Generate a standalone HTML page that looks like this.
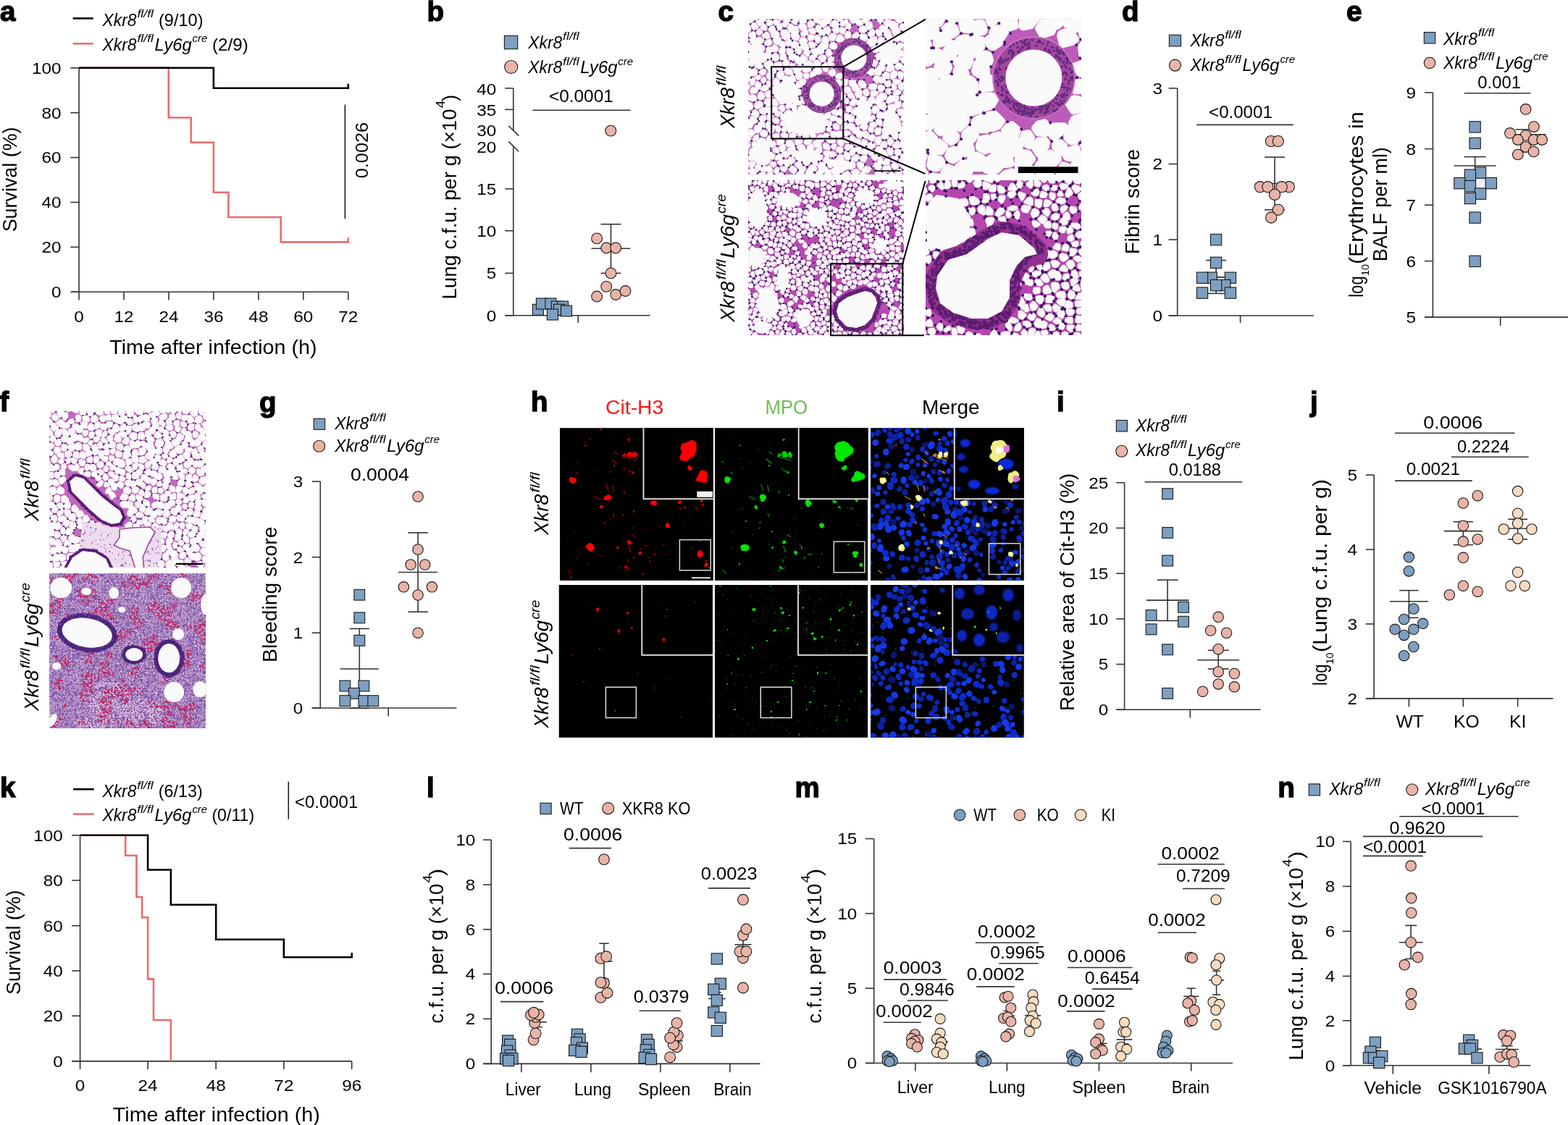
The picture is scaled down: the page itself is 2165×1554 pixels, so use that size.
<!DOCTYPE html><html><head><meta charset="utf-8"><title>Figure</title><style>html,body{margin:0;padding:0;background:#fff;}body{width:2165px;height:1554px;overflow:hidden;}svg{display:block;}</style></head><body><svg width="2165" height="1554" viewBox="0 0 2165 1554" font-family='"Liberation Sans", Arial, sans-serif'><text x="-0.1" y="29.2" font-size="38.6" font-weight="bold" stroke="#000" stroke-width="1.3">a</text>
<line x1="100.6" y1="25.4" x2="128.7" y2="25.4" stroke="#000" stroke-width="2.6"/>
<line x1="100.6" y1="60.3" x2="128.7" y2="60.3" stroke="#ec6b6b" stroke-width="2.6"/>
<text><tspan x="141.6" y="35.7" font-size="24" font-style="italic" textLength="47" lengthAdjust="spacingAndGlyphs">Xkr8</tspan><tspan x="189.4" y="24.1" font-size="14" font-style="italic" textLength="22.6" lengthAdjust="spacingAndGlyphs">fl/fl</tspan><tspan x="219" y="35.7" font-size="24" textLength="61.5" lengthAdjust="spacingAndGlyphs">(9/10)</tspan></text>
<text><tspan x="141.6" y="70" font-size="24" font-style="italic" textLength="47" lengthAdjust="spacingAndGlyphs">Xkr8</tspan><tspan x="189.4" y="58.4" font-size="14" font-style="italic" textLength="22.6" lengthAdjust="spacingAndGlyphs">fl/fl</tspan><tspan x="213.6" y="70" font-size="24" font-style="italic" textLength="51.2" lengthAdjust="spacingAndGlyphs">Ly6g</tspan><tspan x="265.6" y="58.4" font-size="14" font-style="italic" textLength="20.8" lengthAdjust="spacingAndGlyphs">cre</tspan><tspan x="293" y="70" font-size="24" textLength="49.8" lengthAdjust="spacingAndGlyphs">(2/9)</tspan></text>
<line x1="109.1" y1="93.8" x2="109.1" y2="403.2" stroke="#333333" stroke-width="1.6"/>
<line x1="97.3" y1="93.8" x2="109.1" y2="93.8" stroke="#333333" stroke-width="1.6"/>
<text x="84.6" y="101.7" font-size="22.5" text-anchor="end" textLength="40.54" lengthAdjust="spacingAndGlyphs">100</text>
<line x1="97.3" y1="155.68" x2="109.1" y2="155.68" stroke="#333333" stroke-width="1.6"/>
<text x="84.6" y="163.58" font-size="22.5" text-anchor="end" textLength="27.03" lengthAdjust="spacingAndGlyphs">80</text>
<line x1="97.3" y1="217.56" x2="109.1" y2="217.56" stroke="#333333" stroke-width="1.6"/>
<text x="84.6" y="225.46" font-size="22.5" text-anchor="end" textLength="27.03" lengthAdjust="spacingAndGlyphs">60</text>
<line x1="97.3" y1="279.44" x2="109.1" y2="279.44" stroke="#333333" stroke-width="1.6"/>
<text x="84.6" y="287.34" font-size="22.5" text-anchor="end" textLength="27.03" lengthAdjust="spacingAndGlyphs">40</text>
<line x1="97.3" y1="341.32" x2="109.1" y2="341.32" stroke="#333333" stroke-width="1.6"/>
<text x="84.6" y="349.22" font-size="22.5" text-anchor="end" textLength="27.03" lengthAdjust="spacingAndGlyphs">20</text>
<line x1="97.3" y1="403.2" x2="109.1" y2="403.2" stroke="#333333" stroke-width="1.6"/>
<text x="84.6" y="411.1" font-size="22.5" text-anchor="end" textLength="13.51" lengthAdjust="spacingAndGlyphs">0</text>
<line x1="98.5" y1="403.2" x2="480.8" y2="403.2" stroke="#333333" stroke-width="1.6"/>
<line x1="109.1" y1="403.2" x2="109.1" y2="414.4" stroke="#333333" stroke-width="1.6"/>
<line x1="171.05" y1="403.2" x2="171.05" y2="414.4" stroke="#333333" stroke-width="1.6"/>
<line x1="233" y1="403.2" x2="233" y2="414.4" stroke="#333333" stroke-width="1.6"/>
<line x1="294.95" y1="403.2" x2="294.95" y2="414.4" stroke="#333333" stroke-width="1.6"/>
<line x1="356.9" y1="403.2" x2="356.9" y2="414.4" stroke="#333333" stroke-width="1.6"/>
<line x1="418.85" y1="403.2" x2="418.85" y2="414.4" stroke="#333333" stroke-width="1.6"/>
<line x1="480.8" y1="403.2" x2="480.8" y2="414.4" stroke="#333333" stroke-width="1.6"/>
<text x="109.1" y="445" font-size="22.5" text-anchor="middle" textLength="13.51" lengthAdjust="spacingAndGlyphs">0</text>
<text x="171.05" y="445" font-size="22.5" text-anchor="middle" textLength="27.03" lengthAdjust="spacingAndGlyphs">12</text>
<text x="233" y="445" font-size="22.5" text-anchor="middle" textLength="27.03" lengthAdjust="spacingAndGlyphs">24</text>
<text x="294.95" y="445" font-size="22.5" text-anchor="middle" textLength="27.03" lengthAdjust="spacingAndGlyphs">36</text>
<text x="356.9" y="445" font-size="22.5" text-anchor="middle" textLength="27.03" lengthAdjust="spacingAndGlyphs">48</text>
<text x="418.85" y="445" font-size="22.5" text-anchor="middle" textLength="27.03" lengthAdjust="spacingAndGlyphs">60</text>
<text x="480.8" y="445" font-size="22.5" text-anchor="middle" textLength="27.03" lengthAdjust="spacingAndGlyphs">72</text>
<text x="151.2" y="489" font-size="27" textLength="286.5" lengthAdjust="spacingAndGlyphs">Time after infection (h)</text>
<text x="22.9" y="320.3" font-size="27" textLength="144.8" lengthAdjust="spacingAndGlyphs" transform="rotate(-90 22.9 320.3)">Survival (%)</text>
<path d="M109.1,93.8 H232.8 V162.5 H263.8 V196.7 H294.9 V265.7 H315.4 V300 H387.8 V334.4 H480.8 V328.3" stroke="#ec6b6b" stroke-width="2.6" fill="none" />
<path d="M109.1,93.8 H294.9 V121.8 H480.8 V115.8" stroke="#000" stroke-width="2.6" fill="none" />
<line x1="476.4" y1="144.5" x2="476.4" y2="302.3" stroke="#111" stroke-width="1.5"/>
<text x="508.3" y="246.2" font-size="24" textLength="77.2" lengthAdjust="spacingAndGlyphs" transform="rotate(-90 508.3 246.2)">0.0026</text>
<text x="589.4" y="28.9" font-size="38.6" font-weight="bold" stroke="#000" stroke-width="1.3">b</text>
<rect x="696.4" y="49.4" width="18.3" height="18.3" fill="#7d9fc1" stroke="#1a1a1a" stroke-width="1.1"/>
<circle cx="705.7" cy="92.5" r="9" fill="#e9b4a7" stroke="#1a1a1a" stroke-width="1.1"/>
<text><tspan x="729.3" y="66.8" font-size="24" font-style="italic" textLength="47" lengthAdjust="spacingAndGlyphs">Xkr8</tspan><tspan x="777.1" y="55.2" font-size="14" font-style="italic" textLength="22.6" lengthAdjust="spacingAndGlyphs">fl/fl</tspan></text>
<text><tspan x="729.3" y="101.4" font-size="24" font-style="italic" textLength="47" lengthAdjust="spacingAndGlyphs">Xkr8</tspan><tspan x="777.1" y="89.8" font-size="14" font-style="italic" textLength="22.6" lengthAdjust="spacingAndGlyphs">fl/fl</tspan><tspan x="801.3" y="101.4" font-size="24" font-style="italic" textLength="51.2" lengthAdjust="spacingAndGlyphs">Ly6g</tspan><tspan x="853.3" y="89.8" font-size="14" font-style="italic" textLength="20.8" lengthAdjust="spacingAndGlyphs">cre</tspan></text>
<line x1="708.8" y1="121.9" x2="708.8" y2="180.3" stroke="#333333" stroke-width="1.6"/>
<line x1="708.8" y1="201.9" x2="708.8" y2="435.8" stroke="#333333" stroke-width="1.6"/>
<line x1="702.2" y1="173.8" x2="716.3" y2="187.6" stroke="#333333" stroke-width="1.6"/>
<line x1="702.2" y1="195.4" x2="716.3" y2="209.2" stroke="#333333" stroke-width="1.6"/>
<line x1="697.2" y1="121.9" x2="708.8" y2="121.9" stroke="#333333" stroke-width="1.6"/>
<line x1="697.2" y1="151.3" x2="708.8" y2="151.3" stroke="#333333" stroke-width="1.6"/>
<line x1="697.2" y1="260.9" x2="708.8" y2="260.9" stroke="#333333" stroke-width="1.6"/>
<line x1="697.2" y1="318.7" x2="708.8" y2="318.7" stroke="#333333" stroke-width="1.6"/>
<line x1="697.2" y1="377.4" x2="708.8" y2="377.4" stroke="#333333" stroke-width="1.6"/>
<line x1="697.2" y1="435.8" x2="708.8" y2="435.8" stroke="#333333" stroke-width="1.6"/>
<text x="685.3" y="131.4" font-size="22.5" text-anchor="end" textLength="27.03" lengthAdjust="spacingAndGlyphs">40</text>
<text x="685.3" y="159.6" font-size="22.5" text-anchor="end" textLength="27.03" lengthAdjust="spacingAndGlyphs">35</text>
<text x="685.3" y="188.2" font-size="22.5" text-anchor="end" textLength="27.03" lengthAdjust="spacingAndGlyphs">30</text>
<text x="685.3" y="210.8" font-size="22.5" text-anchor="end" textLength="27.03" lengthAdjust="spacingAndGlyphs">20</text>
<text x="685.3" y="268.8" font-size="22.5" text-anchor="end" textLength="27.03" lengthAdjust="spacingAndGlyphs">15</text>
<text x="685.3" y="326.6" font-size="22.5" text-anchor="end" textLength="27.03" lengthAdjust="spacingAndGlyphs">10</text>
<text x="685.3" y="385.3" font-size="22.5" text-anchor="end" textLength="13.51" lengthAdjust="spacingAndGlyphs">5</text>
<text x="685.3" y="443.7" font-size="22.5" text-anchor="end" textLength="13.51" lengthAdjust="spacingAndGlyphs">0</text>
<line x1="697.2" y1="435.8" x2="897.6" y2="435.8" stroke="#333333" stroke-width="1.6"/>
<line x1="798.3" y1="435.8" x2="798.3" y2="446" stroke="#333333" stroke-width="1.6"/>
<text x="757.9" y="140.5" font-size="23" textLength="89" lengthAdjust="spacingAndGlyphs">&lt;0.0001</text>
<line x1="735.4" y1="152.3" x2="870.6" y2="152.3" stroke="#333333" stroke-width="1.6"/>
<text transform="rotate(-90 629.8 413.5)"><tspan x="629.8" y="413.5" font-size="27" textLength="263" lengthAdjust="spacingAndGlyphs">Lung c.f.u. per g (×10</tspan><tspan x="893.8" y="397.5" font-size="16" textLength="11" lengthAdjust="spacingAndGlyphs">4</tspan><tspan x="903.5" y="413.5" font-size="27" textLength="9" lengthAdjust="spacingAndGlyphs">)</tspan></text>
<line x1="843.5" y1="309.7" x2="843.5" y2="377.4" stroke="#333333" stroke-width="1.6"/>
<line x1="816.6" y1="343.3" x2="870.4" y2="343.3" stroke="#333333" stroke-width="1.6"/>
<line x1="829.6" y1="309.7" x2="857.4" y2="309.7" stroke="#333333" stroke-width="1.6"/>
<line x1="829.6" y1="377.4" x2="857.4" y2="377.4" stroke="#333333" stroke-width="1.6"/>
<rect x="735.4" y="420.3" width="15" height="15" fill="#7d9fc1" stroke="#1a1a1a" stroke-width="1.1"/>
<rect x="740.4" y="412" width="15" height="15" fill="#7d9fc1" stroke="#1a1a1a" stroke-width="1.1"/>
<rect x="752.9" y="412" width="15" height="15" fill="#7d9fc1" stroke="#1a1a1a" stroke-width="1.1"/>
<rect x="761.2" y="416.1" width="15" height="15" fill="#7d9fc1" stroke="#1a1a1a" stroke-width="1.1"/>
<rect x="769.5" y="416.1" width="15" height="15" fill="#7d9fc1" stroke="#1a1a1a" stroke-width="1.1"/>
<rect x="764.5" y="420.3" width="15" height="15" fill="#7d9fc1" stroke="#1a1a1a" stroke-width="1.1"/>
<rect x="774.5" y="422" width="15" height="15" fill="#7d9fc1" stroke="#1a1a1a" stroke-width="1.1"/>
<rect x="755.4" y="427" width="15" height="15" fill="#7d9fc1" stroke="#1a1a1a" stroke-width="1.1"/>
<circle cx="843.3" cy="180.6" r="7.4" fill="#e9b4a7" stroke="#1a1a1a" stroke-width="1.1"/>
<circle cx="824.1" cy="329.4" r="7.4" fill="#e9b4a7" stroke="#1a1a1a" stroke-width="1.1"/>
<circle cx="837.2" cy="342.5" r="7.4" fill="#e9b4a7" stroke="#1a1a1a" stroke-width="1.1"/>
<circle cx="850.2" cy="342.5" r="7.4" fill="#e9b4a7" stroke="#1a1a1a" stroke-width="1.1"/>
<circle cx="843.5" cy="377.4" r="7.4" fill="#e9b4a7" stroke="#1a1a1a" stroke-width="1.1"/>
<circle cx="837.2" cy="395.9" r="7.4" fill="#e9b4a7" stroke="#1a1a1a" stroke-width="1.1"/>
<circle cx="824.1" cy="409.5" r="7.4" fill="#e9b4a7" stroke="#1a1a1a" stroke-width="1.1"/>
<circle cx="850.2" cy="407" r="7.4" fill="#e9b4a7" stroke="#1a1a1a" stroke-width="1.1"/>
<circle cx="863.5" cy="402" r="7.4" fill="#e9b4a7" stroke="#1a1a1a" stroke-width="1.1"/>
<text x="1548.9" y="29" font-size="38.6" font-weight="bold" stroke="#000" stroke-width="1.3">d</text>
<rect x="1614.4" y="48.3" width="16.1" height="15.6" fill="#7d9fc1" stroke="#1a1a1a" stroke-width="1.1"/>
<circle cx="1622.5" cy="90.1" r="8" fill="#e9b4a7" stroke="#1a1a1a" stroke-width="1.1"/>
<text><tspan x="1643.4" y="64.3" font-size="24" font-style="italic" textLength="47" lengthAdjust="spacingAndGlyphs">Xkr8</tspan><tspan x="1691.2" y="52.7" font-size="14" font-style="italic" textLength="22.6" lengthAdjust="spacingAndGlyphs">fl/fl</tspan></text>
<text><tspan x="1643.4" y="98.1" font-size="24" font-style="italic" textLength="47" lengthAdjust="spacingAndGlyphs">Xkr8</tspan><tspan x="1691.2" y="86.5" font-size="14" font-style="italic" textLength="22.6" lengthAdjust="spacingAndGlyphs">fl/fl</tspan><tspan x="1715.4" y="98.1" font-size="24" font-style="italic" textLength="51.2" lengthAdjust="spacingAndGlyphs">Ly6g</tspan><tspan x="1767.4" y="86.5" font-size="14" font-style="italic" textLength="20.8" lengthAdjust="spacingAndGlyphs">cre</tspan></text>
<line x1="1625.7" y1="121.9" x2="1625.7" y2="436" stroke="#333333" stroke-width="1.6"/>
<line x1="1613.6" y1="121.9" x2="1625.7" y2="121.9" stroke="#333333" stroke-width="1.6"/>
<text x="1605" y="129.8" font-size="22.5" text-anchor="end" textLength="13.51" lengthAdjust="spacingAndGlyphs">3</text>
<line x1="1613.6" y1="226.5" x2="1625.7" y2="226.5" stroke="#333333" stroke-width="1.6"/>
<text x="1605" y="234.4" font-size="22.5" text-anchor="end" textLength="13.51" lengthAdjust="spacingAndGlyphs">2</text>
<line x1="1613.6" y1="331.1" x2="1625.7" y2="331.1" stroke="#333333" stroke-width="1.6"/>
<text x="1605" y="339" font-size="22.5" text-anchor="end" textLength="13.51" lengthAdjust="spacingAndGlyphs">1</text>
<line x1="1613.6" y1="436" x2="1625.7" y2="436" stroke="#333333" stroke-width="1.6"/>
<text x="1605" y="443.9" font-size="22.5" text-anchor="end" textLength="13.51" lengthAdjust="spacingAndGlyphs">0</text>
<line x1="1613.6" y1="436" x2="1813.9" y2="436" stroke="#333333" stroke-width="1.6"/>
<line x1="1712.6" y1="436" x2="1712.6" y2="446.1" stroke="#333333" stroke-width="1.6"/>
<text x="1669.1" y="162.8" font-size="23" textLength="87.7" lengthAdjust="spacingAndGlyphs">&lt;0.0001</text>
<line x1="1652.2" y1="172.4" x2="1785.7" y2="172.4" stroke="#333333" stroke-width="1.6"/>
<text x="1573.4" y="351.2" font-size="27" textLength="145.3" lengthAdjust="spacingAndGlyphs" transform="rotate(-90 1573.4 351.2)">Fibrin score</text>
<line x1="1679.1" y1="359.6" x2="1679.1" y2="405.4" stroke="#333333" stroke-width="1.6"/>
<line x1="1652.1" y1="382.9" x2="1706.1" y2="382.9" stroke="#333333" stroke-width="1.6"/>
<line x1="1665.1" y1="359.6" x2="1693.1" y2="359.6" stroke="#333333" stroke-width="1.6"/>
<line x1="1665.1" y1="405.4" x2="1693.1" y2="405.4" stroke="#333333" stroke-width="1.6"/>
<line x1="1760" y1="217.1" x2="1760" y2="289.8" stroke="#333333" stroke-width="1.6"/>
<line x1="1733" y1="253.5" x2="1787" y2="253.5" stroke="#333333" stroke-width="1.6"/>
<line x1="1746" y1="217.1" x2="1774" y2="217.1" stroke="#333333" stroke-width="1.6"/>
<line x1="1746" y1="289.8" x2="1774" y2="289.8" stroke="#333333" stroke-width="1.6"/>
<rect x="1671.45" y="323.45" width="15.3" height="15.3" fill="#7d9fc1" stroke="#1a1a1a" stroke-width="1.1"/>
<rect x="1671.45" y="355.15" width="15.3" height="15.3" fill="#7d9fc1" stroke="#1a1a1a" stroke-width="1.1"/>
<rect x="1665.05" y="376.05" width="15.3" height="15.3" fill="#7d9fc1" stroke="#1a1a1a" stroke-width="1.1"/>
<rect x="1652.35" y="376.05" width="15.3" height="15.3" fill="#7d9fc1" stroke="#1a1a1a" stroke-width="1.1"/>
<rect x="1691.25" y="376.05" width="15.3" height="15.3" fill="#7d9fc1" stroke="#1a1a1a" stroke-width="1.1"/>
<rect x="1683.65" y="386.45" width="15.3" height="15.3" fill="#7d9fc1" stroke="#1a1a1a" stroke-width="1.1"/>
<rect x="1671.45" y="386.45" width="15.3" height="15.3" fill="#7d9fc1" stroke="#1a1a1a" stroke-width="1.1"/>
<rect x="1652.35" y="396.95" width="15.3" height="15.3" fill="#7d9fc1" stroke="#1a1a1a" stroke-width="1.1"/>
<rect x="1691.25" y="396.95" width="15.3" height="15.3" fill="#7d9fc1" stroke="#1a1a1a" stroke-width="1.1"/>
<circle cx="1754.9" cy="195.1" r="7.6" fill="#e9b4a7" stroke="#1a1a1a" stroke-width="1.1"/>
<circle cx="1764.8" cy="195.1" r="7.6" fill="#e9b4a7" stroke="#1a1a1a" stroke-width="1.1"/>
<circle cx="1739.9" cy="258.2" r="7.6" fill="#e9b4a7" stroke="#1a1a1a" stroke-width="1.1"/>
<circle cx="1750.4" cy="258.2" r="7.6" fill="#e9b4a7" stroke="#1a1a1a" stroke-width="1.1"/>
<circle cx="1779.8" cy="258.2" r="7.6" fill="#e9b4a7" stroke="#1a1a1a" stroke-width="1.1"/>
<circle cx="1769.7" cy="258.2" r="7.6" fill="#e9b4a7" stroke="#1a1a1a" stroke-width="1.1"/>
<circle cx="1760" cy="268.8" r="7.6" fill="#e9b4a7" stroke="#1a1a1a" stroke-width="1.1"/>
<circle cx="1764.8" cy="289.8" r="7.6" fill="#e9b4a7" stroke="#1a1a1a" stroke-width="1.1"/>
<circle cx="1755.2" cy="300.5" r="7.6" fill="#e9b4a7" stroke="#1a1a1a" stroke-width="1.1"/>
<text x="1858.9" y="29" font-size="38.6" font-weight="bold" stroke="#000" stroke-width="1.3">e</text>
<rect x="1966.3" y="44.6" width="15.3" height="15.4" fill="#7d9fc1" stroke="#1a1a1a" stroke-width="1.1"/>
<circle cx="1974" cy="86.9" r="7.7" fill="#e9b4a7" stroke="#1a1a1a" stroke-width="1.1"/>
<text><tspan x="1992.9" y="61.6" font-size="24" font-style="italic" textLength="47" lengthAdjust="spacingAndGlyphs">Xkr8</tspan><tspan x="2040.7" y="50" font-size="14" font-style="italic" textLength="22.6" lengthAdjust="spacingAndGlyphs">fl/fl</tspan></text>
<text><tspan x="1992.9" y="94.9" font-size="24" font-style="italic" textLength="47" lengthAdjust="spacingAndGlyphs">Xkr8</tspan><tspan x="2040.7" y="83.3" font-size="14" font-style="italic" textLength="22.6" lengthAdjust="spacingAndGlyphs">fl/fl</tspan><tspan x="2064.9" y="94.9" font-size="24" font-style="italic" textLength="51.2" lengthAdjust="spacingAndGlyphs">Ly6g</tspan><tspan x="2116.9" y="83.3" font-size="14" font-style="italic" textLength="20.8" lengthAdjust="spacingAndGlyphs">cre</tspan></text>
<line x1="1978.4" y1="127.9" x2="1978.4" y2="438.1" stroke="#333333" stroke-width="1.6"/>
<line x1="1967.1" y1="127.9" x2="1978.4" y2="127.9" stroke="#333333" stroke-width="1.6"/>
<text x="1955" y="135.8" font-size="22.5" text-anchor="end" textLength="13.51" lengthAdjust="spacingAndGlyphs">9</text>
<line x1="1967.1" y1="205.6" x2="1978.4" y2="205.6" stroke="#333333" stroke-width="1.6"/>
<text x="1955" y="213.5" font-size="22.5" text-anchor="end" textLength="13.51" lengthAdjust="spacingAndGlyphs">8</text>
<line x1="1967.1" y1="283.2" x2="1978.4" y2="283.2" stroke="#333333" stroke-width="1.6"/>
<text x="1955" y="291.1" font-size="22.5" text-anchor="end" textLength="13.51" lengthAdjust="spacingAndGlyphs">7</text>
<line x1="1967.1" y1="360.6" x2="1978.4" y2="360.6" stroke="#333333" stroke-width="1.6"/>
<text x="1955" y="368.5" font-size="22.5" text-anchor="end" textLength="13.51" lengthAdjust="spacingAndGlyphs">6</text>
<line x1="1967.1" y1="438.1" x2="1978.4" y2="438.1" stroke="#333333" stroke-width="1.6"/>
<text x="1955" y="446" font-size="22.5" text-anchor="end" textLength="13.51" lengthAdjust="spacingAndGlyphs">5</text>
<line x1="1967.1" y1="438.1" x2="2165" y2="438.1" stroke="#333333" stroke-width="1.6"/>
<line x1="2071.7" y1="438.1" x2="2071.7" y2="450.1" stroke="#333333" stroke-width="1.6"/>
<text x="2040.3" y="121.5" font-size="23" textLength="59.6" lengthAdjust="spacingAndGlyphs">0.001</text>
<line x1="2021.8" y1="128.7" x2="2113.5" y2="128.7" stroke="#333333" stroke-width="1.6"/>
<text transform="rotate(-90 1882.2 410.8)"><tspan x="1882.2" y="410.8" font-size="27" textLength="29.5" lengthAdjust="spacingAndGlyphs">log</tspan><tspan x="1912" y="418.8" font-size="15.5" textLength="16" lengthAdjust="spacingAndGlyphs">10</tspan><tspan x="1928" y="410.8" font-size="27" textLength="210.5" lengthAdjust="spacingAndGlyphs">(Erythrocytes in</tspan></text>
<text x="1915" y="361.2" font-size="27" textLength="158" lengthAdjust="spacingAndGlyphs" transform="rotate(-90 1915 361.2)">BALF per ml)</text>
<line x1="2036.6" y1="216.6" x2="2036.6" y2="241.4" stroke="#333333" stroke-width="1.6"/>
<line x1="2007.6" y1="229" x2="2065.6" y2="229" stroke="#333333" stroke-width="1.6"/>
<line x1="2021.6" y1="216.6" x2="2051.6" y2="216.6" stroke="#333333" stroke-width="1.6"/>
<line x1="2021.6" y1="241.4" x2="2051.6" y2="241.4" stroke="#333333" stroke-width="1.6"/>
<line x1="2106.6" y1="178.9" x2="2106.6" y2="192.7" stroke="#333333" stroke-width="1.6"/>
<line x1="2078.6" y1="185.8" x2="2134.6" y2="185.8" stroke="#333333" stroke-width="1.6"/>
<line x1="2092.6" y1="178.9" x2="2120.6" y2="178.9" stroke="#333333" stroke-width="1.6"/>
<line x1="2092.6" y1="192.7" x2="2120.6" y2="192.7" stroke="#333333" stroke-width="1.6"/>
<rect x="2036.35" y="245.45" width="15.3" height="15.3" fill="#eef0f3" stroke="#1a1a1a" stroke-width="1.1"/>
<rect x="2028.95" y="167.75" width="15.3" height="15.3" fill="#7d9fc1" stroke="#1a1a1a" stroke-width="1.1"/>
<rect x="2028.95" y="190.25" width="15.3" height="15.3" fill="#7d9fc1" stroke="#1a1a1a" stroke-width="1.1"/>
<rect x="2036.35" y="230.95" width="15.3" height="15.3" fill="#7d9fc1" stroke="#1a1a1a" stroke-width="1.1"/>
<rect x="2022.25" y="234.15" width="15.3" height="15.3" fill="#7d9fc1" stroke="#1a1a1a" stroke-width="1.1"/>
<rect x="2007.75" y="245.45" width="15.3" height="15.3" fill="#7d9fc1" stroke="#1a1a1a" stroke-width="1.1"/>
<rect x="2051.15" y="245.45" width="15.3" height="15.3" fill="#7d9fc1" stroke="#1a1a1a" stroke-width="1.1"/>
<rect x="2022.25" y="249.45" width="15.3" height="15.3" fill="#7d9fc1" stroke="#1a1a1a" stroke-width="1.1"/>
<rect x="2036.35" y="259.95" width="15.3" height="15.3" fill="#7d9fc1" stroke="#1a1a1a" stroke-width="1.1"/>
<rect x="2022.25" y="266.35" width="15.3" height="15.3" fill="#7d9fc1" stroke="#1a1a1a" stroke-width="1.1"/>
<rect x="2028.95" y="292.95" width="15.3" height="15.3" fill="#7d9fc1" stroke="#1a1a1a" stroke-width="1.1"/>
<rect x="2028.95" y="353.25" width="15.3" height="15.3" fill="#7d9fc1" stroke="#1a1a1a" stroke-width="1.1"/>
<circle cx="2106.6" cy="150.9" r="7.3" fill="#e9b4a7" stroke="#1a1a1a" stroke-width="1.1"/>
<circle cx="2117.9" cy="175.1" r="7.3" fill="#e9b4a7" stroke="#1a1a1a" stroke-width="1.1"/>
<circle cx="2085" cy="183.9" r="7.3" fill="#e9b4a7" stroke="#1a1a1a" stroke-width="1.1"/>
<circle cx="2106.6" cy="187" r="7.3" fill="#e9b4a7" stroke="#1a1a1a" stroke-width="1.1"/>
<circle cx="2095.8" cy="193.1" r="7.3" fill="#e9b4a7" stroke="#1a1a1a" stroke-width="1.1"/>
<circle cx="2117.6" cy="193.1" r="7.3" fill="#e9b4a7" stroke="#1a1a1a" stroke-width="1.1"/>
<circle cx="2129.1" cy="193.1" r="7.3" fill="#e9b4a7" stroke="#1a1a1a" stroke-width="1.1"/>
<circle cx="2106.6" cy="203.1" r="7.3" fill="#e9b4a7" stroke="#1a1a1a" stroke-width="1.1"/>
<circle cx="2117.6" cy="209.5" r="7.3" fill="#e9b4a7" stroke="#1a1a1a" stroke-width="1.1"/>
<circle cx="2095.8" cy="213.5" r="7.3" fill="#e9b4a7" stroke="#1a1a1a" stroke-width="1.1"/>
<text x="357.9" y="569.3" font-size="38.6" font-weight="bold" stroke="#000" stroke-width="1.3">g</text>
<rect x="433.3" y="578.2" width="15.4" height="15.2" fill="#7d9fc1" stroke="#1a1a1a" stroke-width="1.1"/>
<circle cx="440.7" cy="616.2" r="8" fill="#e9b4a7" stroke="#1a1a1a" stroke-width="1.1"/>
<text><tspan x="462.2" y="593.4" font-size="24" font-style="italic" textLength="47" lengthAdjust="spacingAndGlyphs">Xkr8</tspan><tspan x="510" y="581.8" font-size="14" font-style="italic" textLength="22.6" lengthAdjust="spacingAndGlyphs">fl/fl</tspan></text>
<text><tspan x="462.2" y="623.9" font-size="24" font-style="italic" textLength="47" lengthAdjust="spacingAndGlyphs">Xkr8</tspan><tspan x="510" y="612.3" font-size="14" font-style="italic" textLength="22.6" lengthAdjust="spacingAndGlyphs">fl/fl</tspan><tspan x="534.2" y="623.9" font-size="24" font-style="italic" textLength="51.2" lengthAdjust="spacingAndGlyphs">Ly6g</tspan><tspan x="586.2" y="612.3" font-size="14" font-style="italic" textLength="20.8" lengthAdjust="spacingAndGlyphs">cre</tspan></text>
<text x="484" y="663.9" font-size="23.5" textLength="81" lengthAdjust="spacingAndGlyphs">0.0004</text>
<line x1="442.3" y1="665.1" x2="442.3" y2="978" stroke="#333333" stroke-width="1.6"/>
<line x1="430.7" y1="665.1" x2="442.3" y2="665.1" stroke="#333333" stroke-width="1.6"/>
<text x="418.2" y="673" font-size="22.5" text-anchor="end" textLength="13.51" lengthAdjust="spacingAndGlyphs">3</text>
<line x1="430.7" y1="769.6" x2="442.3" y2="769.6" stroke="#333333" stroke-width="1.6"/>
<text x="418.2" y="777.5" font-size="22.5" text-anchor="end" textLength="13.51" lengthAdjust="spacingAndGlyphs">2</text>
<line x1="430.7" y1="874.2" x2="442.3" y2="874.2" stroke="#333333" stroke-width="1.6"/>
<text x="418.2" y="882.1" font-size="22.5" text-anchor="end" textLength="13.51" lengthAdjust="spacingAndGlyphs">1</text>
<line x1="430.7" y1="978" x2="442.3" y2="978" stroke="#333333" stroke-width="1.6"/>
<text x="418.2" y="985.9" font-size="22.5" text-anchor="end" textLength="13.51" lengthAdjust="spacingAndGlyphs">0</text>
<line x1="430.7" y1="978" x2="630.5" y2="978" stroke="#333333" stroke-width="1.6"/>
<line x1="536.2" y1="978" x2="536.2" y2="989.5" stroke="#333333" stroke-width="1.6"/>
<text x="382.2" y="915" font-size="27" textLength="187.5" lengthAdjust="spacingAndGlyphs" transform="rotate(-90 382.2 915)">Bleeding score</text>
<line x1="496.3" y1="868.4" x2="496.3" y2="978" stroke="#333333" stroke-width="1.6"/>
<line x1="469.6" y1="924" x2="523" y2="924" stroke="#333333" stroke-width="1.6"/>
<line x1="482.8" y1="868.4" x2="509.8" y2="868.4" stroke="#333333" stroke-width="1.6"/>
<line x1="482.8" y1="978" x2="509.8" y2="978" stroke="#333333" stroke-width="1.6"/>
<line x1="577.1" y1="735.9" x2="577.1" y2="845.2" stroke="#333333" stroke-width="1.6"/>
<line x1="550.1" y1="790.5" x2="604.1" y2="790.5" stroke="#333333" stroke-width="1.6"/>
<line x1="563.4" y1="735.9" x2="590.8" y2="735.9" stroke="#333333" stroke-width="1.6"/>
<line x1="563.4" y1="845.2" x2="590.8" y2="845.2" stroke="#333333" stroke-width="1.6"/>
<rect x="488.9" y="814.3" width="14.8" height="14.8" fill="#7d9fc1" stroke="#1a1a1a" stroke-width="1.1"/>
<rect x="488.9" y="845.9" width="14.8" height="14.8" fill="#7d9fc1" stroke="#1a1a1a" stroke-width="1.1"/>
<rect x="488.9" y="877.4" width="14.8" height="14.8" fill="#7d9fc1" stroke="#1a1a1a" stroke-width="1.1"/>
<rect x="469" y="940.1" width="14.8" height="14.8" fill="#7d9fc1" stroke="#1a1a1a" stroke-width="1.1"/>
<rect x="495" y="940.1" width="14.8" height="14.8" fill="#7d9fc1" stroke="#1a1a1a" stroke-width="1.1"/>
<rect x="481.5" y="950.4" width="14.8" height="14.8" fill="#7d9fc1" stroke="#1a1a1a" stroke-width="1.1"/>
<rect x="469" y="960.7" width="14.8" height="14.8" fill="#7d9fc1" stroke="#1a1a1a" stroke-width="1.1"/>
<rect x="495" y="960.7" width="14.8" height="14.8" fill="#7d9fc1" stroke="#1a1a1a" stroke-width="1.1"/>
<rect x="507.9" y="960.7" width="14.8" height="14.8" fill="#7d9fc1" stroke="#1a1a1a" stroke-width="1.1"/>
<circle cx="577.1" cy="686" r="7.2" fill="#e9b4a7" stroke="#1a1a1a" stroke-width="1.1"/>
<circle cx="577.1" cy="759" r="7.2" fill="#e9b4a7" stroke="#1a1a1a" stroke-width="1.1"/>
<circle cx="567.1" cy="780" r="7.2" fill="#e9b4a7" stroke="#1a1a1a" stroke-width="1.1"/>
<circle cx="586.7" cy="780" r="7.2" fill="#e9b4a7" stroke="#1a1a1a" stroke-width="1.1"/>
<circle cx="557.4" cy="810.8" r="7.2" fill="#e9b4a7" stroke="#1a1a1a" stroke-width="1.1"/>
<circle cx="596.4" cy="810.8" r="7.2" fill="#e9b4a7" stroke="#1a1a1a" stroke-width="1.1"/>
<circle cx="577.1" cy="822" r="7.2" fill="#e9b4a7" stroke="#1a1a1a" stroke-width="1.1"/>
<circle cx="577.1" cy="874.2" r="7.2" fill="#e9b4a7" stroke="#1a1a1a" stroke-width="1.1"/>
<text x="1458.9" y="568.3" font-size="38.6" font-weight="bold" stroke="#000" stroke-width="1.3">i</text>
<rect x="1541.3" y="580.5" width="15.1" height="15.5" fill="#7d9fc1" stroke="#1a1a1a" stroke-width="1.1"/>
<circle cx="1548.7" cy="623.3" r="8" fill="#e9b4a7" stroke="#1a1a1a" stroke-width="1.1"/>
<text><tspan x="1568" y="596" font-size="24" font-style="italic" textLength="47" lengthAdjust="spacingAndGlyphs">Xkr8</tspan><tspan x="1615.8" y="584.4" font-size="14" font-style="italic" textLength="22.6" lengthAdjust="spacingAndGlyphs">fl/fl</tspan></text>
<text><tspan x="1568" y="630.4" font-size="24" font-style="italic" textLength="47" lengthAdjust="spacingAndGlyphs">Xkr8</tspan><tspan x="1615.8" y="618.8" font-size="14" font-style="italic" textLength="22.6" lengthAdjust="spacingAndGlyphs">fl/fl</tspan><tspan x="1640" y="630.4" font-size="24" font-style="italic" textLength="51.2" lengthAdjust="spacingAndGlyphs">Ly6g</tspan><tspan x="1692" y="618.8" font-size="14" font-style="italic" textLength="20.8" lengthAdjust="spacingAndGlyphs">cre</tspan></text>
<text x="1613.7" y="657" font-size="23.5" textLength="72.3" lengthAdjust="spacingAndGlyphs">0.0188</text>
<line x1="1580.6" y1="665.7" x2="1715" y2="665.7" stroke="#333333" stroke-width="1.6"/>
<line x1="1552.6" y1="666.7" x2="1552.6" y2="980.3" stroke="#333333" stroke-width="1.6"/>
<line x1="1541.3" y1="666.7" x2="1552.6" y2="666.7" stroke="#333333" stroke-width="1.6"/>
<text x="1530.4" y="674.6" font-size="22.5" text-anchor="end" textLength="27.03" lengthAdjust="spacingAndGlyphs">25</text>
<line x1="1541.3" y1="729.42" x2="1552.6" y2="729.42" stroke="#333333" stroke-width="1.6"/>
<text x="1530.4" y="737.32" font-size="22.5" text-anchor="end" textLength="27.03" lengthAdjust="spacingAndGlyphs">20</text>
<line x1="1541.3" y1="792.14" x2="1552.6" y2="792.14" stroke="#333333" stroke-width="1.6"/>
<text x="1530.4" y="800.04" font-size="22.5" text-anchor="end" textLength="27.03" lengthAdjust="spacingAndGlyphs">15</text>
<line x1="1541.3" y1="854.86" x2="1552.6" y2="854.86" stroke="#333333" stroke-width="1.6"/>
<text x="1530.4" y="862.76" font-size="22.5" text-anchor="end" textLength="27.03" lengthAdjust="spacingAndGlyphs">10</text>
<line x1="1541.3" y1="917.58" x2="1552.6" y2="917.58" stroke="#333333" stroke-width="1.6"/>
<text x="1530.4" y="925.48" font-size="22.5" text-anchor="end" textLength="13.51" lengthAdjust="spacingAndGlyphs">5</text>
<line x1="1541.3" y1="980.3" x2="1552.6" y2="980.3" stroke="#333333" stroke-width="1.6"/>
<text x="1530.4" y="988.2" font-size="22.5" text-anchor="end" textLength="13.51" lengthAdjust="spacingAndGlyphs">0</text>
<line x1="1541.3" y1="980.3" x2="1740.7" y2="980.3" stroke="#333333" stroke-width="1.6"/>
<line x1="1643.3" y1="980.3" x2="1643.3" y2="991.6" stroke="#333333" stroke-width="1.6"/>
<text x="1483.3" y="981.9" font-size="27.5" textLength="328.1" lengthAdjust="spacingAndGlyphs" transform="rotate(-90 1483.3 981.9)">Relative area of Cit-H3 (%)</text>
<line x1="1612.1" y1="801.1" x2="1612.1" y2="857.4" stroke="#333333" stroke-width="1.6"/>
<line x1="1582.8" y1="829.1" x2="1641.4" y2="829.1" stroke="#333333" stroke-width="1.6"/>
<line x1="1597.6" y1="801.1" x2="1626.6" y2="801.1" stroke="#333333" stroke-width="1.6"/>
<line x1="1597.6" y1="857.4" x2="1626.6" y2="857.4" stroke="#333333" stroke-width="1.6"/>
<line x1="1682.2" y1="898.3" x2="1682.2" y2="924" stroke="#333333" stroke-width="1.6"/>
<line x1="1653.2" y1="911.8" x2="1711.2" y2="911.8" stroke="#333333" stroke-width="1.6"/>
<line x1="1667.7" y1="898.3" x2="1696.7" y2="898.3" stroke="#333333" stroke-width="1.6"/>
<line x1="1667.7" y1="924" x2="1696.7" y2="924" stroke="#333333" stroke-width="1.6"/>
<rect x="1604.7" y="674.7" width="14.8" height="14.8" fill="#7d9fc1" stroke="#1a1a1a" stroke-width="1.1"/>
<rect x="1604.7" y="728.5" width="14.8" height="14.8" fill="#7d9fc1" stroke="#1a1a1a" stroke-width="1.1"/>
<rect x="1604.7" y="767.1" width="14.8" height="14.8" fill="#7d9fc1" stroke="#1a1a1a" stroke-width="1.1"/>
<rect x="1626.6" y="831.4" width="14.8" height="14.8" fill="#7d9fc1" stroke="#1a1a1a" stroke-width="1.1"/>
<rect x="1582.2" y="842.6" width="14.8" height="14.8" fill="#7d9fc1" stroke="#1a1a1a" stroke-width="1.1"/>
<rect x="1626.6" y="851.3" width="14.8" height="14.8" fill="#7d9fc1" stroke="#1a1a1a" stroke-width="1.1"/>
<rect x="1582.2" y="861.9" width="14.8" height="14.8" fill="#7d9fc1" stroke="#1a1a1a" stroke-width="1.1"/>
<rect x="1604.7" y="889.9" width="14.8" height="14.8" fill="#7d9fc1" stroke="#1a1a1a" stroke-width="1.1"/>
<rect x="1604.7" y="950.4" width="14.8" height="14.8" fill="#7d9fc1" stroke="#1a1a1a" stroke-width="1.1"/>
<circle cx="1682.2" cy="852.3" r="7.2" fill="#e9b4a7" stroke="#1a1a1a" stroke-width="1.1"/>
<circle cx="1671.6" cy="871" r="7.2" fill="#e9b4a7" stroke="#1a1a1a" stroke-width="1.1"/>
<circle cx="1693.5" cy="874.2" r="7.2" fill="#e9b4a7" stroke="#1a1a1a" stroke-width="1.1"/>
<circle cx="1682.2" cy="896.7" r="7.2" fill="#e9b4a7" stroke="#1a1a1a" stroke-width="1.1"/>
<circle cx="1682.2" cy="927.9" r="7.2" fill="#e9b4a7" stroke="#1a1a1a" stroke-width="1.1"/>
<circle cx="1704.4" cy="930.5" r="7.2" fill="#e9b4a7" stroke="#1a1a1a" stroke-width="1.1"/>
<circle cx="1682.2" cy="944.9" r="7.2" fill="#e9b4a7" stroke="#1a1a1a" stroke-width="1.1"/>
<circle cx="1704.4" cy="948.8" r="7.2" fill="#e9b4a7" stroke="#1a1a1a" stroke-width="1.1"/>
<circle cx="1660.6" cy="955.2" r="7.2" fill="#e9b4a7" stroke="#1a1a1a" stroke-width="1.1"/>
<text x="1808.9" y="568.3" font-size="38.6" font-weight="bold" stroke="#000" stroke-width="1.3">j</text>
<text x="1965.3" y="591.8" font-size="23.5" textLength="82" lengthAdjust="spacingAndGlyphs">0.0006</text>
<line x1="1926" y1="598.2" x2="2091.4" y2="598.2" stroke="#333333" stroke-width="1.6"/>
<text x="2011.9" y="624.9" font-size="23.5" textLength="72.4" lengthAdjust="spacingAndGlyphs">0.2224</text>
<line x1="2003.9" y1="631.3" x2="2110.7" y2="631.3" stroke="#333333" stroke-width="1.6"/>
<text x="1941.8" y="656.1" font-size="23.5" textLength="74.3" lengthAdjust="spacingAndGlyphs">0.0021</text>
<line x1="1926" y1="664.1" x2="2032.8" y2="664.1" stroke="#333333" stroke-width="1.6"/>
<line x1="1897.1" y1="656.1" x2="1897.1" y2="964.9" stroke="#333333" stroke-width="1.6"/>
<line x1="1885.8" y1="656.1" x2="1897.1" y2="656.1" stroke="#333333" stroke-width="1.6"/>
<text x="1874" y="664" font-size="22.5" text-anchor="end" textLength="13.51" lengthAdjust="spacingAndGlyphs">5</text>
<line x1="1885.8" y1="759" x2="1897.1" y2="759" stroke="#333333" stroke-width="1.6"/>
<text x="1874" y="766.9" font-size="22.5" text-anchor="end" textLength="13.51" lengthAdjust="spacingAndGlyphs">4</text>
<line x1="1885.8" y1="861.9" x2="1897.1" y2="861.9" stroke="#333333" stroke-width="1.6"/>
<text x="1874" y="869.8" font-size="22.5" text-anchor="end" textLength="13.51" lengthAdjust="spacingAndGlyphs">3</text>
<line x1="1885.8" y1="964.9" x2="1897.1" y2="964.9" stroke="#333333" stroke-width="1.6"/>
<text x="1874" y="972.8" font-size="22.5" text-anchor="end" textLength="13.51" lengthAdjust="spacingAndGlyphs">2</text>
<line x1="1885.8" y1="964.9" x2="2144.5" y2="964.9" stroke="#333333" stroke-width="1.6"/>
<line x1="1945.4" y1="964.9" x2="1945.4" y2="976.4" stroke="#333333" stroke-width="1.6"/>
<line x1="2020.3" y1="964.9" x2="2020.3" y2="976.4" stroke="#333333" stroke-width="1.6"/>
<line x1="2095.6" y1="964.9" x2="2095.6" y2="976.4" stroke="#333333" stroke-width="1.6"/>
<text x="1946.6" y="1005.4" font-size="23.5" text-anchor="middle" textLength="38.36" lengthAdjust="spacingAndGlyphs">WT</text>
<text x="2024.8" y="1005.4" font-size="23.5" text-anchor="middle" textLength="35.65" lengthAdjust="spacingAndGlyphs">KO</text>
<text x="2095.6" y="1005.4" font-size="23.5" text-anchor="middle" textLength="23.31" lengthAdjust="spacingAndGlyphs">KI</text>
<text transform="rotate(-90 1832.2 947)"><tspan x="1832.2" y="947" font-size="27" textLength="29.5" lengthAdjust="spacingAndGlyphs">log</tspan><tspan x="1861.7" y="956" font-size="15.5" textLength="16" lengthAdjust="spacingAndGlyphs">10</tspan><tspan x="1878.2" y="947" font-size="27" textLength="239" lengthAdjust="spacingAndGlyphs">(Lung c.f.u. per g)</tspan></text>
<line x1="1945.4" y1="815.6" x2="1945.4" y2="853.3" stroke="#333333" stroke-width="1.6"/>
<line x1="1918.9" y1="830.7" x2="1971.9" y2="830.7" stroke="#333333" stroke-width="1.6"/>
<line x1="1932.2" y1="815.6" x2="1958.6" y2="815.6" stroke="#333333" stroke-width="1.6"/>
<line x1="1932.2" y1="853.3" x2="1958.6" y2="853.3" stroke="#333333" stroke-width="1.6"/>
<line x1="2020.3" y1="720.7" x2="2020.3" y2="752.6" stroke="#333333" stroke-width="1.6"/>
<line x1="1993.8" y1="733.6" x2="2046.8" y2="733.6" stroke="#333333" stroke-width="1.6"/>
<line x1="2006.6" y1="720.7" x2="2034" y2="720.7" stroke="#333333" stroke-width="1.6"/>
<line x1="2006.6" y1="752.6" x2="2034" y2="752.6" stroke="#333333" stroke-width="1.6"/>
<line x1="2095.6" y1="717.2" x2="2095.6" y2="744.9" stroke="#333333" stroke-width="1.6"/>
<line x1="2069.1" y1="730" x2="2122.1" y2="730" stroke="#333333" stroke-width="1.6"/>
<line x1="2082.2" y1="717.2" x2="2109" y2="717.2" stroke="#333333" stroke-width="1.6"/>
<line x1="2082.2" y1="744.9" x2="2109" y2="744.9" stroke="#333333" stroke-width="1.6"/>
<circle cx="1945.4" cy="769.6" r="7.2" fill="#7d9fc1" stroke="#1a1a1a" stroke-width="1.1"/>
<circle cx="1945.4" cy="788.9" r="7.2" fill="#7d9fc1" stroke="#1a1a1a" stroke-width="1.1"/>
<circle cx="1951.8" cy="841" r="7.2" fill="#7d9fc1" stroke="#1a1a1a" stroke-width="1.1"/>
<circle cx="1938.6" cy="855.5" r="7.2" fill="#7d9fc1" stroke="#1a1a1a" stroke-width="1.1"/>
<circle cx="1964.7" cy="861.3" r="7.2" fill="#7d9fc1" stroke="#1a1a1a" stroke-width="1.1"/>
<circle cx="1926.1" cy="869.3" r="7.2" fill="#7d9fc1" stroke="#1a1a1a" stroke-width="1.1"/>
<circle cx="1951.8" cy="869.3" r="7.2" fill="#7d9fc1" stroke="#1a1a1a" stroke-width="1.1"/>
<circle cx="1938.6" cy="877.4" r="7.2" fill="#7d9fc1" stroke="#1a1a1a" stroke-width="1.1"/>
<circle cx="1951.8" cy="893.5" r="7.2" fill="#7d9fc1" stroke="#1a1a1a" stroke-width="1.1"/>
<circle cx="1938.6" cy="905.7" r="7.2" fill="#7d9fc1" stroke="#1a1a1a" stroke-width="1.1"/>
<circle cx="2040.2" cy="684.7" r="7.2" fill="#e9b4a7" stroke="#1a1a1a" stroke-width="1.1"/>
<circle cx="2020.3" cy="695" r="7.2" fill="#e9b4a7" stroke="#1a1a1a" stroke-width="1.1"/>
<circle cx="2020.3" cy="726.2" r="7.2" fill="#e9b4a7" stroke="#1a1a1a" stroke-width="1.1"/>
<circle cx="2040.2" cy="744.9" r="7.2" fill="#e9b4a7" stroke="#1a1a1a" stroke-width="1.1"/>
<circle cx="2020.3" cy="748.1" r="7.2" fill="#e9b4a7" stroke="#1a1a1a" stroke-width="1.1"/>
<circle cx="2020.3" cy="770.3" r="7.2" fill="#e9b4a7" stroke="#1a1a1a" stroke-width="1.1"/>
<circle cx="2020.3" cy="809.2" r="7.2" fill="#e9b4a7" stroke="#1a1a1a" stroke-width="1.1"/>
<circle cx="2040.2" cy="817.2" r="7.2" fill="#e9b4a7" stroke="#1a1a1a" stroke-width="1.1"/>
<circle cx="2001.3" cy="821.7" r="7.2" fill="#e9b4a7" stroke="#1a1a1a" stroke-width="1.1"/>
<circle cx="2095.6" cy="678.6" r="7.2" fill="#f6dcc0" stroke="#1a1a1a" stroke-width="1.1"/>
<circle cx="2095.6" cy="709.2" r="7.2" fill="#f6dcc0" stroke="#1a1a1a" stroke-width="1.1"/>
<circle cx="2095.6" cy="723" r="7.2" fill="#f6dcc0" stroke="#1a1a1a" stroke-width="1.1"/>
<circle cx="2076.3" cy="731" r="7.2" fill="#f6dcc0" stroke="#1a1a1a" stroke-width="1.1"/>
<circle cx="2114.9" cy="731" r="7.2" fill="#f6dcc0" stroke="#1a1a1a" stroke-width="1.1"/>
<circle cx="2095.6" cy="743.9" r="7.2" fill="#f6dcc0" stroke="#1a1a1a" stroke-width="1.1"/>
<circle cx="2095.6" cy="790.5" r="7.2" fill="#f6dcc0" stroke="#1a1a1a" stroke-width="1.1"/>
<circle cx="2085.9" cy="809.2" r="7.2" fill="#f6dcc0" stroke="#1a1a1a" stroke-width="1.1"/>
<circle cx="2105.2" cy="809.2" r="7.2" fill="#f6dcc0" stroke="#1a1a1a" stroke-width="1.1"/>
<text x="-0.1" y="1101" font-size="38.6" font-weight="bold" stroke="#000" stroke-width="1.3">k</text>
<line x1="101.1" y1="1090.2" x2="129.7" y2="1090.2" stroke="#000" stroke-width="2.6"/>
<line x1="101.1" y1="1124.5" x2="129.7" y2="1124.5" stroke="#ec6b6b" stroke-width="2.6"/>
<text><tspan x="141.4" y="1101.3" font-size="24" font-style="italic" textLength="47" lengthAdjust="spacingAndGlyphs">Xkr8</tspan><tspan x="189.2" y="1089.7" font-size="14" font-style="italic" textLength="22.6" lengthAdjust="spacingAndGlyphs">fl/fl</tspan><tspan x="218.7" y="1101.3" font-size="24" textLength="61" lengthAdjust="spacingAndGlyphs">(6/13)</tspan></text>
<text><tspan x="141.4" y="1134.1" font-size="24" font-style="italic" textLength="47" lengthAdjust="spacingAndGlyphs">Xkr8</tspan><tspan x="189.2" y="1122.5" font-size="14" font-style="italic" textLength="22.6" lengthAdjust="spacingAndGlyphs">fl/fl</tspan><tspan x="213.4" y="1134.1" font-size="24" font-style="italic" textLength="51.2" lengthAdjust="spacingAndGlyphs">Ly6g</tspan><tspan x="265.4" y="1122.5" font-size="14" font-style="italic" textLength="20.8" lengthAdjust="spacingAndGlyphs">cre</tspan><tspan x="292.4" y="1134.1" font-size="24" textLength="58.8" lengthAdjust="spacingAndGlyphs">(0/11)</tspan></text>
<line x1="398.3" y1="1079.7" x2="398.3" y2="1131.5" stroke="#111" stroke-width="1.5"/>
<text x="406.9" y="1115.6" font-size="23" textLength="87.4" lengthAdjust="spacingAndGlyphs">&lt;0.0001</text>
<line x1="110.6" y1="1153.8" x2="110.6" y2="1465.9" stroke="#333333" stroke-width="1.6"/>
<line x1="99.2" y1="1153.8" x2="110.6" y2="1153.8" stroke="#333333" stroke-width="1.6"/>
<text x="86.8" y="1161.7" font-size="22.5" text-anchor="end" textLength="40.54" lengthAdjust="spacingAndGlyphs">100</text>
<line x1="99.2" y1="1216.1" x2="110.6" y2="1216.1" stroke="#333333" stroke-width="1.6"/>
<text x="86.8" y="1224" font-size="22.5" text-anchor="end" textLength="27.03" lengthAdjust="spacingAndGlyphs">80</text>
<line x1="99.2" y1="1278.7" x2="110.6" y2="1278.7" stroke="#333333" stroke-width="1.6"/>
<text x="86.8" y="1286.6" font-size="22.5" text-anchor="end" textLength="27.03" lengthAdjust="spacingAndGlyphs">60</text>
<line x1="99.2" y1="1341" x2="110.6" y2="1341" stroke="#333333" stroke-width="1.6"/>
<text x="86.8" y="1348.9" font-size="22.5" text-anchor="end" textLength="27.03" lengthAdjust="spacingAndGlyphs">40</text>
<line x1="99.2" y1="1403.3" x2="110.6" y2="1403.3" stroke="#333333" stroke-width="1.6"/>
<text x="86.8" y="1411.2" font-size="22.5" text-anchor="end" textLength="27.03" lengthAdjust="spacingAndGlyphs">20</text>
<line x1="99.2" y1="1465.9" x2="110.6" y2="1465.9" stroke="#333333" stroke-width="1.6"/>
<text x="86.8" y="1473.8" font-size="22.5" text-anchor="end" textLength="13.51" lengthAdjust="spacingAndGlyphs">0</text>
<line x1="99.2" y1="1465.9" x2="485.7" y2="1465.9" stroke="#333333" stroke-width="1.6"/>
<line x1="110.6" y1="1465.9" x2="110.6" y2="1477" stroke="#333333" stroke-width="1.6"/>
<line x1="204.1" y1="1465.9" x2="204.1" y2="1477" stroke="#333333" stroke-width="1.6"/>
<line x1="298.2" y1="1465.9" x2="298.2" y2="1477" stroke="#333333" stroke-width="1.6"/>
<line x1="391.9" y1="1465.9" x2="391.9" y2="1477" stroke="#333333" stroke-width="1.6"/>
<line x1="485.7" y1="1465.9" x2="485.7" y2="1477" stroke="#333333" stroke-width="1.6"/>
<text x="110.6" y="1506.6" font-size="22.5" text-anchor="middle" textLength="13.51" lengthAdjust="spacingAndGlyphs">0</text>
<text x="204.1" y="1506.6" font-size="22.5" text-anchor="middle" textLength="27.03" lengthAdjust="spacingAndGlyphs">24</text>
<text x="298.2" y="1506.6" font-size="22.5" text-anchor="middle" textLength="27.03" lengthAdjust="spacingAndGlyphs">48</text>
<text x="391.9" y="1506.6" font-size="22.5" text-anchor="middle" textLength="27.03" lengthAdjust="spacingAndGlyphs">72</text>
<text x="485.7" y="1506.6" font-size="22.5" text-anchor="middle" textLength="27.03" lengthAdjust="spacingAndGlyphs">96</text>
<text x="155.8" y="1548.9" font-size="27" textLength="286" lengthAdjust="spacingAndGlyphs">Time after infection (h)</text>
<text x="28.3" y="1374" font-size="27" textLength="144.5" lengthAdjust="spacingAndGlyphs" transform="rotate(-90 28.3 1374)">Survival (%)</text>
<path d="M110.6,1153.8 H173.2 V1181.7 H188.5 V1239 H196.1 V1267.2 H204.1 V1352.4 H212 V1409 H235.9 V1465.9" stroke="#ec6b6b" stroke-width="2.6" fill="none" />
<path d="M110.6,1153.8 H204.1 V1201.5 H235.9 V1249.8 H298.2 V1297.8 H391.9 V1322.2 H485.7 V1315.9" stroke="#000" stroke-width="2.6" fill="none" />
<text x="588.9" y="1101" font-size="38.6" font-weight="bold" stroke="#000" stroke-width="1.3">l</text>
<rect x="746" y="1109.3" width="15.2" height="15.2" fill="#7d9fc1" stroke="#1a1a1a" stroke-width="1.1"/>
<text x="773" y="1124.5" font-size="23.5" textLength="32.4" lengthAdjust="spacingAndGlyphs">WT</text>
<circle cx="839.7" cy="1116.6" r="8" fill="#e9b4a7" stroke="#1a1a1a" stroke-width="1.1"/>
<text x="858.8" y="1124.5" font-size="23.5" textLength="94.7" lengthAdjust="spacingAndGlyphs">XKR8 KO</text>
<line x1="678.2" y1="1160.1" x2="678.2" y2="1469.4" stroke="#333333" stroke-width="1.6"/>
<line x1="667.1" y1="1160.1" x2="678.2" y2="1160.1" stroke="#333333" stroke-width="1.6"/>
<text x="656.4" y="1168" font-size="22.5" text-anchor="end" textLength="27.03" lengthAdjust="spacingAndGlyphs">10</text>
<line x1="667.1" y1="1222.1" x2="678.2" y2="1222.1" stroke="#333333" stroke-width="1.6"/>
<text x="656.4" y="1230" font-size="22.5" text-anchor="end" textLength="13.51" lengthAdjust="spacingAndGlyphs">8</text>
<line x1="667.1" y1="1283.8" x2="678.2" y2="1283.8" stroke="#333333" stroke-width="1.6"/>
<text x="656.4" y="1291.7" font-size="22.5" text-anchor="end" textLength="13.51" lengthAdjust="spacingAndGlyphs">6</text>
<line x1="667.1" y1="1345.4" x2="678.2" y2="1345.4" stroke="#333333" stroke-width="1.6"/>
<text x="656.4" y="1353.3" font-size="22.5" text-anchor="end" textLength="13.51" lengthAdjust="spacingAndGlyphs">4</text>
<line x1="667.1" y1="1407.4" x2="678.2" y2="1407.4" stroke="#333333" stroke-width="1.6"/>
<text x="656.4" y="1415.3" font-size="22.5" text-anchor="end" textLength="13.51" lengthAdjust="spacingAndGlyphs">2</text>
<line x1="667.1" y1="1469.4" x2="678.2" y2="1469.4" stroke="#333333" stroke-width="1.6"/>
<text x="656.4" y="1477.3" font-size="22.5" text-anchor="end" textLength="13.51" lengthAdjust="spacingAndGlyphs">0</text>
<line x1="667.1" y1="1469.4" x2="1049.5" y2="1469.4" stroke="#333333" stroke-width="1.6"/>
<line x1="719.9" y1="1469.4" x2="719.9" y2="1481.2" stroke="#333333" stroke-width="1.6"/>
<line x1="815.9" y1="1469.4" x2="815.9" y2="1481.2" stroke="#333333" stroke-width="1.6"/>
<line x1="911.9" y1="1469.4" x2="911.9" y2="1481.2" stroke="#333333" stroke-width="1.6"/>
<line x1="1007.9" y1="1469.4" x2="1007.9" y2="1481.2" stroke="#333333" stroke-width="1.6"/>
<text x="697.8" y="1513" font-size="23.5" textLength="49.1" lengthAdjust="spacingAndGlyphs">Liver</text>
<text x="792.7" y="1513" font-size="23.5" textLength="51.4" lengthAdjust="spacingAndGlyphs">Lung</text>
<text x="881" y="1513" font-size="23.5" textLength="72.5" lengthAdjust="spacingAndGlyphs">Spleen</text>
<text x="985.3" y="1513" font-size="23.5" textLength="52.5" lengthAdjust="spacingAndGlyphs">Brain</text>
<text transform="rotate(-90 612.2 1413.7)"><tspan x="612.2" y="1413.7" font-size="27" textLength="193" lengthAdjust="spacingAndGlyphs">c.f.u. per g (×10</tspan><tspan x="806.4" y="1397.7" font-size="16" textLength="11" lengthAdjust="spacingAndGlyphs">4</tspan><tspan x="815.9" y="1413.7" font-size="27" textLength="10" lengthAdjust="spacingAndGlyphs">)</tspan></text>
<text x="683.3" y="1373.1" font-size="23.5" textLength="80.8" lengthAdjust="spacingAndGlyphs">0.0006</text>
<line x1="691" y1="1383.6" x2="750.7" y2="1383.6" stroke="#333333" stroke-width="1.6"/>
<text x="778" y="1161.1" font-size="23.5" textLength="81.4" lengthAdjust="spacingAndGlyphs">0.0006</text>
<line x1="785.7" y1="1171.6" x2="843.9" y2="1171.6" stroke="#333333" stroke-width="1.6"/>
<text x="874.7" y="1384.9" font-size="23.5" textLength="76.9" lengthAdjust="spacingAndGlyphs">0.0379</text>
<line x1="882.6" y1="1396.3" x2="939.8" y2="1396.3" stroke="#333333" stroke-width="1.6"/>
<text x="967.8" y="1214.8" font-size="23.5" textLength="77.9" lengthAdjust="spacingAndGlyphs">0.0023</text>
<line x1="978" y1="1226.9" x2="1035.8" y2="1226.9" stroke="#333333" stroke-width="1.6"/>
<line x1="742.8" y1="1405" x2="742.8" y2="1418.6" stroke="#333333" stroke-width="1.6"/>
<line x1="730.8" y1="1411.8" x2="754.8" y2="1411.8" stroke="#333333" stroke-width="1.6"/>
<line x1="736.8" y1="1405" x2="748.8" y2="1405" stroke="#333333" stroke-width="1.6"/>
<line x1="736.8" y1="1418.6" x2="748.8" y2="1418.6" stroke="#333333" stroke-width="1.6"/>
<line x1="834" y1="1303.2" x2="834" y2="1352.8" stroke="#333333" stroke-width="1.6"/>
<line x1="822.5" y1="1328" x2="845.5" y2="1328" stroke="#333333" stroke-width="1.6"/>
<line x1="827.3" y1="1303.2" x2="840.7" y2="1303.2" stroke="#333333" stroke-width="1.6"/>
<line x1="827.3" y1="1352.8" x2="840.7" y2="1352.8" stroke="#333333" stroke-width="1.6"/>
<line x1="931" y1="1432" x2="931" y2="1444" stroke="#333333" stroke-width="1.6"/>
<line x1="919" y1="1438" x2="943" y2="1438" stroke="#333333" stroke-width="1.6"/>
<line x1="925" y1="1432" x2="937" y2="1432" stroke="#333333" stroke-width="1.6"/>
<line x1="925" y1="1444" x2="937" y2="1444" stroke="#333333" stroke-width="1.6"/>
<line x1="989.8" y1="1371" x2="989.8" y2="1388" stroke="#333333" stroke-width="1.6"/>
<line x1="977.9" y1="1379.5" x2="1001.7" y2="1379.5" stroke="#333333" stroke-width="1.6"/>
<line x1="983.8" y1="1371" x2="995.8" y2="1371" stroke="#333333" stroke-width="1.6"/>
<line x1="983.8" y1="1388" x2="995.8" y2="1388" stroke="#333333" stroke-width="1.6"/>
<line x1="1026" y1="1298" x2="1026" y2="1311.6" stroke="#333333" stroke-width="1.6"/>
<line x1="1014.4" y1="1304.8" x2="1037.6" y2="1304.8" stroke="#333333" stroke-width="1.6"/>
<line x1="1020" y1="1298" x2="1032" y2="1298" stroke="#333333" stroke-width="1.6"/>
<line x1="1020" y1="1311.6" x2="1032" y2="1311.6" stroke="#333333" stroke-width="1.6"/>
<rect x="693.6" y="1430" width="15.2" height="15.2" fill="#7d9fc1" stroke="#1a1a1a" stroke-width="1.1"/>
<rect x="696.6" y="1435.4" width="15.2" height="15.2" fill="#7d9fc1" stroke="#1a1a1a" stroke-width="1.1"/>
<rect x="692.5" y="1444.1" width="15.2" height="15.2" fill="#7d9fc1" stroke="#1a1a1a" stroke-width="1.1"/>
<rect x="697.2" y="1450.1" width="15.2" height="15.2" fill="#7d9fc1" stroke="#1a1a1a" stroke-width="1.1"/>
<rect x="690.5" y="1454.8" width="15.2" height="15.2" fill="#7d9fc1" stroke="#1a1a1a" stroke-width="1.1"/>
<rect x="699.9" y="1454.8" width="15.2" height="15.2" fill="#7d9fc1" stroke="#1a1a1a" stroke-width="1.1"/>
<rect x="694.5" y="1457.5" width="15.2" height="15.2" fill="#7d9fc1" stroke="#1a1a1a" stroke-width="1.1"/>
<rect x="789.4" y="1421.3" width="15.2" height="15.2" fill="#7d9fc1" stroke="#1a1a1a" stroke-width="1.1"/>
<rect x="793" y="1428" width="15.2" height="15.2" fill="#7d9fc1" stroke="#1a1a1a" stroke-width="1.1"/>
<rect x="788.3" y="1432.7" width="15.2" height="15.2" fill="#7d9fc1" stroke="#1a1a1a" stroke-width="1.1"/>
<rect x="796.3" y="1440.1" width="15.2" height="15.2" fill="#7d9fc1" stroke="#1a1a1a" stroke-width="1.1"/>
<rect x="785.6" y="1443.4" width="15.2" height="15.2" fill="#7d9fc1" stroke="#1a1a1a" stroke-width="1.1"/>
<rect x="795" y="1445.4" width="15.2" height="15.2" fill="#7d9fc1" stroke="#1a1a1a" stroke-width="1.1"/>
<rect x="885.4" y="1428.7" width="15.2" height="15.2" fill="#7d9fc1" stroke="#1a1a1a" stroke-width="1.1"/>
<rect x="888.1" y="1435.4" width="15.2" height="15.2" fill="#7d9fc1" stroke="#1a1a1a" stroke-width="1.1"/>
<rect x="884.1" y="1442.8" width="15.2" height="15.2" fill="#7d9fc1" stroke="#1a1a1a" stroke-width="1.1"/>
<rect x="888.8" y="1449.5" width="15.2" height="15.2" fill="#7d9fc1" stroke="#1a1a1a" stroke-width="1.1"/>
<rect x="882.1" y="1453.5" width="15.2" height="15.2" fill="#7d9fc1" stroke="#1a1a1a" stroke-width="1.1"/>
<rect x="891.4" y="1455.5" width="15.2" height="15.2" fill="#7d9fc1" stroke="#1a1a1a" stroke-width="1.1"/>
<rect x="982.2" y="1316.9" width="15.2" height="15.2" fill="#7d9fc1" stroke="#1a1a1a" stroke-width="1.1"/>
<rect x="987.2" y="1351.2" width="15.2" height="15.2" fill="#7d9fc1" stroke="#1a1a1a" stroke-width="1.1"/>
<rect x="977.7" y="1359.1" width="15.2" height="15.2" fill="#7d9fc1" stroke="#1a1a1a" stroke-width="1.1"/>
<rect x="982.2" y="1374.1" width="15.2" height="15.2" fill="#7d9fc1" stroke="#1a1a1a" stroke-width="1.1"/>
<rect x="977.7" y="1390.9" width="15.2" height="15.2" fill="#7d9fc1" stroke="#1a1a1a" stroke-width="1.1"/>
<rect x="987.2" y="1398.2" width="15.2" height="15.2" fill="#7d9fc1" stroke="#1a1a1a" stroke-width="1.1"/>
<rect x="982.2" y="1416.4" width="15.2" height="15.2" fill="#7d9fc1" stroke="#1a1a1a" stroke-width="1.1"/>
<circle cx="736.6" cy="1436.3" r="7.4" fill="#e9b4a7" stroke="#1a1a1a" stroke-width="1.1"/>
<circle cx="739.6" cy="1427.3" r="7.4" fill="#e9b4a7" stroke="#1a1a1a" stroke-width="1.1"/>
<circle cx="738.3" cy="1412.9" r="7.4" fill="#e9b4a7" stroke="#1a1a1a" stroke-width="1.1"/>
<circle cx="739.6" cy="1404.8" r="7.4" fill="#e9b4a7" stroke="#1a1a1a" stroke-width="1.1"/>
<circle cx="733" cy="1402.1" r="7.4" fill="#e9b4a7" stroke="#1a1a1a" stroke-width="1.1"/>
<circle cx="743.7" cy="1401.5" r="7.4" fill="#e9b4a7" stroke="#1a1a1a" stroke-width="1.1"/>
<circle cx="737" cy="1398.8" r="7.4" fill="#e9b4a7" stroke="#1a1a1a" stroke-width="1.1"/>
<circle cx="834" cy="1187.1" r="7.4" fill="#e9b4a7" stroke="#1a1a1a" stroke-width="1.1"/>
<circle cx="829.5" cy="1377.9" r="7.4" fill="#e9b4a7" stroke="#1a1a1a" stroke-width="1.1"/>
<circle cx="838.5" cy="1371.5" r="7.4" fill="#e9b4a7" stroke="#1a1a1a" stroke-width="1.1"/>
<circle cx="834" cy="1357.8" r="7.4" fill="#e9b4a7" stroke="#1a1a1a" stroke-width="1.1"/>
<circle cx="829.5" cy="1357.2" r="7.4" fill="#e9b4a7" stroke="#1a1a1a" stroke-width="1.1"/>
<circle cx="829.5" cy="1323.8" r="7.4" fill="#e9b4a7" stroke="#1a1a1a" stroke-width="1.1"/>
<circle cx="837.2" cy="1321.3" r="7.4" fill="#e9b4a7" stroke="#1a1a1a" stroke-width="1.1"/>
<circle cx="925.2" cy="1460.4" r="7.4" fill="#e9b4a7" stroke="#1a1a1a" stroke-width="1.1"/>
<circle cx="934.5" cy="1446.3" r="7.4" fill="#e9b4a7" stroke="#1a1a1a" stroke-width="1.1"/>
<circle cx="929.8" cy="1443" r="7.4" fill="#e9b4a7" stroke="#1a1a1a" stroke-width="1.1"/>
<circle cx="935.9" cy="1430.3" r="7.4" fill="#e9b4a7" stroke="#1a1a1a" stroke-width="1.1"/>
<circle cx="930.5" cy="1425.6" r="7.4" fill="#e9b4a7" stroke="#1a1a1a" stroke-width="1.1"/>
<circle cx="925.2" cy="1433.6" r="7.4" fill="#e9b4a7" stroke="#1a1a1a" stroke-width="1.1"/>
<circle cx="934.5" cy="1413.1" r="7.4" fill="#e9b4a7" stroke="#1a1a1a" stroke-width="1.1"/>
<circle cx="1026" cy="1364.5" r="7.4" fill="#e9b4a7" stroke="#1a1a1a" stroke-width="1.1"/>
<circle cx="1026" cy="1323.2" r="7.4" fill="#e9b4a7" stroke="#1a1a1a" stroke-width="1.1"/>
<circle cx="1021.5" cy="1314.3" r="7.4" fill="#e9b4a7" stroke="#1a1a1a" stroke-width="1.1"/>
<circle cx="1030.4" cy="1314.3" r="7.4" fill="#e9b4a7" stroke="#1a1a1a" stroke-width="1.1"/>
<circle cx="1026" cy="1292" r="7.4" fill="#e9b4a7" stroke="#1a1a1a" stroke-width="1.1"/>
<circle cx="1030.4" cy="1283.5" r="7.4" fill="#e9b4a7" stroke="#1a1a1a" stroke-width="1.1"/>
<circle cx="1026" cy="1242.8" r="7.4" fill="#e9b4a7" stroke="#1a1a1a" stroke-width="1.1"/>
<text x="1097.4" y="1101" font-size="38.6" font-weight="bold" stroke="#000" stroke-width="1.3">m</text>
<circle cx="1325.2" cy="1125.8" r="7.8" fill="#7d9fc1" stroke="#1a1a1a" stroke-width="1.1"/>
<text x="1344.3" y="1133.7" font-size="23.5" textLength="31.8" lengthAdjust="spacingAndGlyphs">WT</text>
<circle cx="1407.9" cy="1125.8" r="7.8" fill="#e9b4a7" stroke="#1a1a1a" stroke-width="1.1"/>
<text x="1431.7" y="1133.7" font-size="23.5" textLength="30.2" lengthAdjust="spacingAndGlyphs">KO</text>
<circle cx="1492.1" cy="1125.8" r="7.8" fill="#f6dcc0" stroke="#1a1a1a" stroke-width="1.1"/>
<text x="1520.7" y="1133.7" font-size="23.5" textLength="19.1" lengthAdjust="spacingAndGlyphs">KI</text>
<line x1="1206.7" y1="1158.5" x2="1206.7" y2="1468.5" stroke="#333333" stroke-width="1.6"/>
<line x1="1194.9" y1="1158.5" x2="1206.7" y2="1158.5" stroke="#333333" stroke-width="1.6"/>
<text x="1183.2" y="1166.4" font-size="22.5" text-anchor="end" textLength="27.03" lengthAdjust="spacingAndGlyphs">15</text>
<line x1="1194.9" y1="1261.8" x2="1206.7" y2="1261.8" stroke="#333333" stroke-width="1.6"/>
<text x="1183.2" y="1269.7" font-size="22.5" text-anchor="end" textLength="27.03" lengthAdjust="spacingAndGlyphs">10</text>
<line x1="1194.9" y1="1365.2" x2="1206.7" y2="1365.2" stroke="#333333" stroke-width="1.6"/>
<text x="1183.2" y="1373.1" font-size="22.5" text-anchor="end" textLength="13.51" lengthAdjust="spacingAndGlyphs">5</text>
<line x1="1194.9" y1="1468.5" x2="1206.7" y2="1468.5" stroke="#333333" stroke-width="1.6"/>
<text x="1183.2" y="1476.4" font-size="22.5" text-anchor="end" textLength="13.51" lengthAdjust="spacingAndGlyphs">0</text>
<line x1="1194.9" y1="1468.5" x2="1701.9" y2="1468.5" stroke="#333333" stroke-width="1.6"/>
<line x1="1263.9" y1="1468.5" x2="1263.9" y2="1479.6" stroke="#333333" stroke-width="1.6"/>
<line x1="1390.4" y1="1468.5" x2="1390.4" y2="1479.6" stroke="#333333" stroke-width="1.6"/>
<line x1="1517.5" y1="1468.5" x2="1517.5" y2="1479.6" stroke="#333333" stroke-width="1.6"/>
<line x1="1644.7" y1="1468.5" x2="1644.7" y2="1479.6" stroke="#333333" stroke-width="1.6"/>
<text x="1238.8" y="1509.8" font-size="23.5" textLength="49.9" lengthAdjust="spacingAndGlyphs">Liver</text>
<text x="1365" y="1509.8" font-size="23.5" textLength="50.8" lengthAdjust="spacingAndGlyphs">Lung</text>
<text x="1480.3" y="1509.8" font-size="23.5" textLength="73.8" lengthAdjust="spacingAndGlyphs">Spleen</text>
<text x="1617.7" y="1509.8" font-size="23.5" textLength="52.4" lengthAdjust="spacingAndGlyphs">Brain</text>
<text transform="rotate(-90 1134 1413.7)"><tspan x="1134" y="1413.7" font-size="27" textLength="193" lengthAdjust="spacingAndGlyphs">c.f.u. per g (×10</tspan><tspan x="1328.2" y="1397.7" font-size="16" textLength="11" lengthAdjust="spacingAndGlyphs">4</tspan><tspan x="1337.7" y="1413.7" font-size="27" textLength="10" lengthAdjust="spacingAndGlyphs">)</tspan></text>
<text x="1219.7" y="1344.5" font-size="23.5" textLength="80.7" lengthAdjust="spacingAndGlyphs">0.0003</text>
<line x1="1220.3" y1="1353.1" x2="1307.1" y2="1353.1" stroke="#333333" stroke-width="1.6"/>
<text x="1241.9" y="1374.7" font-size="23.5" textLength="76" lengthAdjust="spacingAndGlyphs">0.9846</text>
<line x1="1252.7" y1="1382" x2="1308.7" y2="1382" stroke="#333333" stroke-width="1.6"/>
<text x="1209.2" y="1404.9" font-size="23.5" textLength="78.5" lengthAdjust="spacingAndGlyphs">0.0002</text>
<line x1="1219.7" y1="1412.2" x2="1271.8" y2="1412.2" stroke="#333333" stroke-width="1.6"/>
<text x="1350" y="1295.2" font-size="23.5" textLength="80.1" lengthAdjust="spacingAndGlyphs">0.0002</text>
<line x1="1346.8" y1="1302.2" x2="1434.2" y2="1302.2" stroke="#333333" stroke-width="1.6"/>
<text x="1367.2" y="1323.8" font-size="23.5" textLength="75.6" lengthAdjust="spacingAndGlyphs">0.9965</text>
<line x1="1379.3" y1="1330.8" x2="1433.9" y2="1330.8" stroke="#333333" stroke-width="1.6"/>
<text x="1334.8" y="1354" font-size="23.5" textLength="80.1" lengthAdjust="spacingAndGlyphs">0.0002</text>
<line x1="1348.1" y1="1362.9" x2="1400.6" y2="1362.9" stroke="#333333" stroke-width="1.6"/>
<text x="1474" y="1328.6" font-size="23.5" textLength="80.7" lengthAdjust="spacingAndGlyphs">0.0006</text>
<line x1="1474" y1="1336.5" x2="1563.6" y2="1336.5" stroke="#333333" stroke-width="1.6"/>
<text x="1497.8" y="1358.8" font-size="23.5" textLength="76" lengthAdjust="spacingAndGlyphs">0.6454</text>
<line x1="1508" y1="1366.1" x2="1563.6" y2="1366.1" stroke="#333333" stroke-width="1.6"/>
<text x="1460.3" y="1390.6" font-size="23.5" textLength="79.5" lengthAdjust="spacingAndGlyphs">0.0002</text>
<line x1="1473" y1="1396.9" x2="1525.5" y2="1396.9" stroke="#333333" stroke-width="1.6"/>
<text x="1603.4" y="1187.1" font-size="23.5" textLength="80.4" lengthAdjust="spacingAndGlyphs">0.0002</text>
<line x1="1598.6" y1="1193.8" x2="1690.8" y2="1193.8" stroke="#333333" stroke-width="1.6"/>
<text x="1624" y="1218" font-size="23.5" textLength="74.7" lengthAdjust="spacingAndGlyphs">0.7209</text>
<line x1="1632.9" y1="1227.5" x2="1690.8" y2="1227.5" stroke="#333333" stroke-width="1.6"/>
<text x="1585.2" y="1278.7" font-size="23.5" textLength="79.5" lengthAdjust="spacingAndGlyphs">0.0002</text>
<line x1="1598.6" y1="1288.2" x2="1652" y2="1288.2" stroke="#333333" stroke-width="1.6"/>
<line x1="1298.2" y1="1433" x2="1298.2" y2="1445.4" stroke="#333333" stroke-width="1.6"/>
<line x1="1287.2" y1="1439.2" x2="1309.2" y2="1439.2" stroke="#333333" stroke-width="1.6"/>
<line x1="1292.7" y1="1433" x2="1303.7" y2="1433" stroke="#333333" stroke-width="1.6"/>
<line x1="1292.7" y1="1445.4" x2="1303.7" y2="1445.4" stroke="#333333" stroke-width="1.6"/>
<line x1="1391" y1="1396.3" x2="1391" y2="1410.3" stroke="#333333" stroke-width="1.6"/>
<line x1="1381" y1="1403.3" x2="1401" y2="1403.3" stroke="#333333" stroke-width="1.6"/>
<line x1="1385.5" y1="1396.3" x2="1396.5" y2="1396.3" stroke="#333333" stroke-width="1.6"/>
<line x1="1385.5" y1="1410.3" x2="1396.5" y2="1410.3" stroke="#333333" stroke-width="1.6"/>
<line x1="1426" y1="1396" x2="1426" y2="1409.4" stroke="#333333" stroke-width="1.6"/>
<line x1="1415" y1="1402.7" x2="1437" y2="1402.7" stroke="#333333" stroke-width="1.6"/>
<line x1="1420.5" y1="1396" x2="1431.5" y2="1396" stroke="#333333" stroke-width="1.6"/>
<line x1="1420.5" y1="1409.4" x2="1431.5" y2="1409.4" stroke="#333333" stroke-width="1.6"/>
<line x1="1517.5" y1="1436" x2="1517.5" y2="1446.8" stroke="#333333" stroke-width="1.6"/>
<line x1="1506.5" y1="1441.4" x2="1528.5" y2="1441.4" stroke="#333333" stroke-width="1.6"/>
<line x1="1512" y1="1436" x2="1523" y2="1436" stroke="#333333" stroke-width="1.6"/>
<line x1="1512" y1="1446.8" x2="1523" y2="1446.8" stroke="#333333" stroke-width="1.6"/>
<line x1="1552.5" y1="1430" x2="1552.5" y2="1442" stroke="#333333" stroke-width="1.6"/>
<line x1="1541.5" y1="1436" x2="1563.5" y2="1436" stroke="#333333" stroke-width="1.6"/>
<line x1="1547" y1="1430" x2="1558" y2="1430" stroke="#333333" stroke-width="1.6"/>
<line x1="1547" y1="1442" x2="1558" y2="1442" stroke="#333333" stroke-width="1.6"/>
<line x1="1608.7" y1="1442" x2="1608.7" y2="1453.6" stroke="#333333" stroke-width="1.6"/>
<line x1="1598.7" y1="1447.8" x2="1618.7" y2="1447.8" stroke="#333333" stroke-width="1.6"/>
<line x1="1603.7" y1="1442" x2="1613.7" y2="1442" stroke="#333333" stroke-width="1.6"/>
<line x1="1603.7" y1="1453.6" x2="1613.7" y2="1453.6" stroke="#333333" stroke-width="1.6"/>
<line x1="1644.7" y1="1365.2" x2="1644.7" y2="1387.4" stroke="#333333" stroke-width="1.6"/>
<line x1="1634.2" y1="1376.3" x2="1655.2" y2="1376.3" stroke="#333333" stroke-width="1.6"/>
<line x1="1638.7" y1="1365.2" x2="1650.7" y2="1365.2" stroke="#333333" stroke-width="1.6"/>
<line x1="1638.7" y1="1387.4" x2="1650.7" y2="1387.4" stroke="#333333" stroke-width="1.6"/>
<line x1="1679.6" y1="1341.3" x2="1679.6" y2="1374.1" stroke="#333333" stroke-width="1.6"/>
<line x1="1669.1" y1="1354" x2="1690.1" y2="1354" stroke="#333333" stroke-width="1.6"/>
<line x1="1674.1" y1="1341.3" x2="1685.1" y2="1341.3" stroke="#333333" stroke-width="1.6"/>
<line x1="1674.1" y1="1374.1" x2="1685.1" y2="1374.1" stroke="#333333" stroke-width="1.6"/>
<circle cx="1225.1" cy="1458.9" r="7" fill="#7d9fc1" stroke="#1a1a1a" stroke-width="1.1"/>
<circle cx="1229.9" cy="1462.1" r="7" fill="#7d9fc1" stroke="#1a1a1a" stroke-width="1.1"/>
<circle cx="1225.1" cy="1465.3" r="7" fill="#7d9fc1" stroke="#1a1a1a" stroke-width="1.1"/>
<circle cx="1232.5" cy="1465.3" r="7" fill="#7d9fc1" stroke="#1a1a1a" stroke-width="1.1"/>
<circle cx="1228.3" cy="1466.5" r="7" fill="#7d9fc1" stroke="#1a1a1a" stroke-width="1.1"/>
<circle cx="1354.5" cy="1458.9" r="7" fill="#7d9fc1" stroke="#1a1a1a" stroke-width="1.1"/>
<circle cx="1359.3" cy="1462.1" r="7" fill="#7d9fc1" stroke="#1a1a1a" stroke-width="1.1"/>
<circle cx="1354.5" cy="1465.3" r="7" fill="#7d9fc1" stroke="#1a1a1a" stroke-width="1.1"/>
<circle cx="1361.8" cy="1465.3" r="7" fill="#7d9fc1" stroke="#1a1a1a" stroke-width="1.1"/>
<circle cx="1357" cy="1466.5" r="7" fill="#7d9fc1" stroke="#1a1a1a" stroke-width="1.1"/>
<circle cx="1479.4" cy="1457.3" r="7" fill="#7d9fc1" stroke="#1a1a1a" stroke-width="1.1"/>
<circle cx="1484.2" cy="1461" r="7" fill="#7d9fc1" stroke="#1a1a1a" stroke-width="1.1"/>
<circle cx="1488" cy="1462.5" r="7" fill="#7d9fc1" stroke="#1a1a1a" stroke-width="1.1"/>
<circle cx="1481" cy="1465" r="7" fill="#7d9fc1" stroke="#1a1a1a" stroke-width="1.1"/>
<circle cx="1486" cy="1466" r="7" fill="#7d9fc1" stroke="#1a1a1a" stroke-width="1.1"/>
<circle cx="1611.3" cy="1430.3" r="7" fill="#7d9fc1" stroke="#1a1a1a" stroke-width="1.1"/>
<circle cx="1609.7" cy="1438.3" r="7" fill="#7d9fc1" stroke="#1a1a1a" stroke-width="1.1"/>
<circle cx="1606.5" cy="1446.2" r="7" fill="#7d9fc1" stroke="#1a1a1a" stroke-width="1.1"/>
<circle cx="1612.9" cy="1451" r="7" fill="#7d9fc1" stroke="#1a1a1a" stroke-width="1.1"/>
<circle cx="1604.9" cy="1454.2" r="7" fill="#7d9fc1" stroke="#1a1a1a" stroke-width="1.1"/>
<circle cx="1610" cy="1454.5" r="7" fill="#7d9fc1" stroke="#1a1a1a" stroke-width="1.1"/>
<circle cx="1263.2" cy="1428.7" r="7" fill="#e9b4a7" stroke="#1a1a1a" stroke-width="1.1"/>
<circle cx="1258.5" cy="1434.4" r="7" fill="#e9b4a7" stroke="#1a1a1a" stroke-width="1.1"/>
<circle cx="1268" cy="1436.7" r="7" fill="#e9b4a7" stroke="#1a1a1a" stroke-width="1.1"/>
<circle cx="1263.2" cy="1438.3" r="7" fill="#e9b4a7" stroke="#1a1a1a" stroke-width="1.1"/>
<circle cx="1258.5" cy="1441.4" r="7" fill="#e9b4a7" stroke="#1a1a1a" stroke-width="1.1"/>
<circle cx="1266.4" cy="1446.2" r="7" fill="#e9b4a7" stroke="#1a1a1a" stroke-width="1.1"/>
<circle cx="1387.2" cy="1377.9" r="7" fill="#e9b4a7" stroke="#1a1a1a" stroke-width="1.1"/>
<circle cx="1392" cy="1376.3" r="7" fill="#e9b4a7" stroke="#1a1a1a" stroke-width="1.1"/>
<circle cx="1395.8" cy="1392.2" r="7" fill="#e9b4a7" stroke="#1a1a1a" stroke-width="1.1"/>
<circle cx="1385.6" cy="1406.5" r="7" fill="#e9b4a7" stroke="#1a1a1a" stroke-width="1.1"/>
<circle cx="1391.3" cy="1404.9" r="7" fill="#e9b4a7" stroke="#1a1a1a" stroke-width="1.1"/>
<circle cx="1395.8" cy="1411.2" r="7" fill="#e9b4a7" stroke="#1a1a1a" stroke-width="1.1"/>
<circle cx="1393.6" cy="1428.1" r="7" fill="#e9b4a7" stroke="#1a1a1a" stroke-width="1.1"/>
<circle cx="1388.8" cy="1431.9" r="7" fill="#e9b4a7" stroke="#1a1a1a" stroke-width="1.1"/>
<circle cx="1517.5" cy="1414.4" r="7" fill="#e9b4a7" stroke="#1a1a1a" stroke-width="1.1"/>
<circle cx="1517.5" cy="1435.1" r="7" fill="#e9b4a7" stroke="#1a1a1a" stroke-width="1.1"/>
<circle cx="1512.7" cy="1439.9" r="7" fill="#e9b4a7" stroke="#1a1a1a" stroke-width="1.1"/>
<circle cx="1520.7" cy="1449.4" r="7" fill="#e9b4a7" stroke="#1a1a1a" stroke-width="1.1"/>
<circle cx="1522.3" cy="1451" r="7" fill="#e9b4a7" stroke="#1a1a1a" stroke-width="1.1"/>
<circle cx="1512.7" cy="1455.7" r="7" fill="#e9b4a7" stroke="#1a1a1a" stroke-width="1.1"/>
<circle cx="1643.1" cy="1322.2" r="7" fill="#e9b4a7" stroke="#1a1a1a" stroke-width="1.1"/>
<circle cx="1646.3" cy="1323.2" r="7" fill="#e9b4a7" stroke="#1a1a1a" stroke-width="1.1"/>
<circle cx="1644.7" cy="1382.6" r="7" fill="#e9b4a7" stroke="#1a1a1a" stroke-width="1.1"/>
<circle cx="1639.9" cy="1385.8" r="7" fill="#e9b4a7" stroke="#1a1a1a" stroke-width="1.1"/>
<circle cx="1649.4" cy="1395.3" r="7" fill="#e9b4a7" stroke="#1a1a1a" stroke-width="1.1"/>
<circle cx="1642.5" cy="1411.2" r="7" fill="#e9b4a7" stroke="#1a1a1a" stroke-width="1.1"/>
<circle cx="1646.3" cy="1409.6" r="7" fill="#e9b4a7" stroke="#1a1a1a" stroke-width="1.1"/>
<circle cx="1298.2" cy="1407.4" r="7" fill="#f6dcc0" stroke="#1a1a1a" stroke-width="1.1"/>
<circle cx="1298.2" cy="1427.1" r="7" fill="#f6dcc0" stroke="#1a1a1a" stroke-width="1.1"/>
<circle cx="1293.4" cy="1435.1" r="7" fill="#f6dcc0" stroke="#1a1a1a" stroke-width="1.1"/>
<circle cx="1299.8" cy="1439.9" r="7" fill="#f6dcc0" stroke="#1a1a1a" stroke-width="1.1"/>
<circle cx="1298.2" cy="1446.2" r="7" fill="#f6dcc0" stroke="#1a1a1a" stroke-width="1.1"/>
<circle cx="1293.4" cy="1453.5" r="7" fill="#f6dcc0" stroke="#1a1a1a" stroke-width="1.1"/>
<circle cx="1302.3" cy="1455.7" r="7" fill="#f6dcc0" stroke="#1a1a1a" stroke-width="1.1"/>
<circle cx="1426" cy="1374" r="7" fill="#f6dcc0" stroke="#1a1a1a" stroke-width="1.1"/>
<circle cx="1427" cy="1383.6" r="7" fill="#f6dcc0" stroke="#1a1a1a" stroke-width="1.1"/>
<circle cx="1423.8" cy="1392.2" r="7" fill="#f6dcc0" stroke="#1a1a1a" stroke-width="1.1"/>
<circle cx="1426" cy="1403.3" r="7" fill="#f6dcc0" stroke="#1a1a1a" stroke-width="1.1"/>
<circle cx="1422.2" cy="1409.6" r="7" fill="#f6dcc0" stroke="#1a1a1a" stroke-width="1.1"/>
<circle cx="1430.1" cy="1413.5" r="7" fill="#f6dcc0" stroke="#1a1a1a" stroke-width="1.1"/>
<circle cx="1421.5" cy="1424.9" r="7" fill="#f6dcc0" stroke="#1a1a1a" stroke-width="1.1"/>
<circle cx="1552.5" cy="1412.2" r="7" fill="#f6dcc0" stroke="#1a1a1a" stroke-width="1.1"/>
<circle cx="1550.9" cy="1425.5" r="7" fill="#f6dcc0" stroke="#1a1a1a" stroke-width="1.1"/>
<circle cx="1554.7" cy="1425.5" r="7" fill="#f6dcc0" stroke="#1a1a1a" stroke-width="1.1"/>
<circle cx="1547.7" cy="1446.2" r="7" fill="#f6dcc0" stroke="#1a1a1a" stroke-width="1.1"/>
<circle cx="1555.7" cy="1449.4" r="7" fill="#f6dcc0" stroke="#1a1a1a" stroke-width="1.1"/>
<circle cx="1547.7" cy="1458.9" r="7" fill="#f6dcc0" stroke="#1a1a1a" stroke-width="1.1"/>
<circle cx="1679" cy="1242.8" r="7" fill="#f6dcc0" stroke="#1a1a1a" stroke-width="1.1"/>
<circle cx="1683.8" cy="1323.8" r="7" fill="#f6dcc0" stroke="#1a1a1a" stroke-width="1.1"/>
<circle cx="1679" cy="1332.7" r="7" fill="#f6dcc0" stroke="#1a1a1a" stroke-width="1.1"/>
<circle cx="1679.6" cy="1354" r="7" fill="#f6dcc0" stroke="#1a1a1a" stroke-width="1.1"/>
<circle cx="1674.9" cy="1384.2" r="7" fill="#f6dcc0" stroke="#1a1a1a" stroke-width="1.1"/>
<circle cx="1683.8" cy="1387.4" r="7" fill="#f6dcc0" stroke="#1a1a1a" stroke-width="1.1"/>
<circle cx="1678.7" cy="1395.3" r="7" fill="#f6dcc0" stroke="#1a1a1a" stroke-width="1.1"/>
<circle cx="1679" cy="1415.4" r="7" fill="#f6dcc0" stroke="#1a1a1a" stroke-width="1.1"/>
<text x="1764.2" y="1101" font-size="38.6" font-weight="bold" stroke="#000" stroke-width="1.3">n</text>
<rect x="1807.2" y="1082.9" width="15.3" height="15.9" fill="#7d9fc1" stroke="#1a1a1a" stroke-width="1.1"/>
<text><tspan x="1835.2" y="1097.5" font-size="24" font-style="italic" textLength="47" lengthAdjust="spacingAndGlyphs">Xkr8</tspan><tspan x="1883" y="1085.9" font-size="14" font-style="italic" textLength="22.6" lengthAdjust="spacingAndGlyphs">fl/fl</tspan></text>
<circle cx="1949.7" cy="1090.8" r="8" fill="#e9b4a7" stroke="#1a1a1a" stroke-width="1.1"/>
<text><tspan x="1967.8" y="1097.5" font-size="24" font-style="italic" textLength="47" lengthAdjust="spacingAndGlyphs">Xkr8</tspan><tspan x="2015.6" y="1085.9" font-size="14" font-style="italic" textLength="22.6" lengthAdjust="spacingAndGlyphs">fl/fl</tspan><tspan x="2039.8" y="1097.5" font-size="24" font-style="italic" textLength="51.2" lengthAdjust="spacingAndGlyphs">Ly6g</tspan><tspan x="2091.8" y="1085.9" font-size="14" font-style="italic" textLength="20.8" lengthAdjust="spacingAndGlyphs">cre</tspan></text>
<text x="1962.4" y="1124.5" font-size="23" textLength="88.1" lengthAdjust="spacingAndGlyphs">&lt;0.0001</text>
<line x1="1932.2" y1="1127.7" x2="2096.6" y2="1127.7" stroke="#333333" stroke-width="1.6"/>
<text x="1918.5" y="1152.2" font-size="23.5" textLength="77" lengthAdjust="spacingAndGlyphs">0.9620</text>
<line x1="1882" y1="1155.4" x2="2047.3" y2="1155.4" stroke="#333333" stroke-width="1.6"/>
<text x="1882" y="1177.6" font-size="23" textLength="88" lengthAdjust="spacingAndGlyphs">&lt;0.0001</text>
<line x1="1882" y1="1182.4" x2="1964.6" y2="1182.4" stroke="#333333" stroke-width="1.6"/>
<line x1="1865.1" y1="1162.4" x2="1865.1" y2="1471.8" stroke="#333333" stroke-width="1.6"/>
<line x1="1854" y1="1162.4" x2="1865.1" y2="1162.4" stroke="#333333" stroke-width="1.6"/>
<text x="1843.2" y="1170.3" font-size="22.5" text-anchor="end" textLength="27.03" lengthAdjust="spacingAndGlyphs">10</text>
<line x1="1854" y1="1224.4" x2="1865.1" y2="1224.4" stroke="#333333" stroke-width="1.6"/>
<text x="1843.2" y="1232.3" font-size="22.5" text-anchor="end" textLength="13.51" lengthAdjust="spacingAndGlyphs">8</text>
<line x1="1854" y1="1286.4" x2="1865.1" y2="1286.4" stroke="#333333" stroke-width="1.6"/>
<text x="1843.2" y="1294.3" font-size="22.5" text-anchor="end" textLength="13.51" lengthAdjust="spacingAndGlyphs">6</text>
<line x1="1854" y1="1348.4" x2="1865.1" y2="1348.4" stroke="#333333" stroke-width="1.6"/>
<text x="1843.2" y="1356.3" font-size="22.5" text-anchor="end" textLength="13.51" lengthAdjust="spacingAndGlyphs">4</text>
<line x1="1854" y1="1409.8" x2="1865.1" y2="1409.8" stroke="#333333" stroke-width="1.6"/>
<text x="1843.2" y="1417.7" font-size="22.5" text-anchor="end" textLength="13.51" lengthAdjust="spacingAndGlyphs">2</text>
<line x1="1854" y1="1471.8" x2="1865.1" y2="1471.8" stroke="#333333" stroke-width="1.6"/>
<text x="1843.2" y="1479.7" font-size="22.5" text-anchor="end" textLength="13.51" lengthAdjust="spacingAndGlyphs">0</text>
<line x1="1854" y1="1471.8" x2="2113.4" y2="1471.8" stroke="#333333" stroke-width="1.6"/>
<line x1="1923.3" y1="1471.8" x2="1923.3" y2="1483.5" stroke="#333333" stroke-width="1.6"/>
<line x1="2055.9" y1="1471.8" x2="2055.9" y2="1483.5" stroke="#333333" stroke-width="1.6"/>
<text x="1883.5" y="1510.9" font-size="23.5" textLength="79.5" lengthAdjust="spacingAndGlyphs">Vehicle</text>
<text x="1985.3" y="1510.9" font-size="23.5" textLength="150.1" lengthAdjust="spacingAndGlyphs">GSK1016790A</text>
<text transform="rotate(-90 1799.2 1464.7)"><tspan x="1799.2" y="1464.7" font-size="27" textLength="266" lengthAdjust="spacingAndGlyphs">Lung c.f.u. per g (×10</tspan><tspan x="2066.4" y="1448.7" font-size="16" textLength="11" lengthAdjust="spacingAndGlyphs">4</tspan><tspan x="2077.9" y="1464.7" font-size="27" textLength="10" lengthAdjust="spacingAndGlyphs">)</tspan></text>
<line x1="1948.1" y1="1278.4" x2="1948.1" y2="1324.5" stroke="#333333" stroke-width="1.6"/>
<line x1="1931.7" y1="1301.7" x2="1964.5" y2="1301.7" stroke="#333333" stroke-width="1.6"/>
<line x1="1940.1" y1="1278.4" x2="1956.1" y2="1278.4" stroke="#333333" stroke-width="1.6"/>
<line x1="1940.1" y1="1324.5" x2="1956.1" y2="1324.5" stroke="#333333" stroke-width="1.6"/>
<line x1="2080.7" y1="1444.7" x2="2080.7" y2="1454.3" stroke="#333333" stroke-width="1.6"/>
<line x1="2064.7" y1="1449.5" x2="2096.7" y2="1449.5" stroke="#333333" stroke-width="1.6"/>
<line x1="2072.7" y1="1444.7" x2="2088.7" y2="1444.7" stroke="#333333" stroke-width="1.6"/>
<line x1="2072.7" y1="1454.3" x2="2088.7" y2="1454.3" stroke="#333333" stroke-width="1.6"/>
<line x1="1898" y1="1451" x2="1898" y2="1461" stroke="#333333" stroke-width="1.6"/>
<line x1="1882" y1="1456" x2="1914" y2="1456" stroke="#333333" stroke-width="1.6"/>
<line x1="1890" y1="1451" x2="1906" y2="1451" stroke="#333333" stroke-width="1.6"/>
<line x1="1890" y1="1461" x2="1906" y2="1461" stroke="#333333" stroke-width="1.6"/>
<line x1="2030" y1="1444" x2="2030" y2="1454" stroke="#333333" stroke-width="1.6"/>
<line x1="2014" y1="1449" x2="2046" y2="1449" stroke="#333333" stroke-width="1.6"/>
<line x1="2022" y1="1444" x2="2038" y2="1444" stroke="#333333" stroke-width="1.6"/>
<line x1="2022" y1="1454" x2="2038" y2="1454" stroke="#333333" stroke-width="1.6"/>
<rect x="1891.2" y="1432.4" width="15.2" height="15.2" fill="#7d9fc1" stroke="#1a1a1a" stroke-width="1.1"/>
<rect x="1884.8" y="1445.1" width="15.2" height="15.2" fill="#7d9fc1" stroke="#1a1a1a" stroke-width="1.1"/>
<rect x="1882.3" y="1453.7" width="15.2" height="15.2" fill="#7d9fc1" stroke="#1a1a1a" stroke-width="1.1"/>
<rect x="1889.3" y="1453.7" width="15.2" height="15.2" fill="#7d9fc1" stroke="#1a1a1a" stroke-width="1.1"/>
<rect x="1900.7" y="1451.4" width="15.2" height="15.2" fill="#7d9fc1" stroke="#1a1a1a" stroke-width="1.1"/>
<rect x="1896.6" y="1460.4" width="15.2" height="15.2" fill="#7d9fc1" stroke="#1a1a1a" stroke-width="1.1"/>
<rect x="2020.6" y="1429.2" width="15.2" height="15.2" fill="#7d9fc1" stroke="#1a1a1a" stroke-width="1.1"/>
<rect x="2025.4" y="1436.4" width="15.2" height="15.2" fill="#7d9fc1" stroke="#1a1a1a" stroke-width="1.1"/>
<rect x="2014.3" y="1441" width="15.2" height="15.2" fill="#7d9fc1" stroke="#1a1a1a" stroke-width="1.1"/>
<rect x="2022.2" y="1441" width="15.2" height="15.2" fill="#7d9fc1" stroke="#1a1a1a" stroke-width="1.1"/>
<rect x="2031.8" y="1453.7" width="15.2" height="15.2" fill="#7d9fc1" stroke="#1a1a1a" stroke-width="1.1"/>
<circle cx="1948.1" cy="1196.1" r="7.2" fill="#e9b4a7" stroke="#1a1a1a" stroke-width="1.1"/>
<circle cx="1948.7" cy="1240.6" r="7.2" fill="#e9b4a7" stroke="#1a1a1a" stroke-width="1.1"/>
<circle cx="1948.7" cy="1261" r="7.2" fill="#e9b4a7" stroke="#1a1a1a" stroke-width="1.1"/>
<circle cx="1948.1" cy="1301.7" r="7.2" fill="#e9b4a7" stroke="#1a1a1a" stroke-width="1.1"/>
<circle cx="1957.6" cy="1322.3" r="7.2" fill="#e9b4a7" stroke="#1a1a1a" stroke-width="1.1"/>
<circle cx="1939.2" cy="1332.8" r="7.2" fill="#e9b4a7" stroke="#1a1a1a" stroke-width="1.1"/>
<circle cx="1948.7" cy="1372.6" r="7.2" fill="#e9b4a7" stroke="#1a1a1a" stroke-width="1.1"/>
<circle cx="1948.1" cy="1387.5" r="7.2" fill="#e9b4a7" stroke="#1a1a1a" stroke-width="1.1"/>
<circle cx="2075.9" cy="1429.8" r="7.2" fill="#e9b4a7" stroke="#1a1a1a" stroke-width="1.1"/>
<circle cx="2085.5" cy="1430.4" r="7.2" fill="#e9b4a7" stroke="#1a1a1a" stroke-width="1.1"/>
<circle cx="2080.7" cy="1437.8" r="7.2" fill="#e9b4a7" stroke="#1a1a1a" stroke-width="1.1"/>
<circle cx="2071.1" cy="1460" r="7.2" fill="#e9b4a7" stroke="#1a1a1a" stroke-width="1.1"/>
<circle cx="2080.7" cy="1455.9" r="7.2" fill="#e9b4a7" stroke="#1a1a1a" stroke-width="1.1"/>
<circle cx="2087.1" cy="1456.8" r="7.2" fill="#e9b4a7" stroke="#1a1a1a" stroke-width="1.1"/>
<circle cx="2090.2" cy="1467" r="7.2" fill="#e9b4a7" stroke="#1a1a1a" stroke-width="1.1"/>
<clipPath id="hc1"><rect width="215" height="215"/></clipPath><g transform="translate(1033.1 26.3)" clip-path="url(#hc1)"><rect width="215" height="215" fill="#fbfafb"/><rect width="215" height="215" fill="#c066bd"/><path d="M61 22l1 4l2 1l3 1l2-3l-1-3zM80 30l-2-2l-4-1l-2 3l1 3l6-2zM82 40l-6 1l-2-4l0-1l6-1zM64 39l4-4l0 0l-1-1l-4-2l-2 5zM74 20l1 2l4 1l2-3l-1-4l-5 3zM92 19l0-1l-2-4l-5 1l0 0l2 3l4 1zM57 35l-2 1l-2-4l5-2l0 2zM66 44l1 2l2 1l1 0l1-1l1-1l-2-6zM61 18l0 0l7 0l0-2l-1-4l-3 0zM90 24l-5-1l-1 2l1 3l4-1zM90 33l-4 0l-1 1l2 4l0 0l5-1l1-1l0 0zM95 24l3 2l0 4l-2 2l-2-4l0-3zM61 56l-2 0l-1-2l0-2l4-2l3 1zM83 44l1 3l-2 3l-4-3l1-2l4-1zM74 14l5-2l0 0l-1-3l-5-1l-2 2zM60 43l1 2l-5 3l-1-3l0-3l0 0l2 0zM98 20l0 0l4-4l2 5l-4 0zM72 61l-4-1l-2-2l2-5l2 0zM104 26l3 0l1 0l2 4l-1 0l-6 1zM58 16l3-6l-3-2l0 0l-2 4l2 4zM76 60l-2-7l1-2l5 4l0 1l-4 4l0 0zM84 10l0-4l1-1l1-1l1 0l3 3l-1 2zM43 15l-1-2l-1-2l3-3l1 4zM114 28l4 0l2-5l-4-2l-3 3zM94 42l-6 1l2 3l4 3l0-1zM46 55l1 0l4-1l0-2l-1-2l-4 0zM118 15l6-2l-1 5l-1 0l-3-1zM45 46l4 0l1-4l-5 0l-1 3zM55 19l-8 2l0-3l2-2l2 0zM56 22l0 0l0 4l-5 1l-2 0l-1-3l0 0l8-2zM61 3l1-1l3-4l3 1l-1 5l-1 2l-2-1zM35 50l-1 4l2 3l5-2l-1-5l-1-1l-3 0zM36 3l3 0l3 1l0 0l-3 3l-2-1zM36 29l7-2l0 3l-2 4l-4-2zM56 2l-1-2l-2-3l-1 1l-2 4l5 0zM63 63l-1 5l-4-3l2-3l2 0zM26 36l4-2l1-1l-1-3l-1 0l-3 1l-2 3zM108 19l-2-5l0 0l4-2l1 0l1 2l0 2l-2 4zM87 55l2 1l3-2l1-2l-5-1l-2 3zM51 65l3-2l1-3l-2-2l-4 2zM51 10l-2-1l-1-3l0 0l1 0l5-1zM23 49l2-1l5 1l-1 5l-2-1zM43-6l4 3l-2 3l0 0l-2-1zM46 68l0-1l-2-6l-1 0l-5 1l0 1l3 6zM96 4l2-3l-2-1l-5 1l4 4zM96 16l-1-4l1-2l1 1l3 1l0 0zM35 44l4-1l1-3l-1-1l-3-2l-1 2zM41 23l0 0l-6 2l-1 0l-1-4l5-3l3 2zM102 2l0 0l-2 4l3 4l4-3zM102 35l7-1l-1 5l-3 1l-5-4l0 0zM129 25l-2-2l-2 1l-2 5l2 1l5-1l1-2zM18 32l2-3l-3-2l-3 0l0 0l0 5l1 1zM18 45l-1-1l-1-6l4 0l1 3l-1 2l-1 2zM23-1l-2-4l-3 2l-1 2l5 2zM24 65l3 2l5-5l0-1l-2-2l-2 1l-4 2zM85-19l-7 13l4 5l3-1zM72 65l-4 1l-3 4l0 3l7-3l1-5zM92 64l0-4l3-2l3 3l0 2zM54 75l2 0l4 0l0 0l-1-3l-3-2l-4 0l-1 2zM115 34l-1 4l3 2l4-1l-1-4l-2-1l-3 0zM15 61l3 2l1 3l-4 1l-4-2l2-3zM28 8l4-2l-1-3l-1-1l-2 1l-2 1l0 1zM73 80l-4 2l0 0l-3-5l0 0l6-2l1 1zM13 55l1-5l-1 0l-4 0l0 3l2 3zM72-2l3 0l4 4l-1 2l-5 0zM58 87l4-1l2-1l-2-6l-4 2l0 6zM85 70l-3 2l-4 0l-1-1l0-5l1 0l7 3zM12 44l-4 0l-1-1l1-4l3-1l0 0zM17 56l1-4l2 0l4 4l-4 3zM30 15l1 2l5-3l-1-2l-2-1l-3 2zM4 51l-3 2l-1-4l1-1l2 0l1 1zM104 51l-4 1l-1 1l0 1l3 4l4-1l0-1l0-2zM105 70l3 1l1-3l-2-6l-3 2l0 2zM112 0l-4-2l-3 2l5 5l1 0l2-4zM24 20l-3 3l3 3l4-1l-1-4l-1-1zM103 46l-5 1l-1-6l1-2l5 4zM87 66l-8-3l5-4l3 2l1 4zM22 14l-3-2l0 0l3-3l2 3l0 2zM92 71l3 3l2 1l3-2l-2-6l-5 2l-1 1zM6 8l2-1l1 0l3 4l0 0l-3 3l-2-2l-1-3zM8-4l2-1l2 2l-1 2l-1 2l-1 0zM9 23l-6 1l0-3l3-2l2 1l1 3zM-2 14l-1 2l2 2l3-3l-1-5zM8 60l-3-2l-3 0l-1 1l3 4l0 1l2-1zM109 47l0-2l2-2l3 2l0 3l-4 2zM41 79l3 3l0 0l4-5l-2-4l-4 2l-1 3zM35 74l2-2l-3-7l-5 5l1 2zM68 93l3 0l2-1l-4-3l-1-1l0 2zM35-2l3-2l1-4l-3-11l-2 16zM58 93l5-2l0 5l-2 2l-1 0l0-1l-2-2zM136 4l-3 3l-4 1l0-3l4-2l3 0zM10 27l-7 2l-1 1l1 1l2 1l4 1zM118 3l3 1l2 2l1 2l-1 1l-6 1l-2-2zM47 88l-2 5l1 1l6-2l0-2l0 0l-5-2zM38 83l3 3l-1 6l-4-2l0-4zM139 19l1 1l0 4l-4 1l-1-3l2-3zM117 65l-1-3l-4-2l-1 1l3 5l3 0zM0 0l-1-4l0-1l4 2l2 5l-3 2zM80 81l-1-1l-1-3l4 0l0 3zM133 15l-2 4l-3-2l1-4l0 0l2 1zM-4 9l3-2l0 0l-2-2l-8 1zM141 9l-2 4l-1 0l-2-2l3-4zM16 8l-3-4l3-1l4 2l0 0zM50 38l-4-1l-1-1l2-4l2 2l1 3zM0 42l0-3l0-4l3 3l-1 4zM47 98l0 0l2 3l6-1l-3-4zM145 26l2 1l1-1l1-1l3-3l-2-2l-4 2zM8 69l-1 1l0 7l1 0l3-3l0-2zM27 44l4 1l0-1l0-4l-4 1zM22 75l1-2l0-1l-2-1l-4 1l0 2l3 2zM87 79l0-3l2-2l3 3l-3 4zM3 77l0 0l0-7l-1 0l-4 1l-1 5zM27 79l1-3l6 2l0 2l-2 2l-3 0zM51 107l3 3l2 0l2-6l-2-1l-5 2zM8 86l-1-3l-1 0l-1 0l-1 4l1 3l2-1zM65 101l5 2l1 0l0-4l-3 0zM-1 86l-3-1l-1-3l1-1l5 0zM0 65l-5 1l-9-4l11-2zM52 80l2 1l0 5l-6-2zM147 5l-2-1l-2-1l-1-2l3-4l5 2l0 1zM78 86l-2-2l-4 2l4 3l1 0l0-1zM62 112l0 0l-1-1l1-6l0 0l6 3l-1 2zM38 107l3 1l3-2l1-1l-2-5l-5 5zM22 82l1 2l-1 2l-1 1l-2-2l2-3zM119 74l-1 3l-3 0l-3-3l2-2l4-1zM155 13l0 3l1 1l5 0l1-2l-2-4l-1 0zM75 114l2 1l1 0l0-6l0-1l-3 0l-1 1l0 2zM53 118l2-2l1 0l2 1l-1 4l-3 1zM83 122l1 6l-3 2l-3-3l2-5l1-1l2 1zM44 112l1 4l3-1l2-2l-3-2zM26 89l3 3l2-1l0-3l-3-1zM36 95l3 1l1 1l0 0l-4 5l-3-5l0-1zM22 93l-3 4l4 1l3-2l0-1l-3-2zM31 107l-4 0l-2-4l5-3l2 5l0 2zM16 80l-2-2l-3 3l2 1l1 0zM40 118l0-1l-2-3l-2-2l-1 0l0 6zM126 2l4-3l-2-6l-4 7zM45 124l2 2l1 0l1-2l-1-3l-3 0l-1 2zM171 16l2 0l0 5l-5 2l-1-4l1-1zM128 76l0 4l-1 1l-4-1l-1 0l2-3zM65 121l0 5l-3-1l-1-2l1-4l0 0zM25 118l-1-3l1-3l6 0l-1 6l-1 1l-4-1zM52 130l3 2l1 0l2-3l-1-2l-3 1zM26 130l0 0l4-1l0-5l-5-1zM162 4l0 0l3-2l-1-3l-5 2zM14 122l-4 0l1-5l3-2l4 1l0 3zM18 18l-2 2l-2 1l-1-3l2-3zM165 34l3 3l5-2l-6-6l-2 4zM161 29l2-3l0 0l-1-3l-5-1l-1 5zM74 138l3 0l1-4l-3-2l-3 0l0 4zM60 144l0-3l-3-3l-1 0l-1 2l1 4l4 0zM123 85l0 3l4 3l-1-5zM178 44l-3-5l0 0l-3 2l-1 2l4 2zM17 91l-2 4l0 0l-4-3l2-4l2 1zM22 135l1 0l0 3l-1 1l-5 1l0-3l2-2zM63 131l-3 3l4 2l2-2l0-2l-1-1zM136 85l-4 0l-1 1l0 4l0 1l4-1zM139 96l1 3l-4 2l-4-2l1-3l4-1zM129 103l-1 1l2 6l0 0l3-3l0-1zM153 97l-6 1l-1 0l-1-2l4-4zM161 91l-3-4l-4 0l0 1l0 2l3 4l0 0l4-1zM39 125l-4 3l0-1l-1-4l1 0l4 0zM17 102l-2 3l0 4l4 1l2-3l-1-3l-3-2zM41 129l4 1l-4 3l-2-1l-1-1zM147 89l-4 3l-2-2l0-4l0 0l7 1zM118 55l-1 1l-5 1l1-3l3-1l2 1zM41 139l0 2l-1 2l-2 0l0 0l-1-1l1-4zM7 112l-3-1l1-5l4 1l1 4zM71 123l-1 3l1 1l3-1l2-5l-2 0zM46 145l2 1l3 0l1 0l-2-4l-3 1zM170 11l-1-5l-1 0l-4 2l2 5zM175 33l0-1l-6-5l0 0l6-1l1 1l0 5zM185 10l2 1l4 1l0 0l-5 4l-3-4zM90 135l-1 3l-3 3l-2 1l-2-3l2-4l2-1l4 1zM180 49l-2 1l-1 3l3 3l1-4l1-3zM68 117l4 0l-3-4l-5 3zM186 40l-2 3l-1 1l-1-1l-3-5l1-1l4 0zM167 93l5-2l4 1l-1 4l-5 0l-3-2zM166 75l-2-3l0 0l6-3l2 0l-1 7l-1 0zM33 134l0 1l0 5l-5-2l0-4l4 0zM23 130l-2-6l0-1l-4 3l1 3zM192 52l0-3l-4 0l-1 0l1 2l2 2zM145 108l-4 0l-2-2l0-1l3-2l1 1zM203 60l3-3l1-2l-1-2l-3 3zM56 156l3-2l0-5l-3 1l0 1l0 3zM185 31l-5 2l2-6l3-1l1 2l0 0zM7 96l-1 0l-2 3l1 2l4 0l4-3zM169 58l5 0l3 2l-1 2l-1 1l0 1l-2-1zM112 132l-1-3l-1 0l-2 2l-1 2l0 3l4 0zM4 118l-3-2l-3 1l-1 4l1 1l4 2l3-2zM65 144l1-3l2-1l3 2l-3 3zM180 67l4 4l3-2l0-3l-5-1zM48 133l1 0l2 2l-1 2l-3 1l-1-2zM43 155l-3-1l-1-5l3 0l1 2l0 3zM106 144l2-2l3 0l3 2l-1 2l-4 0zM66 154l2-2l-1-2l-3-1l0 0l0 4zM183 61l0-2l2-3l3 2l0 4l0 0zM163 98l2 3l0 3l-1 1l-3-2l-1-3zM121 121l-2-5l6 1l-2 4l0 0zM181 93l1 0l3 0l2 2l-2 3l-3 1l-1-3zM176 76l5 0l0 0l1-2l-5-4l-1 0zM-4 103l3 0l1 2l0 5l-4 1l-1-2l1-6zM155 100l-6 3l2 4l0 0l2 0l2-2l0-5zM170-1l4-1l-5-23l-1 20l1 4zM-1 91l2 2l-2 3l-2 0l-1-4l0-2zM122 132l1 0l-2-5l-2 0l-3 1l2 2zM180 16l3 3l0 2l-3 1l-1-1l-1-5zM142 117l1-3l4-2l0 1l-1 5l-1 0zM139 128l1-1l2-4l-3-2l-2 1l0 3l0 1zM156 118l0-2l-3-3l-2 0l0 5l0 1zM200 53l3-4l-1-2l0 0l-2 0l-2 1l0 4zM151 6l3-4l1 0l2 4l-4 2zM163 121l4-1l2-1l-4-4l-3 3l0 1zM190 75l3 1l0 5l-2 0l-4-3l1-2zM196 21l-2-4l-1-1l-4 3l0 2l2 3zM174 82l1-1l5 0l-2 6l0 0l-3-2zM131 129l-1-2l-3-1l-1 1l1 5l1 0zM171 101l0 4l4 0l2-2l1-1l-2-1zM101 142l1-3l-1-3l-6 0l1 3l3 3zM204 65l1 2l1 1l2 0l3-4l-3-2l-4 3zM193 66l0 0l6-1l1 4l-5 2l-3-1zM92 147l-4-2l5-3l3 3l-1 1zM203 79l1-5l-2-1l-4 3l0 5l1 0zM183 104l1 1l3 5l1 1l2-5l-3-2zM202 20l3-1l3-1l-2-5l-6 3l2 4zM32 146l-5 4l-1-1l0-5l1-1l4 2zM195 87l-1 0l-1 0l-3 2l2 3l3-1l0-3zM13 131l-1 3l-6-3l1-2l2-2l2 1zM148 131l1-4l-1-3l0 0l-1 1l-3 4zM17 152l-5-4l-1 1l-1 3l2 3l1 1zM193 41l3 2l-2 1l-5 0l3-3zM70 158l1-3l3 1l-2 4l-2 0zM73 170l0-3l-1-1l-3 0l-3 2l1 4zM10 138l-5-2l-1 2l0 1l4 4l2-1l1-1zM208 46l1 3l2 1l3 0l0-2l-2-3zM100 150l1-2l2 0l1 2l0 3l-2 2l-1 0zM13 167l-5-1l1-2l2-2l2 0l0 1zM208 86l-3-1l-4 0l1 2l3 2l4-3zM199 61l-6 1l1-4l2-1l1 2l2 2zM164 129l0-2l4-2l0 5l-3 2l-1-1zM214 59l2-3l-1-1l-3 0l0 3l2 1zM117 140l-2-1l1-4l5 2l-3 3zM144 140l1-4l0 0l-3-2l-1 0l-2 6l1 0zM152 134l0 0l2-3l3 0l2 2l-4 2zM4 148l1-2l-4-5l-1 4l0 5zM4 161l-4-4l1-2l0 0l3-1l4 3zM120 150l-1-2l0-1l1-1l4 2l0 3l-3 0zM207 35l-1 6l1 1l4-3l2-3l-1-1l-2 0zM219 34l3 1l15-3l-15-2l-1 0l-3 2zM164 142l0-1l-1-3l-1-1l-2 2l-1 3zM151 144l1 1l1-2l1-3l-4-2l-1 5zM89 158l-2 2l1 2l1 3l1-1l2-3zM198 36l2-1l2 0l0 6l-3-1l-1-3zM180 107l4 6l-6 3l-1-1l1-4zM158 126l0-2l-1-1l-4 0l2 3zM-4 127l-3 6l6 0l1-1l1-3zM183 87l1-5l0 0l5 2l-3 3zM1 173l-3-1l-3 3l5 2l1-1zM192 34l-2-3l-1 3l1 2l2 0zM191 100l3 2l2 0l0-2l-1-2l-3 0zM173 110l0 6l-2 0l-3-4l0-2l1-1zM175 122l1 0l3 4l-4 3l-2-1l0-5l1-1zM187 117l-7 3l4 4l2 1l3-2l0 0l0-3l-1-3zM135 145l0 0l-2 0l-2 3l-1 2l1 1l5-1zM207 103l2-1l0-1l-3-2l-3 2l-1 2l1 0zM211 28l3 2l2-4l-4-4l0-1l-2 2zM219 93l4-4l-8 0l3 4zM202 24l4 0l1 5l-2 0l-1 0zM183 5l1-1l1-2l-2-2l-3 1zM187 136l5 0l-2-7l-3 2l0 5zM123 141l4 3l2-3l-3-3l0 0l-1 0zM47 160l1 2l3 3l2-2l0-3l-1-1l-4 0zM136 115l-4-1l4-3l1 2l0 2zM101 132l-5 0l-1 0l3-6l4 3zM221 17l-5 2l3 5l2-1l1-6zM41 160l-3 0l-3 1l2 3l1 1l3-2zM192 113l2 2l5-2l0 0l-1-5l0-1l-3 1zM199 5l-2 6l0 0l2 1l6-2l0-2l-4-3zM196 30l3-1l-2-4l0 0l-4 2l0 0zM59 163l3 2l3-3l-1-2l-2-1l-3 1zM34 149l-5 4l2 3l1 1l2-3l1-5zM87 151l-2-3l-1 0l-2 5l3 1l2-1zM212 108l1-2l3 2l-1 2l-2 1l-1-1zM19 160l-1-2l3-3l2 0l1 1l2 2l-3 3zM-3 185l1-4l-5-2l-13 2l16 6zM77 151l-3-1l-1-2l2-3l3-1l1 2l-1 5zM173 138l1-1l-1-2l-1 0l-4 1l1 4zM57 169l3 1l2 4l0 0l-7 1l-2-3l1-2zM2 168l-3-1l-3-3l2-2l4 3l0 2zM219 104l-3-2l0-1l1-1l2-1l1 2l-1 3zM50 179l-4 3l-1-5l4-2l1 3zM114 153l-1-3l-3 1l0 3l2 0zM55 188l-3 2l-2 0l-1 0l-2-3l0-1l5-2zM69 178l3 3l5-1l-1-4l-2-1l-6 1l0 0zM48 169l-1 2l-4 1l-1 0l-1-3l3-2zM41 183l0 0l-1-5l-1 0l-3 2l0 2l3 1zM216 65l4 2l-4 4l-3-2l2-3zM21 171l-3-1l-1-1l1-3l4 1l0 4zM216 42l2 3l2-2l0-2l-3-3zM156 110l4 3l1-2l1-1l-3-2zM78 158l-1 4l0 1l5-1l-1-3l-2-2zM183 136l0-6l-2 0l-2 3l0 2zM202 125l-7-1l0-4l5-1l3 4zM27 170l0-5l2-2l1 0l2 4l-4 3zM211 82l2-5l0-1l-2-1l-2-1l-1 5zM11 172l0 5l-4-2l0-3l1-1l3 1zM195 3l-2 6l-4-3l2-3l2-1zM19 184l-4 0l0 3l1 2l3-1l3-1l0 0zM218 13l-4-5l-1 0l-2 2l0 1l1 4l1 0zM81 172l4-2l1-1l-3-2l-4 1l0 3zM193 146l-5 1l1-6l5 0l0 0l1 2l-1 0zM149 150l2 0l1 3l-4 4l-2-1l-1-2zM25 177l-1 2l2 5l4-3l-1-2l-2-2l-1-1zM30 173l5-3l0 1l2 2l-4 3zM117 157l-2 1l1 3l3 1l0-5zM62 188l4 1l3-2l0-1l-3-3zM146 148l-4 4l-2-2l0-5l4 1zM170 147l3 1l3-1l-3-3l-3 1l-1 1zM208 115l1 1l0 4l-3 1l-2-5l0 0zM123 157l4-1l1 1l0 4l0 0l-4 2l0-1zM99 172l-6-2l-1 0l-1 1l2 5l6-2zM39 193l1-4l3-1l2 4l-5 1zM139 157l1 1l-2 1l-4 1l-1-4l4 0zM191-4l-4-4l0 4l2 2l2 0zM136 139l2-6l-3-1l-4 4l3 3zM142 164l0 4l2 1l2-4l-1-2l-1-1zM207-2l3-1l1 6l-3 1l-3-3zM125 171l1 1l3 2l1-2l-2-5l-3 1zM163 149l-1 2l-3 1l-1-1l-2-2l2-2l5 0zM79 184l2 2l0 3l-4 2l-2-4l0-1zM180 145l-2-3l1-2l4 1l0 0l0 5l0 0zM180 158l-2 0l-1-1l0-4l2-1l3 0l-1 5zM115 166l-4 3l4 1l4-1l0-2l0-1zM60 192l2 2l1 1l-2 3l-2 1l-2-5l2-2zM88 191l-1-1l-1-4l4 0l2 2l-1 2zM206 108l-4-1l1 5l3-2zM83 177l4-3l2 5l-1 1l-3 1l-2-1zM148 174l0-2l2-5l4 1l-2 5l-4 1zM133 165l0 1l1 3l4 0l-1-4zM27 198l-1 1l-1-1l-2-4l2-3l4 5zM68 193l1 1l4 2l0-2l-2-4zM217 122l-3-2l1-3l2-1l4 4zM206 138l-6 2l-1-3l5-4l2 3zM217 133l-5 3l0 2l2 1l3 0l3-2zM197 150l1 4l5-1l0-2l-4-4zM84 196l-2-2l-3 2l-1 2l0 1l3 2l2-2zM107 173l0 0l-2 1l0 1l1 3l5 1l0 0l-1-4zM100 182l0-4l-5 3l-1 1l3 2l3 0zM90 196l2 0l2 1l0 4l-4-3zM110 160l-3-1l-2 2l2 5l1 0l2-3zM160 157l0 5l3 1l2-4l-2-2zM51 196l0 4l3 3l1-3l-2-4zM143 176l-2-1l-2-1l-3 1l-1 2l0 3l3-1zM193 159l1-3l-3-4l-4 0l0 0l0 5zM72 200l0 1l-3 3l-3-3l2-2zM151 160l4-4l1 2l0 4l-1 1l-3-1zM100 161l1 1l2 5l-2 2l-6-3l3-4zM174 163l-2 4l-3-1l-2-1l2-3l3-1zM181 164l-3 1l-1 4l1 3l2 0l2-4zM-2 197l-3 3l1 5l2 0l1-2l1-4zM106 184l5 0l-1 5l-3-2l-1-1zM97 192l0-3l4 0l0 2l-1 2l-2 1zM214 126l-3 0l-3 0l-1 2l0 1l3 3l5-3zM174 175l-2-3l-4 0l-2 4l2 1l4 0zM34 192l1-4l-3-2l-3 2l0 0l3 4zM159 168l3 1l1 1l-1 4l-3 0l-2-1l2-4zM21 144l0 5l-2 0l-4-3l1-2zM20 175l-5-1l0 4l0 1l3-1zM189 171l-3 0l-2 4l4 1l0 0l3-1zM218 150l2-2l-1-5l-5 1l0 2zM129 182l-1 1l-3 1l-2-3l2-3l4 1zM201 144l0-1l6-1l1 1l0 2l-2 2zM139 192l0 1l-4-1l-2-5l1-2l4 1l1 4zM152 183l-3-4l5-1l1 2l-1 4l0 1zM172 185l0-3l-5 0l1 4l0 1l1 0zM211 90l0 0l2 5l-1 2l-3-3l0-1zM120 174l0 2l-1 2l-3 1l0-4zM111 202l0-1l2-5l3 0l0 6l-3 2l-1-1zM180 185l4-5l-4-2l-1 0l-1 2l-1 3zM76 217l-3 2l-5-2l0-2l2-2l5 1zM35 203l-3-3l2-2l1 0l1 1l1 2zM199 161l0 0l1-2l4-1l1 1l0 6l-3-1zM194 169l1 4l2-1l2-3l-3-4zM46 206l3-1l3 2l-1 1l-1 1l-3-1zM168 151l4 2l-1 3l-2-1l-1-1zM209 152l2-2l5 3l-1 2l-5-1l-1 0zM100 200l1-1l4 2l0 1l-7 2l0-1zM3 189l6 0l1 2l-2 3l-5 0l-2-2l0-1zM204 171l3-1l0 1l1 5l0 0l-4 1l-3-2zM20 199l-3 1l-2-2l-1-1l1-3l3 0zM8 200l0-1l-4 0l0 5l3-2zM201 129l0 1l-5 4l0 0l-3-6l1 0zM211 165l4-1l1-3l0-2l-6 0l0 6zM212 169l4 0l1 1l0 3l-5 3zM184 187l3 2l4-1l-3-5l-1 0l-3 4zM10 212l-4 1l-3-2l-1-1l1-1l3-1zM13 216l-3 2l0 2l4 5l1-5l-2-4zM128 195l-4-3l2-3l3 0l1 4zM158 185l5 0l-1-4l0 0l-2-1zM3 185l1-4l2-1l3 1l1 1l-1 3zM204 186l4 1l1-3l0-2l-5 0zM59 185l4-4l0-3l-7 2l0 1l2 4zM24 209l0-4l-2 0l-1 0l-2 4l4 0zM40 216l5 3l2-2l1-2l-3-1zM33 215l-3 4l-3-2l1-3l0 0l4 0zM128 212l0-1l-4-5l4-3l2 6zM93 152l3-1l1 5l-2 0l-2-2zM13 209l-2-2l1-4l4 2l-2 3l-1 1zM178 190l-2 3l-1 1l-3-3l3-3l3 2zM48 154l0-3l3 0l0 3zM88 213l-5 2l-1 0l-1-2l2-4l5 4zM58 208l5 4l2-3l0-1l-3-3l-2 0l-2 2zM149 189l-3 2l-2 3l5 1l2-1l1-4zM78 206l0 0l-3-2l-3 3l-1 2l5 1zM138 198l-4 0l-2 2l0 1l2 5l3 0zM38 209l-1 1l1 2l0 0l3-2l0-3l-1-1zM203 94l0 1l-3 2l-1-3l1-3zM22 214l-4 0l-1 0l1 4l4-1zM154 199l4 2l0 1l-2 4l-1 1l-2-3l-1-4zM115 185l0 0l3 0l2 2l-2 2l-1 1l-2 0l0-1zM43 200l1 1l2-1l1-4l-1 0l-4 2zM101 215l1 2l-3 1l-3-2l-1-2l0 0l2-3zM116 209l2 4l0 0l6 0l-4-6l-1 0zM88 223l-3-4l5-4l0 3zM147 184l-2-4l0 0l-3 3l1 4zM216 2l2-2l0-2l-4-3l0 2l1 5zM1 216l-1 3l1 4l2-3l1-2zM213 188l5 1l-2 5l0 0l-4-2l0-1zM190 165l-3 0l-2-3l1-1l6 1l0 0zM88 203l-3 2l0 1l6 3l2-2l0-1l-1-1zM126 217l-1 0l-5 1l0 13l6-12zM197 179l2 2l-1 4l-2 2l-1-1l-2-5l2-2zM214 180l0 0l4-2l2 1l0 5l-1 0l-4-1zM199 191l1 5l4-2l1-2l0-1l-3-1zM194 193l0 4l0 2l-6 1l0-1l2-4l3-2zM110 210l2 0l1 5l-5 1l-1 0l1-2zM177 200l6 2l0 1l-2 4l-4-1l-2-1l-1-1l2-4zM182 192l2 2l0 5l-4-3zM206 204l0 0l-4 2l-1 0l-2-4l1-1l4-1zM181 218l-2 2l-2-3l0-5l5 0l0 1zM107 192l-2 3l3 3l2-5l0 0zM137 212l-2 1l-3 2l0 1l4 4l5-3l-3-5zM157 190l1 0l4 0l1 1l-3 5l-4-2zM106 205l-7 2l0 1l5 3l4-4zM163 205l5 1l0 1l-3 4l-6-2zM194 204l2 4l-5 2l-4-1l0 0l1-4zM213 204l0 0l2 2l3-1l-1-4l0-1l-1 1zM209 219l1 0l4 3l0-4l-2-1zM146 200l0 4l-4 2l-1 0l1-7l0-1zM31 207l1 3l-4-1l0-4l1-1zM157 213l-2 4l3 2l4-2l-1-2l-4-2zM144 211l3 4l1 1l2-1l2-4l-3-2zM200 213l2 3l-7 3l1-5l3-2zM209 208l2 3l-1 2l-3 2l0 0l-2-4zM191 220l0-4l-5-3l0 7l5 0zM210 201l-1-3l1-3l4 3zM126 198l-5-3l-1 1l1 5l1 0l4-2zM216 213l2 1l1 0l1-3l-1 0l-3 0z" fill="#fbfafb" stroke="#fbfafb" stroke-width="4.4" stroke-linejoin="round"/><ellipse cx="53" cy="102" rx="17" ry="16" transform="rotate(0 53 102)" fill="#fbfafb" stroke="#fbfafb" stroke-width="0" /><ellipse cx="79" cy="142" rx="30" ry="18" transform="rotate(0 79 142)" fill="#fbfafb" stroke="#fbfafb" stroke-width="0" /><ellipse cx="11" cy="47" rx="10" ry="16" transform="rotate(0 11 47)" fill="#fbfafb" stroke="#fbfafb" stroke-width="0" /><ellipse cx="19" cy="185" rx="13" ry="18" transform="rotate(0 19 185)" fill="#fbfafb" stroke="#fbfafb" stroke-width="0" /><ellipse cx="159" cy="129" rx="10" ry="18" transform="rotate(0 159 129)" fill="#fbfafb" stroke="#fbfafb" stroke-width="0" /><ellipse cx="196" cy="47" rx="15" ry="16" transform="rotate(0 196 47)" fill="#fbfafb" stroke="#fbfafb" stroke-width="0" /><ellipse cx="199" cy="146" rx="12" ry="14" transform="rotate(0 199 146)" fill="#fbfafb" stroke="#fbfafb" stroke-width="0" /><ellipse cx="82" cy="189" rx="18" ry="9" transform="rotate(0 82 189)" fill="#fbfafb" stroke="#fbfafb" stroke-width="0" /><ellipse cx="127" cy="202" rx="10" ry="10" transform="rotate(0 127 202)" fill="#fbfafb" stroke="#fbfafb" stroke-width="0" /><path d="M82 2h.1M12 145h.1M0 136h.1M216 96h.1M183 126h.1M205 129h.1M-1 153h.1M39 14h.1M210 135h.1M198 104h.1M198 100h.1M176 133h.1M208 157h.1M185 127h.1M48 29h.1M64 46h.1M52 39h.1M53 39h.1M54 51h.1M59 58h.1M86 49h.1M154 20h.1M167 26h.1M89 1h.1M102 -1h.1M136 107h.1M141 112h.1M33 27h.1M218 51h.1M214 5h.1M216 5h.1M212 17h.1M213 114h.1M191 124h.1M191 118h.1M210 105h.1M217 77h.1M185 150h.1M177 137h.1M186 139h.1M186 140h.1M47 58h.1M49 68h.1M41 47h.1M35 59h.1M43 57h.1M80 24h.1M38 11h.1M47 4h.1M67 49h.1M62 60h.1M64 77h.1M103 61h.1M94 55h.1M71 51h.1M75 63h.1M119 80h.1M119 81h.1M186 24h.1M163 19h.1M166 25h.1M176 22h.1M210 59h.1M102 13h.1M94 7h.1M126 10h.1M132 0h.1M126 5h.1M177 35h.1M153 27h.1M121 32h.1M108 57h.1M194 12h.1M194 12h.1M186 20h.1M185 6h.1M194 -1h.1M170 123h.1M124 123h.1M128 115h.1M129 113h.1M20 151h.1M23 152h.1M1 26h.1M1 31h.1M9 3h.1M10 16h.1M-2 56h.1M2 66h.1M5 68h.1M32 55h.1M213 19h.1M216 32h.1M205 34h.1M165 108h.1M173 118h.1M193 106h.1M189 113h.1M130 93h.1M209 71h.1M215 63h.1M69 6h.1M60 1h.1M59 27h.1M71 36h.1M61 30h.1M57 39h.1M63 42h.1M85 42h.1M94 38h.1M97 35h.1M59 125h.1M91 67h.1M88 69h.1M190 28h.1M201 32h.1M91 11h.1M96 20h.1M116 18h.1M114 12h.1M110 8h.1M117 1h.1M144 20h.1M137 15h.1M178 34h.1M119 67h.1M152 111h.1M150 120h.1M133 125h.1M138 119h.1M137 119h.1M5 16h.1M23 28h.1M12 23h.1M24 5h.1M31 0h.1M34 1h.1M0 46h.1M34 47h.1M33 47h.1M167 107h.1M140 83h.1M191 84h.1M197 94h.1M49 13h.1M43 17h.1M71 20h.1M106 44h.1M116 44h.1M117 51h.1M105 48h.1M73 96h.1M77 93h.1M79 118h.1M70 107h.1M74 106h.1M15 141h.1M13 138h.1M24 142h.1M25 141h.1M4 129h.1M65 88h.1M175 14h.1M176 1h.1M108 22h.1M112 33h.1M143 9h.1M175 48h.1M181 58h.1M175 54h.1M186 34h.1M82 204h.1M125 134h.1M148 135h.1M213 208h.1M46 149h.1M28 158h.1M34 167h.1M40 176h.1M4 168h.1M21 35h.1M25 38h.1M23 5h.1M28 11h.1M22 18h.1M27 56h.1M190 95h.1M186 90h.1M188 100h.1M198 86h.1M206 80h.1M213 85h.1M191 64h.1M202 63h.1M186 74h.1M174 68h.1M58 5h.1M51 13h.1M71 111h.1M38 146h.1M34 145h.1M51 118h.1M170 1h.1M160 8h.1M166 17h.1M91 31h.1M102 24h.1M94 20h.1M156 0h.1M154 -1h.1M152 11h.1M147 7h.1M174 140h.1M166 189h.1M185 210h.1M173 206h.1M175 209h.1M115 149h.1M140 130h.1M148 136h.1M132 142h.1M137 141h.1M117 216h.1M185 211h.1M199 208h.1M201 211h.1M209 206h.1M76 202h.1M69 209h.1M62 201h.1M67 196h.1M74 198h.1M6 216h.1M0 188h.1M3 7h.1M30 97h.1M34 105h.1M14 76h.1M178 98h.1M171 67h.1M43 137h.1M115 180h.1M179 148h.1M163 176h.1M129 165h.1M172 171h.1M167 169h.1M169 158h.1M173 158h.1M173 180h.1M188 179h.1M185 202h.1M197 199h.1M166 190h.1M170 204h.1M210 179h.1M207 166h.1M209 168h.1M125 135h.1M120 142h.1M117 143h.1M108 149h.1M116 192h.1M131 186h.1M120 191h.1M124 186h.1M154 175h.1M158 178h.1M156 188h.1M133 181h.1M209 191h.1M206 198h.1M209 206h.1M49 202h.1M50 214h.1M56 205h.1M49 192h.1M16 162h.1M77 166h.1M74 163h.1M67 163h.1M16 211h.1M19 203h.1M13 213h.1M31 179h.1M31 182h.1M40 72h.1M46 85h.1M45 86h.1M49 70h.1M20 113h.1M13 112h.1M8 123h.1M8 115h.1M4 81h.1M15 99h.1M15 71h.1M7 67h.1M20 62h.1M22 67h.1M173 87h.1M172 80h.1M165 77h.1M150 87h.1M152 84h.1M160 84h.1M158 97h.1M165 93h.1M32 131h.1M35 131h.1M32 121h.1M81 205h.1M92 212h.1M91 212h.1M101 196h.1M108 201h.1M108 156h.1M101 186h.1M186 167h.1M197 162h.1M208 190h.1M213 184h.1M201 180h.1M202 188h.1M158 164h.1M156 153h.1M166 145h.1M140 172h.1M147 161h.1M138 183h.1M147 176h.1M44 210h.1M42 203h.1M36 216h.1M36 215h.1M51 171h.1M45 185h.1M39 187h.1M66 176h.1M67 180h.1M59 189h.1M54 157h.1M51 167h.1M45 156h.1M35 196h.1M41 202h.1M37 77h.1M37 80h.1M22 121h.1M23 119h.1M17 132h.1M26 131h.1M16 86h.1M24 89h.1M19 91h.1M108 202h.1M97 197h.1M87 199h.1M114 173h.1M106 168h.1M122 165h.1M173 197h.1M175 186h.1M180 189h.1M181 189h.1M193 175h.1M197 177h.1M203 168h.1M195 161h.1M190 167h.1M139 162h.1M161 201h.1M121 165h.1M112 163h.1M116 153h.1M138 143h.1M147 144h.1M149 148h.1M128 214h.1M140 210h.1M140 196h.1M141 195h.1M153 195h.1M154 188h.1M149 185h.1" stroke="#3e1f6c" stroke-width="2.4" stroke-linecap="round"/><circle cx="145.9" cy="53.7" r="26.0" fill="#fbfafb"/><circle cx="145.9" cy="53.7" r="22" fill="none" stroke="#a452a4" stroke-width="9"/><path d="M135 35h.1M124 60h.1M140 75h.1M138 72h.1M167 62h.1M163 43h.1M148 78h.1M149 30h.1M155 33h.1M165 70h.1M165 36h.1M147 28h.1M169 64h.1M132 73h.1M124 63h.1M161 73h.1M147 72h.1M157 70h.1M144 74h.1M163 67h.1M137 75h.1M130 40h.1M154 33h.1M149 77h.1M153 33h.1M165 54h.1M129 42h.1M163 68h.1M147 72h.1M142 73h.1M137 76h.1M164 65h.1M128 66h.1M150 30h.1M126 50h.1M125 46h.1M160 74h.1M162 40h.1M125 53h.1M147 32h.1M149 72h.1M134 39h.1M168 51h.1M150 31h.1M154 32h.1M149 30h.1M158 39h.1M145 32h.1M159 37h.1M127 68h.1M152 77h.1M132 37h.1M149 77h.1M166 63h.1M163 42h.1M128 60h.1M129 44h.1M135 37h.1M126 44h.1M126 65h.1M121 50h.1M137 34h.1M161 41h.1M166 38h.1M168 61h.1M161 41h.1M123 48h.1M147 32h.1M162 37h.1M126 45h.1M153 34h.1M144 77h.1M164 62h.1M131 72h.1M146 75h.1M139 34h.1M164 39h.1M145 74h.1M153 31h.1M150 77h.1M162 38h.1M169 58h.1M131 74h.1M133 72h.1M164 66h.1M147 74h.1M125 55h.1M123 62h.1M132 74h.1M128 40h.1M138 75h.1M161 66h.1M164 37h.1M166 58h.1M124 43h.1M160 36h.1M155 37h.1M130 38h.1M124 47h.1M169 43h.1M126 52h.1M164 49h.1M127 40h.1M130 39h.1M131 66h.1M145 74h.1M135 74h.1M127 55h.1M145 75h.1M123 45h.1M132 69h.1M163 62h.1M168 61h.1M168 55h.1M158 36h.1M163 39h.1M164 65h.1M125 55h.1M142 35h.1M132 71h.1M125 55h.1M146 31h.1M165 50h.1M131 41h.1M130 40h.1M126 66h.1M164 44h.1M131 34h.1M132 74h.1M127 43h.1" stroke="#45206e" stroke-width="2" stroke-linecap="round" opacity="0.8"/><circle cx="145.9" cy="53.7" r="26.6" fill="none" stroke="#7a2c80" stroke-width="1"/><circle cx="101.6" cy="103.5" r="25.5" fill="#fbfafb"/><circle cx="101.6" cy="103.5" r="21.5" fill="none" stroke="#a452a4" stroke-width="9"/><path d="M96 80h.1M84 97h.1M120 100h.1M118 94h.1M81 110h.1M120 103h.1M84 120h.1M112 121h.1M100 81h.1M85 119h.1M119 86h.1M122 111h.1M119 109h.1M119 115h.1M121 96h.1M111 88h.1M81 98h.1M86 116h.1M102 127h.1M109 86h.1M123 104h.1M86 92h.1M120 93h.1M97 123h.1M120 120h.1M104 125h.1M107 85h.1M83 104h.1M118 95h.1M91 119h.1M104 127h.1M119 114h.1M125 99h.1M122 117h.1M122 116h.1M97 126h.1M116 118h.1M88 117h.1M80 91h.1M121 101h.1M87 118h.1M118 118h.1M87 121h.1M112 119h.1M120 117h.1M121 111h.1M82 99h.1M115 85h.1M90 87h.1M81 101h.1M100 83h.1M109 84h.1M122 110h.1M82 109h.1M79 106h.1M79 109h.1M116 85h.1M91 120h.1M114 88h.1M120 113h.1M86 121h.1M81 95h.1M102 80h.1M97 121h.1M116 85h.1M111 119h.1M92 82h.1M82 105h.1M91 119h.1M85 93h.1M89 88h.1M79 94h.1M89 88h.1M80 94h.1M104 124h.1M83 95h.1M82 106h.1M92 124h.1M113 121h.1M84 101h.1M124 106h.1M124 110h.1M111 87h.1M99 79h.1M123 104h.1M83 107h.1M78 100h.1M84 117h.1M123 99h.1M124 108h.1M119 95h.1M106 85h.1M112 84h.1M99 124h.1M105 79h.1M82 106h.1M122 101h.1M115 122h.1M80 100h.1M120 95h.1M110 124h.1M85 112h.1M92 124h.1M115 82h.1M104 80h.1M78 102h.1M126 97h.1M89 119h.1M111 119h.1M123 107h.1M81 97h.1M94 84h.1M86 92h.1M109 83h.1M117 92h.1M87 90h.1M122 101h.1M89 87h.1M105 83h.1M90 120h.1M115 84h.1M105 125h.1M118 90h.1M109 86h.1M89 121h.1M120 110h.1M116 120h.1M115 116h.1M106 80h.1M84 98h.1" stroke="#45206e" stroke-width="2" stroke-linecap="round" opacity="0.8"/><circle cx="101.6" cy="103.5" r="26.1" fill="none" stroke="#7a2c80" stroke-width="1"/></g>
<clipPath id="hc2"><rect width="215" height="215"/></clipPath><g transform="translate(1278.1 26.3)" clip-path="url(#hc2)"><rect width="215" height="215" fill="#fbfafb"/><rect width="215" height="215" fill="#bd5bb9"/><path d="M87 194l-4 14l3 2l10 0l6-5l-9-13l-2-1zM111 213l8-2l0 0l4 13l-10 22l-7-29zM70 188l-8 6l7 12l6 0l3-14zM110 185l-10 3l9 13l8-1l-1-8zM54 217l7-7l-7-11l-2-1l-7 6l3 10zM18 249l5-22l-6-9l-8-1l-1 9zM-37 211l23 11l10-1l3-8l-4-5zM133 223l8-2l4-4l0-10l-18 2zM8 191l12 3l3 5l-7 7l-7 0l-3-4zM-2 188l-4 12l-31 6l-8-1l36-23l5 3zM38 195l-5-2l-2-4l3-7l6-2l6 10zM74 178l8 4l5-2l-2-16l-8 2l-3 8zM128 191l-1 11l0 0l16-4l4-4l0-1l-5-7l-6-1zM40 217l-9 4l-6-9l6-7l5 2zM157 215l12 4l4-1l-1-9l-15-9l-3 5zM63 181l-7 5l-2 0l-6-9l3-6l11 5zM115 163l-6-9l6-7l4-1l8 7l-3 8zM134 166l2-7l6-1l4 6l-3 11l-5-3zM156 168l9 0l2 3l-1 5l-10 10l-5-8zM92 151l8-3l5-7l-10-10l-10 2zM93 163l1-1l7-2l5 9l-1 6l-9 4l-2 0zM64 167l-10-4l0-4l7-7l8 8zM76 153l-9-8l1-5l11-5l0 0l6 17l-1 1zM9 182l12 1l5-7l-7-6l-1 0l-10 9zM97 109l-6 11l-9 3l0 0l-5-15l2-2l12 0zM151 151l5-6l8-2l3 3l-2 12l-10-1zM-3 136l5 1l5 4l-1 8l-9 0l-3-7l3-5zM74 126l-6-16l-11 1l-4 11l9 8zM191 149l-6 10l-8 4l-3-3l3-12l14 0zM43 119l-8 2l-8-7l-1-3l2-6l14-3l5 6zM172 185l10 7l1 2l-7 7l-16-7l0-2zM39 168l3-3l0-4l-7-6l-7 9l7 6zM203 145l12 11l1-1l5-14l-4-7l-12 4l-3 6zM198 151l13 12l-4 5l-7 1l-5-5zM91 95l-13 1l1-11l9-4l2 2zM56 138l-1 5l-8 8l-8-6l-2-5l3-7l6-2zM204 127l-7-11l8-6l6 1l6 8l-2 5zM2 175l10-10l-6-6l-7 2l-2 7l1 3zM16 153l4 4l1 0l7-7l-1-5l-9 2zM11 131l10-9l8 7l-3 6l-9 1zM211 87l-5 5l1 7l5 0l5-7l-3-4zM118 173l6-1l5 6l-7 5l-6-6zM227 96l31 5l-32 13l-6-9zM222 167l-4 7l4 10l3 2l52-7l-54-12zM150 228l7 18l9-19l-13-3zM62 83l6 5l0 10l-1 2l-10 1l-4-5l0-2zM44 63l-2-4l9-6l7 0l3 1l0 3l-3 8zM203 217l-2 1l-17 1l0-1l1-8l5-8l6 2zM66 28l0 15l3 3l8-7l0-10zM14 93l-12 1l-4 6l3 3l13 2l3-5zM-1 126l0-15l15 3l0 3l-9 8zM211 188l-3-10l-9 3l-5 8l1 2l5 1zM213 75l-7-10l9-3l7 0l3 2l-7 12zM68 71l2-9l14 6l0 6l-10 3l-5-3zM36 53l5-8l-3-11l-1 0l-8 8l6 11zM30 71l-8 7l-6-12l1-1l13-1l1 0l1 3zM92 19l13 7l5-8l-9-6l-7 4zM189 35l15-4l3-3l-4-6l-11-4l-5 2l-1 3zM34 81l-9 6l-1 2l3 6l14-1l-1-2zM179 172l0 5l8 8l4-10l-5-4zM42 76l6 11l8-11l-1-2l-12-4zM87 50l-4-2l-9 5l0 2l13 6l2-4zM161 22l13-4l1-3l-13-11l0 0l-6 9zM181 10l-14-12l11-9l11 7l-4 11zM145 9l8-10l-4-2l-13 0l-2 3l-1 10l2 1zM13 84l-11 1l-1-7l3-5l4-1l5 9zM123 10l-7 2l-8-7l-1-12l15 7zM217 24l7 1l5-10l-8-5l-5 9zM78 6l3 8l-1 3l-2 1l-10 1l0-1l3-12zM-11 32l9-5l5 6l1 3l0 1l-10 3zM29 56l-15 1l0-12l0-1l5 2zM102 33l0-1l-13-6l-3 2l2 9l5 2zM195 8l13 6l6-12l-2-4l-1-1l-10 0l-1 0zM26 14l5-5l8 1l3 8l-5 4l-2-1l-8-5zM225 52l0-14l-2-2l-6-1l-2 3l1 11zM3-1l17-9l1 1l1 9l-3 6zM0 5l1 12l7 7l6-9l-1-2l-13-8zM92-6l7-2l0 0l-1 9l-8 6l-3-8zM62 2l-2 13l-8-1l-2-9l3-8l7 1zM58 26l-7 0l-5 3l3 13l10 0l-1-16zM218 210l1-13l-2-2l-12 6l6 13l6-2zM44-8l-2-2l-13-2l4 11l8 1zM-5 49l11-3l0 13l-1 1l-4 1l-8-7zM20 22l11 7l-10 5l-6 1l0-4zM75-18l-6 10l3 3l5 0l6-5z" fill="#fbfafb" stroke="#fbfafb" stroke-width="10" stroke-linejoin="round"/><ellipse cx="30" cy="120" rx="28" ry="40" transform="rotate(0 30 120)" fill="#fbfafb" stroke="#fbfafb" stroke-width="0" /><ellipse cx="110" cy="175" rx="25" ry="18" transform="rotate(0 110 175)" fill="#fbfafb" stroke="#fbfafb" stroke-width="0" /><ellipse cx="60" cy="40" rx="20" ry="15" transform="rotate(0 60 40)" fill="#fbfafb" stroke="#fbfafb" stroke-width="0" /><path d="M94 125h.1M11 40h.1M8 40h.1M75 101h.1M29 3h.1M117 20h.1M101 6h.1M49 20h.1M43 6h.1M113 142h.1M61 146h.1M80 130h.1M49 166h.1M36 59h.1M21 16h.1M71 105h.1M63 136h.1M81 130h.1M72 84h.1M90 66h.1M109 32h.1M84 41h.1M64 21h.1M62 22h.1M87 12h.1M179 208h.1M213 171h.1M42 174h.1M7 211h.1M29 198h.1M36 76h.1M214 28h.1M208 36h.1M93 46h.1M109 35h.1M188 164h.1M174 169h.1M172 143h.1M132 152h.1M84 216h.1M52 193h.1M3 181h.1M3 185h.1M213 54h.1M209 81h.1" stroke="#44206e" stroke-width="4" stroke-linecap="round"/><circle cx="149.3" cy="81.3" r="40" fill="#fbfafb"/><circle cx="149.3" cy="81.3" r="47.5" fill="none" stroke="#a5479f" stroke-width="17"/><path d="M188 66h.1M190 60h.1M147 123h.1M195 99h.1M187 106h.1M176 120h.1M137 30h.1M121 49h.1M164 130h.1M115 111h.1M121 121h.1M110 115h.1M158 129h.1M99 87h.1M169 123h.1M166 129h.1M169 32h.1M139 28h.1M127 126h.1M136 121h.1M169 128h.1M113 102h.1M140 41h.1M124 117h.1M105 81h.1M111 101h.1M191 108h.1M184 54h.1M117 43h.1M202 84h.1M125 127h.1M136 131h.1M142 130h.1M151 125h.1M129 127h.1M117 38h.1M198 85h.1M142 35h.1M186 113h.1M135 128h.1M184 48h.1M191 59h.1M190 60h.1M132 128h.1M127 39h.1M189 117h.1M101 83h.1M167 120h.1M105 80h.1M128 127h.1M183 53h.1M143 39h.1M191 94h.1M143 35h.1M133 39h.1M183 46h.1M141 124h.1M110 56h.1M123 117h.1M128 130h.1M165 41h.1M144 133h.1M144 125h.1M191 49h.1M111 107h.1M105 94h.1M133 132h.1M189 90h.1M174 39h.1M103 61h.1M182 106h.1M136 120h.1M162 34h.1M103 86h.1M188 116h.1M185 118h.1M140 36h.1M121 46h.1M190 104h.1M119 49h.1M195 57h.1M196 55h.1M180 50h.1M136 33h.1M120 45h.1M140 123h.1M155 32h.1M108 115h.1M102 62h.1M116 114h.1M100 102h.1M194 74h.1M105 81h.1M110 112h.1M100 92h.1M134 39h.1M136 127h.1M114 55h.1M194 67h.1M186 47h.1M192 103h.1M200 81h.1M203 81h.1M116 45h.1M168 36h.1M115 47h.1M157 30h.1M197 89h.1M139 129h.1M142 129h.1M154 125h.1M144 131h.1M105 94h.1M181 44h.1M139 131h.1M190 76h.1M132 31h.1M141 131h.1M195 105h.1M201 74h.1M134 127h.1M128 45h.1M129 46h.1M128 46h.1M137 127h.1M104 80h.1M167 125h.1M162 121h.1M106 99h.1M107 97h.1M176 114h.1M111 57h.1M200 61h.1M199 97h.1M97 86h.1M164 130h.1M116 115h.1M147 131h.1M193 82h.1M96 75h.1M182 43h.1M186 57h.1M103 70h.1M106 58h.1M101 58h.1M195 77h.1M192 95h.1M178 127h.1M112 114h.1M192 64h.1M98 73h.1M170 120h.1M172 117h.1M165 43h.1M181 44h.1M145 134h.1M180 116h.1M110 93h.1M196 95h.1M137 124h.1M166 126h.1M199 69h.1M107 114h.1M126 120h.1M97 70h.1M122 118h.1M170 43h.1M119 53h.1M160 126h.1M189 47h.1M191 105h.1M107 60h.1M196 58h.1M181 125h.1M171 43h.1M195 57h.1M116 116h.1M194 54h.1M133 32h.1M190 47h.1M112 109h.1M141 131h.1M138 35h.1M166 120h.1M140 129h.1M123 124h.1M153 135h.1M101 70h.1M111 68h.1M183 45h.1M188 94h.1M115 44h.1M177 44h.1M157 124h.1M202 73h.1M120 114h.1M166 123h.1M137 121h.1M135 127h.1M189 108h.1M180 110h.1M97 72h.1M99 79h.1M117 124h.1M182 117h.1M108 81h.1M158 32h.1M191 113h.1M142 33h.1M131 120h.1M121 48h.1M147 129h.1M137 36h.1M100 75h.1M181 40h.1M174 39h.1M114 113h.1M131 42h.1M100 90h.1M127 117h.1M193 83h.1M137 36h.1M195 61h.1M131 127h.1M106 84h.1M186 55h.1M147 29h.1M176 126h.1M191 74h.1M184 119h.1M187 43h.1M161 123h.1M147 127h.1M179 52h.1M119 44h.1M148 130h.1M181 52h.1M165 130h.1M129 123h.1M158 121h.1M126 33h.1M121 35h.1M145 130h.1M130 118h.1M106 97h.1M170 45h.1M136 120h.1M104 105h.1M132 121h.1M139 131h.1M141 41h.1M175 39h.1M101 67h.1M153 37h.1M106 105h.1M136 122h.1M150 128h.1M103 57h.1M104 54h.1M172 46h.1" stroke="#51247a" stroke-width="3.6" stroke-linecap="round" opacity="0.8"/><circle cx="149.3" cy="81.3" r="56.5" fill="none" stroke="#c27ac0" stroke-width="1.6"/><rect x="127.8" y="204.1" width="82.6" height="8.6" fill="#000"/></g>
<clipPath id="hc3"><rect width="215" height="214"/></clipPath><g transform="translate(1033.1 249.0)" clip-path="url(#hc3)"><rect width="215" height="214" fill="#fbfafb"/><rect width="215" height="214" fill="#b54ab0"/><path d="M80 193l3 3l2-1l-2-6l-2 1l-1 3zM77 205l-2 2l0 2l2 0l2 0l1 0l-2-4zM84 202l3 3l-4 2l-1-3zM84 183l0 1l-1 1l-2 0l-1-1l0-5l1 0l2 1zM68 186l-4-3l0 1l-1 3l4 2zM70 184l0-1l0-3l-1-1l-3 2l0 0zM62 207l-1 3l1 2l2 0l1-1l-1-5zM88 198l-1 1l0 0l2 4l1 1l2-4l-1-2l-1-1zM60 194l2-3l1 0l3 1l0 0l0 1l-2 2zM61 180l0 0l-2-3l-3-1l0 2l1 3l3 0zM56 193l2-2l-4-2l-1 0l1 5l0 0zM81 214l-1-2l-3 1l1 3l1 1l1-2zM98 204l0 1l-2 2l-3 0l-1-1l3-3zM96 189l-1 0l-2 1l0 3l1 1l1-1zM89 184l-1 1l3 1l2-1l-1-2l-1 0zM53 199l-1-1l-1 1l-1 3l0 2l1 2l1-1l1-3zM51 194l-1-5l0 0l-3 2l-1 2l4 1zM105 195l1 1l0 2l-3 1l-1-3zM53 210l0 0l0 2l2 2l3 0l1 0l-2-3zM74 180l2-1l1 0l0 5l-4-1zM72 212l1 1l1 3l-4 1l-2-3l1-1zM52 184l0 1l0 0l-4-4l5-2l0 4zM42 191l0 1l-2 1l-2-1l0 0l2-4zM101 187l2-3l3 1l0 1l-1 2zM45 182l0 0l4 4l-4 1l-2-2l0-1l1-2zM73 201l1 0l1 2l-2 1l-2-1zM102 203l0 2l3 2l2-1l0-3l-1-1l-3 1zM78 170l2 1l-1 4l-1 0l-1-1l-1-2l1-2zM107 192l2 1l1 0l1-2l0-2l-2-1l-2 3zM41 180l-2 2l-3-1l0-1l0-4zM99 210l1-3l4 2l-2 2l-3-1zM65 162l1-1l2 2l-2 5l-1-1l-2-3zM99 190l0 3l1 0l3-1l-1-1l-2-1zM120 190l0 1l-4-2l-1-1l2-1l1 1zM60 184l-3 0l-1 2l3 1l1 0zM111 204l0 2l0 1l3-1l1-3l0 0zM44 172l-1 6l0 0l-5-4l0 0l4-2zM87 193l-1-4l1-1l2 2l1 3zM49 209l0 3l-3 2l-2 0l0-1l2-3l1-2zM38 185l-3-1l-2 3l3 3l2-4zM51 173l1 2l0 1l-5 2l-1 0l1-6l3 0zM71 194l0-1l4 1l0 1l-1 2l-1 0zM28 191l1-1l1 0l3 2l0 0l-2 3l-3 0l-1 0zM30 204l-1-1l-1-4l3 0l1 3l-1 2zM88 212l1-3l-1-1l0 0l-4 1l0 1l1 2zM105 179l-2 1l1 1l3 2l0-3zM71 175l-1-2l3 0l2 3l-3 0zM108 210l1 1l1 3l0 1l-3 0l-1 0l0-2l1-2zM92 215l2 0l1-3l0-1l-3-1l-1 3zM51 215l-4 2l5 6l0-6zM33 175l0 0l0 0l0 3l-4 0l0-3l2 0zM110 200l4 0l0-1l-3-2l-1 0l-1 2zM36 167l1-1l2 0l1 0l1 3l-5 2l0 0zM48 168l-2 0l-1 0l-2-3l5-2l0 1zM30 168l3 0l0 4l-3-2l0-1zM93 179l1 0l3-1l-1-2l-3 0zM55 170l1 3l3-1l3-2l-2-3l-1 0zM71 159l-1 0l-2-1l0-4l4 2l0 2zM29 182l3 0l0 1l-2 2l-1 1l-1-4zM70 149l-1 1l1 1l3 1l2-3l-2-2zM119 200l0 0l3 1l2-1l-3-5l-2 4zM87 181l-1-3l2-2l1 0l0 0l1 3zM115 213l1-3l-1 0l-3 0l1 4zM88 165l2 0l1 0l0-1l-1-2l-3 1zM98 214l3 1l1 2l-2 1l-2-1l-1 0zM31 209l-1 4l0 0l2 1l3-2l-1-2l-2-1zM98 185l-1 0l-2-3l3-1l1 1l0 1l-1 2zM119 207l-1-4l4 1l-1 3l0 0l-2 0zM58 161l0-2l1-1l3 2l-2 2l-1 0zM79 161l-2 4l0 0l-4-3l3-2l3 1zM92 173l4 0l0-1l-1-2l-2-1l0 0l-1 3zM97 197l-2 0l1 2l3 2l1-1l-2-3zM98 165l-1 2l-3-1l1-2l1 0zM80 157l1-3l-1-3l-2 0l-2 3l0 2zM104 170l-2-4l-1 1l-1 2l0 1zM130 206l-1 1l-4-1l1-2l1-2l2 0zM30 164l-2-2l2-2l2 1l1 2l0 1zM26 179l-1-2l-1 0l-1 0l1 3l1-1zM133 210l-1 0l0 4l5-1l-3-3zM85 151l-1-2l2-2l3 0l1 1l-1 4zM125 210l-1 1l1 4l1 0l2-1l0 0l0-3zM114 194l1-2l4 1l0 0l-2 3zM28 207l-1 5l-4-1l0-3l1 0l2-1zM68 141l4 0l1 1l-1 2l-4 2l-1-2zM38 198l1-1l-3-2l-2 2l2 2l2 0zM51 160l0 0l0-1l1-2l3 1l-1 2zM84 176l-2-1l1-3l1 0l2 2zM82 163l1 2l0 1l0 1l-1 1l-3-1zM46 205l-2 0l-2-1l-1-2l1-1l3 2zM104 173l0 0l-4 1l0 1l1 2l0 0l3-1zM18 185l1 2l-2 1l-3-1l1-2l1 0zM20 181l-1 1l-3-1l1-2l1-1l1 0zM23 194l1 0l0-3l-2-1l-2 1l1 2zM138 208l2 3l0 0l1 0l1-2l-1-3l-2 0zM95 160l-1 0l-1-1l-1-3l4 0l0 1zM26 166l-1-3l-1 0l-3 3l0 1l2 0l2 0zM60 149l1 2l4-1l0-2l-2-2l-2 0zM35 216l2 7l3-7l0-1l-2-1zM118 214l2 1l2 0l-1-4l-2 0zM38 202l-2 1l-2 2l2 1l2-1zM108 174l0 2l1 1l2-1l-1-1l-2-1zM26 171l-2 0l1 2l1 0l1-1zM115 217l2 1l-2 9l-2-10l1 0zM95 144l-2 0l0 0l0-4l3 0l1 2zM48 197l-3-1l-2 1l0 1l3 2zM23 154l3 2l1 1l-2 2l-1 0l-3-2zM102 162l-1-2l-2-2l0 3l2 1l1 0zM100 155l0-1l1-1l3-2l1 3l-3 1zM39 162l0-5l-1 0l-3 2l1 3zM14 175l-3-1l0-2l4 0l0 3zM42 208l-1 4l-2-2l0-1l1-1zM23 200l0 4l3-1l-1-4l0-1l-1 1zM49 154l-1 3l-3-3l1-1l3 0zM133 217l3 10l2-12l0 0l-5 2zM92 153l0 0l1-5l2 1l2 2l-1 2zM153 214l0 0l-3 3l0 0l3 2l2-2zM107 169l0 0l-2-4l1 0l3-1l1 1l0 1l-2 3zM148 209l3 3l-4 3l-2-3l1-1zM26 216l-3-1l-2 2l2 11l4-12zM54 151l-1 1l1 2l2 0l1 0l0-1l-1-1zM77 142l0 0l5 1l0 2l-1 2l-3 0l-1-2zM118 167l2-1l1-4l-2-1l-4 3l0 1zM105 161l3-1l0-3l-1-1l-2 2zM16 197l2-1l3 1l-2 2l-3-1l-1 0zM19 152l0-3l-2 0l-3 4l0 0l2 2l2-1zM11 196l0-5l-1 0l-2 3l0 3l1 0l2-1zM51 148l-1 2l-4-1l1-3l1-1l1-1l1 1zM67 138l0-1l1-1l2 0l2 3zM5 188l-1 0l-1 2l2 1l3-2zM37 155l-4 1l-2 0l0-1l1-2l2 0zM42 151l1-3l-4-1l-1 4l2 1l0 0l1 0zM84 134l2 3l3-1l-1-2l-1-2zM8 206l-1 1l-3-2l-1-3l3-1l1 0zM110 171l3-3l2 2l0 1l-2 1zM12 200l-3 1l1 5l2 0l1-1l0-3zM11 211l1 3l-1 1l-5-1l3-3l0 0zM15 168l-3 1l-1-1l1-2l2-2l3 3l0 0zM114 156l3 3l0 0l-4 3l-1-1l0-4zM25 184l2 3l-2 0l-2-1l0-1l0-1zM54 147l-1-3l3 0l2 1l-1 3zM0 215l-1 0l-2 0l0-4l1 1l3 2zM48 140l0-3l-1-2l-3 1l0 1l2 4zM14 195l-1-5l0 0l3 1l1 2zM62 128l-1-1l1-2l3-1l2 1l0 1l-2 2zM61 142l2 0l0-2l0-1l-2-1l-1 1l-1 2zM86 142l1-2l3-1l0 0l0 5l-4-1zM6 175l-2 0l-1-1l0-3l0-1l4 1l1 0l-1 2zM20 174l-1 0l-1-3l1-1l2 1l0 2zM24 151l-1-2l1-1l3 1l1 1l-1 2zM75 138l-1-3l1-2l2 0l1 1l-2 4l-1 0zM103 148l-3 1l-1-3l1-2l2 0l1 4zM55 140l1-2l-2-1l-2 1l0 3l0 0zM81 135l1 0l1 3l0 2l-5-1zM11 185l-3-3l-1 4l3 1l0 0l0 0zM35 149l-3-1l-1-2l1-2l1-1l1 1l1 1zM159 210l-3 2l2 3l1 0l2-2l0-2zM63 134l-1-2l3 0l0 2l-1 1zM163 217l3 2l-3 3l-2-4zM76 129l0-2l-2-3l-3 1l0 1l3 3zM68 121l1 1l3-1l1-2l-3-3l-3 2zM0 203l0 0l0 3l-2 1l-1 0l0 0l0-2zM58 135l-2-2l0-3l0 0l2 0l0 1l1 3zM101 140l-1-2l1-4l4 3l-1 1l-2 1zM78 111l0 1l-1 3l-2 1l-2-3l0 0l2-2zM81 130l0-2l2-2l2 3l0 1l-3 1l0 0zM90 129l2-3l2 2l1 1l-4 1l-1-1zM3 212l2-2l-3-2l-2 2l3 3zM55 126l-2-4l1-2l2-1l2 4l-1 3zM43 133l-2-2l2-2l2-1l1 2l-1 1zM52 127l1 0l-2-3l-2 1l-1 1l1 2zM29 135l1 1l1 3l-1 1l-4-2l1-2zM9 218l-4-1l-1 0l0 1l5 13zM97 120l1 2l-2 2l-2-1l0-1l1-2zM4 181l0 2l-1 1l-3-1l3-4l2 0zM28 131l-1-2l-1-1l-2 0l-1 2l3 2zM69 132l-1-1l1-3l2 3l-1 1zM0 196l1 2l1 1l3-1l-2-3l-1-1l-2 1zM129 155l-3 3l-2 1l-2-1l0 0l2-5l4 2zM61 122l-2-4l0-1l2 0l2 0l1 4zM132 152l2 0l4-3l0-1l-3-2l-2 1l-1 5zM56 204l-2 3l3 0l2-2zM39 136l-3 3l-1 0l0-4l3-2l0 0l1 2zM50 119l-1 1l-1 1l-4-3l4-2zM100 129l-1-1l0-1l1-3l3 1l-1 2zM114 149l-2 3l-2 1l-1-1l-1-2l0 0l3-4zM109 128l-2-2l-1-2l2-1l2 2zM79 124l-3-2l1-2l2-1l3 2l-1 1zM55 115l-1-4l-3 0l-1 1l0 2l2 2l2-1zM85 113l-3 0l-1 3l3 2l0 0l2-4zM16 201l0 5l3-1l1 0l-1-2zM140 145l2-3l0-3l0 0l-3 1l-2 3zM173 215l-2 3l3 1l1-2l0-1zM13 178l-3-1l-2 1l1 2l3 1l1 0zM-11 198l6 3l3-1l-2-2zM120 145l-3 1l-3-2l0-1l3-2l2 0l1 4zM44 143l-1 1l-4 0l-2-2l4-3zM132 142l-1 0l-1-4l3-1l1 3l0 2zM54 107l1-2l-1-1l-2 0l-1 0l0 4zM8 168l-4-1l0-2l2-1l2 1zM-1 171l1 3l-3-1l-1-1l1-1zM47 101l-1-1l1-2l2 0l0 3l-1 0zM129 151l-4-2l-1-2l0-1l4-1l1 1zM39 126l-1 3l0 0l-2-3l1-3l1-1zM0 166l-2-3l-2 1l1 3l3 0l0 0zM45 112l-4-2l-1 0l0 2l0 4l2-1l3-2zM165 211l2 0l3 2l0 0l-2 3l0 0l-3-2zM71 108l-1 2l-2-2l1-1l2-1zM110 135l-1 2l0 0l3 4l2-3l-2-3zM116 130l-3 1l-1 0l0-1l1-3l2 0zM128 131l1 3l0 0l2-1l2-1l-1-4zM150 143l-1-3l-1-2l-3 1l1 3l3 1zM124 130l-2 1l1 4l3-1l-1-3zM37 117l0-3l-5 0l1 4l3 0l0 0zM100 119l2 1l2 1l2-1l1-1l-4-3zM10 162l2-2l1-2l-2-2l-4 2l1 2zM115 123l-2 0l-2-3l0 0l2-1l1-1l2 1l1 2zM20 145l2-4l-4-1l-2 2l0 1l2 1l2 1zM43 103l-1-2l-4 0l0 2l2 2l0 0zM133 123l1-1l-1-4l-2-1l-2 1l0 2zM24 145l1-4l0 0l4 1l-1 3zM23 135l0 2l0 0l-4-1l0-3l2-1zM58 113l-1-4l1-2l0 0l3 2l-1 3zM95 113l1 3l2 0l2-3l0 0l-1-2l-3 0zM82 106l3-3l2 2l-2 4l-3 0l0-1zM66 114l2-1l0-1l-2-1l-1 0l-1 3zM142 148l2 1l2 0l2-3l-4 0l-2 2zM29 114l-1-1l-1 1l-1 1l0 2l2 1l2-1zM36 110l1-2l-3-3l-2 1l-2 4l2 1zM51 134l1-1l1-3l-3 2l-1 1zM-3 188l1-2l0 0l3 1l-1 3l-1 0zM34 99l0-3l-2-1l-3 0l-1 2l1 3l2 1l3 0zM147 134l1-3l-1-1l-3-1l-1 3l1 3l0 0zM4 161l-1-2l0 0l-3 1l-1 1l3 2zM160 142l0-4l1 0l1-1l1 0l3 2l-4 4zM105 113l3-2l0 0l2 4l-2 2l-3-4zM22 113l2-2l-4-3l-1 0l-1 2l0 0l1 2zM12 151l3-4l-2-3l-2 2l-1 2zM48 94l2 0l3-1l-2-2l-2-1l-1 3zM38 98l4-1l1-1l0-1l-2-1l-3 1zM12 141l-3 1l-2-2l1-3l1 0l3 3zM18 159l-1 0l-1 2l3 3l3-3zM149 123l-1 3l-3-1l-1-1l1-1l3-2zM19 128l-2 1l0 0l-2-5l1-1l0 0l3 1l1 2zM157 143l0-4l-4 1l0 4l1 0zM6 147l0-2l-2-2l-3 1l0 2l1 1l0 1zM-1 137l3-2l3 1l-2 3l-3 1l-2-2zM126 127l0-3l1-1l4 2l0 1l-4 1zM122 127l-2 1l-1 0l-1-2l2-2l2 1zM107 131l-2-1l-3 2l0 0l4 2l2-2zM174 211l2-3l4 3l-3 2l-2-1zM25 101l-4 3l-1 0l0-2l1-3l3 0zM70 102l-1-3l-3 1l0 1l2 2l2-1zM16 103l0 2l-1 2l-3-2l0-2l2-1zM55 100l-2 0l-1-3l3-2l1 1zM26 92l-2-1l-1 0l-3 0l0 2l2 2l2 0zM29 105l-2 4l-1 0l-3-3l4-2zM30 125l2 0l2-3l-3-1l-1 1l-1 2zM136 126l1-1l3 0l1 2l-2 3l-3-1l0-2zM81 97l-1 1l-1 3l2 1l3-1l0-1zM177 197l-1 2l0 2l0 1l3-2l-1-2zM24 125l-2-3l2-2l2 2l0 2zM89 100l0 0l1 1l2 1l3-2l-2-3l-1 0l-1 1zM141 136l-4 1l-2-2l1-2l3 0zM140 116l1 4l-1 1l-3 1l0-5l2-1zM177 153l3 1l1 1l-1 2l-1 1l-3-2zM182 209l0 0l1-5l0-1l-2 0l-3 2l0 0zM167 135l3-3l2 3l-1 2l-1 0l-1 0zM22 116l-3 0l-2 4l3 0l2-2zM45 91l1-3l0 0l-3 0l0 0l-1 3zM170 124l2-3l1 0l1 2l0 2l-3 0zM111 110l3 0l1 1l-1 3l-1 0zM47 80l-3 1l0 3l3 1l1-5zM182 219l-2-2l0-2l2-2l0 0l1 1l0 3zM137 109l-3 0l-2 0l0 1l0 3l2 1l4-2zM187 193l0 5l3-1l1-3l-1-1zM156 135l-2-2l-3-1l-1 3l2 1l4 0zM85 93l3 2l-2 4l-3-4l1-3zM54 84l-2 3l-2-1l0 0l0-5l0 0zM161 132l-1-5l-1 1l-2 3l2 3zM97 107l2 0l2-4l0-1l-3 0l-2 2zM63 107l-3-2l4-1l1 1l-1 1zM17 95l2 2l-2 2l-2-1l0-2zM98 91l-3 2l-1 0l0-5l2 0l1 1zM186 210l-1 0l1-5l5 4l-3 1zM47 108l0-2l-1-1l-4 2l5 2zM187 218l0-4l3 0l1 3l0 2zM61 94l4 2l2-1l0 0l-1-2l-3-1zM121 112l-1 1l-1 3l-2-1l1-4l3 1zM121 104l-1 0l-2 1l0 2l0 1l3 0zM188 202l0 0l0 1l4 3l2 0l0-3l-3-2zM116 102l4-1l-2-4l-3 3l0 0zM156 126l-3-2l-1 0l-1 3l0 1l3 1zM58 91l0 1l-1-1l-2-2l2-3l1 0l1 3l0 1zM60 83l2 3l3-4l-2-2l-1 0zM45 122l-3-2l-1 0l-1 1l2 3l2 0zM171 151l1-1l1 0l1 2l-1 2l-1 1l-2-2zM103 90l2-1l0-1l-1-1l-3 1l1 2zM165 132l2-3l0-1l0-1l-3-1l-1 1l1 5zM175 146l3-2l-1-2l-4-1l0 0l0 4zM57 81l2-2l-3-2l-4 2l4 2zM181 196l1 3l2 0l1-1l-1-4l-1-1zM127 115l-2-1l-1-2l4-1l0 3zM167 123l-3 0l0-4l3-1l2 1zM182 134l1 0l1-5l-1 0l-4 1l0 3zM128 108l-4 0l0 0l0-4l2 0l2 3zM88 127l2-4l-1 0l-3-1l0 0l0 1zM177 149l2-2l2 0l0 4l-3-1zM125 100l0-1l0-4l-2 0l-2 1l0 0l1 4l1 0zM194 195l3 1l1 3l-2 2l-3-3zM165 145l0 0l3-3l2 0l0 4l-2 1zM14 138l2-2l-1-3l0 0l-2 0l-2 2zM0 96l1 2l-1 4l-2-3l1-2l0-1zM16 115l-1-2l-3 3l2 3l1 0zM81 91l-2-4l-3 3l1 2l2 1l0 0zM20 84l-3 2l2 2l3-1zM69 80l-1 0l-1-2l1-4l3 0l2 3l-1 2zM185 188l0-2l2-1l3 1l-1 3l-3 0l-1 0zM77 70l-1 0l-2 2l2 2l3-1l1-2l0-1zM103 111l4-3l-1-2l-2-1l-2 3zM6 110l3-2l4 2l0 1l-4 2l-1 0l-1-1zM130 106l3-1l-1-4l-3 1l0 1zM194 215l4-2l-1-2l-1-2l-2 1l-1 2zM198 206l2 2l5-3l-2-2l-3 0l-1 1zM101 95l1 2l-1 1l-2 0l-2-2l3-2zM51 72l3 2l-1 1l-3 2l0 0l-1-1l-1-3zM61 70l-1 0l-2 3l0 1l3 2l2 0l1-4l-1-1zM160 123l0-1l0-3l0 0l-3 0l-2 2l4 2zM179 167l0-2l1-3l1 0l3 2l0 3zM13 78l-3 0l-1 0l-1 1l4 3zM6 92l1 0l0 2l-1 3l-2 0l-1-3zM4 129l2-2l1 0l1 4l-1 2l0 0l-2-2zM15 130l-3 0l-2-4l3-1zM157 115l2 0l0-3l-3 0l0 1zM183 139l1-1l2 1l0 4l0 0l-3 1l-1-1l0-2zM196 227l4-9l0-1l-1-1l-4 2l-1 2zM29 90l-1-2l2-3l3 0l0 1l-1 4zM202 211l4-3l2 1l-1 3l-4 2l-1-1zM184 159l3 2l2-1l0-3l0-1l-4 1zM139 104l-1-3l-2-2l0 0l-1 2l1 3l2 1zM-5 109l3 4l4-2l0-2l-2-1zM194 190l1 1l3 0l2-1l0-2l0 0l-5-2l-1 1zM201 195l2-3l3 3l0 1l-1 3l-4 0zM36 92l2-1l1-3l-3-1l-1 4zM67 69l1 1l3 0l1-2l-2-2l-1 0zM150 104l0-3l2-1l2 2l0 0l-2 3l-2 0zM12 121l-3-4l-2 0l-1 3l1 3l1 0l3-2zM31 81l2 0l2-3l0 0l-4-2l-1 3zM7 88l1 0l3-3l-1 0l-3-3l0 0l-1 4zM77 85l-3 1l-2 0l-2-3l4 0l3 2zM36 75l-4-2l-1 0l5-3l1 2zM211 217l0 0l-3 2l-3-2l-1-1l5-1zM115 93l-3 0l0 2l2 1l2-2l0 0zM212 204l1-3l-4-2l-1 3l1 2l1 1zM100 85l-1-1l0-3l4 0l0 3zM37 84l3 1l0-1l0-3l-2-1l-1 3zM60 66l-1 0l-3-3l1-1l2-1l1 1zM40 70l3 0l-1-5l-2 0l-1 2l0 0zM36 59l-2 0l-1 0l-1 3l4 1l1-2zM48 57l1 4l2 1l1-1l0-1l-1-3zM25 59l-1 2l4 1l0-1l1-3l-2 0zM146 116l0-1l-3 0l1 4l3-1zM2 84l2-3l-4 0l-1 3zM190 145l3 1l2 1l0 0l-4 4l-2-5zM135 92l-1-3l-2 0l-2 3l4 3l0 0zM184 152l0-4l3 0l1 4l0 1l-3 0zM45 54l-4 0l0-3l1 0l1 0zM47 65l3 0l-1 3l-2 1l-1 0l0-3zM70 61l0 0l3-2l-4-1l0 2zM132 85l1 0l0-1l1-4l-3 2l0 2zM106 99l2-1l2 1l0 1l-3 2l-2-1l0-1zM-5 152l3-2l-1-2l-13 3zM3 90l-3 2l-1 0l-2-5l1 0l4 1zM200 182l1 4l-5-2l1-4zM186 135l2 0l4-1l0 0l-1-5l-4 1zM19 81l-3 3l-1-1l0 0l1-4l1-1l1 0l1 3zM83 61l-2 0l-1 0l-1 5l3 1l1-3zM211 186l1 3l0 0l-3 3l-4-2l0-2zM159 100l2 1l3-1l-1-2l-2 0l-2 2zM10 96l1 1l1 2l-2 1l-1-2zM-2 116l0 2l0 0l4 1l2-4l-1-1zM34 67l0-1l-3-1l-1 1l-1 4l1 0zM197 127l-3 1l0 0l1 5l4-2zM214 192l-3 3l0 1l3 2l1 0l1-3zM110 88l1 1l3 0l0-3l-1-1l-3 2zM27 78l0-3l0-1l-1 0l-1 0l-3 2l1 3zM23 64l-1 2l0 1l2 2l2 1l0-5zM40 76l0 1l2 0l4 0l-2-4l0 0l-3 1zM18 74l-1-3l2-2l2 3l-2 2zM214 182l3-3l2 6l-4 1l-1-3zM207 179l2 3l0 1l-5 3l0 0l1-4zM87 78l2-2l-1-2l-5-2l0 3l2 3zM216 209l0 3l-3 2l-1-3l-1-2l3-1zM196 150l-3 3l-1 1l1 1l5 0l1-1zM16 58l2-1l2 2l0 2l-1 2l-3-2l-1-3zM141 97l0-3l-2 1l-2 1l3 2zM187 167l1-2l3-2l1 2l0 1l-2 1l-3 0zM194 160l-1-2l6 0l0 2l0 0l-4 2zM0 125l-2-4l4 1l1 2l-1 1zM124 82l0-3l1-1l2 2l0 2l-3 0zM199 122l-1-2l-5 0l1 5l3-2zM193 117l-1-1l0-4l2 0l3 3l0 2zM192 171l2 2l1 1l2-2l0-1l-2-3zM209 176l3 2l4-2l0 0l-1-4l-4 0l-2 4zM87 90l3-2l1 1l1 4l-2 0zM69 46l0 4l3-1l1-2l0 0l-3-1zM121 70l1 0l3 0l1 2l-2 2l-1 1l-1-2zM23 57l2-2l0-2l-3-2l-1 4zM45 57l-3 1l-1 1l0 2l3 1l1-1l0-4zM217 189l4 0l12 2l-14 2l-2-3zM76 50l4 1l-1 5l-1 0l-1 0l-1-4zM200 175l5 2l0 0l-3 2l-4-2l-1-1zM219 206l11-2l-12-3l-1 1l-1 3zM186 125l-1-3l0-1l4-1l1 1l0 4l0 0l-4 1zM65 59l1-2l0-2l-3 0l-1 3l1 1zM108 80l3 2l1 0l-4 3l-1-2l0-2l0-1zM145 97l0-4l0-1l3 1l1 2l0 1l-1 2zM27 83l-2 4l0-1l-2-3l0-1l4 0zM189 139l4-1l1 2l0 2l-4 0zM116 81l0 0l1 1l3 0l0-4l-1-1l-2 1zM1 78l3 0l0 0l0-1l-2-3l-2 1l0 2zM56 49l4 2l0-5l-1-1l-2 1l-1 2zM155 86l1 3l0 1l-3 3l-2-3l3-3zM146 104l0-3l-2 0l-1 1l-1 2zM178 120l3 0l0-1l-1-1l-3-2l-2 3zM86 67l-2 2l0 0l4 2l1-4zM77 61l-1 4l-1 1l-2-3l2-2l1-1zM52 51l-2 2l-2 0l0 0l-1-3l2-1l2 1zM70 43l4 1l0-3l-3-2l-1 0zM112 75l2 2l-1 2l-3-1zM113 72l3 2l2-1l0-3l-3-1l-2 2zM121 85l-3 1l0 3l1 3l3-2l0-4zM14 75l-1-3l-2-1l0 3l3 1zM203 120l3-3l-1-3l-1 0l-3 2l0 1l1 3zM125 86l3 0l1 2l-2 2l0 1l-2 0zM81 42l-2-1l-1 2l-1 2l1 1l3 1l0 0l1-2zM204 161l-1 1l1 3l3 1l0-4l0 0zM116 65l0 0l2-4l3 2l-2 3l0 0zM172 116l-3-1l1-4l0 0l1 0l2 2l0 1l-1 2zM102 75l-3 0l-2 1l2 2l4 0l0 0zM203 106l2 3l1 0l2-2l-3-4l0-1zM73 52l1 5l-1 0l-3-2l-1-1l0 0zM198 108l-2 2l3 3l3-2l-2-3zM198 146l-1-2l1-2l2 0l2 2l0 0zM96 72l-2 2l-2 0l0-2l0-4l1 0l2 2zM55 53l-1 2l2 3l2-1l1-3l0 0zM212 168l3 1l1-2l-2-3l-3 0l0 3zM156 99l3-3l-2-3l-3 2l0 2zM208 154l-1 4l-4 0l0-2l0-1l3-2l2 0zM198 99l3 1l1 1l-2 3l-2 0l-2-3zM86 53l0 3l-2 1l-2-1l0-5l1 0zM89 59l3 2l0 1l-1 2l0 0l-3-1l-2-3zM92 42l1 0l1 3l-2 2l0 1l-2-3zM133 72l3 3l1-1l1-2l-1-2l-2-1zM154 82l0-1l-3-3l-1-1l-2 4l4 2zM137 79l1-1l4 3l-1 2l-4 0l0-4zM15 54l3-1l1-3l0 0l-4-2l-1 3zM21 44l-1 3l-4-2l-1-1l4-2zM1 68l-1 2l-2 1l-1-1l0-3l2 0zM211 155l0 4l0 1l3-1l1-1l-1-2zM217 218l-1-1l0 0l2-2l4 1l-3 2zM202 134l-3 3l-2 1l-1-2l0-1l3-1zM156 107l1 1l2 0l1 0l-1-3l-2-1zM203 125l3 2l0 1l-2 3l0 0l-2-1l-1-3l1-2zM110 69l2-2l-1-1l-2 0l-3-1l0 1l1 2zM45 47l-2 0l0-2l2-2l1 0l0 2zM-2 133l3-2l-1-2l-1 0l-2 1zM109 74l-1 2l-2 1l-1-4l1-1l3 1zM52 46l-2-1l-1-3l3 0l2 2zM111 107l-1-2l2-2l2 2l-1 2l-2 0zM29 54l2 1l1-1l0-3l-1-1l0 0l-2 2zM211 133l-2 1l-3-1l3-3l3 1l0 1zM217 148l-3-1l-2 4l0 0l3 0l2-2zM172 106l-2 1l-1-5l4-1l1 2zM98 56l-1 0l-1 3l0 1l4 0l0 0zM200 90l1 1l0 5l-4-1l-1-4l1 0zM63 42l0-2l3-1l1 0l-1 4l0 0l-3 0zM152 111l1-1l-1-1l-3-1l0 4l1 0zM17 66l-3 2l-2 0l-1-1l3-2l3 1zM210 114l-2-2l2-1l3-1l0 4l-1 1zM5 69l-1 2l3 4l1-2l0-3l0-1l-1 0zM182 107l-2-3l3 0l2 2l0 1l-1 1zM101 65l0 0l-1-2l-4 0l-1 2l3 1zM194 96l-1-4l-1 1l-2 2l2 3l1 0zM87 36l-1-1l-2-1l-3 1l0 3l2 0zM59 41l0-2l-2-3l0 0l-1 1l-1 2l2 2zM63 66l0-3l3 0l1 1l-2 3zM130 61l2-3l0 0l-4-1l0 0l-2 3l3 1zM163 107l4 0l0 0l-1-4l0 0l-3 1zM147 76l-2 3l-1 1l-3-4l1-2l4 0zM176 109l-2-1l2-4l1 1l1 2zM52 36l-4-1l0 1l0 1l0 2l0 0l3 0zM185 100l1-3l1 0l2 3l-2 2zM92 52l0 0l2 2l-1 3l-4-1l2-3zM168 95l4 1l1 1l-1 1l-4 1l0 0l-1-3zM163 83l1 2l0 1l-4 1l-2-3l0-1l3-1l2 1zM205 97l-1-4l5 0l0 4l-3 1l-1 0zM68 34l-2-2l2-1l3 1l-2 3l0 0zM150 85l-4-1l-1 0l0 1l0 3l3 1zM8 56l0-3l2 0l1 3l0 0l-3 1zM109 53l1 0l2 0l2 2l-4 1l-1-1zM138 91l-2-3l1-1l4 0l1 2l-1 1zM168 88l0 0l3 1l2 1l0 3l-4-2zM101 54l2 4l2-2l0-2l-2-1zM208 101l3 5l2 0l1-1l-2-4l0-1zM98 52l-1 0l-2-2l2-2l3 0l0 2zM39 47l-1 1l-3-1l0 0l1-3l0 0l2 1zM2 156l-1-4l-1 0l-1 2l0 3zM4 65l-3-2l2-3l2 0l0 0l1 5zM130 74l3 2l0 1l-3 0l-2-1l2-2zM216 104l-1-4l3-1l3 1l-4 4zM105 61l0 0l0 2l4-1l-1-2l-1-1zM217 113l7 3l7-1l-12-7l-2 0l-1 1zM193 103l-2 0l-2 2l0 2l2 1l1 0l2-2zM179 100l2 0l2-4l-1 0l-5 1l0 2l1 1zM197 165l-1 0l4-2l0 3l-1 2zM212 145l0-1l-3 0l-2 1l0 1l1 2l1 1zM218 122l6-4l-8-1l-2 1l1 2zM213 139l0 2l-3-1l0-2l2-1zM219 141l2 1l-3 3l-2-2l0 0l1-1zM178 112l2-1l2 0l-1 3l-3-1zM62 46l4 1l-1 4l0 0l-2 1l0-1zM88 38l-3 3l1 2l1-1l3-2zM26 37l0 2l-1 2l-1 1l-2-3l0-1l3-1zM219 132l2 0l-3-5l-2 3l0 1zM56 28l1 3l1 0l2-2l-1-2l-1 0zM124 51l2 2l0-1l1-3l-3-2l-1 1zM-2 62l-2 0l-7-3l8-2l2 2zM96 41l3-1l1 1l2 2l-1 2l-3-1zM119 57l1 1l2 1l1 0l1-3l-2-1zM3 48l-1-3l-1 0l-2 0l-2 1l2 4zM125 66l-3 0l2-3l0 0l2 1zM21 24l-3-1l0 0l1 4l0 0l3 0l0 0zM218 137l-2 0l-1-2l1-1l3 1zM105 93l0 3l3-2l0-2l-1-1zM130 69l2-2l-1-2l-2 1l0 2l0 1zM41 42l-3-1l1-3l4 1l1 1zM104 49l0-2l1-2l3 0l0 0l0 4l-2 1zM79 32l-3-2l2-2l2-1l1 1l0 2zM103 39l2 2l3 0l-1-4l-1-1zM26 29l0 1l1 3l1 0l3-2l-1-4l0 0zM30 36l1 2l3 1l0 0l1-2l0-2l-2-1zM141 68l1 2l3 0l1-2l-1-3l-3 0zM101 36l3-2l-1-1l-4-1l1 4zM8 49l-1-1l0-3l2 0l1 0l1 0l1 1l-2 3zM29 20l0-1l5-2l0 5l-2 1l0 0zM210 126l3-3l3 2l0 0l-3 2l-2-1zM154 72l0-3l-4 0l-1 3l2 1l0 0zM11 40l0-4l-2-3l-1 1l0 1l1 5zM172 81l-5 1l1 3l3-1l1-2zM177 94l5-1l-1-4l-1 0l-3 2l-1 2zM51 28l-1 4l3 1l1-1l-1-3zM183 82l3-1l0 1l-1 2l-2 1l0 0l0-1zM4 56l0-4l0 0l-3 1l0 1l1 2zM190 83l0 3l2 2l1 0l0-1l0-3zM23 48l0 0l1-2l1 0l4 2l-4 1zM136 56l-1 0l1-6l2 0l4 3l-4 3zM116 37l-2 4l-3 0l0 0l0-4l3-1l2 1zM152 63l2 2l0 1l-4 0l-1-2l1-1zM135 65l3 1l1-3l-1-2l-3-1l-1 3zM132 49l2 0l-1 6l-4-2l2-4zM69 24l1 3l2 2l1 0l0-2l-2-3zM114 49l-2 0l0-4l2 0l2 1zM204 87l3-2l3 3l0 0l-1 1l-4 0l-2-1zM209 82l0-2l2-1l2 2l-1 5zM59 20l0-1l3 0l1 2l-3 2l-1-1zM92 21l-1 0l-1 4l3 2l2 0l0-2zM78 23l-2 1l-4-3l2-2l2 0l2 1zM40 35l-1-1l2-3l3 3l-1 2zM23 20l-4 0l4-3l2 1l0 0l0 0zM205 71l5 2l0 1l-1 1l-2 1l-2 0l-1-2zM117 54l3-2l0-4l-2 0l-1 4l0 2zM143 61l3 0l1-1l-1-3l-1-2l-1 0l-3 4zM126 40l0 4l3 1l2 0l-1-4l-4-1zM119 44l-1-1l0-5l5 2l-1 3l-2 1zM192 73l0 0l-3 3l-2-3l0-1l3 0l2 1zM86 30l-1-2l2 0l4 1l-3 3zM215 87l3 1l1-1l0-4l-1-1l-2 0l-1 5zM134 41l1-1l5 1l0 1l-2 3l-2 1l-2-1zM108 31l0-1l2-1l1 1l1 2l-3 1l-1-1zM3 41l1 1l2-1l0-5l-3 2zM47 25l-3 1l-1 0l1 2l2 3l1 0l1-4zM158 70l0-2l0-1l2-1l2 2l-1 2l-2 0zM176 79l0-2l1 0l1 0l2 2l-1 2l-3-1zM14 22l1 1l0 4l-5 1l0-4zM155 55l0 1l-1 3l-3 0l-1-3l5-1zM171 78l-4 1l-1 0l2-3l2-1l2 1zM202 84l3-2l0-2l-2-1l-1 2zM136 33l0 0l2 0l3 4l-1 1l-4-2l0-3zM51 23l1-3l3 0l1 3l-3 1l-1 0zM17 39l-3 3l-1-1l2-3l1-1l2 1zM129 34l-2 3l4 0l1 0l0-4zM174 132l1-1l0-2l-1 0l-2 0l0 1zM34 30l2 1l3-3l0-2l-3 0l-2 1zM65 24l-2 2l0 2l2 0l1-1l0-3zM7 26l0 3l0 0l0 0l-5-1l1-2l4 0zM10 17l-3 1l2 3l0 0l4-1l-2-3zM81 18l-2-2l2-5l2 1l2 2l0 1zM100 25l3 0l1 2l-1 2l-4-1l0 0l0-2zM15 30l1 0l0 3l-2 1l-3-3l0 0zM65 35l-2-2l-1 0l-2 1l2 3zM193 70l1-5l-2-1l-1 0l0 1l0 3zM183 71l-2-3l-2 2l0 3l1 0l2-1zM-3 38l1 3l2 0l0-3l-2-2zM48 21l-4 1l0-4l2-1l2 1l0 0zM84 24l2-1l2-3l-2-2l-3 3l-1 2zM8 13l-1-3l-2 0l-2 0l0 1l2 3l0 1zM43 13l-2 1l-3 0l0-2l3-3l2 2zM102 71l-2 0l0-2l2-2l1 3zM167 69l-1 0l-2 2l2 1l2-1l0-2zM197 82l2 0l1 3l0 1l-4 1l0-4zM133 23l-2 2l3 4l0-1l2-3l0-1zM193 76l1 3l-2 1l-1 0l-1-1l0 0zM161 56l-2-2l0 0l2-2l1-1l2 3l-2 2zM152 47l4 4l0 0l2-2l-1-3zM218 74l1 2l-2 2l-1 0l-2-2l0-2zM122 20l1 4l-1 1l0 0l-3-1l-1-3l0-1l3-1zM204 65l3-2l-2-2l-2 0l0 3zM180 65l-2 2l-2-2l1-3l1 0l1 1l1 1zM160 43l0 1l1 3l1 0l1-2l0-3l0 0zM15 16l2-4l2 2l0 1l-2 3l0 0l-1 0zM148 47l-3 4l-1 0l-3-3l2-5l5 3zM188 51l3-2l1 0l1 2l-2 2l-3-2zM173 62l-1 2l-2 1l-1 0l1-3l2-1zM132 13l0 0l-1 3l-4 0l3-5zM6 6l2-3l3-2l0 0l0 4l-2 1zM65 11l-3-2l1-1l2-1l3 0l0 1l0 3zM-2 22l0 3l0 1l-1 1l-4-1l4-4zM49 15l1-4l-1-1l-2 0l0 3zM206 67l3-1l1-1l0 2l1 3l-5-2zM72 12l0-3l5 0l0 1l-1 4l-2 0zM102 17l3 1l0 1l-1 2l-3 0zM187 63l1-1l-3-2l-3 1l2 2zM45 7l-1-1l0 0l1-5l2 0l1 4l0 1zM167 48l-2 1l2 2l3 0l1-1l-2-2zM6 22l-4 0l-1-2l3-1l0 0zM217 64l1-1l-1-2l-2-1l-2 3l1 1zM194 55l0 2l4-1l0-2l-2 0zM25 9l-2 3l0 1l3 2l0-5zM53 16l-1 0l1-3l3 0l0 3l-1 0zM144 20l0 1l-1 2l-3-1l-1 0l2-3l1 0zM40 19l-3-2l0 0l0 5l3 1l1-1zM-1 18l3-1l-2-4l-3 3l1 2zM180 55l0 3l1 0l2-1l1-3zM-5 13l-16-4l19-1l1 1l0 2zM-1 33l0-2l1-1l5 2l-1 1l-3 1zM187 54l3 3l1 1l-1 1l0 1l-3-3l0-3zM133 10l-2-2l-1 0l1-4l4 2l0 3zM175 58l2 0l0-4l-2-2l-1 0l-1 2l1 2zM24 4l-3-2l-1-2l1-2l4 2zM14 1l3 0l0 2l-1 3l-2-1zM206 53l-2-1l-1 2l-1 2l1 1l2 0l2-3zM31 6l-2 0l-1-1l0 0l1-3l2-1l2 1l0 1zM148 43l-4-3l0 0l1-1l2-2l2 2zM217 70l-3 1l0 0l0-3l4 0l0 2zM166 62l-2-2l-1 0l0 3l1 1l2 0zM182 47l2 3l0 0l-1 1l-2 0l-3-1l3-3zM155 33l-2 2l-1 1l-2-2l0-2l3-1zM208 48l-2 0l-2-3l4-2l3 2l0 0zM158 35l-1 2l1 2l3-1l-2-3zM175 84l0 2l1 2l3-1l-1-2zM210 55l-2 4l2 2l1 0l1-3l0-1zM181 42l2-2l-2-2l-1-1l-1 1l0 2l1 2zM54 9l2 0l2-1l0-1l-2-1l-3 1l-1 1zM115 58l0 1l-1 5l-2-2l0-3l3-1zM196 48l4-2l1 0l1 3l-2 2l-3-1zM170 57l-1-2l-2 0l-1 2l2 1zM189 35l1 2l-1 2l-2 0l-3-3l3-2zM90 5l-1-1l-1 0l-2 5l2 2l2-3zM1 5l1 1l1-1l1-3l-3-2l0 0l-1 2zM76 5l-4 0l0 0l1-4l3 0l1 1zM152 27l-3 1l-2-2l0-1l1-2l5 0l0 0zM101 12l4-1l1 3l-1 1l-3-1l-1 0l0-2zM39 7l-2 3l-2-2l1-4l3 3zM160 60l-3-2l-1 3l1 2l2-1zM25 23l0 2l5 0l-3-4zM216 54l1 3l2 0l14-7l-14 2zM54 0l-3-1l-2 1l2 4l3-2zM83 8l3-5l-2-1l-3 1l-1 3l1 1zM101 4l0-1l4 0l2 2l-2 2l-4 1zM178 45l-2-2l-2 1l-1 2l1 1l1 0zM107 24l0 2l2-1l0-2l-1-1zM187 68l0-3l-3 1l0 1l1 2zM168 40l2 2l0 3l-3-1l-1-3zM134 18l1-3l2 3l-1 2l-2-1zM11 13l0-3l2-1l1 1l0 0l-1 3zM147 31l-2-1l-3 2l2 4l2-3zM148 13l-2 3l-2-1l1-3l0 0l2 1zM164 75l-2-1l-1 1l0 3l3 1zM193 45l-1-3l1-2l3 0l3 3l-5 2zM162 34l2 3l0 0l2-1l1-1l-2-3l-1 0zM109 17l1-1l2 0l2 2l0 1l-3 0l-1-1zM41 4l-3-3l-1 0l4-3l2 1zM66-1l3 0l1 1l-1 4l-3-1zM115 22l-2 1l0 2l1 1l1-1zM171 37l0 0l2-1l2 1l0 2l-2 0zM119 11l1 4l-3 1l-2-3l2-2zM62-1l-2 0l-2 1l0 2l2 3l2-2l0-4zM56-4l-2-6l-3 7l4 1zM172 30l0 2l-2 2l-2-4l2-2zM185 45l1-2l3 0l1 3l-4 3zM89 0l-1-1l-1-1l-2-12l6 10zM24 7l-4 2l-1 0l-1-1l2-2l3 0zM136 3l3-2l-1-1l-2-1l-2 0l-1 2l0 0zM178 30l0 3l-1 1l-2-1l0-3zM147-2l-1-3l-3 4l0 2l1 0l2 0zM97 5l0 4l0 0l-3 0l-1-4zM149 9l1-2l0 0l-2-2l-2 0l0 4zM123 5l4 0l1-3l0 0l-4-2l-1 1zM182 28l-1 1l0 4l1 0l2-2l-1-3zM211 51l2-4l4 3l-4 2l-2-1zM158 30l-2-2l0-4l3 1l2 4l-2 1zM164 27l2 0l2-2l0 0l-3-2l-1 0l-2 0zM125-3l2-8l3 8l-1 2zM120 6l-1-4l-2-1l-3 3l3 3l2 0zM192 33l1 3l4 0l1-2l0-2l-5 0zM150 16l2 2l1 2l-5 0l0-1zM111 2l-1 0l-1-1l0-3l4-2l1 3zM139 25l3 2l0 0l-2 2l-3 1zM114 9l-2 2l-2 1l-1-3l1-2l1 0zM125 19l1 4l2 0l2-2l-1-2l-3 0zM137 13l0 0l2 2l1 0l1-3l-3 0zM191 21l-1-1l-1 0l-2 3l4 0l0-1zM97 2l0-1l0-3l-3 0l-2 3l1 1zM139 8l3 0l0 0l0-3l-1-1l-2 2zM158 8l-3-1l0-1l2-2l3 1l0 1zM101-3l0 3l4 0l0-3l-3-4zM215 38l-1-2l-4 1l0 0l-1 3l4 2zM195 26l-1 0l0 2l4 1l0-1l-1-2zM179 25l-2 1l-2 0l-2-1l0 0l2-3l2 1zM157 12l-3 2l-2-2l0 0l1-2l3 1zM185 27l2 3l2 0l1-1l0-2l-3-1zM202 31l0 2l4 1l1 0l-1-5l-4 2zM178 18l-1 0l-1-3l1-2l1-1l3 2l0 2zM212 28l3 1l1 1l-2 3l-4 0l0-5l0 0zM161 11l1 1l2-1l0-1l-2-2l-1 2zM214 24l3 2l3-4l-5-1zM182 6l4 1l0 2l-3 1l-2-1zM201 25l0 2l4-1l0 0l-1-2l-2-1zM193 17l-1 0l1-4l1 0l2 3l0 0zM158-1l3-1l1 2l-1 2l-3-1zM195 21l3-2l0 2l-1 1l-2 0zM169 3l0 2l-2 1l-2-1l0-1l1-2l2 0zM190 8l1 1l1 0l3-3l-5-2l0 2zM168-5l-2-6l-1 7l0 2l3 0zM166 15l1 1l-2 2l-2 1l0-4zM173 19l-1-2l-2 0l-2 3l3 3zM154 0l0 1l-1 3l-3-2l1-3l3 1zM212 19l0 1l-1 3l-2 1l-1-3l1-2zM168 10l3-2l3 3l-2 2l-2 0l-1-1zM185 15l0-1l3-2l1 1l0 3l-2 0zM198 8l0 0l0 0l-2 2l3 3l2-1l0-1zM216 17l0 1l5 1l16-4l-20 0zM178-3l2-3l1 4l-1 3l-2-2zM209 10l-3 2l0 1l2 2l3 0l1-2l0-1zM208 4l-2-2l0-2l2-1l1 0l0 2zM196 0l-1-1l-3 1l0 1l4 3l0-1zM210 7l3 1l2-2l0-1l-3-2l-2 3zM202 2l0-2l-2 0l-1 0l0 3l0 0zM172-4l0 3l0 1l3-1l0-3zM205 17l-1 3l-2-1l-1-2l0 0l2-2zM204-3l2-1l-3-8l-1 8zM214 0l-1-2l2 0l2 0l1 1l-1 3zM206 7l-2 2l-4-3l4-1l2 2z" fill="#fbfafb" stroke="#fbfafb" stroke-width="2.6" stroke-linejoin="round"/><ellipse cx="13" cy="41" rx="13" ry="28" transform="rotate(0 13 41)" fill="#fbfafb" stroke="#fbfafb" stroke-width="0" /><ellipse cx="55" cy="27" rx="15" ry="10" transform="rotate(0 55 27)" fill="#fbfafb" stroke="#fbfafb" stroke-width="0" /><ellipse cx="11" cy="106" rx="11" ry="13" transform="rotate(0 11 106)" fill="#fbfafb" stroke="#fbfafb" stroke-width="0" /><ellipse cx="27" cy="169" rx="14" ry="22" transform="rotate(0 27 169)" fill="#fbfafb" stroke="#fbfafb" stroke-width="0" /><ellipse cx="19" cy="203" rx="11" ry="9" transform="rotate(0 19 203)" fill="#fbfafb" stroke="#fbfafb" stroke-width="0" /><ellipse cx="48" cy="136" rx="8" ry="17" transform="rotate(0 48 136)" fill="#fbfafb" stroke="#fbfafb" stroke-width="0" /><ellipse cx="95" cy="51" rx="14" ry="13" transform="rotate(0 95 51)" fill="#fbfafb" stroke="#fbfafb" stroke-width="0" /><ellipse cx="161" cy="22" rx="14" ry="10" transform="rotate(0 161 22)" fill="#fbfafb" stroke="#fbfafb" stroke-width="0" /><ellipse cx="182" cy="89" rx="9" ry="9" transform="rotate(0 182 89)" fill="#fbfafb" stroke="#fbfafb" stroke-width="0" /><ellipse cx="199" cy="6" rx="13" ry="7" transform="rotate(0 199 6)" fill="#fbfafb" stroke="#fbfafb" stroke-width="0" /><ellipse cx="77" cy="191" rx="10" ry="12" transform="rotate(0 77 191)" fill="#fbfafb" stroke="#fbfafb" stroke-width="0" /><path d="M-2 147h.1M-2 210h.1M3 206h.1M0 149h.1M139 47h.1M142 42h.1M203 189h.1M209 195h.1M210 193h.1M208 207h.1M11 133h.1M9 124h.1M5 124h.1M14 122h.1M16 131h.1M17 131h.1M27 111h.1M8 208h.1M3 175h.1M2 170h.1M191 128h.1M192 154h.1M193 61h.1M189 62h.1M31 57h.1M34 50h.1M16 10h.1M141 73h.1M134 86h.1M111 26h.1M108 43h.1M113 33h.1M148 65h.1M145 53h.1M136 48h.1M134 57h.1M142 41h.1M143 39h.1M148 34h.1M148 31h.1M217 200h.1M210 161h.1M215 162h.1M215 172h.1M208 168h.1M209 212h.1M214 206h.1M12 7h.1M13 0h.1M11 -1h.1M2 24h.1M-1 29h.1M6 141h.1M7 136h.1M9 136h.1M8 145h.1M14 141h.1M3 133h.1M-3 126h.1M20 123h.1M23 119h.1M24 115h.1M7 78h.1M1 71h.1M-1 73h.1M24 72h.1M42 85h.1M55 72h.1M3 215h.1M4 214h.1M5 158h.1M1 200h.1M193 111h.1M204 111h.1M213 99h.1M195 144h.1M209 160h.1M202 160h.1M191 110h.1M191 117h.1M183 120h.1M183 121h.1M2 192h.1M7 200h.1M211 63h.1M203 60h.1M216 35h.1M203 48h.1M208 40h.1M200 57h.1M34 42h.1M30 47h.1M34 15h.1M35 23h.1M35 14h.1M26 5h.1M25 7h.1M32 -2h.1M116 115h.1M139 76h.1M142 86h.1M125 76h.1M128 93h.1M128 84h.1M131 88h.1M160 49h.1M151 75h.1M156 67h.1M157 65h.1M74 76h.1M108 28h.1M75 25h.1M93 30h.1M153 60h.1M156 55h.1M156 53h.1M156 53h.1M139 58h.1M139 67h.1M118 58h.1M110 42h.1M110 59h.1M103 65h.1M173 35h.1M132 46h.1M132 40h.1M116 42h.1M125 39h.1M135 30h.1M147 21h.1M150 46h.1M156 45h.1M149 47h.1M150 46h.1M211 180h.1M199 211h.1M198 200h.1M6 1h.1M1 9h.1M6 6h.1M48 87h.1M53 90h.1M51 101h.1M49 97h.1M11 68h.1M19 66h.1M37 67h.1M31 64h.1M28 64h.1M22 63h.1M17 92h.1M40 86h.1M19 91h.1M75 68h.1M72 71h.1M56 75h.1M49 80h.1M57 84h.1M50 70h.1M53 64h.1M44 65h.1M47 62h.1M39 58h.1M10 171h.1M1 165h.1M5 161h.1M-1 192h.1M132 100h.1M168 109h.1M166 101h.1M144 90h.1M211 108h.1M214 109h.1M207 112h.1M199 119h.1M194 127h.1M190 119h.1M213 97h.1M207 79h.1M192 100h.1M192 90h.1M193 91h.1M190 154h.1M191 157h.1M197 141h.1M194 135h.1M202 139h.1M208 116h.1M207 141h.1M209 137h.1M203 145h.1M208 151h.1M200 154h.1M197 147h.1M216 153h.1M209 152h.1M210 152h.1M189 107h.1M182 102h.1M80 75h.1M83 71h.1M97 87h.1M113 98h.1M184 211h.1M11 189h.1M5 185h.1M211 72h.1M197 66h.1M200 66h.1M204 69h.1M185 59h.1M208 28h.1M214 45h.1M199 30h.1M109 14h.1M114 14h.1M78 0h.1M73 -1h.1M27 43h.1M35 41h.1M38 38h.1M28 57h.1M42 16h.1M35 1h.1M34 10h.1M34 33h.1M26 34h.1M70 6h.1M71 7h.1M127 94h.1M126 100h.1M120 94h.1M111 142h.1M163 50h.1M166 54h.1M170 53h.1M164 59h.1M161 59h.1M180 61h.1M152 75h.1M158 73h.1M82 71h.1M52 64h.1M107 33h.1M106 32h.1M97 39h.1M79 2h.1M86 0h.1M78 16h.1M79 9h.1M83 10h.1M75 40h.1M128 62h.1M133 63h.1M128 68h.1M130 71h.1M119 69h.1M114 66h.1M90 73h.1M191 0h.1M212 24h.1M172 42h.1M165 47h.1M169 37h.1M174 14h.1M152 6h.1M157 2h.1M121 47h.1M119 47h.1M121 53h.1M115 52h.1M116 56h.1M117 56h.1M122 27h.1M118 26h.1M117 19h.1M117 18h.1M134 31h.1M135 31h.1M127 32h.1M132 21h.1M132 19h.1M121 17h.1M125 16h.1M123 16h.1M141 17h.1M145 18h.1M143 11h.1M144 10h.1M148 13h.1M163 40h.1M193 207h.1M184 202h.1M0 8h.1M1 12h.1M4 17h.1M0 19h.1M-1 55h.1M24 140h.1M39 132h.1M6 79h.1M40 72h.1M38 78h.1M35 82h.1M35 85h.1M44 98h.1M47 96h.1M13 84h.1M12 85h.1M19 77h.1M14 77h.1M17 75h.1M70 64h.1M74 81h.1M59 93h.1M40 49h.1M40 56h.1M161 94h.1M167 94h.1M166 86h.1M135 107h.1M155 109h.1M160 116h.1M153 94h.1M158 91h.1M159 90h.1M152 85h.1M155 85h.1M136 97h.1M151 98h.1M156 101h.1M212 87h.1M206 82h.1M203 91h.1M204 101h.1M197 98h.1M200 79h.1M194 164h.1M191 161h.1M214 129h.1M201 133h.1M198 125h.1M209 126h.1M205 132h.1M202 123h.1M213 132h.1M216 139h.1M170 109h.1M195 178h.1M105 122h.1M99 121h.1M116 109h.1M116 105h.1M108 106h.1M108 96h.1M165 210h.1M190 211h.1M185 213h.1M212 45h.1M210 52h.1M208 50h.1M201 43h.1M199 39h.1M196 50h.1M186 53h.1M187 51h.1M178 54h.1M181 45h.1M183 44h.1M192 29h.1M87 14h.1M105 24h.1M106 9h.1M31 27h.1M24 28h.1M28 19h.1M23 21h.1M44 -3h.1M42 7h.1M42 8h.1M56 10h.1M65 6h.1M60 8h.1M55 0h.1M124 93h.1M117 92h.1M123 86h.1M123 83h.1M165 74h.1M170 72h.1M173 66h.1M169 67h.1M172 57h.1M175 61h.1M55 59h.1M62 54h.1M62 62h.1M66 60h.1M70 63h.1M66 13h.1M76 58h.1M78 58h.1M94 65h.1M97 80h.1M94 76h.1M106 79h.1M176 10h.1M170 7h.1M190 17h.1M205 0h.1M175 28h.1M174 21h.1M178 29h.1M162 6h.1M167 13h.1M167 9h.1M158 9h.1M129 1h.1M122 -2h.1M160 33h.1M175 204h.1M185 200h.1M193 194h.1M1 58h.1M8 65h.1M4 67h.1M34 141h.1M25 139h.1M38 132h.1M31 134h.1M-1 78h.1M4 86h.1M6 89h.1M24 89h.1M25 89h.1M22 81h.1M20 81h.1M29 80h.1M30 82h.1M32 93h.1M35 95h.1M34 103h.1M92 87h.1M84 80h.1M79 116h.1M75 119h.1M45 40h.1M41 45h.1M41 48h.1M67 53h.1M74 51h.1M53 41h.1M141 124h.1M142 120h.1M178 69h.1M194 81h.1M188 80h.1M179 108h.1M183 116h.1M187 146h.1M188 143h.1M181 143h.1M167 115h.1M162 118h.1M184 136h.1M142 213h.1M138 213h.1M113 192h.1M91 146h.1M116 77h.1M69 125h.1M72 121h.1M91 132h.1M85 119h.1M91 122h.1M109 118h.1M110 109h.1M101 108h.1M103 114h.1M105 126h.1M101 130h.1M114 132h.1M110 133h.1M111 131h.1M104 98h.1M94 96h.1M108 87h.1M104 84h.1M101 92h.1M102 93h.1M183 210h.1M178 216h.1M172 212h.1M36 193h.1M44 217h.1M23 212h.1M18 216h.1M36 209h.1M28 214h.1M45 193h.1M13 189h.1M91 19h.1M88 26h.1M81 25h.1M98 24h.1M90 19h.1M100 15h.1M90 2h.1M99 2h.1M91 11h.1M99 3h.1M52 11h.1M45 8h.1M51 16h.1M180 75h.1M174 82h.1M172 79h.1M46 56h.1M47 56h.1M78 35h.1M78 40h.1M97 69h.1M97 73h.1M170 -1h.1M171 1h.1M183 16h.1M178 21h.1M184 25h.1M198 18h.1M199 26h.1M193 19h.1M215 14h.1M214 17h.1M130 3h.1M138 5h.1M136 11h.1M117 -3h.1M120 1h.1M117 9h.1M119 8h.1M186 192h.1M31 119h.1M30 112h.1M36 111h.1M40 107h.1M46 104h.1M28 127h.1M22 127h.1M24 135h.1M41 186h.1M41 183h.1M45 189h.1M68 125h.1M90 103h.1M90 114h.1M72 113h.1M70 113h.1M64 98h.1M69 96h.1M62 91h.1M58 95h.1M58 106h.1M67 104h.1M62 108h.1M71 103h.1M74 108h.1M91 95h.1M87 100h.1M83 90h.1M84 90h.1M66 37h.1M57 44h.1M62 53h.1M61 44h.1M54 50h.1M122 115h.1M122 110h.1M126 101h.1M130 108h.1M129 110h.1M134 116h.1M132 116h.1M127 116h.1M135 123h.1M132 135h.1M135 131h.1M148 127h.1M151 130h.1M140 131h.1M140 114h.1M140 107h.1M140 107h.1M146 113h.1M148 107h.1M152 121h.1M152 122h.1M148 114h.1M181 65h.1M172 117h.1M172 120h.1M176 122h.1M175 126h.1M170 127h.1M168 125h.1M160 126h.1M194 176h.1M200 171h.1M198 172h.1M194 166h.1M191 170h.1M185 164h.1M184 154h.1M183 153h.1M179 161h.1M66 213h.1M103 213h.1M90 206h.1M154 211h.1M124 203h.1M118 209h.1M117 207h.1M112 217h.1M110 208h.1M143 211h.1M111 195h.1M110 203h.1M93 182h.1M86 140h.1M91 138h.1M91 137h.1M103 143h.1M112 164h.1M119 157h.1M105 71h.1M102 73h.1M112 72h.1M84 124h.1M78 126h.1M87 130h.1M81 133h.1M32 196h.1M39 201h.1M14 182h.1M81 39h.1M89 36h.1M215 10h.1M212 0h.1M41 117h.1M48 115h.1M47 111h.1M52 117h.1M38 154h.1M40 154h.1M42 163h.1M81 149h.1M83 142h.1M91 156h.1M61 114h.1M58 115h.1M65 117h.1M60 124h.1M119 121h.1M118 130h.1M144 143h.1M149 135h.1M150 145h.1M186 73h.1M188 79h.1M193 73h.1M168 130h.1M172 139h.1M157 136h.1M160 137h.1M164 135h.1M164 134h.1M186 169h.1M176 148h.1M183 188h.1M102 183h.1M60 215h.1M61 214h.1M55 215h.1M51 212h.1M82 209h.1M76 212h.1M92 209h.1M96 211h.1M164 213h.1M134 207h.1M95 187h.1M114 154h.1M112 144h.1M123 151h.1M130 143h.1M19 194h.1M43 180h.1M43 179h.1M44 171h.1M61 176h.1M70 162h.1M59 128h.1M93 162h.1M97 169h.1M103 157h.1M98 155h.1M100 164h.1M125 122h.1M134 125h.1M134 125h.1M126 128h.1M113 165h.1M98 178h.1M98 171h.1M107 173h.1M49 202h.1M50 197h.1M52 195h.1M49 205h.1M52 209h.1M56 183h.1M72 209h.1M60 191h.1M93 200h.1M102 202h.1M133 145h.1M139 148h.1M130 153h.1M48 160h.1M60 129h.1M71 134h.1M92 168h.1M84 163h.1M75 171h.1M78 148h.1M67 151h.1M106 171h.1M51 208h.1M90 194h.1M72 178h.1M68 177h.1M104 190h.1M104 192h.1M98 187h.1M99 187h.1M59 165h.1M42 153h.1M58 138h.1M81 170h.1M83 169h.1M74 157h.1M70 161h.1M58 153h.1M57 157h.1M51 155h.1M75 142h.1M65 143h.1M60 189h.1M64 181h.1M64 204h.1M64 202h.1M62 204h.1M64 198h.1M55 202h.1M55 161h.1M49 162h.1M49 170h.1M52 171h.1M60 144h.1M53 150h.1M88 174h.1M92 180h.1M87 182h.1" stroke="#3c1c6a" stroke-width="2.3" stroke-linecap="round"/><path d="M125 170L136 162L149 157L161 153L170 155L176 162L178 170L174 181L170 191L161 200L149 204L136 202L125 191L122 181Z" fill="none" stroke="#9a3596" stroke-width="11.0" stroke-linejoin="round" /><path d="M122 169h.1M121 170h.1M124 170h.1M121 169h.1M122 167h.1M124 168h.1M126 169h.1M126 169h.1M125 167h.1M127 167h.1M125 166h.1M126 165h.1M129 167h.1M125 164h.1M128 163h.1M126 164h.1M127 163h.1M127 164h.1M130 163h.1M130 163h.1M129 162h.1M129 163h.1M129 162h.1M132 163h.1M130 160h.1M130 161h.1M134 163h.1M134 161h.1M135 161h.1M133 159h.1M136 162h.1M135 159h.1M135 160h.1M135 158h.1M134 158h.1M136 159h.1M136 157h.1M138 159h.1M138 158h.1M138 157h.1M137 157h.1M140 159h.1M140 158h.1M140 158h.1M139 155h.1M142 159h.1M141 155h.1M141 156h.1M142 155h.1M144 157h.1M143 156h.1M143 155h.1M144 156h.1M146 155h.1M146 153h.1M148 156h.1M148 156h.1M147 156h.1M148 156h.1M148 156h.1M149 153h.1M149 155h.1M149 153h.1M150 156h.1M150 152h.1M150 154h.1M151 153h.1M152 151h.1M153 151h.1M153 152h.1M153 153h.1M153 155h.1M155 152h.1M155 155h.1M156 151h.1M156 149h.1M156 152h.1M158 151h.1M158 153h.1M158 150h.1M158 154h.1M159 153h.1M158 152h.1M160 148h.1M158 153h.1M159 152h.1M161 152h.1M161 153h.1M163 149h.1M162 151h.1M163 150h.1M164 149h.1M162 152h.1M165 150h.1M165 152h.1M166 154h.1M167 151h.1M168 151h.1M167 154h.1M166 153h.1M168 152h.1M167 153h.1M168 153h.1M169 154h.1M169 153h.1M171 153h.1M170 152h.1M172 153h.1M172 152h.1M172 156h.1M174 154h.1M173 156h.1M174 154h.1M172 157h.1M174 157h.1M174 155h.1M175 156h.1M174 157h.1M175 158h.1M175 158h.1M175 160h.1M177 158h.1M178 157h.1M179 158h.1M179 161h.1M180 159h.1M180 161h.1M179 162h.1M181 161h.1M181 161h.1M179 163h.1M177 164h.1M181 163h.1M179 164h.1M180 164h.1M179 165h.1M180 166h.1M180 166h.1M183 165h.1M181 166h.1M183 168h.1M184 167h.1M181 168h.1M179 169h.1M180 170h.1M183 171h.1M183 169h.1M181 171h.1M179 172h.1M177 171h.1M179 172h.1M180 173h.1M180 174h.1M180 174h.1M180 174h.1M181 175h.1M177 175h.1M178 175h.1M181 176h.1M181 176h.1M180 177h.1M176 177h.1M176 179h.1M176 180h.1M176 179h.1M177 181h.1M179 180h.1M179 181h.1M178 181h.1M177 182h.1M176 183h.1M175 183h.1M179 184h.1M174 184h.1M175 185h.1M174 184h.1M176 186h.1M176 185h.1M176 188h.1M175 186h.1M173 187h.1M173 188h.1M174 188h.1M173 188h.1M175 190h.1M176 191h.1M174 191h.1M174 191h.1M173 191h.1M174 190h.1M172 191h.1M174 193h.1M171 192h.1M173 194h.1M173 195h.1M172 195h.1M170 193h.1M169 195h.1M168 193h.1M168 194h.1M170 197h.1M169 197h.1M169 197h.1M167 197h.1M168 197h.1M168 197h.1M167 200h.1M167 199h.1M166 198h.1M164 199h.1M166 201h.1M165 203h.1M164 200h.1M164 203h.1M164 203h.1M163 203h.1M164 203h.1M162 204h.1M162 202h.1M161 205h.1M160 203h.1M160 204h.1M158 202h.1M159 202h.1M158 206h.1M158 202h.1M157 206h.1M158 202h.1M156 204h.1M155 204h.1M155 204h.1M155 203h.1M154 203h.1M154 203h.1M153 206h.1M154 206h.1M152 203h.1M153 203h.1M151 207h.1M151 205h.1M152 208h.1M151 205h.1M150 209h.1M149 205h.1M148 208h.1M147 206h.1M148 208h.1M147 208h.1M147 205h.1M147 207h.1M147 207h.1M145 206h.1M145 208h.1M143 207h.1M143 206h.1M144 203h.1M144 204h.1M142 203h.1M141 207h.1M143 205h.1M139 208h.1M140 205h.1M141 203h.1M140 205h.1M139 204h.1M138 205h.1M137 205h.1M137 202h.1M136 204h.1M135 204h.1M135 206h.1M133 205h.1M135 203h.1M134 204h.1M132 205h.1M134 203h.1M131 202h.1M132 203h.1M131 202h.1M132 202h.1M130 203h.1M130 201h.1M129 202h.1M132 197h.1M129 201h.1M129 199h.1M129 198h.1M127 200h.1M126 198h.1M127 199h.1M127 197h.1M129 196h.1M126 196h.1M127 195h.1M126 195h.1M124 196h.1M125 196h.1M126 194h.1M124 194h.1M122 195h.1M126 193h.1M124 193h.1M124 193h.1M123 193h.1M120 193h.1M121 193h.1M125 190h.1M122 191h.1M120 190h.1M120 189h.1M123 189h.1M120 188h.1M120 188h.1M119 188h.1M120 186h.1M118 185h.1M121 185h.1M119 184h.1M118 184h.1M122 183h.1M118 183h.1M120 183h.1M120 182h.1M120 182h.1M119 182h.1M122 180h.1M120 180h.1M118 179h.1M121 178h.1M117 180h.1M121 179h.1M120 179h.1M121 177h.1M120 178h.1M120 176h.1M122 176h.1M123 177h.1M121 175h.1M120 175h.1M119 173h.1M123 174h.1M123 172h.1M120 172h.1M123 171h.1M123 172h.1M120 170h.1M124 171h.1" stroke="#45196c" stroke-width="2.6" stroke-linecap="round" opacity="0.75"/><path d="M125 170L136 162L149 157L161 153L170 155L176 162L178 170L174 181L170 191L161 200L149 204L136 202L125 191L122 181Z" fill="#fbfafb" stroke="none" stroke-width="0" stroke-linejoin="round" /></g>
<clipPath id="hc4"><rect width="215" height="214"/></clipPath><g transform="translate(1278.1 249.0)" clip-path="url(#hc4)"><rect width="215" height="214" fill="#fbfafb"/><rect width="215" height="214" fill="#b446ad"/><path d="M121 160l-1-2l4-5l4 0l1 4l-1 1l-3 2zM129 171l1 1l5-3l-3-6l-4 4zM145 161l0 2l-3 1l-1 0l-4-4l0-1l7 0zM146 172l3-3l4 5l-3 4l-3 0zM154 162l0 3l4 4l1 0l1-2l1-4l-2-2zM158 178l-2 5l2 2l3 2l0 0l2-3l-3-6zM125 145l4 1l1-3l0-1l-2-3l-3 0l-1 5zM146 143l0-4l-2-1l-5 3l0 1l6 2zM154 143l-1-4l4 0l3 4l-2 1zM130 181l0 7l2 3l0 0l2-2l3-3zM168 167l6 0l1-2l0-1l0-3l-1 0l-6 0zM151 155l5-1l0-4l-5 0l0 1l-1 2zM140 131l-2-1l-4 1l-1 2l3 4l5-4zM164 153l1 2l7-1l-4-7l-3 1l-1 2zM161 135l3-4l2 1l3 5l-1 2l-3 0zM158 203l4-7l1 0l3 2l-1 4l-5 1zM185 177l-6 3l-1-2l-1-3l2-2zM147 212l-3 1l0-5l3-2l3 1zM191 161l0-5l-4-1l-5 2l1 3zM167 190l3-3l3-1l2 1l0 2l-2 3l-2 0zM188 181l-5 3l0 2l5 3l2-4l-1-3l-1-1zM191 148l-2-5l2 0l4 0l1 3l0 2l-2 1zM196 168l5 2l0 4l-6 1l-1 0zM126 194l-4-2l-3-1l-3 3l5 2zM154 131l3-3l0 0l-4-1l-4 2l1 2l2 1zM146 186l2-1l2 3l-3 4l-4-3l2-3zM154 201l4-7l-4-1l-2 5l0 1l2 2zM136 197l3-1l4 2l1 2l-4 1l-2 0zM185 202l3-3l2 2l-1 3l-2 1l-2-1zM129 199l-3 3l-2 4l4 0l2-3l-1-4zM165 175l3 4l4 0l-1-5l-4 0zM117 202l-3-4l-2 1l2 5l3 2l0 0zM145 125l-1-2l-2-5l5 1l0 3zM182 197l-4-2l3-3l4 2l0 1zM159 123l-1-6l-3 0l0 1l0 1zM164 122l1-4l2-3l2 0l1 5l-4 3l-2 0zM73 214l1 0l2 2l-3 3l-4-2l2-3zM143 112l5 0l1-1l1-4l-2-1l-5 6zM110 211l-4 1l0 2l3 1l5-2l1-2zM181 211l-3 1l2 5l3-1l-1-4zM123 213l-1 0l1 2l2 9l3-8l-2-2zM175 145l1-2l1 0l5 1l1 4l-5 5l-1-1zM216 157l-2 1l-2 0l-3 5l7-1zM210 179l1 4l5 0l2-1l-1-4zM136 208l2 2l1 4l0 0l-4 0l-1-3zM172 204l1 2l1 0l3-1l-1-2l-2-2l-2 0zM184 136l-5 0l4-8l0 0l2 3l0 4zM195 195l6 1l0-5l-6 1l-1 2l0 0zM203 184l0-1l0-3l0 0l-7 0l1 5zM135 117l1 1l0 0l1 4l-5 3l-2-5zM187 123l3 1l5 0l0 0l-4-5l-1 0zM91 213l5 1l2-1l-1-1l-1-2l-2-1zM209 195l0-4l0-2l6 1l0 3l-2 2l-4 0zM200 217l0 3l-2 10l-5-10l6-3zM197 205l4 3l0 0l1-3l1-3l0 0l-6 0zM157 110l-1-4l3-1l3 4l-2 2zM50 210l2-4l-4-4l-1-1l-2 2l2 6zM205 214l3-2l4 1l1 2l-2 2l-3 0zM164 213l1 1l2-3l-1-2l-5 1zM39 214l-1-5l0-3l2 0l2 5zM154 217l3-3l-2-3l0-1l0 0l-3 4zM209 201l5 1l0 3l0 1l-4 0zM60 211l-2 1l-1 2l1 1l2 2l2-1l1-3zM215 168l-6 1l-1 0l1 4l0 0l7-1l1-2zM43 220l2-2l4-1l0 2l-6 17l-1-15zM102 53l6-1l1 3l0 2l-2 0zM203 144l4-4l2-1l-1-1l-4-1l-2 2zM91 53l2 1l-4 9l-2 0l0-1l-2-6l0-2l0 0zM219 150l-2-1l-1-5l0-3l3 0l1 1l1 7zM175 99l-1 7l5-1l1-4l-4-2zM113 44l3 3l0 2l-2 1l-1-2zM191 136l1-4l4-1l0 3l-1 1zM31 207l-3 1l-1-1l2-2l3-2l1 1zM203 128l0 3l6 2l-2-6l-1-1l-3 1zM190 212l-1 4l1 0l6-3l-4-2zM199 161l-1-4l2-3l5 3l-2 5l-1 1l-3-2zM171 72l-3 0l0 2l1 2l1-1l2-3zM98 47l1 1l1 0l5-3l2-3l0-1l-3-2l0 0l-4 4zM180 119l-3-1l-2-5l0 0l5 0l3 2l-3 4zM195 91l1 1l-1 4l-5-1l2-5l2 0zM174 134l1 0l4-8l-5 0l-3 3zM191 166l-8 0l0 2l5 4l1 1l2-7zM189 110l2 0l4-3l-2-3l-5-1l-1 0l0 4zM207 97l-6-1l0 4l0 3l1 0l3-2zM66 70l1 5l-2 1l-4 0l-1-2l2-5l4-1zM200 83l3-2l-1-4l-4 2l0 3zM214 128l6-2l-3 7l-2 0l0 0zM200 121l-4-6l4-3l1 0l2 3l1 3zM213 108l1 2l-4 1l-4-3l4-2zM91 46l-6 0l1-8l1 0l4 4zM105 30l-3-3l1-4l5 0l0 1l-3 6zM22 202l-1 4l-3-2l-1-2l0 0l3-3zM149 58l2 0l5 3l-4 2l-2-1l-1-4zM83 29l-3 0l1-2l1-7l2 0l2 2l0 5l-1 2zM9 214l3-5l-2-3l-5 1l1 4zM80 46l0 0l-5-3l-1-4l3-3l3 2zM-2 219l4-1l3 1l0 0l-4 4l-3-3zM139 173l-6 3l1 0l5 4l2-1l-2-6zM218 89l2-2l-2-4l-2 3l0 3zM89 13l4-4l1-1l1 0l0 6l-4 0zM222 106l0 2l1 1l15-6l-15 1zM89 1l-6-2l0-1l4-3l2 1l2 5zM64 59l-1-4l-1 0l-3 2l1 3l1 1l3 0zM73 30l-1-2l-6-4l-4 1l2 7l5 0zM66 40l-4-1l-1 1l1 2l1 4l1 0l3-2zM170 58l-5 4l2 2l4 0l0-4zM123 17l-7 1l-1 2l1 0l2 3l3-2zM115 39l5 1l5-1l0-1l-5-1l-5 2zM55 27l-7 1l0 0l2 4l5 2l2-2l-2-5zM170 99l-1 7l0 0l-2 0l-4-5l1 0l4-2zM50 67l-1 0l2 4l2 0l2-4l-2-1zM28 85l2 1l2-3l-4-1l-1 1zM178 93l5 2l1-1l0-4l-2-1l-1 0zM136 20l-3 6l-3-6l0-1l0-1l0 0zM180 75l1 1l-1 4l-1 0l-2-2l1-4zM135 42l-1-2l0-1l1-3l8 2l-3 5zM39 85l2 0l1 2l-1 4l-4-2l0-1l1-2zM5 180l-3 1l0 3l2 2l1 0l1-2zM48 61l5-1l-1-3l-1 0l-2 0zM102 15l1 1l4 0l1-2l-1-2l-5-3l-1-1zM155 45l-3 4l-3 1l-2-4l2-4l1-1l5 2zM92 21l1 4l3-1l0-2l0-1zM-4 188l-12 3l12 2l2-3zM0 108l0 1l3 3l1 1l2-3l-1-4zM177 61l0 4l1 1l2 0l1-3l-1-2zM216 97l1 1l-1 4l-3-3l1-2l0 0zM98 0l-1-4l3-4l4 4l-5 4l0 0zM-5 214l-3-5l6-1l0 0l1 3zM23 96l3 3l2-1l2-3l-1-2l-3 0zM54 49l0-1l2-2l1 3l-2 1zM214 121l5-1l1 0l-2-4l-1 0l-5 1l0 3zM127 52l-3-3l0-2l3-3l1 3zM183 49l-2-1l-4 0l-2 4l0 0l2 1l3 0l3-3zM157 36l-4-2l0-6l3 0l3 1l-1 5zM181 40l-1-4l-2-2l-1 0l-1 3l1 3zM166 54l-5-4l-4 4l4 4l1 0l4-4zM30 71l0 0l0 3l4 3l1 0l-2-6l-2-1zM6 194l-2 1l-2 3l1 2l1 0l4 0l0-1zM187 66l5 0l-2 5l-3-1l-1-1zM83 11l0 0l-2-1l0-6l7 3zM35 63l3 1l3-1l0-1l0-3l-1-1l-4 1zM53 79l-2 0l-3 2l2 2l2 1l2-4zM41 77l2 0l1-2l-1-5l-3 1zM168 48l-4-4l-1-2l1-1l4 0l2 3zM23 71l0 5l-3 2l-2 0l0-2l0-1zM190 53l4 5l1 0l-1 1l-1 0l-4 1l-2-3zM0 102l3-2l0-1l-1-2l-4 1zM205 149l4-3l3 5l-4 0l-3-1zM123 12l-7 0l0-1l3-5l2 1l3 5zM16 85l3 1l2 2l-3 3l-1 0l-1-4zM168 29l-2 0l-1 6l4-1l3-3zM211 65l-3 1l-5-4l0-1l7 0l2 4zM28 57l0 1l1 4l-2 1l-3-4l1-3zM34 48l1-1l2 0l0 4l-3 1l-1-2zM142 26l-3 3l-1 1l7 3l1 0l0-6l-2-2zM15 100l-3 1l0 1l1 4l4 1l2-4l-3-3zM6 90l0 2l2 3l4-2l-3-4zM192 48l3-2l2 3l0 4l-5-4zM43 36l-2 3l-1 0l-1 0l-1-6l4-2zM41 7l1-3l-1-3l-3 1l1 5l2 1zM68 4l3-3l2 0l2 0l0 1l0 5l-5 1zM203 88l1 1l4 1l1 0l0-4l-2 0zM197 72l0-1l0-4l2-2l3 5l-1 1zM59 0l0-1l0-2l2-2l3 3l-3 3zM31 39l2 0l0-6l-2-1l-3 5l0 1zM51-5l-5-6l0 7l2 1l3 0zM22 66l0 0l-5 1l-3-4l1 0l3 0zM21 31l2 1l4-4l-2-2l-5 2zM-4 87l-18 1l16 5l4-2l0-3zM53 5l-1-1l-3 0l-3 5l5-1zM7 58l1-7l-3 2l-3 5l2 1l3-1zM10 80l-2 1l-3 1l-2-1l0-5l0 0l6 1zM-4 69l-31 2l27-9l3 1l2 1l-1 5zM150 15l-2 3l3 2l3-1l1-4l0-1l-4 0zM33 8l-4 2l-1 0l0-6l1-3l3 2zM9 66l-4 0l-1 4l6 2l1-2zM36-5l-4-1l0-1l8-11l1 6l-3 5zM166 19l-5-2l-1 5l3 0l2 0zM45 51l-1-1l-1-3l1 0l2 1l1 2zM24-4l0 0l-2-3l-4 3l2 3l2-2zM20 41l0-2l-3-1l-3 2l0 3l3 0zM218 62l-1-4l0 0l3-1l8 4zM152 1l0 0l2 1l3 2l-1 3l-4-1zM173 19l4 1l0 3l-1 2l-1 0l-2-2l0-3zM209 75l1-1l3-2l2 5l0 0l-3 1l-1 0zM189 43l3-3l2-3l-1-1l-4 2l-1 3zM23 11l-4-3l-1-1l1-1l3-2zM17 52l0 3l-4 1l0-6l0 0l2 1zM7 13l-1-3l1-1l3 0l1 2l-2 3zM136-1l-1-2l0-1l2-2l5 3zM163-3l2 1l0 2l-2 1l-2-2zM175 12l1-3l3 0l1 0l-1 1l0 2zM201 42l0-4l5 1l1 3l-1 1l-3 1zM7 31l4-2l1 0l1 3l-3 4l-3-4zM12 1l-1 1l-3 0l0-3l1-1l2 1zM122-7l-4 2l-1 1l3 2l2 0l3-1l1-1zM182 29l5 2l4-1l0-3l-2 0l-4-1zM132 6l-2 3l-1 1l-2-6l3-2l3 4zM-2 43l7 1l1 0l0 0l-1-2l-2-5zM-7 38l5-4l0-1l-3-2l-19 3l16 5zM3 27l5-3l-1-3l-3 0l-2 2l-1 2zM-5 48l4 1l-3 6l-2-1l0-7zM219 40l-5-1l0-3l1-2l2 0l2 0l1 6zM169 218l1 2l5 0l0-1l-2-4l-1 0zM141 6l4 3l1-2l0-5l-1 0l-4 3zM187 7l2-1l6 2l-5 3l-3-1zM168 12l0-3l-1-1l-3 1l-1 1l1 1l3 2zM173 2l-1-1l1-1l2-3l2 5zM28 46l-2 3l-2 0l-1-2l2-2zM195 19l1 3l5-4l-3-6l0 0l-2 4zM216 25l-2 0l-2-4l5-4l1 3zM206 8l-2 2l4 6l0 0l5-4l0 0l-2-2zM183 1l3-2l1-3l-6-2l-1 1l3 5zM-2 17l-5-4l3-1l3 0l1 3zM214-2l-2 5l-6-1l2-4l1-1zM194-3l2-2l4 3l0 4l-2 2l0-1l-4-2zM184 18l1-1l2 0l1 3l-4 0zM221 0l-3 4l2 3l18-7l-17-1zM0 4l-4 1l0-6l0 0l4 1l1 3z" fill="#fbfafb" stroke="#fbfafb" stroke-width="5" stroke-linejoin="round"/><path d="M0 35L15 20L45 25L62 50L60 80L35 95L0 95Z" fill="#fbfafb" stroke="#fbfafb" stroke-width="0" stroke-linejoin="round" /><path d="M188 128h.1M134 141h.1M1 205h.1M10 110h.1M13 6h.1M15 11h.1M206 186h.1M200 108h.1M185 100h.1M201 107h.1M211 43h.1M212 58h.1M213 55h.1M198 60h.1M167 111h.1M160 98h.1M177 137h.1M192 178h.1M54 87h.1M3 190h.1M0 177h.1M2 117h.1M58 42h.1M28 22h.1M199 8h.1M205 20h.1M208 21h.1M210 34h.1M212 29h.1M17 2h.1M77 10h.1M7 101h.1M8 101h.1M18 97h.1M15 96h.1M205 177h.1M207 177h.1M203 166h.1M206 69h.1M197 101h.1M189 87h.1M200 90h.1M210 102h.1M211 93h.1M212 141h.1M216 152h.1M208 156h.1M214 135h.1M206 121h.1M210 124h.1M201 134h.1M198 125h.1M199 127h.1M115 187h.1M102 215h.1M101 211h.1M148 201h.1M140 206h.1M216 211h.1M194 187h.1M205 189h.1M174 211h.1M181 108h.1M170 110h.1M171 110h.1M182 123h.1M181 123h.1M166 127h.1M174 138h.1M164 74h.1M200 7h.1M198 35h.1M202 49h.1M200 57h.1M196 64h.1M184 74h.1M180 84h.1M170 94h.1M173 95h.1M173 80h.1M167 79h.1M196 138h.1M189 139h.1M186 141h.1M201 148h.1M174 172h.1M176 158h.1M195 155h.1M188 151h.1M135 142h.1M131 149h.1M16 210h.1M24 211h.1M13 200h.1M4 214h.1M216 6h.1M203 4h.1M25 2h.1M28 15h.1M26 14h.1M57 38h.1M111 11h.1M100 5h.1M62 36h.1M5 16h.1M0 72h.1M0 83h.1M214 92h.1M214 68h.1M208 81h.1M205 73h.1M196 86h.1M198 87h.1M98 205h.1M119 211h.1M111 206h.1M109 194h.1M112 194h.1M205 207h.1M207 199h.1M199 213h.1M202 212h.1M180 187h.1M177 184h.1M173 210h.1M152 103h.1M161 115h.1M154 114h.1M151 117h.1M139 113h.1M139 125h.1M175 156h.1M120 32h.1M130 37h.1M133 33h.1M190 2h.1M153 68h.1M195 26h.1M195 33h.1M184 34h.1M177 167h.1M180 164h.1M189 176h.1M188 178h.1M195 164h.1M138 192h.1M147 196h.1M120 45h.1M113 55h.1M121 51h.1M134 159h.1M21 195h.1M26 202h.1M10 187h.1M47 2h.1M36 11h.1M41 11h.1M43 11h.1M53 0h.1M124 3h.1M118 27h.1M78 -1h.1M58 24h.1M64 20h.1M69 12h.1M53 14h.1M56 4h.1M2 33h.1M121 200h.1M136 203h.1M131 194h.1M190 195h.1M193 198h.1M186 208h.1M182 206h.1M182 201h.1M167 184h.1M151 182h.1M169 205h.1M161 192h.1M152 122h.1M161 125h.1M162 127h.1M145 135h.1M145 129h.1M149 136h.1M156 134h.1M165 160h.1M163 170h.1M150 165h.1M160 173h.1M159 175h.1M158 13h.1M155 24h.1M152 53h.1M148 37h.1M176 69h.1M175 69h.1M186 61h.1M191 16h.1M146 183h.1M129 178h.1M129 177h.1M141 168h.1M141 168h.1M97 27h.1M99 21h.1M111 18h.1M110 39h.1M106 35h.1M105 36h.1M76 27h.1M89 29h.1M82 16h.1M68 65h.1M69 66h.1M126 23h.1M129 13h.1M126 16h.1M95 3h.1M98 17h.1M85 16h.1M91 206h.1M87 215h.1M158 206h.1M154 206h.1M160 157h.1M151 144h.1M149 160h.1M159 11h.1M145 54h.1M129 56h.1M162 39h.1M158 41h.1M159 45h.1M184 11h.1M181 3h.1M173 8h.1M177 30h.1M181 16h.1M169 16h.1M81 52h.1M70 45h.1M70 36h.1M76 32h.1M98 53h.1M96 51h.1M128 176h.1M141 21h.1M38 201h.1M32 210h.1M157 -2h.1M175 45h.1M181 57h.1M175 57h.1M184 43h.1M170 54h.1M187 50h.1M85 33h.1M83 50h.1M96 41h.1M150 11h.1M147 14h.1M136 6h.1M53 214h.1M68 212h.1" stroke="#3a1864" stroke-width="3.8" stroke-linecap="round"/><path d="M16 132L31 110L57 102L86 81L105 72L129 76L150 94L154 102L137 106L125 119L116 138L116 162L105 181L86 191L63 191L38 183L20 170L14 149Z" fill="none" stroke="#92308f" stroke-width="30" stroke-linejoin="round" /><path d="M15 131h.1M2 132h.1M17 130h.1M10 131h.1M17 128h.1M9 127h.1M14 127h.1M20 126h.1M19 125h.1M10 124h.1M15 122h.1M21 123h.1M24 122h.1M21 120h.1M23 119h.1M16 117h.1M13 115h.1M24 116h.1M21 115h.1M15 112h.1M18 110h.1M16 111h.1M18 108h.1M17 108h.1M21 106h.1M29 108h.1M28 108h.1M30 110h.1M31 108h.1M32 108h.1M28 104h.1M30 105h.1M27 101h.1M34 106h.1M37 105h.1M33 102h.1M39 105h.1M31 101h.1M41 103h.1M39 102h.1M45 104h.1M38 100h.1M48 103h.1M42 100h.1M50 102h.1M41 97h.1M47 98h.1M46 99h.1M53 103h.1M47 95h.1M52 97h.1M56 101h.1M56 98h.1M56 97h.1M54 92h.1M53 90h.1M55 89h.1M60 96h.1M62 96h.1M60 92h.1M64 94h.1M57 85h.1M59 83h.1M65 90h.1M63 84h.1M66 90h.1M66 85h.1M69 92h.1M70 87h.1M67 79h.1M70 80h.1M72 87h.1M71 78h.1M73 83h.1M74 79h.1M74 81h.1M78 85h.1M77 78h.1M79 80h.1M78 79h.1M82 78h.1M79 73h.1M83 78h.1M83 74h.1M84 72h.1M85 72h.1M87 77h.1M86 76h.1M88 69h.1M88 66h.1M90 71h.1M91 75h.1M94 66h.1M93 64h.1M95 70h.1M95 66h.1M96 67h.1M97 73h.1M99 65h.1M99 71h.1M99 74h.1M101 70h.1M105 61h.1M104 66h.1M107 62h.1M108 63h.1M110 60h.1M108 65h.1M109 66h.1M110 66h.1M115 60h.1M114 60h.1M116 65h.1M118 62h.1M120 64h.1M119 67h.1M120 66h.1M117 74h.1M120 71h.1M121 67h.1M122 73h.1M126 67h.1M122 74h.1M128 67h.1M126 73h.1M132 65h.1M131 71h.1M132 69h.1M137 65h.1M133 71h.1M136 72h.1M135 73h.1M137 71h.1M138 72h.1M140 75h.1M138 75h.1M137 81h.1M145 72h.1M143 78h.1M145 75h.1M147 76h.1M145 80h.1M145 81h.1M151 77h.1M144 87h.1M143 87h.1M152 83h.1M152 83h.1M154 84h.1M145 90h.1M152 87h.1M155 85h.1M158 87h.1M153 90h.1M154 92h.1M160 89h.1M155 94h.1M163 90h.1M160 95h.1M155 96h.1M159 99h.1M153 99h.1M159 99h.1M161 99h.1M152 102h.1M157 101h.1M161 98h.1M158 99h.1M158 100h.1M148 103h.1M154 100h.1M154 100h.1M144 104h.1M150 101h.1M148 102h.1M146 103h.1M139 106h.1M143 105h.1M145 104h.1M147 102h.1M140 107h.1M149 102h.1M139 107h.1M143 105h.1M144 107h.1M145 105h.1M133 111h.1M133 112h.1M139 111h.1M140 110h.1M130 116h.1M128 116h.1M128 117h.1M133 116h.1M138 115h.1M132 117h.1M129 120h.1M131 119h.1M132 121h.1M128 123h.1M126 125h.1M130 123h.1M136 125h.1M123 126h.1M127 128h.1M125 127h.1M122 131h.1M128 131h.1M122 132h.1M121 132h.1M129 136h.1M125 134h.1M130 139h.1M125 137h.1M124 140h.1M124 141h.1M119 141h.1M123 142h.1M129 148h.1M128 148h.1M123 147h.1M123 147h.1M127 152h.1M120 149h.1M118 149h.1M117 149h.1M123 155h.1M117 151h.1M120 156h.1M128 162h.1M122 159h.1M126 162h.1M124 163h.1M117 159h.1M118 161h.1M124 168h.1M120 167h.1M121 167h.1M124 173h.1M117 167h.1M120 171h.1M120 173h.1M114 170h.1M113 170h.1M114 171h.1M113 171h.1M116 178h.1M116 182h.1M116 183h.1M110 176h.1M113 184h.1M115 186h.1M110 182h.1M111 182h.1M110 189h.1M112 190h.1M108 186h.1M109 189h.1M105 184h.1M109 196h.1M106 195h.1M105 194h.1M101 185h.1M102 191h.1M99 188h.1M99 195h.1M97 196h.1M99 198h.1M96 195h.1M96 196h.1M93 195h.1M92 192h.1M92 200h.1M90 197h.1M88 201h.1M89 191h.1M86 204h.1M85 199h.1M84 204h.1M84 201h.1M82 196h.1M81 199h.1M80 202h.1M80 195h.1M75 204h.1M77 202h.1M75 197h.1M74 201h.1M70 205h.1M71 205h.1M71 196h.1M68 204h.1M68 194h.1M68 198h.1M66 196h.1M64 203h.1M62 199h.1M64 197h.1M60 202h.1M63 194h.1M60 194h.1M59 197h.1M54 200h.1M58 194h.1M53 197h.1M55 191h.1M55 190h.1M49 199h.1M51 191h.1M49 196h.1M43 199h.1M47 196h.1M47 190h.1M50 188h.1M46 188h.1M46 188h.1M42 190h.1M39 193h.1M37 192h.1M43 185h.1M38 188h.1M33 195h.1M37 187h.1M36 186h.1M35 184h.1M34 186h.1M30 187h.1M30 188h.1M25 189h.1M33 181h.1M28 182h.1M27 184h.1M22 185h.1M27 181h.1M20 183h.1M20 184h.1M24 178h.1M24 177h.1M19 179h.1M20 178h.1M16 177h.1M18 178h.1M21 173h.1M18 174h.1M9 176h.1M11 176h.1M9 175h.1M9 173h.1M12 170h.1M9 172h.1M16 164h.1M7 169h.1M6 167h.1M9 165h.1M13 161h.1M12 161h.1M13 159h.1M5 161h.1M7 158h.1M12 156h.1M5 156h.1M7 156h.1M6 153h.1M6 154h.1M7 151h.1M11 150h.1M4 150h.1M14 146h.1M10 146h.1M2 147h.1M1 144h.1M5 145h.1M11 141h.1M2 143h.1M12 138h.1M9 138h.1M15 137h.1M7 137h.1M2 134h.1M4 134h.1" stroke="#461766" stroke-width="4.4" stroke-linecap="round" opacity="0.75"/><path d="M16 132L31 110L57 102L86 81L105 72L129 76L150 94L154 102L137 106L125 119L116 138L116 162L105 181L86 191L63 191L38 183L20 170L14 149Z" fill="#fbfafb" stroke="none" stroke-width="0" stroke-linejoin="round" /></g>
<clipPath id="hc5"><rect width="216" height="216"/></clipPath><g transform="translate(68.2 568.0)" clip-path="url(#hc5)"><rect width="216" height="216" fill="#fbfafb"/><rect width="216" height="216" fill="#c168be"/><path d="M38 7l-1 3l1 3l3 1l1-2l0-4l-2-2zM33-1l4 2l1 0l1-3l-6-8zM41 21l4 5l-3 2l-1 0l-2 0l0-1zM28 26l2 5l4-3l-1-1l-2-2zM24 4l0 5l-1 1l-1 1l-3-2l2-6zM36 32l1 1l0 6l-2 1l-4-5l1-1zM18 1l0 0l-2-1l-3 0l-1 2l2 5l2 0zM32 43l0-1l-4-4l-1 0l-1 5l1 1zM45-1l3-3l1 2l0 5l-4 1l-2-2zM51 8l3 1l0 4l-1 0l-5-1l-1-4zM8 5l-3 2l0 2l2 3l1 0l3-2zM16 13l-1 0l-4 3l4 4l2 1l0 0l2-6zM27 14l3 2l3-1l-1-3l-3 1zM54-1l4 1l2 2l0 1l-3 2l-3-1zM31 54l-3-2l-1-3l6-2l0 6zM20 26l0 0l0 6l5 1l1-1l0 0l-2-4zM-2 13l2-1l3 3l-3 4l-4-3zM44 18l2-2l5 1l-1 5l-3 0l-3-4zM66 2l0 0l3-3l2-1l1 1l1 4l-4 1zM63-1l3-3l-3-6l-1 6zM37 52l4 1l2-2l0-5l0 0l-3-1l-2 0l-1 1zM23 17l-3 5l5 0l2-1l0-1l-3-4zM29-2l-3 1l-3-1l0-1l7-13l1 5zM51 28l-2 0l-2 2l2 3l2-1l1-3zM-3 7l3 0l1-3l-4-3l-1 0l0 0l-1 4zM45 36l0 5l-4-2l0-5l2 0zM19 41l-2-3l2-2l5 1l-2 5zM7 18l-1 0l-3 4l0 0l3 4l5-3zM13 26l-4 4l0 2l2 2l2 0l2-2l1-6zM6 0l-2 1l-4-3l5-3l2 4zM23 52l-3 2l-2-1l0-4l1-2l3 1l1 0zM83 7l1 4l-4 0l0-4l3-1zM33 21l3 3l2-5l0 0l-2 0l-3 1zM59 43l-2 3l-2-2l2-2l1 0zM35 58l-1 4l5 2l1-1l-1-5l-3-1zM29 58l0 3l-1 0l-4 1l-1-4l3-2zM48 64l-4-1l0-5l2-1l2 1l1 4zM15 44l-2-4l-2 0l-2 4l1 2l3 0zM18 70l-2 1l-2-1l1-2l3-1zM8 38l-3 3l-3 0l0-4l3-2zM46 74l-2 0l-2-3l0-2l1-1l4 1l2 2zM82 2l-3 0l-1 0l-1-4l5-1l0 0zM53 61l-1-5l4-1l0 1l1 3zM54 69l-1-2l1-1l4-2l0 0l0 5l-2 1zM94 8l-3 5l-1 0l-2-2l0-4l5-1zM55 51l-5 2l-2-1l0-5l3 0l3 3zM54 80l0-5l-2-1l-2 3l1 3zM19 63l0-1l-1-3l-1 0l-5 1l3 3zM36 76l0 5l2-1l2-3l-2-3zM59 13l0-4l4-2l2 2l1 3l-4 2zM34 71l2-1l1-2l-5-2l0 0l0 4zM57 18l-1 1l-2 4l2 2l4 0l1-1l-2-5zM1 46l-1 1l-1 2l0 0l4 1l2-2l-1-2zM67 55l-1-1l-6 1l2 4l0 0l3-1zM3 32l0-2l-3-4l-4 4l2 2l2 0zM-2 38l-2 0l-2 2l3 3l1-2zM64 18l1 5l3-2l1-3l-1-2zM46 83l-1 3l0 0l-4-3l3-3l2 0zM57 30l-1 4l1 2l1 0l3-3l-1-3zM62 47l-2 2l0 2l0 0l6 0l-3-4zM69 34l-3-3l-1-2l1-1l2-1l3 1l-1 5zM21 74l1 2l0 1l-1 1l-3 0l0-3zM71 12l2 1l2 0l1-1l0-4l-1-1l-4 2zM4 58l-1-3l-4-2l-1 5l4 2zM73 19l3 0l2 4l-1 1l-2 0l-3-1zM12 76l0 2l-1 1l-2 1l-1-5l3 0zM66 64l-3 0l0 6l2 0l3-3l0 0zM61 89l4-1l-1-5l-4 3l0 3l0 0zM10 66l-2-3l-1-1l-2 3l-1 1l1 3l1 1l3-1zM98 5l-1-2l0-2l4-1l2 3l0 0l-4 2zM49 39l-1 3l0 0l3 0l2-3l-1-1zM14 55l-5 2l0 0l-1-3l1-3l4 0zM68 38l-4-2l-2 3l2 2l1 0l2-2zM58 80l1 1l4-2l0-1l-1-2l-1-1l-3 0zM74 74l0-1l-3-2l-4 3l2 3l3-1zM70 43l-2 3l2 3l0 1l1 0l1-3zM28 78l4 3l1 0l-1-5l-2 0l-2 0zM5 81l0 0l-5 0l-1-3l4-3l1 1zM15 83l2 3l3 1l0-5l-4 0zM82 21l-3-4l2-1l3 0l2 1l-1 3zM92 2l-4 0l-1 0l0-5l5 0l0 2zM78 77l2 2l-1 2l0 1l-1 0l-2-2zM76 64l3 0l0 3l-3 1l-2-1l0-1zM74 34l2-4l2-2l0 4l-1 1zM95 21l0 5l-2 1l0 0l-4-4l2-4l0 0zM90 29l-4-3l-3 0l-1 1l2 3l3 2zM0 91l-2-4l1-1l5 0l0 5l-2 0zM24 69l1 2l2-1l1-4l-5 0l0 1zM-1 69l-11 2l8 4l4-3zM86 39l0-3l-3-1l-2 2l2 3zM72 56l2 4l-3 4l-2-5l2-3l1 0zM107 1l4-3l-4-4l-1 4zM106 33l-4 2l-5-4l2-1l4 0l3 2zM54 85l1 0l0 4l-5-1l-1 0l2-3zM97 10l-3 5l4 1l3-1l0 0l-3-5zM11 85l3 3l-3 3l-3-1l1-4l0 0zM80 46l-3 2l-2 3l1 1l4-1l0 0zM90 45l-1 4l-5 0l0-4l0-1l3-1zM18 92l2 0l1 1l0 2l-4 4l-1 0l-2-5zM76 55l5 0l0 4l-1 0l-2 0zM107 16l2-5l3 1l2 4l-2 1l-4 0l-1-1zM103 19l1 2l-1 4l-4 1l1-5zM98 62l1-4l0 0l-5-2l-1 4l1 2l3 0zM6 101l4 1l2-1l-2-4l-3-2l-1 1zM123 3l5 0l0-1l-1-3l-6-1l-1 2l1 2zM76 93l1 1l1 0l2-2l-2-4l-1 0l-2 3zM65 92l3-1l2 0l0 2l-3 2zM77 103l2 0l2 0l0 0l-2-3l-1-1zM109 4l4-3l2 0l0 3l-2 2l-3 0l-1-2zM109 30l-2-4l1-4l4 0l0 5zM93 41l4 0l1-3l-4-5l-1 0l-1 3l-1 3zM124 14l1 0l2-1l0 0l3-7l-6 3zM107 37l-3 3l-2 2l2 2l3 0l2-4zM132 12l5 0l0-3l-2-2l-2-1l0 0zM112 35l2 2l3 1l2-1l0-5l-4-1l-3 3zM86 89l2-2l-1-2l-3 0l-1 1l2 3zM69 100l3-3l1 1l-2 4l-3 1l-1-1zM117 25l-1-4l2-1l3-1l0 0l1 7l-1 1zM85 78l2-2l3 1l-2 3l-3 0zM89 53l1 1l-2 4l-2-1l-1-3l1 0zM71 87l3-2l-3-3l-3 0l0 0l1 3zM104 54l6 1l1-2l-3-4l-3 1l-1 4zM2 107l0 5l3 2l3-2l0-5l-4-1zM95 47l3-1l2 2l0 5l-5-2l-1-1zM86 67l2-3l-1-1l-2 0l-1 0l0 3zM122 42l2 1l0 4l-2 2l-3 0l1-6zM109 62l2-1l-1-2l-6-1l-1 6l3 1zM85 95l3 2l-3 4l-3-4l2-2zM80 73l-1-1l3-1l2 0l1 2l-3 1zM97 80l-3-1l-1 0l-1 3l0 2l3 1zM102 70l-2-2l-1 0l-3 7l4 1l2 0l1-3zM19 112l-3 1l-4-1l1-5l2-2l1 1l3 3zM79 42l-4 0l-2-2l0-2l1 0l2 1l3 3zM124 37l3 1l3-1l0-1l-1-5l-4 0l-1 1zM102 92l-3-1l-1 4l4 0l1-1zM140-3l-1 2l-3 2l-3 0l-1-3l2-3l6 1zM13 118l0 5l-4 2l-1-3l0-3l2-2zM116 59l0-2l0-2l2-1l2 1l3 5l-1 1zM109 81l-3-2l2-2l3 1l3 4l-2 1zM-1 102l-1-4l1-2l3 0l0 5l-2 1zM25 122l0 1l-5 2l-2-1l0-5l3-1zM117 69l4 0l0-5l-6-1l0 2zM26 126l-4 3l0 4l0 0l5 0l1-4zM127 59l-2-6l3-1l3 2l1 1l-1 1l-1 2zM122 91l-4 1l-2 0l0 0l0-4l1-2l1 0l4 4zM117 74l4-1l0 1l-1 3l-2 3l0 0l-2-4zM84 110l-1-3l-3 2l-1 3l2 0zM113 71l-2-4l-4 2l1 4l3-1zM39 136l-4-5l-2 0l-1 4l1 2l2 1zM89 92l3-3l2 1l0 1l-1 3l-1 1l0 0zM99 105l-2-1l-2-4l2-1l4 1l0 3zM25 144l-2-2l-1-5l5 1l1 2zM127 98l-3 3l-2 0l-1-4l3-2zM103 84l-1-3l-2 1l-1 4l0 0l3 1zM111 96l0 0l-1 6l-4-1l0-3l2-1zM87 113l-3 2l2 5l4-3l-2-3zM126 65l1 0l3-1l3 4l-4 2l-4-1l0 0zM13 143l4-2l1-4l0 0l-3 1l-3 3zM90 71l1-4l5 0l-3 6l-1 0l-2-1zM35 147l-1 3l-4-1l-2-2l0 0l3-4l3 0zM88 107l-1-3l0 0l3-3l1 0l2 5l-4 2zM118 14l-1-4l1-3l2 2l1 5zM20 155l4-4l2 2l-2 5l-1 0l-2-1zM0 116l3 2l-1 4l-3 1l-1 0l-2-5zM125 19l3 0l3 5l-2 1l-3 1zM113 42l-1 4l2 4l2-1l1-6zM25 163l2 0l4 2l-1 2l-4 3l-2-1zM-6 134l1-1l0-5l0 0l-15 2zM-1 144l4-2l-3-3l-2-1l-1 1l0 3l0 2zM6 129l-3 4l-3 0l0-6l4 0l2 2zM132 50l0-6l-1-1l-3 0l0 4zM108 87l-1 2l0 2l4 1l0-5zM143 61l-7-2l-2 3l3 3l1 0l4-2zM111 111l-2 2l-5-2l0-3l2-2l4 1l1 1zM14 133l-2-3l0-1l3-1l2 1l1 4zM116 123l1-1l-1-5l-2-1l-2 2l-1 3zM30 154l4 1l1 2l0 2l-2 3l-4-3zM100 8l4 5l2-4l-1-2zM44 139l2 3l-2 2l-4 1l-2-4l4-2zM129 79l-3-1l-1-4l4 2l0 2zM52 151l2-2l-3-4l-2 0l-1 3l0 4l1 0zM129 94l-1-2l0-1l2-3l4 3l-5 3zM106 121l1-4l-5-2l-3 5l2 1l4 0zM66 159l0-3l4-1l0 6l-1 0l-1 0zM11 156l-1 6l0 0l2 0l4-3l-2-2l-2-2zM138 76l0-2l-1-3l-1 0l-2 2l0 4zM135 28l4 4l-5 3l0-6l1-1zM45 157l0 0l-4 1l-1 2l4 1l1-1zM149 58l0-6l5 0l0 4l-1 2zM121 111l-2 1l-3-1l0-3l4-2l2 1l0 1zM151 3l-2-2l-4-2l0 2l3 3l1 1zM123 117l-2 0l1 5l4 0l2-2l-1-1zM152-7l-4-8l-2 9l0 1l4 0zM117 98l-2-1l-1 6l1 1l3-2zM142 3l-3 2l2 2l4 0zM10 168l-2 4l2 2l2-1l2-2l-2-3zM129 100l-2 3l0 1l3 1l1-3l-2-2zM59 164l2-2l3 2l-3 4l-3-2l0-1zM14 151l0-4l5-1l3 2l0 0l-5 3zM166-4l-1 4l-1 1l-1-1l-1-4l3-5zM8 151l-3 0l-2-4l4-2l1 0l1 2l0 3zM52 166l1 2l-3 3l-3-1l0-4l2-1zM19 173l-2 2l2 4l3-4l0-1l-1-1zM8 139l-1 0l-2-2l3-5l2 4zM5 177l1 1l-1 5l-2 0l-2-2l1-5zM125 126l-4 1l-1 0l0 2l2 3l3-4zM144 78l4 2l1-4l-1-2l0 0l-4 2l-1 2zM141 36l0 0l-5 2l-1 1l2 2l5 1l2-3zM10 185l-1-1l1-5l3 0l2 3l1 2zM8 195l-4 1l-4-3l1 0l3-3l1-1l1 0zM134 124l3 3l0 3l-3 0l-3-3l0-1l1-3zM143 30l0 0l-4-4l3-3l3 4l0 0zM136 50l0-5l6 1l0 3l-6 3zM143 89l1 0l3-3l0-1l-5-2l-1 5zM31 180l-3-4l0-2l4-3l2 3l-2 6zM19 162l1 1l0 5l-2 0l-2-3zM149 17l-5 2l0 1l3 3l3-3zM54 160l-1-4l-4 1l2 3l3 2zM134 112l4 1l1 2l-1 1l-3 2l-2 0l0-1zM57 171l-3 3l1 4l5-1l0-3l-1-1zM159 10l-5 0l-1-2l3-2l4-1l1 1l0 2zM105 132l-3 0l-3-3l1-3l5 0zM112 136l6 3l2-2l-1-1l-2-3zM147 71l-3-5l-4 3l2 3zM57 159l4-2l0-3l-3-2l0 0l-1 2zM148 12l0 1l-5 3l-1-3l1-2l3-1l2 0zM160 72l-1 2l-4-1l-2-1l3-4l3 1zM-2 157l-2-5l1-3l2 1l1 2zM21 184l3 0l4-1l-4-4l-2 4l-1 1zM64 170l2 2l3-1l1-1l-1-3l-1 0zM158 15l-5-1l0 2l2 2l3 1l0-1zM168 16l-5 1l0-3l2-3l3 3zM133 16l4 1l1 2l0 1l-2 2l-1 0l-4-5zM40 150l-1 2l1 2l4-1l-1-4zM160 64l-2-1l-1-1l1-2l3 1l1 1zM7 155l-4 1l-3 3l0 1l0 0l6 2zM151 93l2 0l1-2l0-2l-3-2l-4 5zM43 190l-5 1l-2-6l5 0l2 2zM128 130l-2 5l-1 1l4 2l2-4zM47 183l-3-2l1-5l1 0l3 0l1 3l0 1zM170 11l3-1l-2-5l-3 1l-1 0l0 2zM80 166l0 3l0 0l-5 0l-1-4l1-1l4 1zM136 142l-3-1l0-1l2-4l3-2l3 3l-4 4zM150 69l-2-5l0-1l0-1l4 1l0 2l-2 4zM20 194l3 1l1-2l0-3l-4-2zM156 44l-2-4l-5 1l-1 4l0 2l1 1l5 0l1-1zM6 166l-2 5l-3 0l-2-2l0-5l6 2zM167 50l-6-2l1-3l5-1l2 5l0 1zM173-3l0 3l-1 1l-3 0l1-4zM133 96l3 2l2 0l1-4l-1-1l-1 0zM88 167l4 1l0 2l-4 1l-3-1l1-3zM-3 185l-9 0l9 6l3-4zM2 201l-4-4l-2 4l2 3l0 1l3 0zM153 35l-4 1l-3-2l3-5l4 4l0 2zM144 117l0-1l4 0l2 1l0 4l-1 0l-2 0zM136 87l1 0l1-5l0-1l-4 1l-1 1l0 1zM142 99l1 2l2-1l2-3l-3-2l-1 0zM154 100l0-2l-3 1l-1 3l1 1l2-1zM94 180l0 0l1-4l-1-1l-4 1l1 3zM28 198l5 0l0 4l0 1l-5 2l-2-1l0-5zM125 87l-4-4l3-1l3 1l0 1zM103 172l1-1l-4-5l-2 3l0 2l1 0zM144 58l-7-2l1-2l6-3l1 1l0 5zM66 182l-1-2l0-3l4 0l1 3l-4 2zM164 99l1 0l0-4l0-1l-5 0l-2 2l2 2zM134 107l2-3l2 0l1 1l-1 3l-4 0zM13 194l3-1l1-5l0 0l-7 1l2 5zM157 23l-3 0l-3 2l0 0l4 3l2-4zM164 70l3-1l2-3l-4-1l-1 3zM143 129l3-2l3-1l-3 6l-1 1l-1 0l-1-2zM150 132l5 1l1-5l-3-2l-1 1zM156 84l-4-1l0-1l2-4l4 0l1 2zM168 20l1 2l0 2l-3 1l-3-2l-1-1l2-1zM167 61l0-2l2-3l2-1l3 5l-1 2l-2 0zM107 168l-1 0l-3-4l0-1l1-1l6 1zM121 143l2-2l4 1l1 1l-3 3l-2 0l-3-3zM116 152l-2-2l0-1l3-3l1 4l-1 1zM162 128l4 5l-2 2l-5 0l0-1l1-5zM82 182l-1-1l-1-1l2-6l1 0l2 2l0 3zM159 1l-2-4l-1 0l-2 1l1 3zM44 195l-5 1l-1 1l0 4l7 1l1-2l-2-5zM161 106l-1 1l-2-2l0-4l5 2zM134 147l-3-1l-1 3l1 5l3-4zM183 55l-2 2l-3 0l-4-4l1-2l6-3l2 5zM104 175l-5 1l-1 5l6-1zM39 180l2-4l-4-1l-2 6l0 0zM154 143l0 0l1-4l-1-1l-4-1l-2 1l3 4zM161 120l0 1l-1 2l-1 0l-4-1l0-5l3-1zM114 165l0 1l-4 4l7 2l-2-6zM185 67l-3-5l-3 1l-1 2l2 4l3 1zM92 187l0 0l1-2l-4-2l-4 2l3 4zM11 199l1 6l-6 0l-1 0l2-4l2-2zM29 193l5 0l1-1l-3-6l0 0l-1 0l-3 2zM3 214l-1-4l0 0l-3 0l-1 5l0 1l4-1zM171 78l0-1l-3-3l-3 1l-1 2l1 1l1 0zM117 161l1-4l1 0l4 2l-3 2l-2 0zM54 190l-3-5l-3 3l0 3l0 0l6 0zM15 199l1 6l1 1l4-2l0-4l-4-1zM91 201l1 4l2-1l2-2l-2-1zM110 133l4-3l0-2l-5-3l-1 1l1 6l0 1zM112 160l0 0l-6-2l2-2l3-2l2 2zM172 82l-6 0l3 6l5-4zM44 209l-1 1l-4 1l-1-5l0-1l6 1zM56 198l-2 1l-3 1l-3-6l7 1zM161 41l-2-3l0-1l5-2l3 3l-1 2zM173 17l1 2l4-1l0-4l0 0l-2 0l-2 1zM83 193l-8 0l5-6l1 1l2 3zM170 141l4 1l2-2l0-1l-3-4l-3 1l-1 2zM108 175l1-1l0 0l6 1l0 0l-4 5l-1 1l-2-2zM138 147l1 3l2 2l3 0l-1-3l-4-2zM82 198l-3 4l-3-2l-2-4l0 0l8 1zM177 79l0-1l2-3l3 0l1 3l-3 2l-2 1l0 0zM175 87l0 0l1 5l-1 1l-4-1l-1-1l1-1zM119 188l0 3l0 0l-5 1l-3-1l0-5l2 0zM163 111l3 2l-3 3l-2-3l1-2zM100 204l-2 3l2 4l2 0l2-2l-1-2l-1-3zM144 107l-1 2l0 2l4 0l0-4l-1-1zM115 208l-4 1l-2 0l0-3l4-1l1 0zM173 119l0 1l-6 0l0-2l3-2l3-1l0 1zM12 213l1-1l0-2l-1 0l-5-1l1 5zM80 173l-6 1l0 1l1 3l2 1zM190 7l-3 5l-3-1l0 0l1-4zM128 167l-3-4l3-2l1-1l2 3l0 0zM10 221l0-3l-3 0l0 1l0 6zM179 86l2 5l4 2l0-4l-4-3zM16 220l3 1l2-2l-5-3l-1 2zM136 154l-3 3l0 0l2 3l2-1l2-3zM68 186l5-2l3 0l0 1l-4 6l0 0l-1 0zM91 212l0-1l1-1l2 0l2 3l-2 0zM58 187l-3-4l0-1l5 0l2 2zM130 172l3 2l4-1l-4-6l-2 4zM98 188l7 2l1-1l0-4l-2-1l-5 0l-1 1zM43 215l-4 0l0 1l0 2l3 2l1-3zM144 173l3-4l3 2l0 3l-2 1l-2 0zM173 47l6-3l0-1l-5-3l-2 1l-1 1zM167 107l2 3l3 0l0-4l-4-2l0 1zM53 209l-3-1l-1-2l1-2l3 0l2 4zM173 68l1-1l3 4l-3 3l-2-4zM141 143l3-4l1 0l2 4l-2 3zM87 202l1 4l-1 2l-4-1l0-2l2-3zM180 110l2-4l-5-1l0 2l-1 3l1 1zM194 75l-3 2l-3-1l-1-3l2-2l0 0l4 3zM97 219l1-2l2-1l1 4l-6 5l0 0zM124 172l-2 0l-2 0l0 0l-1-5l3 0l2 4zM184 101l1-3l0-1l-4-1l-2 1l0 4l5 0zM156 155l1 0l3-1l2-2l-1-2l-4-2l0 0zM178-3l0 2l3 1l0-4l-3 0zM18 210l5-1l1 1l1 3l-1 3l-1 0l-4-3zM62 195l5-2l-3-5l0 0l-4 3l0 1l1 3zM105 199l2 3l4-2l-1-4l-2-1l-1 0zM154 108l-2 0l0 3l2 1l1-1l1-1zM64 199l3 6l2-1l2-3l-1-4l-1 0zM61 201l2 5l-1 1l-3 0l-1-4l2-2zM34 212l0-5l-5 2l1 4l4 0zM71 214l-2 2l-3 0l0 0l0-4l1-2l1 0zM172 125l-6-1l-1 2l4 4l2-1l1-1zM189 65l-3-5l2-2l5 2l0 1l0 1l-3 3zM171 29l3 2l-2 4l-2 0l-1-3l-1-2zM186 43l-1 1l0 2l1 4l4-3l-1-2zM193 8l-1 5l1 2l5-1l-1-4l-3-3zM105 215l2-2l2 2l1 2l-2 3l-2-2zM157 179l0 2l0 0l-4 2l-2-4l3-2zM146 156l3 2l-3 4l-3-3l1-2zM184 35l-1 0l-2-2l-2-1l-2 5l5 3l1-2zM149 150l1-2l4 0l-2 6l0 0l-3-2zM121 210l1 6l5-3l-3-3zM110 138l5 3l-1 1l-2 3l-3-3l1-4zM34 219l-2 3l-4-3l2-2l3 0zM159 144l4 1l2-3l-1-3l-5 0zM163 83l-1 0l-3 4l1 3l5 0l0-1zM120 206l3 0l1-2l-2-2l-2 2l0 2zM97 191l0 0l7 2l-3 5l-2 0l-1-2zM163 178l0 2l4 1l2-2l0-2l-4-1zM136 178l-1 4l2 2l2 0l2-6l-1-2l-1 0zM190 90l2-1l3 0l0 6l-5-1l0-1zM159 174l-3-1l-1-3l2-1l4 1l-1 2zM196 3l4 3l4-2l-2-5l-5 0l0 0zM78 216l1 3l-1 1l-2 0l-2-1l2-3zM127 176l-3 1l1 6l6-2l-1-3zM133 187l-3 5l-5-2l0-2l1-1l5-1zM199 53l1-1l1 1l2 3l-5 2l0-2zM188 114l1 0l1-1l0-4l-3-3l-1 1l0 4zM58 213l-1 5l5-1l-1-5l-2 0zM78 209l-1 1l-2 1l-3-3l3-3l3 2zM181 124l0 2l-1 1l-3 0l0-3l0-1zM118 212l1 4l0 1l-4-1l-1-3l4-1zM189 82l0 2l-1 1l-5-2l4-2zM124 219l4-3l1 0l1 4l-6 6l0-7zM137 165l0-1l3 0l3 2l0 0l-2 4l-1 0zM185 117l-3-2l-4 0l0 4l4 0zM129 111l-2-1l-2 3l4 2l0-4zM163 29l0 2l-5 3l0-3l2-4zM152 166l-3-2l0 0l3-4l1 0l1 0l0 4zM162 165l2-1l-3-4l-3 0l1 4zM188 25l0 2l-2 4l-3-3l2-3zM167 162l-3-4l2-3l3 2l0 5zM202 15l1 0l5 0l2-3l-1-3l-3-1l-3 2zM121 184l-7-1l5-5l1 0l1 5zM188 120l1 0l2 3l-2 2l-3 0l1-3zM167 188l-1-3l-4-1l0 1l1 3zM90 217l3 1l-1 6l-3-5zM190 2l-4 0l0-1l0-4l1-1l5 2l-1 4zM173 188l-1-1l0-2l1-3l2 1l0 3l-1 2zM117 200l-1 0l-1-4l5-2l-1 4zM197 79l3 2l-1 3l-2 1l-3-1l0-3zM165 172l5 1l1-4l-1-1l-1-1l-1 1l-2 1zM139 201l-4 1l-2-1l1-3l5 2zM171 152l2-1l0-4l-4-1l-2 2l0 3zM132 207l-2-2l-1 0l-1 3l2 2l1 1l1-1zM189 133l-1 1l-2-1l-1-2l1-1l2 0zM203 76l-1 0l-3-2l0 0l2-4l4 0zM206 81l-1 0l0 4l3 3l4-1l0-2l-4-3zM216 23l-3-4l-1-1l2-2l1 0l3 3zM177 177l-2 0l0-1l1-5l5 2l0 0l-1 2zM174 163l2-3l1-4l-1-1l-2 2l-2 5zM187 139l2 4l-2 2l-5-4l0-1l3-1zM208 43l-4-3l-2 1l1 6l1 0l3-2zM194 20l-1 2l0 2l3 1l2-1l0-5l0 0zM198 123l1-2l-1-4l-4 1l-1 0l2 4zM189 37l6 0l1 1l-4 3l-4-1zM156 193l-1-1l-1-4l0 0l4-2l1 4l-1 2zM141 195l-1-4l-1-1l-2 0l-2 4l0 0l6 3zM139 215l1 1l0 2l-3 2l-2-1l-1-4l2 0zM141 204l-1 6l-4 0l1-4l4-3zM175 25l2 2l1 0l2-3l-2-2l-3 1zM189 102l1-4l5 1l1 1l-1 2l-3 2zM153 197l-2 0l-5 2l-1 1l0 0l1 1l4 2l2 0zM200 96l-1-1l1-5l1-1l4 3l-2 3zM142 186l2 0l4-1l0 0l-1-4l-2-1zM206 64l-1 1l-3-1l-2-1l-1-2l5-1l1 0zM151 193l-1-4l-5 1l1 4zM187 17l-4-1l0 3l1 1l4 0l0-2zM197 137l0 1l-1 4l0 0l-3 0l-2-4l2-2zM212 64l-1 0l-2-5l5-1l2 4l0 0zM216 71l-3-3l5-3l0 5l-2 1zM127 200l1-1l1-3l0 0l-5-2l0 0l1 4zM203 131l4 1l2 1l-1 4l-5-2l-1-1zM161 205l-3-2l0-5l3-1l3 4l0 1l0 1zM203 108l-2-4l0-3l4 0l3 2l0 0zM215 77l-4 2l4 4l2-2l0-1l-1-3zM198 129l-1 3l-3-1l0-2l1-2l3 1zM191 148l3-1l1 6l-5-1l-1-1l1-2zM177 167l4 2l0-4l-2-1l-3 2zM216 96l-3 3l-1 1l-4-3l2-4l4-1l2 3zM208 55l0 0l-2-4l4-2l2 4l0 1zM208 113l2-1l0-6l-5 5l0 0zM189 54l4 2l2-4l-3-1l-3 2zM86 214l-1-1l-2-1l-1 2l1 3l2-1zM208-1l1-2l3 1l2 2l-3 4l-3-1zM185 148l-1 3l-4 0l-1-1l-2-3l2-2zM162 210l0 3l2 2l7-2l-5-6zM170 199l2-5l1 0l3 3l0 2l-7 1zM220 59l10-2l-9-4l-3 1l0 1zM164 53l-5-2l0 1l0 3l3 2zM148 216l-3 0l0 3l5 6l2-7zM207 117l-4-2l-1 1l1 4l4-1zM202 139l-2 5l6 0l0 0l1-3l0 0zM216 42l-2 2l-1 1l2 4l3-1l1-5zM157 209l-2-1l-2 0l-2 4l4 3l2-2zM181 5l-1 4l-3-1l0-3l1-1l2 0zM200 35l0 0l2 0l2-3l0-1l-3-2l-2 1l1 4zM212 73l-4 3l-1 0l1-6l1-1l1 0zM223 102l-4-4l-2 4l3 2zM170 205l0-1l6-1l1 2l-3 5l-1 0zM149 207l-5-3l0 7l0 1l2-1zM202 155l2-6l-6-1l0 0l1 5l0 1zM195 44l1 2l1 1l2 0l-1-6l0 0zM182 184l2-2l-2-3l-3 2l1 2zM184 161l1-2l0-2l0-1l-4 0l1 4zM206 155l2-5l0 0l4 2l1 2l-6 3zM199 111l0 0l-1-4l-4 2l0 4l4-1zM230 89l-10-3l-2 1l0 1l1 3zM210 29l-1-1l2-4l3 3l1 1l-1 2zM167 197l2-5l-1-1l-3 1l-2 2zM122 154l1-2l3 0l1 3l0 0l-2 0zM213 138l0 0l4 3l2-2l-2-5l-3 2zM218 107l-3-2l-2 1l0 0l1 4l2 1l2-2zM214 38l-1-4l-4-1l-3 4l5 3zM177 191l2-2l2 0l2 3l-4 1zM219 75l2 3l6-4l-5-1zM216 10l-1 0l-1-3l3-4l1 0l5 4zM197 164l0 0l3-4l2 0l1 1l0 3l0 2l-1 1zM191 176l0 4l-3-1l-2-2l0-3l3 0zM213 129l-1-5l4 1l1 4l-1 0l-2 1zM196 72l1-4l-1-2l-4 2zM173 216l0 0l1 1l0 1l-6 15l-1-15zM212 117l2-1l1 0l1 3l0 1l-4 0l0-1zM191 187l1-1l-1-1l-3-1l-2 3l1 4l1 0zM219 152l1-3l8 2l-8 4l-2-2zM204 174l1 6l1 0l3-4l0 0l-4-4l-1 1zM196 178l0 3l0 1l6 0l-2-6zM203 127l5 1l0-4l-1-1l-3 1l-1 1zM180 217l3 3l2-2l1-3l-1 0l-6 1zM180 132l1 3l-2 2l-3-5l1-1zM197 188l0-2l6 0l1 0l2 3l-1 3l-3 0l-1 0zM198 198l2 0l-2 6l-1 0l-3-3l0-1zM212 173l2-4l0-1l-5-1l-2 2zM203 24l0-5l4 1l0 2l-1 4zM202 205l1-7l3-1l2 3l-1 4l-3 1zM182 197l3-1l1 0l1 3l0 1l-2 2l-3 0l-1-2zM231 166l-11-4l0 4l0 1l1 0zM215 149l1-3l0-1l-4-3l-2 4zM207 214l1 1l3 0l0-3l-2-3l-4 1zM214 208l4-2l-1-5l-4 1l-1 3zM230 117l-9 1l-2-3l3-2zM216 190l-5 1l-1 3l3 3l4-1l1-1l0-3zM189 169l-3 1l0-1l1-3l1-2l3 2l0 0zM189 33l0 0l2-4l3 1l1 4zM209 160l6-2l1 1l0 1l-1 4l-6-1zM216 216l3 2l21-3l-19-4l-4 1zM178 213l6-2l-1-4l-3 0l-3 5zM53 214l1 5l-1 0l-4-3l-1-2l1-2zM215 175l3-3l1 1l2 5l-2 1l-4-3zM189 210l-1-3l2-3l5 4l-3 2l-3 1zM209 183l2 3l4 0l2-4l-5-2zM196 158l-1-1l-5 0l1 3l2 2zM196 173l2-1l2-2l-5-2l-2 3zM194 190l-4 4l2 3l5-3zM190 219l2 1l3-1l0-1l-2-2l-3 0zM201 220l2-1l2 1l-2 8l-3-7z" fill="#fbfafb" stroke="#fbfafb" stroke-width="4" stroke-linejoin="round"/><path d="M5 117h.1M217 114h.1M202 17h.1M-1 115h.1M2 135h.1M181 46h.1M207 92h.1M196 98h.1M197 144h.1M206 4h.1M114 95h.1M93 98h.1M114 54h.1M62 3h.1M133 41h.1M147 51h.1M155 50h.1M133 37h.1M143 34h.1M130 4h.1M134 3h.1M140 11h.1M8 127h.1M9 128h.1M23 65h.1M20 128h.1M18 103h.1M45 44h.1M210 206h.1M209 138h.1M217 166h.1M215 151h.1M198 145h.1M180 153h.1M187 96h.1M198 99h.1M179 142h.1M178 141h.1M188 149h.1M216 13h.1M216 86h.1M190 26h.1M197 29h.1M89 83h.1M105 27h.1M104 47h.1M113 56h.1M77 16h.1M134 42h.1M126 40h.1M157 58h.1M149 26h.1M140 20h.1M148 27h.1M146 38h.1M156 31h.1M157 36h.1M128 15h.1M148 8h.1M4 54h.1M17 34h.1M15 37h.1M39 31h.1M36 43h.1M41 55h.1M6 142h.1M20 135h.1M20 134h.1M14 136h.1M9 142h.1M1 63h.1M31 63h.1M39 70h.1M30 72h.1M16 90h.1M31 129h.1M57 52h.1M58 54h.1M59 39h.1M63 34h.1M61 45h.1M1 21h.1M6 14h.1M62 27h.1M199 207h.1M197 208h.1M206 166h.1M195 164h.1M203 158h.1M176 30h.1M169 38h.1M166 33h.1M167 41h.1M166 136h.1M169 143h.1M164 149h.1M157 136h.1M119 82h.1M165 123h.1M163 125h.1M192 85h.1M127 49h.1M135 56h.1M154 60h.1M144 64h.1M199 104h.1M214 113h.1M203 111h.1M210 138h.1M199 136h.1M188 137h.1M175 129h.1M89 17h.1M115 -2h.1M58 91h.1M93 76h.1M96 88h.1M103 79h.1M123 16h.1M109 9h.1M107 18h.1M101 55h.1M102 55h.1M60 62h.1M60 61h.1M60 72h.1M86 71h.1M67 80h.1M70 67h.1M77 72h.1M79 85h.1M76 73h.1M73 52h.1M75 53h.1M85 24h.1M82 32h.1M80 26h.1M178 60h.1M175 63h.1M122 7h.1M114 9h.1M123 18h.1M175 11h.1M189 23h.1M1 42h.1M0 36h.1M10 38h.1M22 44h.1M18 44h.1M95 106h.1M112 106h.1M104 103h.1M31 140h.1M2 208h.1M4 199h.1M1 148h.1M4 152h.1M7 93h.1M6 74h.1M12 83h.1M28 35h.1M14 24h.1M193 213h.1M166 100h.1M177 96h.1M155 95h.1M149 82h.1M151 74h.1M150 71h.1M149 71h.1M132 81h.1M131 82h.1M141 81h.1M165 119h.1M152 124h.1M146 135h.1M144 137h.1M188 96h.1M123 62h.1M180 73h.1M179 83h.1M169 72h.1M171 65h.1M165 62h.1M161 67h.1M163 80h.1M190 116h.1M191 115h.1M186 104h.1M187 103h.1M203 111h.1M211 121h.1M191 134h.1M199 136h.1M200 125h.1M183 122h.1M201 67h.1M196 63h.1M196 61h.1M214 51h.1M210 45h.1M193 49h.1M199 51h.1M193 44h.1M184 41h.1M96 19h.1M105 16h.1M104 16h.1M112 64h.1M112 75h.1M105 90h.1M114 94h.1M113 86h.1M122 30h.1M118 41h.1M114 28h.1M108 34h.1M55 72h.1M51 72h.1M48 83h.1M55 82h.1M75 46h.1M84 52h.1M82 44h.1M159 24h.1M159 23h.1M199 16h.1M191 19h.1M189 14h.1M193 4h.1M25 53h.1M36 54h.1M111 116h.1M141 113h.1M140 110h.1M151 105h.1M123 148h.1M132 144h.1M126 149h.1M38 157h.1M37 153h.1M47 154h.1M42 173h.1M34 164h.1M37 161h.1M33 169h.1M26 172h.1M32 183h.1M32 183h.1M26 207h.1M16 212h.1M25 149h.1M4 103h.1M-2 105h.1M22 70h.1M42 18h.1M41 16h.1M30 19h.1M29 22h.1M9 1h.1M21 -1h.1M69 13h.1M62 4h.1M56 8h.1M61 17h.1M46 6h.1M52 4h.1M163 152h.1M184 171h.1M183 173h.1M195 185h.1M150 96h.1M156 98h.1M163 109h.1M184 71h.1M189 67h.1M197 75h.1M169 91h.1M176 83h.1M175 79h.1M205 67h.1M209 67h.1M95 -2h.1M105 5h.1M97 7h.1M159 14h.1M170 14h.1M106 210h.1M95 120h.1M99 124h.1M147 123h.1M141 116h.1M113 152h.1M139 161h.1M147 165h.1M155 145h.1M155 156h.1M106 172h.1M152 185h.1M130 201h.1M131 194h.1M130 213h.1M71 174h.1M37 216h.1M46 216h.1M45 213h.1M46 204h.1M49 203h.1M47 210h.1M58 209h.1M35 11h.1M203 169h.1M212 178h.1M212 177h.1M204 183h.1M171 176h.1M173 166h.1M173 168h.1M160 184h.1M187 193h.1M183 177h.1M187 183h.1M178 186h.1M190 200h.1M188 194h.1M199 195h.1M194 187h.1M135 102h.1M210 67h.1M215 73h.1M80 97h.1M73 181h.1M38 148h.1M118 143h.1M111 147h.1M123 136h.1M120 123h.1M108 123h.1M134 132h.1M128 127h.1M128 125h.1M134 121h.1M121 103h.1M124 105h.1M118 95h.1M126 106h.1M130 119h.1M131 110h.1M131 109h.1M112 162h.1M117 175h.1M142 155h.1M137 145h.1M136 145h.1M119 154h.1M118 163h.1M114 163h.1M109 185h.1M123 191h.1M121 200h.1M116 203h.1M83 170h.1M95 172h.1M86 175h.1M44 165h.1M71 163h.1M22 171h.1M17 171h.1M23 162h.1M5 174h.1M25 187h.1M25 11h.1M24 14h.1M17 9h.1M22 0h.1M202 173h.1M164 167h.1M186 212h.1M130 86h.1M138 90h.1M67 87h.1M72 90h.1M66 98h.1M58 92h.1M61 93h.1M74 214h.1M103 214h.1M95 207h.1M81 205h.1M91 206h.1M118 174h.1M122 186h.1M143 177h.1M140 174h.1M134 183h.1M140 188h.1M81 162h.1M82 166h.1M106 192h.1M99 202h.1M71 194h.1M79 185h.1M97 173h.1M106 180h.1M63 153h.1M58 150h.1M45 186h.1M14 165h.1M7 164h.1M20 159h.1M16 154h.1M19 185h.1M17 195h.1M11 196h.1M178 195h.1M175 191h.1M142 202h.1M143 201h.1M148 213h.1M57 193h.1M88 213h.1M134 176h.1M126 170h.1M89 181h.1M67 165h.1M49 162h.1M55 154h.1M55 165h.1M57 161h.1M155 204h.1M156 196h.1M166 201h.1M176 215h.1M86 192h.1M85 196h.1M95 189h.1M86 198h.1M159 216h.1" stroke="#3e1f6c" stroke-width="2.2" stroke-linecap="round"/><path d="M46 153L83 158L97 161L153 160L156 195L146 222L42 222L42 181Z" fill="#eddcef" stroke="none" stroke-width="0" stroke-linejoin="round" /><path d="M67 184h.1M150 163h.1M56 171h.1M100 205h.1M76 185h.1M124 192h.1M43 186h.1M139 208h.1M73 169h.1M146 160h.1M45 212h.1M53 214h.1M102 193h.1M53 200h.1M67 202h.1M132 180h.1M151 196h.1M127 171h.1M150 187h.1M102 175h.1M78 194h.1M85 169h.1M137 167h.1M64 179h.1M141 179h.1M76 211h.1M78 191h.1M53 209h.1M71 198h.1M63 166h.1M103 199h.1M112 176h.1M118 188h.1M70 177h.1M75 177h.1M144 210h.1M87 196h.1M55 204h.1M91 205h.1M109 193h.1M95 199h.1M106 165h.1M117 204h.1M59 168h.1M51 204h.1M153 162h.1M132 207h.1M101 211h.1M53 154h.1M94 185h.1M46 210h.1M71 187h.1M139 197h.1M114 193h.1M60 181h.1M122 174h.1M71 172h.1M139 182h.1M60 205h.1M143 192h.1M147 190h.1M101 195h.1M127 175h.1M105 176h.1M43 212h.1M59 181h.1M43 172h.1M101 178h.1M147 178h.1M49 165h.1M121 178h.1M80 208h.1M105 194h.1M129 166h.1M102 213h.1M149 195h.1M80 174h.1M73 209h.1M133 195h.1M61 194h.1M113 198h.1M46 178h.1M132 175h.1M96 197h.1M76 189h.1M116 163h.1M126 177h.1M49 213h.1M55 204h.1M48 179h.1M55 191h.1M45 186h.1M93 179h.1M115 190h.1M127 185h.1M60 203h.1M147 196h.1M111 181h.1M102 214h.1M119 186h.1M102 172h.1M102 203h.1M136 196h.1M111 212h.1M58 183h.1M110 165h.1M52 159h.1M71 178h.1M115 192h.1M86 188h.1" stroke="#c58ac5" stroke-width="2.0" stroke-linecap="round"/><path d="M57 161h.1M117 186h.1M122 164h.1M131 185h.1M47 212h.1M105 210h.1M115 203h.1M65 198h.1M142 190h.1M109 180h.1M120 212h.1M148 210h.1M84 184h.1M47 170h.1M138 213h.1M87 215h.1M49 168h.1M45 179h.1M136 194h.1M101 188h.1M83 194h.1M136 206h.1M122 204h.1M48 212h.1M150 180h.1M136 181h.1M132 167h.1M111 170h.1M139 207h.1M100 213h.1M81 171h.1M111 199h.1M99 213h.1M64 163h.1M128 162h.1" stroke="#6a3a8a" stroke-width="1.8" stroke-linecap="round"/><path d="M28 97L36 90L47 93L60 106L72 118L86 129L97 137L101 146L97 154L86 156L72 150L56 136L42 122L31 111Z" fill="none" stroke="#8f2c8f" stroke-width="8.0" stroke-linejoin="round" /><path d="M26 96h.1M24 96h.1M27 95h.1M27 94h.1M29 95h.1M29 94h.1M28 94h.1M31 93h.1M30 93h.1M29 91h.1M29 92h.1M34 92h.1M34 92h.1M32 89h.1M32 89h.1M35 90h.1M33 89h.1M33 88h.1M35 89h.1M36 89h.1M35 89h.1M36 89h.1M37 88h.1M38 89h.1M40 90h.1M38 89h.1M39 88h.1M40 91h.1M39 90h.1M42 91h.1M42 91h.1M41 89h.1M41 91h.1M43 90h.1M42 90h.1M44 89h.1M45 90h.1M46 92h.1M46 91h.1M46 90h.1M46 92h.1M47 94h.1M48 93h.1M49 94h.1M49 93h.1M48 93h.1M50 95h.1M50 95h.1M50 96h.1M50 96h.1M51 95h.1M51 96h.1M52 97h.1M51 97h.1M53 98h.1M53 97h.1M53 97h.1M53 99h.1M55 100h.1M54 99h.1M56 100h.1M55 102h.1M55 100h.1M57 100h.1M57 100h.1M56 100h.1M57 103h.1M56 100h.1M58 102h.1M59 105h.1M59 105h.1M60 102h.1M60 106h.1M60 102h.1M62 107h.1M60 104h.1M61 105h.1M63 107h.1M61 106h.1M63 105h.1M63 108h.1M64 109h.1M64 108h.1M64 108h.1M64 109h.1M67 108h.1M66 109h.1M66 111h.1M66 111h.1M67 111h.1M68 110h.1M69 111h.1M68 112h.1M69 113h.1M70 112h.1M69 113h.1M71 114h.1M71 113h.1M71 116h.1M74 116h.1M72 116h.1M74 116h.1M77 117h.1M76 118h.1M75 119h.1M77 120h.1M78 119h.1M77 120h.1M76 120h.1M79 120h.1M78 122h.1M78 122h.1M78 122h.1M81 122h.1M79 121h.1M81 123h.1M80 124h.1M82 124h.1M81 125h.1M84 125h.1M82 126h.1M84 125h.1M85 126h.1M84 126h.1M85 126h.1M87 126h.1M86 128h.1M86 127h.1M87 129h.1M87 128h.1M88 130h.1M90 130h.1M90 132h.1M89 130h.1M91 131h.1M91 132h.1M88 131h.1M89 131h.1M92 132h.1M93 132h.1M91 133h.1M93 133h.1M94 133h.1M94 134h.1M95 134h.1M96 135h.1M95 135h.1M96 136h.1M98 137h.1M95 136h.1M98 136h.1M98 137h.1M97 137h.1M99 137h.1M101 139h.1M101 138h.1M101 140h.1M100 139h.1M101 140h.1M102 142h.1M101 141h.1M100 142h.1M100 142h.1M100 142h.1M102 143h.1M103 145h.1M101 145h.1M103 145h.1M105 147h.1M102 145h.1M104 147h.1M102 146h.1M103 147h.1M104 149h.1M102 148h.1M103 149h.1M102 150h.1M102 151h.1M100 151h.1M101 152h.1M99 150h.1M100 154h.1M101 153h.1M99 154h.1M98 152h.1M98 154h.1M99 155h.1M100 156h.1M100 156h.1M100 157h.1M98 157h.1M95 155h.1M96 156h.1M94 157h.1M96 157h.1M95 156h.1M94 157h.1M93 157h.1M92 155h.1M93 158h.1M90 155h.1M90 157h.1M91 157h.1M89 158h.1M88 157h.1M87 158h.1M86 156h.1M85 158h.1M85 158h.1M84 155h.1M85 157h.1M83 155h.1M84 156h.1M82 155h.1M83 155h.1M82 155h.1M82 156h.1M79 154h.1M79 154h.1M80 153h.1M78 153h.1M78 156h.1M76 153h.1M78 154h.1M76 153h.1M76 154h.1M75 152h.1M75 153h.1M74 153h.1M74 153h.1M72 151h.1M72 151h.1M70 150h.1M72 150h.1M70 150h.1M69 151h.1M70 150h.1M70 147h.1M68 148h.1M69 148h.1M68 149h.1M68 148h.1M67 149h.1M67 148h.1M65 147h.1M66 149h.1M66 148h.1M64 145h.1M64 145h.1M64 144h.1M64 146h.1M63 144h.1M63 145h.1M63 145h.1M62 144h.1M61 141h.1M61 142h.1M59 141h.1M59 142h.1M60 141h.1M59 143h.1M58 143h.1M58 139h.1M56 140h.1M57 140h.1M57 139h.1M56 139h.1M55 137h.1M55 137h.1M53 138h.1M53 138h.1M52 135h.1M53 137h.1M51 135h.1M52 134h.1M51 134h.1M52 135h.1M49 135h.1M49 134h.1M50 134h.1M47 132h.1M51 131h.1M48 131h.1M48 130h.1M47 131h.1M45 131h.1M45 129h.1M44 128h.1M47 128h.1M45 128h.1M44 129h.1M45 128h.1M44 126h.1M42 126h.1M44 125h.1M41 125h.1M42 125h.1M43 125h.1M41 123h.1M39 123h.1M41 124h.1M41 123h.1M38 122h.1M42 121h.1M38 122h.1M38 121h.1M38 120h.1M40 121h.1M37 119h.1M36 119h.1M38 119h.1M36 118h.1M38 118h.1M36 117h.1M36 118h.1M34 115h.1M34 115h.1M34 116h.1M33 116h.1M31 114h.1M34 114h.1M29 113h.1M31 112h.1M29 112h.1M29 112h.1M29 111h.1M28 111h.1M26 110h.1M28 108h.1M28 109h.1M29 107h.1M27 107h.1M29 108h.1M27 107h.1M27 106h.1M29 106h.1M27 105h.1M27 104h.1M28 103h.1M27 105h.1M26 102h.1M27 102h.1M28 101h.1M26 102h.1M28 102h.1M27 102h.1M27 100h.1M27 101h.1M25 98h.1M25 98h.1M26 98h.1" stroke="#3d1a66" stroke-width="2.4" stroke-linecap="round" opacity="0.75"/><path d="M28 97L36 90L47 93L60 106L72 118L86 129L97 137L101 146L97 154L86 156L72 150L56 136L42 122L31 111Z" fill="#fbfafb" stroke="none" stroke-width="0" stroke-linejoin="round" /><path d="M21 222L32 202L46 193L63 195L78 204L86 222Z" fill="none" stroke="#8f2c8f" stroke-width="7.0" stroke-linejoin="round" /><path d="M19 224h.1M18 224h.1M18 222h.1M21 222h.1M20 222h.1M19 222h.1M22 221h.1M21 219h.1M22 220h.1M21 219h.1M20 220h.1M22 219h.1M21 218h.1M21 219h.1M23 216h.1M21 218h.1M22 216h.1M23 217h.1M24 215h.1M22 216h.1M22 216h.1M23 215h.1M23 215h.1M23 213h.1M23 213h.1M24 214h.1M25 212h.1M24 212h.1M27 213h.1M26 212h.1M25 211h.1M25 212h.1M27 211h.1M25 209h.1M25 209h.1M27 209h.1M25 209h.1M26 209h.1M27 208h.1M27 208h.1M28 207h.1M28 206h.1M27 206h.1M28 205h.1M28 206h.1M29 206h.1M28 205h.1M29 204h.1M29 203h.1M29 202h.1M28 203h.1M28 201h.1M31 203h.1M29 200h.1M30 202h.1M31 201h.1M29 201h.1M31 201h.1M32 201h.1M33 201h.1M33 200h.1M33 199h.1M32 199h.1M34 199h.1M34 199h.1M34 199h.1M36 199h.1M35 198h.1M35 199h.1M36 199h.1M36 198h.1M36 197h.1M38 196h.1M36 197h.1M39 198h.1M38 196h.1M38 197h.1M38 196h.1M39 195h.1M41 195h.1M40 196h.1M39 195h.1M41 194h.1M41 193h.1M42 196h.1M41 192h.1M42 193h.1M43 193h.1M44 192h.1M42 191h.1M44 191h.1M45 192h.1M44 191h.1M44 192h.1M47 193h.1M45 191h.1M47 191h.1M47 192h.1M47 191h.1M48 193h.1M49 192h.1M49 190h.1M50 193h.1M51 192h.1M51 193h.1M52 191h.1M52 193h.1M53 194h.1M53 191h.1M53 192h.1M54 191h.1M54 192h.1M54 192h.1M55 193h.1M56 192h.1M57 193h.1M57 191h.1M57 193h.1M57 192h.1M59 192h.1M59 192h.1M60 191h.1M60 194h.1M59 193h.1M62 191h.1M61 193h.1M63 192h.1M62 192h.1M62 193h.1M62 194h.1M64 192h.1M63 193h.1M66 192h.1M66 193h.1M64 196h.1M66 194h.1M65 195h.1M68 196h.1M66 196h.1M68 196h.1M70 196h.1M68 196h.1M69 196h.1M69 198h.1M70 198h.1M71 199h.1M73 197h.1M71 198h.1M74 199h.1M73 199h.1M72 200h.1M73 200h.1M73 200h.1M75 200h.1M74 202h.1M77 200h.1M77 202h.1M75 202h.1M74 203h.1M76 202h.1M77 202h.1M78 203h.1M77 203h.1M78 204h.1M78 205h.1M79 204h.1M79 205h.1M81 204h.1M79 205h.1M82 206h.1M81 205h.1M80 207h.1M82 206h.1M83 208h.1M82 209h.1M81 208h.1M81 208h.1M80 209h.1M84 210h.1M83 209h.1M83 210h.1M83 211h.1M82 211h.1M84 211h.1M84 212h.1M83 212h.1M85 214h.1M83 213h.1M85 215h.1M85 213h.1M86 215h.1M84 216h.1M84 215h.1M86 217h.1M86 217h.1M84 216h.1M86 217h.1M87 220h.1M87 218h.1M88 221h.1M86 219h.1M87 220h.1M87 220h.1M86 221h.1M88 220h.1M88 222h.1M89 221h.1M86 222h.1M89 223h.1M89 223h.1M89 225h.1M86 223h.1M87 223h.1M87 224h.1M85 224h.1M85 224h.1M84 222h.1M86 223h.1M82 222h.1M83 223h.1M83 225h.1M83 222h.1M82 222h.1M82 222h.1M82 224h.1M83 224h.1M79 223h.1M82 225h.1M79 223h.1M79 223h.1M79 224h.1M80 224h.1M78 223h.1M77 222h.1M77 224h.1M77 223h.1M77 223h.1M76 225h.1M76 223h.1M74 225h.1M74 223h.1M75 225h.1M74 223h.1M73 223h.1M74 223h.1M73 224h.1M71 224h.1M71 223h.1M71 223h.1M71 224h.1M71 225h.1M71 224h.1M69 223h.1M69 225h.1M68 225h.1M68 224h.1M67 225h.1M68 225h.1M66 222h.1M67 223h.1M65 225h.1M64 224h.1M65 223h.1M64 225h.1M63 223h.1M61 223h.1M62 224h.1M63 224h.1M61 223h.1M61 225h.1M61 225h.1M59 224h.1M59 224h.1M58 223h.1M57 222h.1M57 223h.1M58 225h.1M57 225h.1M56 225h.1M54 223h.1M53 225h.1M53 223h.1M53 225h.1M52 223h.1M53 224h.1M51 224h.1M51 224h.1M49 224h.1M49 226h.1M49 223h.1M48 224h.1M49 225h.1M47 225h.1M48 223h.1M46 223h.1M46 225h.1M47 223h.1M47 224h.1M45 224h.1M44 223h.1M44 226h.1M45 224h.1M44 224h.1M44 224h.1M42 226h.1M41 226h.1M41 225h.1M42 223h.1M42 224h.1M40 224h.1M39 223h.1M38 223h.1M39 224h.1M38 223h.1M38 224h.1M37 223h.1M38 223h.1M35 224h.1M36 223h.1M35 223h.1M34 223h.1M34 224h.1M36 222h.1M35 223h.1M32 224h.1M33 224h.1M31 224h.1M30 224h.1M32 224h.1M30 223h.1M30 223h.1M30 223h.1M29 224h.1M29 224h.1M28 223h.1M29 223h.1M29 224h.1M26 223h.1M25 223h.1M26 224h.1M26 222h.1M25 224h.1M25 223h.1M24 222h.1M24 223h.1M23 223h.1M25 223h.1M22 223h.1M23 223h.1M20 225h.1M20 223h.1M21 223h.1M19 224h.1M20 223h.1M19 224h.1" stroke="#3d1a66" stroke-width="2.4" stroke-linecap="round" opacity="0.75"/><path d="M21 222L32 202L46 193L63 195L78 204L86 222Z" fill="#fbfafb" stroke="none" stroke-width="0" stroke-linejoin="round" /><path d="M97 163L115 161L139 160L146 167L136 185L129 202L131 222L120 222L111 193L97 189L89 185L97 174Z" fill="#fbfafb" stroke="#9a4a9a" stroke-width="1.6" stroke-linejoin="round" /><rect x="174.7" y="209.8" width="37.2" height="2.2" fill="#000"/></g>
<clipPath id="hc6"><rect width="216" height="214"/></clipPath><g transform="translate(68.2 792.1)" clip-path="url(#hc6)"><rect width="216" height="214" fill="#b896c8"/><ellipse cx="81.8" cy="172.9" rx="30" ry="25" fill="#d2b0d6"/><ellipse cx="121.8" cy="192.9" rx="35" ry="20" fill="#d2b0d6"/><ellipse cx="61.8" cy="207.9" rx="30" ry="10" fill="#d2b0d6"/><filter id="tx1" x="0" y="0" width="1" height="1" color-interpolation-filters="sRGB"><feTurbulence type="fractalNoise" baseFrequency="0.22" numOctaves="2" seed="61"/><feColorMatrix type="matrix" values="0 0 0 0 0.541 0 0 0 0 0.376 0 0 0 0 0.682 1 0 0 0 0"/><feComponentTransfer result="l0"><feFuncA type="discrete" tableValues="0 0 0 0 0 0 0 0 0 0 0 0 0 0 0 0 0 0 0 0 0 1 1 1 1 1 1 1 0 0 0 0 0 0 0 0 0 0 0 0 0 0 0 0 0 0 0 0 0 0"/></feComponentTransfer><feTurbulence type="fractalNoise" baseFrequency="0.045" numOctaves="2" seed="62"/><feColorMatrix type="matrix" values="0 0 0 0 1.000 0 0 0 0 1.000 0 0 0 0 1.000 1 0 0 0 0"/><feComponentTransfer result="l1"><feFuncA type="discrete" tableValues="1 1 1 1 1 1 1 1 1 1 1 1 1 1 1 1 1 1 1 1 1 1 0 0 0 0 0 0 0 0 0 0 0 0 0 0 0 0 0 0 0 0 0 0 0 0 0 0 0 0"/></feComponentTransfer><feTurbulence type="fractalNoise" baseFrequency="0.3" numOctaves="1" seed="63"/><feColorMatrix type="matrix" values="0 0 0 0 0.776 0 0 0 0 0.188 0 0 0 0 0.424 1 0 0 0 0"/><feComponentTransfer result="l2"><feFuncA type="discrete" tableValues="0 0 0 0 0 0 0 0 0 0 0 0 0 0 0 0 0 0 0 0 0 0 0 0 0 0 1 1 1 1 1 1 1 1 1 1 1 1 1 1 1 1 1 1 1 1 1 1 1 1"/></feComponentTransfer><feComposite in="l2" in2="l1" operator="in" result="l2m"/><feTurbulence type="fractalNoise" baseFrequency="0.6" numOctaves="1" seed="64"/><feColorMatrix type="matrix" values="0 0 0 0 0.965 0 0 0 0 0.941 0 0 0 0 0.969 1 0 0 0 0"/><feComponentTransfer result="l3"><feFuncA type="discrete" tableValues="0 0 0 0 0 0 0 0 0 0 0 0 0 0 0 0 0 0 0 0 0 0 0 0 0 0 0 0 0 0 0 0 0 0 0 1 1 1 1 1 1 1 1 1 1 1 1 1 1 1"/></feComponentTransfer><feTurbulence type="fractalNoise" baseFrequency="0.5" numOctaves="1" seed="65"/><feColorMatrix type="matrix" values="0 0 0 0 0.247 0 0 0 0 0.133 0 0 0 0 0.471 1 0 0 0 0"/><feComponentTransfer result="l4"><feFuncA type="discrete" tableValues="0 0 0 0 0 0 0 0 0 0 0 0 0 0 0 0 0 0 0 0 0 0 0 0 0 0 0 0 0 0 0 0 0 0 0 0 1 1 1 1 1 1 1 1 1 1 1 1 1 1"/></feComponentTransfer><feMerge result="mg"><feMergeNode in="l0"/><feMergeNode in="l2m"/><feMergeNode in="l3"/><feMergeNode in="l4"/></feMerge><feGaussianBlur stdDeviation="0.35"/></filter><rect x="0" y="0" width="216" height="214" filter="url(#tx1)"/><ellipse cx="52" cy="82" rx="35" ry="20" transform="rotate(10 52 82)" fill="none" stroke="#6d3c9c" stroke-width="13.0" /><path d="M89 89h.1M91 89h.1M90 91h.1M90 90h.1M93 91h.1M91 90h.1M87 91h.1M93 92h.1M91 92h.1M90 91h.1M92 93h.1M90 93h.1M89 93h.1M89 94h.1M91 95h.1M90 95h.1M90 95h.1M87 95h.1M88 97h.1M86 97h.1M84 96h.1M88 97h.1M85 96h.1M86 97h.1M85 98h.1M86 99h.1M87 99h.1M84 98h.1M85 99h.1M83 99h.1M82 99h.1M81 99h.1M84 101h.1M84 101h.1M82 101h.1M82 102h.1M83 101h.1M81 101h.1M78 100h.1M79 101h.1M78 103h.1M77 101h.1M78 103h.1M76 101h.1M76 104h.1M76 105h.1M75 103h.1M72 104h.1M75 104h.1M76 105h.1M74 105h.1M69 102h.1M71 104h.1M69 102h.1M68 102h.1M68 103h.1M68 103h.1M69 108h.1M69 107h.1M65 102h.1M68 105h.1M65 103h.1M66 108h.1M63 104h.1M66 106h.1M62 105h.1M62 105h.1M63 106h.1M62 107h.1M61 105h.1M61 108h.1M59 105h.1M59 108h.1M59 109h.1M58 107h.1M58 107h.1M56 105h.1M56 106h.1M55 104h.1M53 104h.1M54 108h.1M53 107h.1M52 108h.1M52 104h.1M50 107h.1M49 107h.1M49 104h.1M48 104h.1M48 104h.1M47 102h.1M47 103h.1M47 104h.1M46 104h.1M45 105h.1M44 103h.1M43 105h.1M43 102h.1M41 104h.1M41 103h.1M38 104h.1M38 103h.1M38 106h.1M38 102h.1M36 103h.1M37 102h.1M36 103h.1M35 100h.1M33 103h.1M32 102h.1M34 102h.1M32 101h.1M34 101h.1M31 100h.1M34 98h.1M30 100h.1M31 99h.1M28 100h.1M29 98h.1M31 96h.1M28 98h.1M25 98h.1M30 97h.1M25 98h.1M26 95h.1M25 97h.1M26 96h.1M26 95h.1M23 96h.1M22 96h.1M23 95h.1M24 94h.1M22 93h.1M23 93h.1M22 94h.1M21 92h.1M23 93h.1M23 92h.1M24 90h.1M22 91h.1M18 92h.1M21 91h.1M21 89h.1M18 88h.1M18 89h.1M17 88h.1M18 89h.1M17 87h.1M20 87h.1M14 88h.1M16 86h.1M17 85h.1M15 85h.1M18 84h.1M13 84h.1M15 84h.1M17 84h.1M17 82h.1M17 81h.1M17 81h.1M12 81h.1M15 82h.1M13 81h.1M15 79h.1M16 80h.1M13 79h.1M12 78h.1M17 79h.1M12 78h.1M13 78h.1M14 77h.1M16 77h.1M12 76h.1M16 75h.1M15 75h.1M15 75h.1M18 74h.1M13 74h.1M15 73h.1M14 74h.1M18 73h.1M14 73h.1M16 73h.1M17 73h.1M18 71h.1M19 70h.1M13 69h.1M19 70h.1M17 68h.1M17 68h.1M19 70h.1M19 68h.1M17 68h.1M17 66h.1M23 69h.1M20 66h.1M21 66h.1M21 67h.1M22 66h.1M23 65h.1M22 66h.1M20 64h.1M24 67h.1M22 63h.1M20 63h.1M24 65h.1M24 65h.1M23 63h.1M26 64h.1M26 64h.1M27 63h.1M28 64h.1M27 61h.1M27 61h.1M28 61h.1M29 61h.1M30 60h.1M33 62h.1M30 59h.1M33 60h.1M30 59h.1M36 61h.1M36 63h.1M35 60h.1M35 57h.1M37 60h.1M38 61h.1M39 59h.1M38 59h.1M40 61h.1M39 58h.1M39 56h.1M43 60h.1M40 57h.1M42 57h.1M43 59h.1M44 57h.1M43 59h.1M45 57h.1M47 59h.1M46 56h.1M49 60h.1M47 60h.1M48 59h.1M51 60h.1M51 60h.1M52 59h.1M52 57h.1M52 57h.1M53 61h.1M54 56h.1M55 57h.1M57 61h.1M57 61h.1M56 63h.1M58 59h.1M58 61h.1M62 58h.1M61 60h.1M60 64h.1M60 63h.1M62 61h.1M63 61h.1M65 60h.1M64 60h.1M65 62h.1M64 62h.1M64 64h.1M68 60h.1M69 61h.1M70 62h.1M69 65h.1M70 63h.1M71 65h.1M70 64h.1M75 64h.1M74 65h.1M73 67h.1M72 67h.1M76 65h.1M77 66h.1M75 68h.1M74 69h.1M75 69h.1M79 68h.1M78 67h.1M81 67h.1M81 67h.1M79 70h.1M81 69h.1M82 69h.1M80 69h.1M79 72h.1M77 71h.1M83 70h.1M81 71h.1M84 72h.1M84 72h.1M84 71h.1M82 74h.1M83 73h.1M84 74h.1M85 75h.1M83 75h.1M86 75h.1M84 76h.1M87 75h.1M88 75h.1M89 76h.1M90 79h.1M86 78h.1M86 79h.1M88 78h.1M90 80h.1M86 81h.1M92 80h.1M89 81h.1M91 81h.1M90 81h.1M88 83h.1M92 85h.1M89 83h.1M92 84h.1M87 85h.1M89 85h.1M91 86h.1M90 86h.1M93 87h.1M94 88h.1M89 87h.1M87 87h.1M90 89h.1M93 89h.1" stroke="#3d1c6e" stroke-width="2.6" stroke-linecap="round" opacity="0.75"/><ellipse cx="52" cy="82" rx="35" ry="20" transform="rotate(10 52 82)" fill="#fbfafb" stroke="none" stroke-width="0" /><ellipse cx="165" cy="117" rx="15" ry="20" transform="rotate(0 165 117)" fill="none" stroke="#6d3c9c" stroke-width="11.0" /><path d="M186 117h.1M184 116h.1M182 118h.1M184 118h.1M181 118h.1M183 118h.1M182 120h.1M182 119h.1M183 121h.1M181 122h.1M184 123h.1M180 122h.1M185 124h.1M183 124h.1M185 125h.1M183 125h.1M181 126h.1M184 126h.1M179 124h.1M183 128h.1M181 126h.1M183 128h.1M181 127h.1M181 128h.1M181 128h.1M179 127h.1M181 129h.1M180 129h.1M179 130h.1M179 129h.1M180 130h.1M178 129h.1M178 130h.1M180 131h.1M177 130h.1M177 130h.1M177 131h.1M178 131h.1M180 134h.1M178 132h.1M179 134h.1M178 132h.1M178 135h.1M176 132h.1M179 137h.1M178 135h.1M176 134h.1M175 135h.1M176 135h.1M177 135h.1M176 138h.1M175 133h.1M174 135h.1M177 138h.1M176 139h.1M173 135h.1M174 137h.1M175 136h.1M175 139h.1M174 136h.1M174 138h.1M174 138h.1M173 140h.1M173 138h.1M172 140h.1M171 139h.1M172 139h.1M172 140h.1M171 141h.1M171 139h.1M171 138h.1M170 140h.1M170 140h.1M169 141h.1M169 142h.1M169 139h.1M168 138h.1M169 141h.1M168 141h.1M166 142h.1M167 142h.1M166 143h.1M166 142h.1M166 142h.1M165 141h.1M165 140h.1M164 143h.1M163 142h.1M164 138h.1M163 141h.1M161 141h.1M161 141h.1M162 139h.1M160 140h.1M162 138h.1M161 141h.1M161 143h.1M161 137h.1M159 139h.1M160 137h.1M160 137h.1M160 138h.1M157 140h.1M158 138h.1M157 136h.1M158 138h.1M158 139h.1M156 137h.1M157 137h.1M155 138h.1M155 136h.1M156 137h.1M156 136h.1M155 137h.1M155 136h.1M154 137h.1M155 135h.1M154 137h.1M153 135h.1M154 134h.1M152 136h.1M153 135h.1M152 135h.1M153 131h.1M151 134h.1M151 135h.1M152 132h.1M152 132h.1M153 131h.1M149 133h.1M150 130h.1M151 130h.1M151 130h.1M149 131h.1M149 129h.1M151 128h.1M152 128h.1M151 127h.1M147 127h.1M150 126h.1M151 127h.1M151 126h.1M148 126h.1M150 124h.1M146 125h.1M151 124h.1M149 124h.1M146 124h.1M150 121h.1M148 122h.1M148 122h.1M146 120h.1M149 120h.1M145 120h.1M147 118h.1M150 118h.1M148 117h.1M145 117h.1M149 116h.1M146 116h.1M150 117h.1M149 116h.1M150 115h.1M150 114h.1M146 114h.1M149 114h.1M150 114h.1M147 111h.1M148 111h.1M146 110h.1M148 111h.1M150 111h.1M147 110h.1M150 109h.1M150 111h.1M147 108h.1M150 108h.1M151 109h.1M151 109h.1M149 107h.1M148 106h.1M151 106h.1M149 104h.1M148 104h.1M150 104h.1M150 105h.1M149 102h.1M151 104h.1M152 104h.1M151 101h.1M150 102h.1M154 103h.1M153 102h.1M153 103h.1M152 102h.1M153 101h.1M153 100h.1M153 100h.1M153 99h.1M152 98h.1M154 98h.1M153 98h.1M155 100h.1M153 98h.1M155 97h.1M154 98h.1M154 96h.1M156 101h.1M155 97h.1M157 99h.1M157 97h.1M156 98h.1M156 98h.1M157 97h.1M156 94h.1M158 94h.1M158 98h.1M159 95h.1M159 97h.1M159 96h.1M161 97h.1M161 97h.1M159 95h.1M160 93h.1M161 94h.1M161 93h.1M162 97h.1M162 96h.1M162 97h.1M162 94h.1M162 96h.1M162 93h.1M165 94h.1M164 94h.1M165 96h.1M165 93h.1M165 94h.1M165 92h.1M164 94h.1M165 95h.1M166 95h.1M166 93h.1M166 96h.1M168 93h.1M167 94h.1M166 94h.1M167 95h.1M169 93h.1M168 95h.1M168 93h.1M169 93h.1M169 95h.1M169 91h.1M169 96h.1M169 97h.1M169 96h.1M170 94h.1M171 96h.1M170 96h.1M172 94h.1M172 95h.1M172 94h.1M172 95h.1M172 94h.1M172 96h.1M172 95h.1M173 100h.1M174 98h.1M173 98h.1M173 95h.1M174 97h.1M176 98h.1M176 98h.1M174 99h.1M177 97h.1M175 99h.1M176 99h.1M176 102h.1M177 101h.1M178 99h.1M178 99h.1M179 99h.1M177 102h.1M178 102h.1M179 101h.1M180 101h.1M181 102h.1M177 104h.1M180 101h.1M180 102h.1M177 105h.1M179 104h.1M181 104h.1M180 105h.1M182 104h.1M179 108h.1M181 106h.1M181 107h.1M179 108h.1M179 109h.1M180 110h.1M183 108h.1M181 109h.1M182 110h.1M182 111h.1M184 111h.1M185 109h.1M182 111h.1M184 112h.1M185 111h.1M185 111h.1M185 112h.1M185 112h.1M183 112h.1M183 114h.1M183 114h.1M183 116h.1M183 116h.1M184 116h.1M186 115h.1M186 116h.1M185 117h.1" stroke="#3d1c6e" stroke-width="2.6" stroke-linecap="round" opacity="0.75"/><ellipse cx="165" cy="117" rx="15" ry="20" transform="rotate(0 165 117)" fill="#fbfafb" stroke="none" stroke-width="0" /><ellipse cx="117" cy="112" rx="12" ry="9" transform="rotate(0 117 112)" fill="none" stroke="#6d3c9c" stroke-width="7.0" /><path d="M131 111h.1M132 112h.1M130 113h.1M131 113h.1M133 113h.1M130 112h.1M130 112h.1M131 113h.1M131 112h.1M133 114h.1M133 114h.1M131 113h.1M133 115h.1M131 115h.1M130 114h.1M132 115h.1M131 115h.1M129 115h.1M132 115h.1M131 114h.1M131 115h.1M130 115h.1M128 115h.1M132 117h.1M130 117h.1M131 117h.1M131 117h.1M129 116h.1M130 117h.1M130 117h.1M130 118h.1M129 117h.1M128 118h.1M127 118h.1M127 117h.1M128 117h.1M130 118h.1M126 119h.1M127 119h.1M126 117h.1M128 118h.1M126 118h.1M128 121h.1M126 119h.1M128 120h.1M128 120h.1M126 120h.1M126 119h.1M126 121h.1M127 121h.1M124 119h.1M124 120h.1M126 122h.1M125 120h.1M124 121h.1M126 122h.1M123 120h.1M123 121h.1M123 123h.1M123 121h.1M122 121h.1M123 122h.1M122 122h.1M121 122h.1M122 123h.1M122 122h.1M121 123h.1M121 123h.1M120 121h.1M121 122h.1M118 122h.1M119 122h.1M119 122h.1M119 124h.1M118 123h.1M118 123h.1M118 121h.1M118 122h.1M118 125h.1M116 122h.1M116 123h.1M116 124h.1M117 121h.1M117 122h.1M115 123h.1M116 122h.1M114 124h.1M116 122h.1M115 122h.1M115 124h.1M114 121h.1M113 124h.1M114 122h.1M113 122h.1M113 122h.1M113 122h.1M113 123h.1M113 122h.1M114 121h.1M112 121h.1M111 122h.1M112 122h.1M111 120h.1M111 121h.1M110 121h.1M110 123h.1M110 121h.1M110 121h.1M109 121h.1M109 121h.1M109 122h.1M108 121h.1M108 122h.1M108 121h.1M109 121h.1M106 121h.1M109 120h.1M107 121h.1M106 120h.1M108 119h.1M105 121h.1M108 120h.1M108 120h.1M107 119h.1M104 120h.1M106 119h.1M106 118h.1M106 118h.1M106 119h.1M105 119h.1M106 118h.1M105 118h.1M106 119h.1M106 117h.1M105 117h.1M106 118h.1M103 118h.1M104 118h.1M102 117h.1M105 116h.1M106 116h.1M104 116h.1M105 117h.1M104 117h.1M103 117h.1M102 116h.1M105 115h.1M103 117h.1M104 116h.1M105 114h.1M104 115h.1M103 116h.1M101 115h.1M101 115h.1M103 114h.1M102 113h.1M105 114h.1M103 114h.1M104 113h.1M103 113h.1M101 113h.1M103 112h.1M102 114h.1M101 113h.1M103 111h.1M104 113h.1M101 112h.1M101 112h.1M104 112h.1M101 111h.1M102 110h.1M104 112h.1M102 110h.1M103 111h.1M102 111h.1M102 111h.1M102 110h.1M104 110h.1M104 110h.1M103 110h.1M103 110h.1M104 109h.1M103 108h.1M104 108h.1M105 110h.1M104 109h.1M104 108h.1M104 109h.1M105 107h.1M103 106h.1M104 108h.1M105 108h.1M105 107h.1M104 107h.1M105 107h.1M105 108h.1M104 107h.1M104 107h.1M106 107h.1M105 105h.1M105 104h.1M104 106h.1M105 104h.1M107 105h.1M104 104h.1M106 106h.1M105 104h.1M106 105h.1M107 104h.1M108 104h.1M105 103h.1M106 104h.1M109 105h.1M108 104h.1M107 102h.1M108 103h.1M108 101h.1M109 103h.1M109 103h.1M110 104h.1M110 103h.1M111 103h.1M110 102h.1M110 103h.1M110 102h.1M110 101h.1M111 102h.1M112 102h.1M112 102h.1M112 103h.1M113 101h.1M112 102h.1M115 101h.1M115 99h.1M114 100h.1M114 101h.1M115 102h.1M116 103h.1M115 103h.1M115 99h.1M117 101h.1M116 100h.1M116 101h.1M116 103h.1M117 102h.1M118 101h.1M118 101h.1M118 101h.1M119 101h.1M119 103h.1M118 102h.1M119 102h.1M119 101h.1M119 102h.1M119 101h.1M119 102h.1M120 103h.1M121 103h.1M122 101h.1M121 103h.1M121 102h.1M122 102h.1M121 102h.1M122 102h.1M123 102h.1M124 103h.1M123 104h.1M123 102h.1M124 103h.1M124 102h.1M123 103h.1M124 103h.1M124 102h.1M124 102h.1M124 104h.1M125 104h.1M124 103h.1M124 104h.1M125 103h.1M126 103h.1M126 104h.1M127 103h.1M126 106h.1M127 106h.1M127 104h.1M127 103h.1M128 103h.1M127 105h.1M126 106h.1M128 105h.1M128 105h.1M128 105h.1M129 104h.1M129 104h.1M128 105h.1M130 107h.1M129 107h.1M129 108h.1M131 105h.1M129 107h.1M128 106h.1M131 108h.1M129 107h.1M129 107h.1M131 106h.1M132 108h.1M130 107h.1M131 107h.1M131 107h.1M131 108h.1M130 108h.1M132 108h.1M131 109h.1M130 109h.1M131 110h.1M131 110h.1M131 110h.1M131 111h.1M131 110h.1M131 110h.1M131 111h.1M130 111h.1M130 110h.1M133 111h.1M132 111h.1M133 111h.1" stroke="#3d1c6e" stroke-width="2.6" stroke-linecap="round" opacity="0.75"/><ellipse cx="117" cy="112" rx="12" ry="9" transform="rotate(0 117 112)" fill="#fbfafb" stroke="none" stroke-width="0" /><ellipse cx="16" cy="20" rx="15" ry="14" transform="rotate(0 16 20)" fill="#fbfafb" stroke="none" stroke-width="0" /><ellipse cx="182" cy="20" rx="14" ry="14" transform="rotate(0 182 20)" fill="#fbfafb" stroke="none" stroke-width="0" /><ellipse cx="172" cy="164" rx="14" ry="14" transform="rotate(0 172 164)" fill="#fbfafb" stroke="none" stroke-width="0" /><ellipse cx="208" cy="160" rx="10" ry="11" transform="rotate(0 208 160)" fill="#fbfafb" stroke="none" stroke-width="0" /><ellipse cx="51" cy="25" rx="7" ry="5" transform="rotate(0 51 25)" fill="#fbfafb" stroke="none" stroke-width="0" /><ellipse cx="89" cy="27" rx="7" ry="8" transform="rotate(0 89 27)" fill="#fbfafb" stroke="none" stroke-width="0" /><ellipse cx="178" cy="84" rx="8" ry="8" transform="rotate(0 178 84)" fill="#fbfafb" stroke="none" stroke-width="0" /><ellipse cx="215" cy="43" rx="6" ry="14" transform="rotate(0 215 43)" fill="#fbfafb" stroke="none" stroke-width="0" /><ellipse cx="100" cy="50" rx="5" ry="4" transform="rotate(0 100 50)" fill="#fbfafb" stroke="none" stroke-width="0" /><ellipse cx="10" cy="128" rx="6" ry="5" transform="rotate(0 10 128)" fill="#fbfafb" stroke="none" stroke-width="0" /><ellipse cx="4" cy="203" rx="5" ry="10" transform="rotate(30 4 203)" fill="#fbfafb" stroke="none" stroke-width="0" /></g>
<rect x="1065.2" y="92.3" width="99.2" height="99.2" fill="none" stroke="#000" stroke-width="2"/><path d="M1164.4 92.3L1278 26.6M1164.4 191.5L1277.6 240.1" stroke="#000" stroke-width="2" fill="none"/><rect x="1147.1" y="364.3" width="99.2" height="99" fill="none" stroke="#000" stroke-width="2"/><path d="M1246.3 364.3L1277.6 249.9M1246.3 463.3L1276 463.3" stroke="#000" stroke-width="2" fill="none"/><rect x="1207" y="235.3" width="36.8" height="1.6" fill="#000"/>
<clipPath id="fc1"><rect x="773.1" y="591.2" width="211.8" height="210.7"/></clipPath><filter id="fb1"><feGaussianBlur stdDeviation="0.5"/></filter><rect x="773.1" y="591.2" width="211.8" height="210.7" fill="#000"/><g clip-path="url(#fc1)"><g filter="url(#fb1)"><g transform="translate(773.1 591.2)"><filter id="tx2" x="0" y="0" width="1" height="1" color-interpolation-filters="sRGB"><feTurbulence type="fractalNoise" baseFrequency="0.5" numOctaves="1" seed="101"/><feColorMatrix type="matrix" values="0 0 0 0 0.353 0 0 0 0 0.000 0 0 0 0 0.000 1 0 0 0 0"/><feComponentTransfer result="l0"><feFuncA type="discrete" tableValues="0 0 0 0 0 0 0 0 0 0 0 0 0 0 0 0 0 0 0 0 0 0 0 0 0 0 0 0 0 0 0 0 0 0 0 0 0 0 0 0 1 1 1 1 1 1 1 1 1 1"/></feComponentTransfer><feMerge result="mg"><feMergeNode in="l0"/></feMerge><feGaussianBlur stdDeviation="0.4"/></filter><rect x="0" y="0" width="212" height="211" filter="url(#tx2)"/></g><g transform="translate(773.1 591.2)"><filter id="tx3" x="0" y="0" width="1" height="1" color-interpolation-filters="sRGB"><feTurbulence type="fractalNoise" baseFrequency="0.22" numOctaves="1" seed="111"/><feColorMatrix type="matrix" values="0 0 0 0 0.784 0 0 0 0 0.000 0 0 0 0 0.000 1 0 0 0 0"/><feComponentTransfer result="l0"><feFuncA type="discrete" tableValues="0 0 0 0 0 0 0 0 0 0 0 0 0 0 0 0 0 0 0 0 0 0 0 0 0 0 0 0 0 0 0 0 0 0 0 0 0 0 1 1 1 1 1 1 1 1 1 1 1 1"/></feComponentTransfer><feMerge result="mg"><feMergeNode in="l0"/></feMerge><feGaussianBlur stdDeviation="0.4"/></filter><rect x="0" y="0" width="212" height="211" filter="url(#tx3)"/></g><path d="M788.7 663.8h.1M791.5 662.7h.1M788.5 663.2h.1M790.9 664.7h.1M788.7 661.6h.1M791.1 663.8h.1M792.3 664.6h.1M790.3 663.2h.1M793.2 663h.1M789.3 661.8h.1" stroke="#ff0000" stroke-width="5.5" stroke-linecap="round"/><path d="M838.9 687.7h.1M838.7 687.7h.1M839.2 688.4h.1M840.3 688h.1M836.5 688.6h.1M837 687.5h.1M836.9 687.7h.1M838.1 687.9h.1M841.9 687.7h.1M840 685.9h.1" stroke="#ff0000" stroke-width="5.5" stroke-linecap="round"/><path d="M829.7 700.7h.1M829.9 700.4h.1M830 699.6h.1M830.3 699.7h.1M831.4 699.9h.1M830.3 700.3h.1" stroke="#ea0000" stroke-width="3.3" stroke-linecap="round"/><path d="M903.2 694.1h.1M903.2 694.8h.1M903.7 695.7h.1M902.1 694.1h.1M902.9 695.4h.1M904.2 694.4h.1M902.5 695.4h.1M902.1 695h.1M902.2 694.4h.1M900.7 694.4h.1" stroke="#ff0000" stroke-width="5.5" stroke-linecap="round"/><path d="M938.5 694.2h.1M938.8 693.8h.1M938.6 693.5h.1M938.1 693.5h.1M939.4 692.7h.1M937.5 694.5h.1" stroke="#ea0000" stroke-width="3.3" stroke-linecap="round"/><path d="M921.1 726.4h.1M921.8 724.3h.1M922.8 726.9h.1M921 726.1h.1M921 724.7h.1M920.8 725.7h.1M922.1 726.3h.1M921 726.9h.1" stroke="#ff0000" stroke-width="4.4" stroke-linecap="round"/><path d="M813.6 757.2h.1M816.1 755.7h.1M812 754.8h.1M814.8 756.6h.1M816.9 754.6h.1M814.6 756.7h.1M814.4 753h.1M815.6 759.1h.1M816.1 754.8h.1M814.3 756.3h.1M817.7 756.9h.1" stroke="#ff0000" stroke-width="6.1" stroke-linecap="round"/><path d="M869.6 750.4h.1M869.4 750.6h.1M869 748.5h.1M870.2 750.2h.1M869.9 749.1h.1M867.8 748.2h.1M869.1 748.5h.1" stroke="#f40000" stroke-width="3.9" stroke-linecap="round"/><path d="M884.3 763.1h.1M884.5 763.4h.1M883.9 763.3h.1M884.3 763.9h.1M883.8 763.2h.1M883 764.5h.1" stroke="#f40000" stroke-width="3.3" stroke-linecap="round"/><path d="M968.6 764.9h.1M966.2 763.6h.1M966.9 765.2h.1M969.2 765.4h.1M966 762.6h.1M968.5 765.3h.1M964.8 765.3h.1M965.7 767.5h.1M968.1 765.8h.1" stroke="#ff0000" stroke-width="5" stroke-linecap="round"/><path d="M974.9 778.9h.1M974.9 779.2h.1M975.4 778.9h.1M974.3 781.5h.1M976.3 779.6h.1M973.8 781.2h.1" stroke="#ff0000" stroke-width="3.3" stroke-linecap="round"/><path d="M870.5 627h.1M868.8 627.5h.1M868.1 627.4h.1M871 629h.1M871.9 628.1h.1M869.4 627.2h.1M869.4 626.6h.1M867.4 629h.1M871.3 629.2h.1" stroke="#ea0000" stroke-width="5" stroke-linecap="round"/><path d="M878.4 628.3h.1M876.5 628.1h.1M876.6 626.9h.1M875.3 626.5h.1M877 628h.1M876.5 629.5h.1M877.1 628.4h.1M878.3 627.1h.1" stroke="#ea0000" stroke-width="4.4" stroke-linecap="round"/><path d="M860.5 629.6h.1M861.4 630.1h.1M862.2 629.7h.1M862.6 627.5h.1M862.5 628.5h.1M861.5 628.7h.1" stroke="#d50000" stroke-width="3.3" stroke-linecap="round"/><path d="M868.1 607.9h.1M868.2 606.6h.1M867.4 606.4h.1M867.7 607.7h.1" stroke="#d50000" stroke-width="2.2" stroke-linecap="round"/><path d="M873.7 652.6h.1M874.1 653h.1M873.6 652.1h.1M873.6 653.4h.1" stroke="#d50000" stroke-width="2.2" stroke-linecap="round"/><path d="M969.3 691.2h.1M968.6 691.3h.1M968.6 691.3h.1M968.4 690.5h.1M968.2 692.4h.1" stroke="#df0000" stroke-width="2.8" stroke-linecap="round"/><path d="M945.4 701.2h.1M945.2 701.2h.1M945.3 701h.1M945.2 701.2h.1" stroke="#d50000" stroke-width="2.2" stroke-linecap="round"/><path d="M863.6 783.5h.1M863.4 783.3h.1M864.6 782.7h.1M864 783.7h.1M863.8 784h.1" stroke="#d50000" stroke-width="2.8" stroke-linecap="round"/><path d="M848.5 643h.1M848 642.8h.1M847.9 643.4h.1" stroke="#ca0000" stroke-width="2" stroke-linecap="round"/><path d="M904.8 654.6h.1M904.5 654.6h.1M904.4 655.4h.1" stroke="#ca0000" stroke-width="1.7" stroke-linecap="round"/><path d="M835.1 722h.1M835.6 721.7h.1M835.3 722.3h.1" stroke="#ca0000" stroke-width="1.7" stroke-linecap="round"/><path d="M852.2 756.2h.1M852.5 757.5h.1M853.7 756.3h.1M853.5 756.8h.1" stroke="#d50000" stroke-width="2.2" stroke-linecap="round"/><path d="M896.9 769.8h.1M896.9 769.3h.1M896.6 769.5h.1" stroke="#ca0000" stroke-width="1.7" stroke-linecap="round"/><path d="M808.2 615.8h.1M808.9 614.9h.1M807.3 614.8h.1" stroke="#c00000" stroke-width="1.7" stroke-linecap="round"/><path d="M837 669L839.8 677.4M846 670.4L847.5 678.8M860.8 677.4L862.9 681.6M867.8 649.5L876.1 654.3M844 634L851 639.7M848.2 624.3L852.4 627.1M820.3 685.8L828.7 690M846.1 709.5L848.2 713.7M866.4 772.4L867.8 776.5M862.2 782.1L869.2 786.3M867.8 754.2L870.6 762.6M943.2 699.7L947.4 701.8M960 701.1L964.1 703.2M901.3 764.7L905.5 766.1M890.1 752.8L892.9 754.2M873.4 738.8L877.5 741.6M784 787.7L788.2 791.9M795.1 652.2L797.9 655M862 627L880 633M864 632L878 636" stroke="#b80000" stroke-width="1.1" stroke-linecap="round" fill="none"/></g></g>
<rect x="888.5" y="591.2" width="96.4" height="97.9" fill="#000"/><path d="M948.7 626h.1M953 618.1h.1M954.3 621.7h.1M946.2 618.4h.1M951.3 620.1h.1M951.7 619.7h.1M951.9 618.9h.1M948.6 625h.1M952.2 620.9h.1M946.3 619.6h.1M954.2 615.9h.1M954.8 618.9h.1M952.1 619.9h.1M952.2 623.8h.1M950.2 625.2h.1M949.1 617.2h.1M953.7 616.7h.1M950.5 622.6h.1M955.2 614.7h.1M953.1 626h.1M955.2 619.4h.1M950.2 619.5h.1M948 619.3h.1M951.3 620h.1" stroke="#ff0000" stroke-width="13.2" stroke-linecap="round"/><path d="M948.4 629.5h.1M942.9 632.2h.1M943.8 629.1h.1M945.9 629.7h.1M944.1 629.5h.1M950.3 628.8h.1M945.7 632.3h.1M947.5 631.5h.1M947.7 626h.1M944.5 630.2h.1M947.1 632.8h.1M946.6 629.7h.1M946 629.9h.1M946.4 631h.1M945.4 628.6h.1M944.2 632.3h.1" stroke="#ff0000" stroke-width="8.8" stroke-linecap="round"/><path d="M953.8 647.3h.1M953.3 647.1h.1M952.4 646.7h.1M951.4 646h.1M951.7 646.9h.1M952 646.1h.1M952.8 647.7h.1M951.6 645.2h.1" stroke="#ff0000" stroke-width="4.4" stroke-linecap="round"/><path d="M973.1 655.5h.1M972.1 657h.1M971.2 654h.1M972.6 657h.1M969.6 662h.1M972.4 662.6h.1M971.9 657.5h.1M971.6 661.4h.1M971.4 658.4h.1M972.4 656.1h.1M971.6 657.3h.1M968.7 659.8h.1M972.4 658h.1M969.6 653.9h.1M971.9 657.8h.1M967.8 657.8h.1" stroke="#ff0000" stroke-width="8.8" stroke-linecap="round"/><path d="M963.9 662h.1M966.1 662.2h.1M966.1 662.1h.1M964.5 661.5h.1M965.6 661.8h.1M966.2 662.6h.1M967.6 659.5h.1M966.3 661.9h.1M968.6 663.1h.1M963.8 662.5h.1" stroke="#ff0000" stroke-width="5.5" stroke-linecap="round"/>
<path d="M888.5 591.2V689.1H984.9" stroke="#e8e8e8" stroke-width="1.8" fill="none"/>
<rect x="938.4" y="745.6" width="42.8" height="42.2" fill="none" stroke="#d8d8d8" stroke-width="1.5"/>
<rect x="962.3" y="678.8" width="21.8" height="8" fill="#f2f2f2"/>
<rect x="955.1" y="797.2" width="25.8" height="1.9" fill="#e8e8e8"/>
<clipPath id="fc2"><rect x="987.0" y="591.2" width="211.2" height="210.7"/></clipPath><filter id="fb2"><feGaussianBlur stdDeviation="0.5"/></filter><rect x="987.0" y="591.2" width="211.2" height="210.7" fill="#000"/><g clip-path="url(#fc2)"><g filter="url(#fb2)"><g transform="translate(987.0 591.2)"><filter id="tx4" x="0" y="0" width="1" height="1" color-interpolation-filters="sRGB"><feTurbulence type="fractalNoise" baseFrequency="0.5" numOctaves="1" seed="102"/><feColorMatrix type="matrix" values="0 0 0 0 0.000 0 0 0 0 0.282 0 0 0 0 0.000 1 0 0 0 0"/><feComponentTransfer result="l0"><feFuncA type="discrete" tableValues="0 0 0 0 0 0 0 0 0 0 0 0 0 0 0 0 0 0 0 0 0 0 0 0 0 0 0 0 0 0 0 0 0 0 0 0 0 0 0 0 1 1 1 1 1 1 1 1 1 1"/></feComponentTransfer><feMerge result="mg"><feMergeNode in="l0"/></feMerge><feGaussianBlur stdDeviation="0.4"/></filter><rect x="0" y="0" width="212" height="211" filter="url(#tx4)"/></g><g transform="translate(987.0 591.2)"><filter id="tx5" x="0" y="0" width="1" height="1" color-interpolation-filters="sRGB"><feTurbulence type="fractalNoise" baseFrequency="0.22" numOctaves="1" seed="112"/><feColorMatrix type="matrix" values="0 0 0 0 0.000 0 0 0 0 0.690 0 0 0 0 0.000 1 0 0 0 0"/><feComponentTransfer result="l0"><feFuncA type="discrete" tableValues="0 0 0 0 0 0 0 0 0 0 0 0 0 0 0 0 0 0 0 0 0 0 0 0 0 0 0 0 0 0 0 0 0 0 0 0 0 0 0 1 1 1 1 1 1 1 1 1 1 1"/></feComponentTransfer><feMerge result="mg"><feMergeNode in="l0"/></feMerge><feGaussianBlur stdDeviation="0.4"/></filter><rect x="0" y="0" width="212" height="211" filter="url(#tx5)"/></g><path d="M1003.5 664.5h.1M1002.9 663.2h.1M1004.2 663.3h.1M1003.4 660.9h.1M1004.8 664.5h.1M1004.1 662.1h.1M1004.4 663.8h.1M1004.2 663.3h.1M1006.1 661.8h.1M1003.5 660.8h.1" stroke="#00e600" stroke-width="5.5" stroke-linecap="round"/><path d="M1052 686.8h.1M1051.6 686.8h.1M1055.2 687.4h.1M1052.7 690.4h.1M1052.7 685.4h.1M1053.3 686.6h.1M1054.9 686.1h.1M1052 685.5h.1M1052.9 686.5h.1M1052.8 687.5h.1" stroke="#00e600" stroke-width="5.5" stroke-linecap="round"/><path d="M1043.3 701h.1M1044.4 700.3h.1M1043.1 699.4h.1M1044 702h.1M1043.5 699.8h.1M1043.2 699.4h.1" stroke="#00d400" stroke-width="3.3" stroke-linecap="round"/><path d="M1114.8 694.7h.1M1117.8 694.9h.1M1115.2 692.7h.1M1116 694.9h.1M1114.2 693.4h.1M1115.8 696.1h.1M1116.5 695.1h.1M1115.7 695.1h.1M1115.9 697.6h.1M1114.5 694.4h.1" stroke="#00e600" stroke-width="5.5" stroke-linecap="round"/><path d="M1152.9 692.8h.1M1153 693h.1M1152 692.9h.1M1150.8 692.2h.1M1153.5 693.5h.1M1152.4 693.7h.1" stroke="#00d400" stroke-width="3.3" stroke-linecap="round"/><path d="M1135.4 726.5h.1M1134.7 725.4h.1M1135.8 725.2h.1M1133.4 725.3h.1M1134.3 726h.1M1134 724.4h.1M1134.4 727.2h.1M1134.8 725.5h.1" stroke="#00e600" stroke-width="4.4" stroke-linecap="round"/><path d="M1028.5 756.2h.1M1029.9 758.2h.1M1026.2 758h.1M1028.5 755.9h.1M1031.6 755.9h.1M1031.2 757.4h.1M1027.1 756.8h.1M1029.3 756h.1M1025.4 755.6h.1M1028.2 754.6h.1M1031.2 755.7h.1" stroke="#00e600" stroke-width="6.1" stroke-linecap="round"/><path d="M1083.2 748.8h.1M1082.7 748.2h.1M1083.4 749h.1M1083.1 748.9h.1M1082.1 749.4h.1M1082.9 749.1h.1M1082.6 748.5h.1" stroke="#00dd00" stroke-width="3.9" stroke-linecap="round"/><path d="M1098.1 762.4h.1M1099.6 763.3h.1M1097.9 762.9h.1M1099.1 764.4h.1M1098.1 762.2h.1M1097.6 763.7h.1" stroke="#00dd00" stroke-width="3.3" stroke-linecap="round"/><path d="M1180.1 763.7h.1M1179.3 764.2h.1M1180.7 764.6h.1M1180.7 767.7h.1M1182.7 763.9h.1M1180.9 765.1h.1M1180.5 766.2h.1M1180.5 764.9h.1M1180.5 765h.1" stroke="#00e600" stroke-width="5" stroke-linecap="round"/><path d="M1189.9 781.1h.1M1187.8 780.1h.1M1188.3 781.1h.1M1189.1 781.1h.1M1188.9 779h.1M1189.1 780.6h.1" stroke="#00e600" stroke-width="3.3" stroke-linecap="round"/><path d="M1084 626.6h.1M1083.5 627.6h.1M1082.8 628.5h.1M1083.8 627.3h.1M1081.9 626h.1M1082.7 629.5h.1M1083.3 625.7h.1M1082.5 628.6h.1M1085.3 629.6h.1" stroke="#00d400" stroke-width="5" stroke-linecap="round"/><path d="M1091.1 628.1h.1M1089.8 627.5h.1M1090.6 627.3h.1M1090.9 627.8h.1M1091.3 629.5h.1M1091.5 628.4h.1M1090.6 626.4h.1M1090.8 628.3h.1" stroke="#00d400" stroke-width="4.4" stroke-linecap="round"/><path d="M1075.1 630h.1M1075.8 629.2h.1M1075.6 628h.1M1077.4 628.2h.1M1076.6 628.6h.1M1076.1 628.5h.1" stroke="#00c200" stroke-width="3.3" stroke-linecap="round"/><path d="M1081.4 607.9h.1M1082.6 607.1h.1M1081.6 607.9h.1M1081.3 607.8h.1" stroke="#00c200" stroke-width="2.2" stroke-linecap="round"/><path d="M1087.5 652.8h.1M1088.1 653.1h.1M1088.1 651.9h.1M1088.2 651.9h.1" stroke="#00c200" stroke-width="2.2" stroke-linecap="round"/><path d="M1183 692.3h.1M1182.8 691h.1M1183.3 691.4h.1M1181.7 691.1h.1M1183.5 691.1h.1" stroke="#00cb00" stroke-width="2.8" stroke-linecap="round"/><path d="M1159.1 701.1h.1M1158.2 700.9h.1M1159.2 701.2h.1M1159 700.1h.1" stroke="#00c200" stroke-width="2.2" stroke-linecap="round"/><path d="M1078.8 784.5h.1M1078.7 784.9h.1M1077.8 783.7h.1M1078.2 785.1h.1M1076.9 783.8h.1" stroke="#00c200" stroke-width="2.8" stroke-linecap="round"/><path d="M1061.6 643.2h.1M1062.6 642.9h.1M1061.3 643h.1" stroke="#00b900" stroke-width="2" stroke-linecap="round"/><path d="M1118.8 654.4h.1M1119.2 654.8h.1M1119.2 654.5h.1" stroke="#00b900" stroke-width="1.7" stroke-linecap="round"/><path d="M1049.3 721.4h.1M1049.3 721.3h.1M1049.5 721.8h.1" stroke="#00b900" stroke-width="1.7" stroke-linecap="round"/><path d="M1066.1 756.9h.1M1067.1 756.5h.1M1066.7 757.1h.1M1066.8 755.8h.1" stroke="#00c200" stroke-width="2.2" stroke-linecap="round"/><path d="M1110.8 770.1h.1M1111 770.4h.1M1110.7 770.8h.1" stroke="#00b900" stroke-width="1.7" stroke-linecap="round"/><path d="M1022.2 615.1h.1M1022.3 615.4h.1M1021.9 614.8h.1" stroke="#00b000" stroke-width="1.7" stroke-linecap="round"/><path d="M1050.9 669L1053.7 677.4M1059.9 670.4L1061.4 678.8M1074.7 677.4L1076.8 681.6M1081.7 649.5L1090 654.3M1057.9 634L1064.9 639.7M1062.1 624.3L1066.3 627.1M1034.2 685.8L1042.6 690M1060 709.5L1062.1 713.7M1080.3 772.4L1081.7 776.5M1076.1 782.1L1083.1 786.3M1081.7 754.2L1084.5 762.6M1157.1 699.7L1161.3 701.8M1173.9 701.1L1178 703.2M1115.2 764.7L1119.4 766.1M1104 752.8L1106.8 754.2M1087.3 738.8L1091.4 741.6M997.9 787.7L1002.1 791.9M1009 652.2L1011.8 655M1075.9 627L1093.9 633M1077.9 632L1091.9 636" stroke="#0c9a0c" stroke-width="1.1" stroke-linecap="round" fill="none"/></g></g>
<rect x="1102.4" y="591.2" width="96.4" height="97.9" fill="#000"/><path d="M1168.5 621.4h.1M1159.7 616.8h.1M1166.2 620.3h.1M1166 621.5h.1M1165.9 625.2h.1M1164.1 619.2h.1M1166.2 622h.1M1168 624.9h.1M1163.9 623.8h.1M1166.8 617h.1M1165 626.5h.1M1167.5 618.8h.1M1158.8 618.1h.1M1163.8 620.3h.1M1171.9 622.2h.1M1166.3 617.5h.1M1161.7 619.5h.1M1164.3 627.1h.1M1164.5 618.7h.1M1168.8 620.3h.1M1161.4 624.2h.1M1164.4 615.9h.1M1166 621h.1M1164.6 621.8h.1" stroke="#00e600" stroke-width="13.2" stroke-linecap="round"/><path d="M1161.6 628.2h.1M1156.8 626.4h.1M1159.6 632.6h.1M1162.1 633h.1M1163.8 630h.1M1162.1 626.8h.1M1161 630.6h.1M1159.8 629.5h.1M1157.7 630.3h.1M1162.6 629.2h.1M1160.8 628.9h.1M1160.4 628.1h.1M1160.3 629.8h.1M1160.4 629.1h.1M1157.5 629.3h.1M1162.1 633.3h.1" stroke="#00e600" stroke-width="8.8" stroke-linecap="round"/><path d="M1166 646.9h.1M1167 646.5h.1M1164.6 646.6h.1M1165.3 647.5h.1M1167 646.8h.1M1164 646.8h.1M1167.1 644.8h.1M1167.2 646.3h.1" stroke="#00e600" stroke-width="4.4" stroke-linecap="round"/><path d="M1185 656.8h.1M1183.3 657h.1M1190 658.2h.1M1185.6 657h.1M1184.3 657h.1M1183.5 659.7h.1M1184.8 659.4h.1M1182.8 659.9h.1M1185.3 658.9h.1M1185.1 656.3h.1M1187.8 657h.1M1185 656.3h.1M1185.5 657.5h.1M1185.6 658.3h.1M1183.8 654.8h.1M1186.1 659.6h.1" stroke="#00e600" stroke-width="8.8" stroke-linecap="round"/><path d="M1180.8 660.5h.1M1180.5 662.4h.1M1180.1 662.3h.1M1179.7 662.1h.1M1181 661.4h.1M1178 661.9h.1M1180.2 659.6h.1M1179.2 662.7h.1M1179.9 662h.1M1178.2 663.2h.1" stroke="#00e600" stroke-width="5.5" stroke-linecap="round"/>
<path d="M1102.7 591.2V689.1H1198.2" stroke="#e8e8e8" stroke-width="1.8" fill="none"/>
<rect x="1151.3" y="748.1" width="42.6" height="42.6" fill="none" stroke="#d8d8d8" stroke-width="1.5"/>
<clipPath id="fc3"><rect x="1202.1" y="591.2" width="211.7" height="210.7"/></clipPath><filter id="fb3"><feGaussianBlur stdDeviation="0.6"/></filter><rect x="1202.1" y="591.2" width="211.7" height="210.7" fill="#000"/><g clip-path="url(#fc3)"><g filter="url(#fb3)"><path d="M1413.6 759.8l0.5 0.3M1416.5 775.1l2 0.6M1407.6 705.4l-2.1 0.3M1326.6 715.1l0.2 0.3M1289.1 696.2l-1 0.4M1266.5 760.2l-0.9 0M1228.4 782.1l-0.6 0.5M1259.4 620.5l-0.5 0.7M1278.2 613.5l-1.6 0.8" stroke="#071470" stroke-width="7" stroke-linecap="round"/><path d="M1413.1 768.1l0.2 1.2M1371.6 768.5l-1 1M1417.8 750.1l-0.7 0.2M1385.1 741.9l0.4 0.4M1355.5 717.4l-0.5 0.3M1403.2 714.4l-0.1 0M1317.7 765.8l-0.4 2.2M1303.6 669.9l0.9 0.8M1286.6 768.9l-0.2 0.1M1266.5 697.7l-0.7 0.8M1286.7 682l-0.6 0M1242.4 674.8l-0.5 1.1M1226.2 801l-0.2 1.9M1249.4 679.2l0.2 1.7M1267.1 604.4l-0.1 0.5M1253.7 607.3l0.9 0.1M1245.3 608.6l0 1.3M1204.1 676.7l1.3 1.9M1226.5 643l-1.5 1.2M1237.6 593.8l-0.1 0.5M1202.4 589.2l-1 0.1" stroke="#0a20a0" stroke-width="7" stroke-linecap="round"/><path d="M1406.1 775.8l-1.8 1.4M1405.8 800.6l0.8 1.3M1394.6 801l-1.4 0.8M1360.4 703l-0.1 0.9M1331.1 753.4l0.2 0.3M1332.4 796l0.4 0.8M1330.8 771.1l-0.7 1.9M1324.9 730.4l0.1 0.8M1311.1 781.8l-0.9 1.4M1304 727.5l0.7 0.4M1290.3 713.4l2.2 0.3M1309 706.9l-1.3 0.2M1280.1 787.1l0 0.1M1254.4 735.4l1.1 2.1M1275.1 743.3l-0 0M1269.3 803.3l1.6 1.7M1251.9 751.2l0.7 0.9M1263.1 665.8l0.2 0.5M1311.4 598.9l0.6 0.8M1225.4 699.9l-0 0M1222.9 722.8l1.2 1.1M1202.1 712.2l-1.7 0.5M1277.4 589.9l-0 0M1213.8 673.5l-0 0" stroke="#1238e6" stroke-width="7" stroke-linecap="round"/><path d="M1401.2 762.7l1.8 0.4M1383.8 784.3l0.4 0.2M1398.8 721.3l-0 0.1M1366.1 736.4l-0.7 1.6M1387.6 724.2l-0.4 0.2M1332.3 804.4l-1.7 0.2M1313.4 730l1.5 1M1313.8 674.4l-0.3 1.4M1323.9 758.4l-1.1 0.1M1280.2 690.7l1.2 1.9M1278.4 750.6l-0 0M1299.9 793.1l-0.6 1.4M1295.1 690.3l-0.3 0.4M1310.3 650l-0.7 1.4M1298.1 661.4l0.8 0.7M1303.5 638.3l0.9 0.7M1274.9 653.4l-0.2 1.4M1282.5 657.5l-0.2 0.3M1315.7 609.9l1.5 0.5M1255.1 804.7l0.5 0.2M1254 627.2l-0.3 0.2M1244.3 642.3l-0.5 1.2M1211.2 682.1l1.1 0M1266.3 595.5l0.3 0.8M1213.9 747.1l-0.1 0M1259.7 600.4l-0.4 0.1M1207.7 657l-0.5 0.6" stroke="#1238e6" stroke-width="6" stroke-linecap="round"/><path d="M1396.8 778l0.6 0.6M1371.7 752.6l-2.2 0.6M1344.6 755.8l-2.1 1.3M1352.3 802.4l-1.8 1.3M1334.9 718l0.7 1M1335.1 693.2l1.2 1.8M1308.9 720.1l-0.4 2.1M1331.6 703.7l0.1 0.1M1306.7 735.1l1.5 1.2M1296.7 737.3l1.8 0.5M1305.7 750.9l1.9 1M1295.7 678.2l1.1 2.4M1291.5 796.4l2.5 0.4M1250.5 786.6l-1.9 0.5M1223.1 771.2l1.1 0.2M1247.7 662.2l0.1 2M1252 644.9l-1.3 0.2M1233.8 728.8l0.4 0.2M1245 735.2l-0.4 0.6M1203.2 740.3l0.8 1.8M1253.4 594.4l0.6 1.6M1223.4 623.6l-0.1 1.5" stroke="#1238e6" stroke-width="8" stroke-linecap="round"/><path d="M1407.2 788.7l-1.6 0.5M1394.1 771.6l-2.4 0.1M1370.5 745l1.5 0.8M1385.4 733.6l1.6 0.7M1374 736.2l-1 1M1359.3 694.9l0.2 1.6M1356.8 724.3l-1.4 1.4M1368.8 691.8l-1.1 0.2M1328.7 696.5l-0.4 0.3M1368.2 703.2l-0 0.2M1322.8 794.7l0.8 0.7M1297.6 652.8l-0.2 0.1M1278.1 640.7l-1 1.7M1286.1 633.5l0.1 0.4M1258 660l-0.1 0M1219.6 693l-0 0.7M1232.3 698.9l2 2M1200.1 702.6l-0.4 1.7M1212 641l-2.3 0.2M1212.7 597.1l-1.5 1.3M1228.5 599.5l-0.1 0.2" stroke="#0a20a0" stroke-width="8" stroke-linecap="round"/><path d="M1388 776.9l-0.4 0.6M1384.9 750.7l-0.1 0M1392.5 784.4l-1.1 0.3M1352.3 788l0 0M1354.4 745l-1.2 0.5M1346.9 714.4l-0.5 0.1M1344.9 695.7l-0.1 0.4M1339.1 707.1l-0.6 0.1M1306.5 743.6l-1 0.6M1318.1 703.3l1.1 0.1M1302.1 804.7l1.2 1.5M1308.4 773.8l1 0.1M1279.5 776.3l-0.1 1.1M1278.1 673.7l1.3 1M1253.5 771.3l0.7 0.8M1291 642l-0.1 0.2M1281.9 758.7l0 0.1M1230.9 707.1l-1.5 0M1288.3 650.8l0.9 1.6M1275.6 797.6l-0.1 1M1298.2 612.3l-1.1 0.6M1232.9 796.4l1 1.7M1295.9 636.1l-0.4 0.3M1200.6 789.5l-0.9 1.7M1220.9 652.5l-0.1 0.4M1201.9 637.2l-0.1 1.4" stroke="#0a20a0" stroke-width="6" stroke-linecap="round"/><path d="M1379.2 775.7l0.7 1M1410.3 730.1l1.7 0.2M1357.5 794.3l-0 0M1347.9 736.3l-1.4 0.4M1388.6 692.5l0.4 0.3M1277.9 663.8l-0.3 0.5M1260.5 782.4l-0.1 0.2" stroke="#071470" stroke-width="6" stroke-linecap="round"/><path d="M1387.1 790.8l0.8 0.2M1413.6 736.9l1.1 0.7M1415.6 722.9l-0.2 0.1M1346.9 748.9l1.3 1.9M1374.2 697.8l-1.1 0.8M1336.5 735l0.3 0.6M1325.4 764.7l0.2 1.8M1320.4 692.9l0.1 1.1M1331.6 726.9l1.6 1M1321.3 721.8l-0.8 1.5M1312.8 693.9l0.1 0.4M1321.7 750.3l0.5 1.4M1315.5 745.1l-1 1.4M1289.9 737.1l0.5 0.1M1306.8 790.2l0.3 0.5M1300.9 785.2l0.7 0.6M1301.1 762.1l-0.4 0.3M1273.6 703l0 0M1265.1 771.3l0.3 1.5M1242.7 699.5l0.2 0.6M1271.4 666.7l-1.2 1.4M1277 731.8l-0.1 0.1M1299.3 627l0.4 1.8M1231.7 764.7l0.9 1.2M1255.4 724.7l0.8 0.2M1304.1 605.7l-0.8 0.2M1254.4 697.7l-0.2 0.4M1274 620.4l-0.1 0.4M1267.9 631.3l0.2 1.1M1234.4 655.3l-0.1 0.2M1308.1 611.8l0.2 0.8M1200.6 760.5l0.1 0M1201.1 777.3l-1 2M1258.7 710.7l1.3 0.5M1306.2 586.7l-1.1 1.2M1206.9 752.6l0.3 1.8M1230.2 589.7l-1.1 1.3" stroke="#0c2cc8" stroke-width="7" stroke-linecap="round"/><path d="M1378.9 795.5l0.2 1.6M1382.1 759.6l-0.4 0.8M1396.7 730.9l-0 0.1M1406.5 720.8l1.6 0.4M1339.4 772.7l-0.7 1.3M1349 779.7l-0.8 1.3M1319.7 739.8l0 0.3M1308.2 765l-0.7 1.5M1286.9 747l0 0.4M1358.8 805l-0.3 0.2M1307.9 662.5l0.2 1M1286.2 663l0.5 1.9M1315.3 642.8l1.1 1.8M1247.4 742.2l0.4 1.9M1305.3 621.7l0.5 0.4M1252.1 670.7l0.7 0.3M1267.4 641.8l0.2 0.2M1239.3 716l1.4 0.2M1259.6 636.8l-1.3 1.6M1279.6 624.8l-0.3 1.8M1217 717.7l-0.8 1.7M1250.2 635.3l0.2 0.1M1292.9 598.3l-1.6 0.4M1211.7 698.4l-1.4 0.6M1222.4 680.3l0.2 0.2M1197.5 728.5l1.2 0.7M1210.3 630.1l-0 0.2M1221.2 593.7l0.7 1" stroke="#0c2cc8" stroke-width="6" stroke-linecap="round"/><path d="M1407.2 743.1l0.7 1.9M1370 760.8l-0.1 0.2M1340.1 743.8l2.5 0.8M1329.1 781.6l-0.6 2.3M1394.4 697.1l0.4 0.8M1314.9 755.4l-0.9 2.2M1298.8 777l2 0.9M1274 765.3l0.2 1.2M1254.7 704.8l-0.6 1.3M1260.2 718.3l0.6 0.8M1245.6 770.2l-0.6 0.2M1222.8 763.5l-0.9 0.1M1233.5 662.8l1.8 0.9M1220.3 706.7l-0.6 0.1M1226 715.2l-0.5 1.7M1251.7 616.8l-0.4 0.8M1297.1 619.9l1.8 0.3M1316.2 588.7l0.2 0.5M1243.7 600.9l-1.9 0.8M1244.1 589.9l-0.1 0M1254 587.2l-1.3 0.5M1199.6 645.1l0.2 0.6M1203.5 600.2l-0.5 0.2M1229.8 608.4l-2.5 0.8" stroke="#0c2cc8" stroke-width="8" stroke-linecap="round"/><path d="M1373.9 721.4l-0.5 1.7M1317.5 710l-0.4 1.7M1296.7 749.4l0.1 2.5M1272.4 691.8l1.4 1.3M1283.3 800.8l-1.3 0.5M1247.6 723.4l-0.9 1M1286.3 613.9l-1.1 2.2M1226.5 729.8l0.2 1.6M1216.1 725.6l-1.1 2M1215.9 756l-0.6 2.2M1209 611.4l-0.3 0" stroke="#1238e6" stroke-width="9" stroke-linecap="round"/><path d="M1363.9 725.9l0.4 0.3M1347.9 763.9l-0.4 0.1M1335 762.6l-1.3 1.6M1358.5 733.3l1.6 0.7M1342.7 729.4l-0.3 2.1M1390.4 705.1l-2.3 1M1271.2 787.2l0.7 2M1265.6 658.8l-0.1 0M1261.1 651.9l-0.7 0.1M1230.3 616.7l0.1 0M1200.6 630.8l-2.6 0.3" stroke="#071470" stroke-width="8" stroke-linecap="round"/><path d="M1350.5 729.9l0.1 0M1288 777l-0.6 0.7M1206.6 727.2l1.1 1.5M1235.8 603.7l-2.4 1.6" stroke="#0a20a0" stroke-width="9" stroke-linecap="round"/><path d="M1345 720.9l0.9 2.2M1326.1 707.4l-2.3 0.2M1321.3 786.3l2 2M1297.2 768.7l-0.1 0.3M1304.9 691.1l-1.7 0.8M1310.2 682.9l0 0.8M1267 749.7l-0.1 0.1M1305.4 699.4l0.3 1.2M1229.6 670l-0.2 2.1" stroke="#0c2cc8" stroke-width="9" stroke-linecap="round"/><path d="M1354.5 765.4l0.6 1.3" stroke="#0c2cc8" stroke-width="5" stroke-linecap="round"/><path d="M1272.5 724.6l1.7 0.6" stroke="#1238e6" stroke-width="5" stroke-linecap="round"/><path d="M1233.4 721l-0.1 0" stroke="#071470" stroke-width="9" stroke-linecap="round"/><path d="M1266 669L1268.8 677.4M1275 670.4L1276.5 678.8M1289.8 677.4L1291.9 681.6M1296.8 649.5L1305.1 654.3M1273 634L1280 639.7M1277.2 624.3L1281.4 627.1M1249.3 685.8L1257.7 690M1275.1 709.5L1277.2 713.7M1295.4 772.4L1296.8 776.5M1291.2 782.1L1298.2 786.3M1296.8 754.2L1299.6 762.6M1372.2 699.7L1376.4 701.8M1389 701.1L1393.1 703.2M1330.3 764.7L1334.5 766.1M1319.1 752.8L1321.9 754.2M1302.4 738.8L1306.5 741.6M1213 787.7L1217.2 791.9M1224.1 652.2L1226.9 655M1291 627L1309 633M1293 632L1307 636" stroke="#d09040" stroke-width="1.1" stroke-linecap="round" fill="none"/><path d="M1219.5 662.6h.1M1217.7 665.3h.1M1217.6 662.9h.1M1217.2 662.3h.1M1218.6 666.1h.1M1217.5 664.7h.1M1220.5 662.2h.1M1218.8 665.9h.1M1221.3 664h.1M1217.8 665.3h.1" stroke="#f4f070" stroke-width="5.5" stroke-linecap="round"/><path d="M1268.2 689.8h.1M1267.6 688.5h.1M1267 686.4h.1M1266.6 686.5h.1M1268.8 689.3h.1M1269.3 688.5h.1M1268.8 687.2h.1M1270.2 688.2h.1M1269.2 687.5h.1M1268.3 686.6h.1" stroke="#f4f070" stroke-width="5.5" stroke-linecap="round"/><path d="M1258.7 700.4h.1M1260 699.9h.1M1258.3 698.7h.1M1259.4 700.1h.1M1259 700.1h.1M1258.8 701.9h.1" stroke="#f4f070" stroke-width="3.3" stroke-linecap="round"/><path d="M1330.7 694.9h.1M1330.6 695.1h.1M1331.2 696.7h.1M1332.8 696.6h.1M1332.1 693.8h.1M1333.5 696.2h.1M1328.7 694.3h.1M1330.6 694.7h.1M1333.4 694h.1M1329.6 695.4h.1" stroke="#f4f070" stroke-width="5.5" stroke-linecap="round"/><path d="M1365.3 692.5h.1M1367.8 693.5h.1M1365.5 692.4h.1M1367 692.8h.1M1366.9 692.7h.1M1367.7 693.1h.1" stroke="#f4f070" stroke-width="3.3" stroke-linecap="round"/><path d="M1349.7 725.2h.1M1350.5 724.6h.1M1349.9 723.9h.1M1350.8 725.9h.1M1350.3 725.3h.1M1349.9 724.9h.1M1349.7 725.3h.1M1349.4 725.8h.1" stroke="#f4f070" stroke-width="4.4" stroke-linecap="round"/><path d="M1243.6 756.5h.1M1243.7 756h.1M1244.9 757.1h.1M1243.4 756.2h.1M1245.1 754.6h.1M1243.6 756.2h.1M1243.7 756h.1M1245.5 758.4h.1M1243.7 756h.1M1243.3 757.8h.1M1246.4 757.1h.1" stroke="#f4f070" stroke-width="6.1" stroke-linecap="round"/><path d="M1299.5 749h.1M1300 749.7h.1M1298.6 750.1h.1M1298.9 749.3h.1M1298.6 749h.1M1298.8 749.1h.1M1299.8 747.9h.1" stroke="#f4f070" stroke-width="3.9" stroke-linecap="round"/><path d="M1312 762.4h.1M1314.3 763.9h.1M1311.8 764.3h.1M1313 762.9h.1M1313 762.1h.1M1313.1 763.3h.1" stroke="#f4f070" stroke-width="3.3" stroke-linecap="round"/><path d="M1396.6 766.8h.1M1395.7 765.1h.1M1394.4 764.8h.1M1396.8 766.1h.1M1395.7 765h.1M1394.5 766.1h.1M1395.8 765.2h.1M1396 764.6h.1M1395.4 764.9h.1" stroke="#f4f070" stroke-width="5" stroke-linecap="round"/><path d="M1404.1 780.7h.1M1404 780.5h.1M1403.7 779.9h.1M1404 780.5h.1M1403.7 781.5h.1M1404.2 780.1h.1" stroke="#f4f070" stroke-width="3.3" stroke-linecap="round"/><path d="M1298.4 628.2h.1M1297.8 630.6h.1M1298.2 628.9h.1M1296.7 630.2h.1M1298.6 625.9h.1M1298.2 628h.1M1298.2 627.8h.1M1298.5 628.2h.1M1298.5 627.7h.1" stroke="#f4f070" stroke-width="5" stroke-linecap="round"/><path d="M1306.4 626.5h.1M1304.9 627.4h.1M1306.5 629h.1M1306.6 627.7h.1M1307.2 626.3h.1M1304.9 627.6h.1M1305.5 629.4h.1M1305.2 627.3h.1" stroke="#f4f070" stroke-width="4.4" stroke-linecap="round"/><path d="M1291.5 629.7h.1M1290.5 628.7h.1M1291 629h.1M1291 628.2h.1M1290.7 628.4h.1M1289.6 629h.1" stroke="#d07a50" stroke-width="3.3" stroke-linecap="round"/><path d="M1297.9 607.3h.1M1296.6 607.4h.1M1297.3 607.1h.1M1296.7 607.5h.1" stroke="#d07a50" stroke-width="2.2" stroke-linecap="round"/><path d="M1303.3 652.4h.1M1302.5 651.6h.1M1303 652.1h.1M1303.4 652.6h.1" stroke="#d07a50" stroke-width="2.2" stroke-linecap="round"/><path d="M1397.5 691.2h.1M1398 690.5h.1M1396.7 690.6h.1M1397.6 690.9h.1M1396.7 690.6h.1" stroke="#d07a50" stroke-width="2.8" stroke-linecap="round"/><path d="M1373.8 700.5h.1M1374.2 702h.1M1373.5 700.3h.1M1374.8 701.2h.1" stroke="#d07a50" stroke-width="2.2" stroke-linecap="round"/><path d="M1293.1 783.9h.1M1292.7 784.8h.1M1292.3 784.1h.1M1292.7 784.5h.1M1293.5 784.8h.1" stroke="#d07a50" stroke-width="2.8" stroke-linecap="round"/><path d="M1277.6 642.9h.1M1277.4 643.2h.1M1277.1 643.6h.1" stroke="#d07a50" stroke-width="2" stroke-linecap="round"/><path d="M1333.9 655.8h.1M1334.5 654.9h.1M1334.7 654.6h.1" stroke="#d07a50" stroke-width="1.7" stroke-linecap="round"/><path d="M1264.5 722.4h.1M1263.8 721.7h.1M1264.8 721.8h.1" stroke="#d07a50" stroke-width="1.7" stroke-linecap="round"/><path d="M1281.7 757.1h.1M1282 757.2h.1M1281 757.3h.1M1282.8 757.2h.1" stroke="#d07a50" stroke-width="2.2" stroke-linecap="round"/><path d="M1326.3 770.2h.1M1325.6 769.9h.1M1325.8 769.9h.1" stroke="#d07a50" stroke-width="1.7" stroke-linecap="round"/><path d="M1237 615h.1M1237.1 614.6h.1M1237.3 615h.1" stroke="#d07a50" stroke-width="1.7" stroke-linecap="round"/><path d="M1219.2 663.5h.1M1219.3 663.3h.1M1220.2 662.8h.1M1220.3 663.4h.1M1219.4 664h.1" stroke="#ffffff" stroke-width="2.8" stroke-linecap="round"/><path d="M1267.9 687.3h.1M1267.7 686.5h.1M1268 688h.1M1268.5 688.8h.1M1267.4 687.1h.1" stroke="#ffffff" stroke-width="2.8" stroke-linecap="round"/><path d="M1259.7 700.6h.1M1258.7 699.8h.1M1259.5 700.3h.1" stroke="#ffffff" stroke-width="1.7" stroke-linecap="round"/><path d="M1330.2 695.5h.1M1330.3 695.6h.1M1330.5 695.8h.1M1330 694.1h.1M1331.5 694.7h.1" stroke="#ffffff" stroke-width="2.8" stroke-linecap="round"/><path d="M1366.4 693.3h.1M1366.5 692.7h.1M1366.5 693.4h.1" stroke="#ffffff" stroke-width="1.7" stroke-linecap="round"/><path d="M1350.3 725.9h.1M1349.5 725.6h.1M1348.9 725.8h.1M1349.6 725.1h.1" stroke="#ffffff" stroke-width="2.2" stroke-linecap="round"/><path d="M1243 754.7h.1M1244.2 755.1h.1M1244 755.6h.1M1243.4 756.3h.1M1243.6 756.4h.1" stroke="#ffffff" stroke-width="3" stroke-linecap="round"/><path d="M1298.9 748.9h.1M1298.4 748.6h.1M1299.1 749.3h.1" stroke="#ffffff" stroke-width="1.9" stroke-linecap="round"/><path d="M1313.1 762.5h.1M1312.9 763.4h.1M1313 763.3h.1" stroke="#ffffff" stroke-width="1.7" stroke-linecap="round"/><path d="M1395.6 765h.1M1396.1 765.2h.1M1395.6 764.6h.1M1396.5 764.9h.1" stroke="#ffffff" stroke-width="2.5" stroke-linecap="round"/><path d="M1403.6 780.1h.1M1403.9 780.6h.1M1404.7 780.4h.1" stroke="#ffffff" stroke-width="1.7" stroke-linecap="round"/><path d="M1298.8 627.6h.1M1298 628.1h.1M1298.8 628.5h.1M1298.7 628.5h.1" stroke="#ffffff" stroke-width="2.5" stroke-linecap="round"/><path d="M1305.9 628.2h.1M1306.8 627.3h.1M1306.6 627.4h.1M1304.9 628.2h.1" stroke="#ffffff" stroke-width="2.2" stroke-linecap="round"/></g></g>
<rect x="1317.5" y="591.2" width="96.3" height="97.9" fill="#000"/><filter id="fb4"><feGaussianBlur stdDeviation="1.2"/></filter><g filter="url(#fb4)"><ellipse cx="1332.5" cy="612" rx="7" ry="5.5" fill="#0b2ad8"/><ellipse cx="1327" cy="631" rx="6" ry="5" fill="#0a22b8"/><ellipse cx="1330.5" cy="648.5" rx="6.5" ry="5" fill="#0a22b8"/><ellipse cx="1345" cy="669" rx="8.5" ry="6.5" fill="#0b2ad8"/><ellipse cx="1370" cy="678" rx="10" ry="5" fill="#0b2ad8"/><ellipse cx="1389" cy="641" rx="11" ry="7.5" fill="#0b2ad8"/><ellipse cx="1318" cy="600" rx="4" ry="5" fill="#081a90"/><ellipse cx="1402" cy="672" rx="5" ry="4" fill="#081a90"/><ellipse cx="1323" cy="675" rx="4" ry="4" fill="#06126a"/></g><path d="M1383.9 620.9h.1M1381 620h.1M1375.9 619.7h.1M1380.1 624h.1M1378.8 617.3h.1M1380.3 626.6h.1M1381.6 623.3h.1M1380.7 619.8h.1M1375.8 615h.1M1379.9 615.8h.1M1385 618.5h.1M1378.6 625.3h.1M1382.6 626.7h.1M1376.1 619.2h.1M1383.3 621.3h.1M1374.3 618.5h.1M1378.3 618.5h.1M1382.8 615.6h.1M1385.2 620.5h.1M1379.7 619.1h.1M1381.2 623.7h.1M1380.9 614.3h.1M1382.3 614.6h.1M1381.5 616.6h.1" stroke="#f2ee80" stroke-width="13.2" stroke-linecap="round"/><path d="M1376.9 631.4h.1M1374.6 631.2h.1M1374.5 629h.1M1370.6 630.4h.1M1375 629.1h.1M1372.9 628.1h.1M1372.1 630.9h.1M1374.4 628.8h.1M1372.9 632.5h.1M1373.2 625.9h.1M1373.7 627.7h.1M1378.5 631.2h.1M1379.1 630.6h.1M1374.9 630.6h.1M1376.1 630.8h.1M1375.6 633.9h.1" stroke="#f2ee80" stroke-width="8.8" stroke-linecap="round"/><path d="M1379.8 647.2h.1M1380.1 648.1h.1M1380 645.4h.1M1381.4 646.3h.1M1381.2 644.5h.1M1382.5 646.2h.1M1382.9 646.8h.1M1381.3 646.6h.1" stroke="#f2ee80" stroke-width="4.4" stroke-linecap="round"/><path d="M1401.7 658.6h.1M1400 657.9h.1M1399.6 656.8h.1M1402.8 655.9h.1M1399.9 658h.1M1397.7 657.9h.1M1400.5 658.8h.1M1401.1 658.7h.1M1401.4 654.6h.1M1400.9 657.8h.1M1396.3 656.9h.1M1398.2 660.6h.1M1396.3 659h.1M1400.5 657.9h.1M1397.2 658h.1M1399.7 658h.1" stroke="#f2ee80" stroke-width="8.8" stroke-linecap="round"/><path d="M1395.5 661.7h.1M1394.1 661.2h.1M1394.7 661h.1M1394.5 662.6h.1M1394.6 662.9h.1M1395.8 664.8h.1M1394.3 661.1h.1M1396.8 660.8h.1M1396.2 662.8h.1M1394.8 659.9h.1" stroke="#f2ee80" stroke-width="5.5" stroke-linecap="round"/><path d="M1389.9 621.8h.1M1388.1 618.6h.1M1390.5 619.2h.1M1390 620.2h.1M1388.7 622.5h.1M1390.5 622.5h.1M1391 620.6h.1M1389.8 619.7h.1M1391.1 617.3h.1M1391.4 621.1h.1" stroke="#e070e0" stroke-width="5.5" stroke-linecap="round"/><path d="M1405.7 661.5h.1M1403.2 660.3h.1M1404 661.6h.1M1402 663.6h.1M1403.4 659.9h.1M1403.7 661.8h.1M1405.2 662h.1M1401.5 659.8h.1M1404.2 661.5h.1M1402.8 661h.1" stroke="#e070e0" stroke-width="5.5" stroke-linecap="round"/><path d="M1379.2 620.5h.1M1380.1 622.2h.1M1382.4 621.2h.1M1380 622h.1M1380.5 623.1h.1M1377.8 623.1h.1M1380.6 622h.1M1378.2 619.7h.1M1380.9 619.4h.1M1380.3 622.2h.1" stroke="#ffffff" stroke-width="5.5" stroke-linecap="round"/>
<path d="M1317.8 591.2V689.1H1413.8" stroke="#e8e8e8" stroke-width="1.8" fill="none"/>
<rect x="1365.5" y="750.7" width="43.3" height="42.7" fill="none" stroke="#d8d8d8" stroke-width="1.5"/>
<clipPath id="fc5"><rect x="771.8" y="808.0" width="212.2" height="210.8"/></clipPath><filter id="fb5"><feGaussianBlur stdDeviation="0.5"/></filter><rect x="771.8" y="808.0" width="212.2" height="210.8" fill="#000"/><g clip-path="url(#fc5)"><g filter="url(#fb5)"><g transform="translate(771.8 808.0)"><filter id="tx6" x="0" y="0" width="1" height="1" color-interpolation-filters="sRGB"><feTurbulence type="fractalNoise" baseFrequency="0.5" numOctaves="1" seed="201"/><feColorMatrix type="matrix" values="0 0 0 0 0.314 0 0 0 0 0.000 0 0 0 0 0.000 1 0 0 0 0"/><feComponentTransfer result="l0"><feFuncA type="discrete" tableValues="0 0 0 0 0 0 0 0 0 0 0 0 0 0 0 0 0 0 0 0 0 0 0 0 0 0 0 0 0 0 0 0 0 0 0 0 0 0 0 0 0 1 1 1 1 1 1 1 1 1"/></feComponentTransfer><feMerge result="mg"><feMergeNode in="l0"/></feMerge><feGaussianBlur stdDeviation="0.4"/></filter><rect x="0" y="0" width="213" height="211" filter="url(#tx6)"/></g><g transform="translate(771.8 808.0)"><filter id="tx7" x="0" y="0" width="1" height="1" color-interpolation-filters="sRGB"><feTurbulence type="fractalNoise" baseFrequency="0.22" numOctaves="1" seed="211"/><feColorMatrix type="matrix" values="0 0 0 0 0.690 0 0 0 0 0.000 0 0 0 0 0.000 1 0 0 0 0"/><feComponentTransfer result="l0"><feFuncA type="discrete" tableValues="0 0 0 0 0 0 0 0 0 0 0 0 0 0 0 0 0 0 0 0 0 0 0 0 0 0 0 0 0 0 0 0 0 0 0 0 0 0 0 0 1 1 1 1 1 1 1 1 1 1"/></feComponentTransfer><feMerge result="mg"><feMergeNode in="l0"/></feMerge><feGaussianBlur stdDeviation="0.4"/></filter><rect x="0" y="0" width="213" height="211" filter="url(#tx7)"/></g><path d="M825.3 841.8h.1M825.5 842.1h.1M825.5 841.1h.1M825.6 841.6h.1M824.3 842.5h.1M825.6 840.9h.1" stroke="#f40000" stroke-width="3.3" stroke-linecap="round"/><path d="M866.6 847.1h.1M866.3 846.3h.1M866.6 847.1h.1M866.5 846.9h.1M867.2 846.6h.1" stroke="#f40000" stroke-width="2.8" stroke-linecap="round"/><path d="M854.8 870.5h.1M854.1 870.8h.1M853.9 871.1h.1M854.1 872.3h.1M854.8 871.5h.1" stroke="#ea0000" stroke-width="2.8" stroke-linecap="round"/><path d="M872.2 867.2h.1M872.5 867.6h.1M872.4 867.9h.1M872.5 868.4h.1" stroke="#ea0000" stroke-width="2.2" stroke-linecap="round"/><path d="M849.2 982.5h.1M849.6 982.2h.1M849.7 981.7h.1" stroke="#ea0000" stroke-width="1.7" stroke-linecap="round"/><path d="M790.2 905.6h.1M790.1 905.2h.1M789.6 904.5h.1" stroke="#ca0000" stroke-width="1.3" stroke-linecap="round"/><path d="M905 950.7h.1M905.2 950.4h.1M905 950h.1" stroke="#ca0000" stroke-width="1.3" stroke-linecap="round"/><path d="M940 990.3h.1M940.4 990.4h.1M940.1 990.6h.1" stroke="#ca0000" stroke-width="1.3" stroke-linecap="round"/><path d="M815 949.9h.1M815.2 949.8h.1M814.9 950.2h.1" stroke="#ca0000" stroke-width="1.2" stroke-linecap="round"/><path d="M880.2 930.1h.1M880.4 930h.1M879.8 930.4h.1" stroke="#ca0000" stroke-width="1.3" stroke-linecap="round"/></g></g>
<path d="M916.8 884.1h.1M916.8 884.1h.1M916.9 883.1h.1M916.1 883.6h.1M916.8 884.2h.1M916.1 882.9h.1" stroke="#f40000" stroke-width="3.3" stroke-linecap="round"/><path d="M921 842h.1M921.1 841.7h.1M921.3 841.9h.1" stroke="#ea0000" stroke-width="1.7" stroke-linecap="round"/><path d="M983.2 904.2h.1M982.9 903.6h.1M983.1 903.6h.1" stroke="#ea0000" stroke-width="1.7" stroke-linecap="round"/>
<path d="M886.3 808V904.9H984" stroke="#e8e8e8" stroke-width="1.8" fill="none"/>
<rect x="836.4" y="949.2" width="42" height="42.3" fill="none" stroke="#e0e0e0" stroke-width="1.5"/>
<clipPath id="fc6"><rect x="987.0" y="808.0" width="211.2" height="210.8"/></clipPath><filter id="fb6"><feGaussianBlur stdDeviation="0.5"/></filter><rect x="987.0" y="808.0" width="211.2" height="210.8" fill="#000"/><g clip-path="url(#fc6)"><g filter="url(#fb6)"><g transform="translate(987.0 808.0)"><filter id="tx8" x="0" y="0" width="1" height="1" color-interpolation-filters="sRGB"><feTurbulence type="fractalNoise" baseFrequency="0.45" numOctaves="1" seed="202"/><feColorMatrix type="matrix" values="0 0 0 0 0.039 0 0 0 0 0.471 0 0 0 0 0.039 1 0 0 0 0"/><feComponentTransfer result="l0"><feFuncA type="discrete" tableValues="0 0 0 0 0 0 0 0 0 0 0 0 0 0 0 0 0 0 0 0 0 0 0 0 0 0 0 0 0 0 0 0 0 0 0 0 0 0 1 1 1 1 1 1 1 1 1 1 1 1"/></feComponentTransfer><feMerge result="mg"><feMergeNode in="l0"/></feMerge><feGaussianBlur stdDeviation="0.4"/></filter><rect x="0" y="0" width="212" height="211" filter="url(#tx8)"/></g><g transform="translate(987.0 808.0)"><filter id="tx9" x="0" y="0" width="1" height="1" color-interpolation-filters="sRGB"><feTurbulence type="fractalNoise" baseFrequency="0.2" numOctaves="1" seed="212"/><feColorMatrix type="matrix" values="0 0 0 0 0.063 0 0 0 0 0.816 0 0 0 0 0.063 1 0 0 0 0"/><feComponentTransfer result="l0"><feFuncA type="discrete" tableValues="0 0 0 0 0 0 0 0 0 0 0 0 0 0 0 0 0 0 0 0 0 0 0 0 0 0 0 0 0 0 0 0 0 0 0 0 0 0 1 1 1 1 1 1 1 1 1 1 1 1"/></feComponentTransfer><feMerge result="mg"><feMergeNode in="l0"/></feMerge><feGaussianBlur stdDeviation="0.4"/></filter><rect x="0" y="0" width="212" height="211" filter="url(#tx9)"/></g><path d="M1040.1 841.5h.1M1040.6 841.6h.1M1041.3 842.7h.1M1041.4 841.5h.1M1040.1 842.2h.1M1041.8 842.1h.1" stroke="#00dd00" stroke-width="3.3" stroke-linecap="round"/><path d="M1079.8 846.3h.1M1081.5 846.6h.1M1081.1 846.5h.1M1081 846h.1M1080.3 847h.1" stroke="#00dd00" stroke-width="2.8" stroke-linecap="round"/><path d="M1068.6 871.4h.1M1069.7 871.1h.1M1069.6 870.9h.1M1070.6 870.6h.1M1069.9 871.1h.1" stroke="#00d400" stroke-width="2.8" stroke-linecap="round"/><path d="M1087.7 867.8h.1M1086.9 868.4h.1M1087.6 867.9h.1M1088.7 867.8h.1" stroke="#00d400" stroke-width="2.2" stroke-linecap="round"/><path d="M1064.7 982.3h.1M1064.3 983.3h.1M1065.2 982.9h.1" stroke="#00d400" stroke-width="1.7" stroke-linecap="round"/><path d="M1005.6 905.1h.1M1005 905.5h.1M1005.4 905.3h.1" stroke="#00b900" stroke-width="1.3" stroke-linecap="round"/><path d="M1120.2 950h.1M1120.2 949.6h.1M1120.2 949.7h.1" stroke="#00b900" stroke-width="1.3" stroke-linecap="round"/><path d="M1155.2 989.6h.1M1155.4 989.3h.1M1155.4 990.6h.1" stroke="#00b900" stroke-width="1.3" stroke-linecap="round"/><path d="M1029.9 949.6h.1M1030.3 950h.1M1030.5 949.8h.1" stroke="#00b900" stroke-width="1.2" stroke-linecap="round"/><path d="M1095.1 930.3h.1M1094.8 930.4h.1M1094.6 930.3h.1" stroke="#00b900" stroke-width="1.3" stroke-linecap="round"/><path d="M1124.4 882.6h.1M1124.8 882.8h.1M1124 881.5h.1M1125.3 883.2h.1M1126.1 882.5h.1" stroke="#00dd00" stroke-width="2.8" stroke-linecap="round"/><path d="M1159.5 842.8h.1M1160.1 842.4h.1M1159.2 842.8h.1M1159 843.8h.1" stroke="#00dd00" stroke-width="2.2" stroke-linecap="round"/><path d="M1140.1 929.9h.1M1140.5 929.5h.1M1140.1 930.3h.1" stroke="#00cb00" stroke-width="1.7" stroke-linecap="round"/><path d="M1050.4 974.6h.1M1050.5 975.6h.1M1050.2 974.4h.1" stroke="#00d400" stroke-width="1.7" stroke-linecap="round"/><path d="M1065.6 990.3h.1M1064.9 990h.1M1065 990h.1" stroke="#00d400" stroke-width="1.7" stroke-linecap="round"/><path d="M1009.7 929.4h.1M1009.9 929.9h.1M1009.9 930.6h.1" stroke="#00cb00" stroke-width="1.3" stroke-linecap="round"/></g></g>
<path d="M1147.1 855.9h.1M1147 854.9h.1M1147 854.8h.1M1146.8 854.9h.1" stroke="#00e600" stroke-width="2.4" stroke-linecap="round"/><path d="M1158.2 870.4h.1M1157.8 870.9h.1M1159 870.4h.1M1158.2 870.8h.1" stroke="#00e600" stroke-width="2.2" stroke-linecap="round"/><path d="M1122 875h.1M1121.8 874.8h.1M1122.4 875.2h.1M1121.8 875.1h.1M1120.8 875.4h.1" stroke="#00e600" stroke-width="2.8" stroke-linecap="round"/><path d="M1134.7 880.1h.1M1135.7 879.1h.1M1135.3 880.3h.1M1135.2 880.2h.1" stroke="#00dd00" stroke-width="2.2" stroke-linecap="round"/><path d="M1175.2 831.8h.1M1175 832.2h.1M1175.2 831.9h.1" stroke="#00d400" stroke-width="1.7" stroke-linecap="round"/>
<path d="M1102 808V904.9H1198.2" stroke="#e8e8e8" stroke-width="1.8" fill="none"/>
<rect x="1050.3" y="949.2" width="42.6" height="42.3" fill="none" stroke="#e0e0e0" stroke-width="1.5"/>
<clipPath id="fc7"><rect x="1202.1" y="808.0" width="211.7" height="210.8"/></clipPath><filter id="fb7"><feGaussianBlur stdDeviation="0.6"/></filter><rect x="1202.1" y="808.0" width="211.7" height="210.8" fill="#000"/><g clip-path="url(#fc7)"><g filter="url(#fb7)"><path d="M1253.5 983.5l1.3 0.9M1314 983.5l0.5 0.2M1293.3 898l0.4 2M1357.7 939.3l0.1 0.1M1291.8 885l-0.1 0M1373.3 956l-1.2 0.2M1390.7 982l0.6 0.2M1274.4 853.7l-1.9 0M1269.9 862.2l1.2 0.6M1244.2 835l-1.2 0.1M1264.5 831.9l-0.5 0.3M1417.3 956.8l0 0.4M1408.8 910.2l-0.1 0.6M1414.2 1017.5l1.3 0.5" stroke="#1238e6" stroke-width="6" stroke-linecap="round"/><path d="M1246.8 978.9l-0.5 0.3M1269.4 975l-0.7 0.4M1286.6 985.4l-0.8 0.3M1304.2 991.8l1.3 0.5M1322.1 980.3l-0.4 0M1227.5 949.2l-2.3 0.8M1298.9 949.1l0 1.2M1240.1 934.1l0.8 1.9M1327.9 971.7l1.6 0.3M1311.7 945.2l2.5 0.3M1345.3 985.9l1.4 0.3M1343.9 964.5l1.3 0.5M1200.3 994.3l-0.1 0.1M1277.5 915.1l1 1.8M1269.8 914.6l0.4 0.3M1243.9 918.5l-0.2 0.2M1206.7 1016.2l-2.2 0M1356.6 1017.6l-0.8 0.9M1352.3 926.5l-0.3 0.1M1355 948l0.4 0.2M1367.5 948.5l0.4 0.4M1356.4 910.4l0.4 0.3M1204.2 892.2l-0 0M1386.9 967.9l0.1 0.2M1414.7 965.9l-1.4 0.3M1276.7 816.8l-0.1 0.1M1201.9 828l-2.3 0.4M1244.5 816.8l1.4 0.3" stroke="#0c2cc8" stroke-width="7" stroke-linecap="round"/><path d="M1261.1 987l-0.2 0.1M1289.6 1008.9l-0.6 0.8M1252.1 943l0.9 0.4M1266 1010.6l0 0.1M1251.4 952.3l1.1 1M1273.4 933l0 0.1M1232 923.8l1.2 1M1334.9 1019.6l-0.8 0.6M1308.4 932.9l-0.2 0.4M1350.6 998.9l-0.6 0.9M1331.1 943.9l-0.2 0.3M1246 895.8l-0.3 0.1M1219.1 916.2l-2.1 0.9M1383.5 978.5l1.2 0.7M1203.1 883.6l-0.8 0.2M1237.5 850.5l0.9 1.1M1259.9 839.5l-0.8 0.7M1394.2 1017.1l-2 0.6M1392.9 1006.3l-2.2 0.4M1398.1 1000.8l-0 0.1M1202.1 836.9l1 1.5M1263.5 808l-0.3 0.1" stroke="#1238e6" stroke-width="7" stroke-linecap="round"/><path d="M1245.9 994.1l1.9 1.4M1234.8 959.9l0.9 0.6M1233.4 1014.6l-1.3 1.4M1266.6 932.7l-1.3 0.2M1211.5 983.1l-2.6 1M1317.2 927.9l0.2 0.6M1199.4 959.8l-0.3 0.9M1372.8 1005.9l-0.3 0.6M1212.4 895l0 1.6M1248.7 886.1l-0.6 0.1M1296.9 872.4l-2 1.8M1208.5 909.5l-0.7 0.8M1259.2 870.6l-1.4 0.5M1387.6 997.8l1.9 2.1M1225.7 856.2l-1.1 0.3M1406.5 920.9l0.2 0.1M1219.7 891.5l0.4 0.3" stroke="#1238e6" stroke-width="9" stroke-linecap="round"/><path d="M1291.1 977.8l-0.1 2M1289.6 1018.7l-0.2 0M1313 1003.8l1.9 0.7M1324.7 1017.6l-1.9 1.3M1257.6 931.9l1.3 1M1314.6 937.5l1.2 1.2M1323.9 928.6l1.5 1.8M1264.1 902.6l-0.5 0.1M1207.9 936l0.6 0.9M1224.2 927.2l-0.9 0.6M1379.6 1000.8l-0.5 0.5M1217.8 882.5l1.6 1.5M1257.1 825.3l1.1 1M1235.7 824.4l-0.6 0" stroke="#0a20a0" stroke-width="8" stroke-linecap="round"/><path d="M1281.9 993.9l-0.5 2M1258.4 1004.1l-1.7 0.6M1283 963.1l1.8 1.1M1261.7 974.5l-0.4 0.8M1271.8 940.6l-0.8 0.7M1289.1 932.6l-0.7 0.3M1323.5 954l-0.5 0.7M1362 966.4l-0.2 1M1289.6 905l-1.6 0.9M1367 1021.1l0.2 0.5M1385.8 989.7l-0.5 1.2M1263.2 849.1l2 0.8M1401 932.3l-0.4 0.3M1238.9 841l-0.9 0.9M1375 917l-0 0M1228.2 821.2l0.1 0.6M1207.2 832.1l2.4 0.3" stroke="#0c2cc8" stroke-width="8" stroke-linecap="round"/><path d="M1265.7 995.7l-0.6 0.1M1275.1 958.7l-0.1 0.3M1294.3 969.9l-0.5 0.7M1243.8 944.3l-0.1 0.2M1311.8 956.2l-0.6 0.9M1253.8 921.1l-0.2 0.9M1262.6 914.3l-1.1 0M1310.2 997.1l-0.5 1.4M1323.5 944.4l-1.3 0.1M1218.4 935.4l0.8 1.7M1216.9 944.2l-1.3 0.3M1362.1 1010.8l-0.8 0.9M1350.6 933.9l-0.6 0.4M1269.7 884.1l-0.7 1.7M1305.4 883.4l-0.2 0.1M1414.1 983.5l-0.7 0.2M1275.7 844l2 0.3M1400.8 907l0.3 1M1219.4 850.8l0.4 0.2" stroke="#0c2cc8" stroke-width="6" stroke-linecap="round"/><path d="M1230.9 977.9l1.6 0.7M1230.4 938.5l2.1 0.2M1253.6 1021.7l-0.8 1.4M1298.6 880l-0.8 0.9M1255.2 814.3l-1.9 1.7" stroke="#071470" stroke-width="9" stroke-linecap="round"/><path d="M1269.1 947.7l-0.3 0.5M1203.5 945.9l-2.4 0.1M1254.8 833.3l-0 1.5M1250.1 823.1l-0.8 0.2" stroke="#071470" stroke-width="7" stroke-linecap="round"/><path d="M1227.8 966.5l0.9 0.4M1292.4 990.4l0.3 0.1M1264.5 961.8l0.2 0.5M1263.6 940.4l-0.9 2.7M1245.7 1004.1l0.1 0.1M1307.3 950l0.2 0.4M1279.9 1022.1l0 0.2M1329.9 961.8l-1.4 1.8M1298 911.6l-0.3 0.7M1348 944.7l0.3 0.4M1307.1 901.5l1 0.1M1381.5 942.8l0.7 0.5M1251.9 856.7l-0.9 0.5M1220.2 863.9l-0.5 1.4M1399.2 1011.5l0.8 1.8M1274.2 829.3l0.1 1.4" stroke="#0c2cc8" stroke-width="9" stroke-linecap="round"/><path d="M1315.8 990.2l-1.2 2.1M1280.8 1014.1l1.6 0M1241.2 1018.5l0.6 0.4M1234.6 904l-0.7 1.9M1299.2 887.8l0.5 0.6M1396.6 975.9l0 0.2M1287.1 846.9l2.8 0.5M1390.1 945l0 0.4M1198.8 863.1l2.2 0.8" stroke="#071470" stroke-width="8" stroke-linecap="round"/><path d="M1271.5 965.7l0.9 0M1248.7 1015.1l1.2 0.5M1294.5 938l0.9 1.1M1335.7 986.7l0.8 1M1346 1019.7l1.3 0.4M1333.3 933.4l-2.2 0.8M1332 917.6l0.6 0.6M1272.3 905.1l0.1 2.1M1305.6 891.4l1.6 0.2M1380.9 935.4l0 0M1312.1 883.6l1.3 0.1M1395.7 990.8l-0.3 0.8M1209 881.4l2.2 1M1400.3 914.5l-0.7 1.4M1243.4 826.7l-1.5 0.9M1212.5 824.3l0.1 1.1" stroke="#0a20a0" stroke-width="7" stroke-linecap="round"/><path d="M1334.7 1009.6l-1.6 1.3M1246.3 927.3l-0.9 0M1221.9 1015.8l1.2 0.2M1260.4 923.8l1.9 1.4M1323.8 991.5l1.3 2.5M1200.6 983.1l0.6 1.6M1306.7 979.4l0.6 2.2M1200.7 974.2l0.6 0.4M1317.2 961.5l1.4 0.7M1338.2 958l0.4 0.6M1337.7 939.4l-0.4 0.8M1276.2 880.2l0 0.1M1381.9 916.8l1 0.8M1392.1 907.4l-0.3 0.5M1300 896.4l2.1 1.6M1383.9 924.7l0.5 1.1M1228.6 862.9l0.6 1.6M1283.9 884.7l-1.2 1.6M1209.1 847.3l1.4 0.5M1221.2 840l-1 2.3M1236.9 813.5l-0.6 0.6M1402.6 1019.1l1.4 0" stroke="#1238e6" stroke-width="8" stroke-linecap="round"/><path d="M1215.3 1002.3l1 1.8M1219.1 994.6l0.2 0.3M1333.1 977.8l-0.2 0.2M1349.2 1009.8l-1 0.9M1342 922.8l-0.6 1.4M1321.5 914.2l0.2 0.6M1288.8 869l-0.4 0.4M1278.4 863.4l2 1.5M1248.7 807.5l0.8 0.8" stroke="#0a20a0" stroke-width="9" stroke-linecap="round"/><path d="M1272 923.5l-0.1 0.1M1212.3 929.2l1.7 1.4M1202.5 928.6l-1.7 0.6M1236.4 917.7l-0.4 0.3M1350.7 968.2l1 1.5M1209.2 919.7l0.7 2M1201.4 916.9l0.1 0.9M1247.2 844.7l1 0.1M1218.5 900.1l0.2 0.2M1415.7 905.5l-1.8 1.3M1300.8 814.9l1 0.9M1292.9 805.6l-1.6 0.9M1271 803.9l0.3 0.3" stroke="#0a20a0" stroke-width="6" stroke-linecap="round"/><path d="M1346 917.4l1.4 1M1357.6 917l0.5 1.8" stroke="#071470" stroke-width="6" stroke-linecap="round"/><g transform="translate(1202.1 808.0)"><filter id="tx10" x="0" y="0" width="1" height="1" color-interpolation-filters="sRGB"><feTurbulence type="fractalNoise" baseFrequency="0.45" numOctaves="1" seed="203"/><feColorMatrix type="matrix" values="0 0 0 0 0.063 0 0 0 0 0.690 0 0 0 0 0.063 1 0 0 0 0"/><feComponentTransfer result="l0"><feFuncA type="discrete" tableValues="0 0 0 0 0 0 0 0 0 0 0 0 0 0 0 0 0 0 0 0 0 0 0 0 0 0 0 0 0 0 0 0 0 0 0 0 0 0 0 1 1 1 1 1 1 1 1 1 1 1"/></feComponentTransfer><feMerge result="mg"><feMergeNode in="l0"/></feMerge><feGaussianBlur stdDeviation="0.4"/></filter><rect x="0" y="0" width="212" height="211" filter="url(#tx10)"/></g><g transform="translate(1202.1 808.0)"><filter id="tx11" x="0" y="0" width="1" height="1" color-interpolation-filters="sRGB"><feTurbulence type="fractalNoise" baseFrequency="0.3" numOctaves="1" seed="204"/><feColorMatrix type="matrix" values="0 0 0 0 0.753 0 0 0 0 0.690 0 0 0 0 0.125 1 0 0 0 0"/><feComponentTransfer result="l0"><feFuncA type="discrete" tableValues="0 0 0 0 0 0 0 0 0 0 0 0 0 0 0 0 0 0 0 0 0 0 0 0 0 0 0 0 0 0 0 0 0 0 0 0 0 0 0 0 0 0 0 1 1 1 1 1 1 1"/></feComponentTransfer><feMerge result="mg"><feMergeNode in="l0"/></feMerge><feGaussianBlur stdDeviation="0.4"/></filter><rect x="0" y="0" width="212" height="211" filter="url(#tx11)"/></g><path d="M1256 841.1h.1M1254.4 840.7h.1M1255.2 842h.1M1255.5 841.6h.1M1255.3 841.5h.1M1254.3 841.2h.1" stroke="#f0e870" stroke-width="3.3" stroke-linecap="round"/><path d="M1297 847.5h.1M1296.2 847.5h.1M1295.6 846.9h.1M1297.7 846.8h.1M1296.4 846.4h.1" stroke="#f0e870" stroke-width="2.8" stroke-linecap="round"/><path d="M1285.2 870.7h.1M1285.8 871.6h.1M1284.7 870.5h.1M1284.8 870.9h.1M1284.1 870.4h.1" stroke="#f0e870" stroke-width="2.8" stroke-linecap="round"/><path d="M1302.9 867.8h.1M1302.8 867.5h.1M1302.8 866.7h.1M1302.4 868.7h.1" stroke="#f0e870" stroke-width="2.2" stroke-linecap="round"/></g></g>
<rect x="1315.3" y="808.0" width="98.5" height="96.9" fill="#000"/><filter id="fb8"><feGaussianBlur stdDeviation="1.2"/></filter><g filter="url(#fb8)"><ellipse cx="1325" cy="820" rx="7" ry="8" fill="#0a26b8"/><ellipse cx="1352" cy="815" rx="8" ry="7" fill="#0a22a8"/><ellipse cx="1392" cy="822" rx="8" ry="9" fill="#0a26b8"/><ellipse cx="1336" cy="848" rx="9" ry="8" fill="#0a22a8"/><ellipse cx="1369" cy="846" rx="8" ry="10" fill="#0c2cc8"/><ellipse cx="1404" cy="850" rx="6" ry="8" fill="#081a90"/><ellipse cx="1328" cy="878" rx="7" ry="8" fill="#0a26b8"/><ellipse cx="1352" cy="884" rx="8" ry="9" fill="#0c2cc8"/><ellipse cx="1385" cy="880" rx="9" ry="8" fill="#0a22a8"/><ellipse cx="1318" cy="900" rx="5" ry="4" fill="#081a90"/><ellipse cx="1408" cy="895" rx="5" ry="6" fill="#081a90"/><ellipse cx="1372" cy="866" rx="6" ry="6" fill="#0a22a8"/></g><path d="M1346 866.3h.1M1346.7 865.8h.1M1346.2 865.7h.1M1345.8 866h.1" stroke="#30e030" stroke-width="2.4" stroke-linecap="round"/><path d="M1376 875h.1M1375.8 874.4h.1M1375.6 874.9h.1M1376 875h.1" stroke="#30e030" stroke-width="2.2" stroke-linecap="round"/><path d="M1365.1 845.1h.1M1365.1 845h.1M1365.1 845h.1" stroke="#30e030" stroke-width="1.8" stroke-linecap="round"/><path d="M1381 839.5h.1M1381.5 840.5h.1M1380.6 839.6h.1" stroke="#30e030" stroke-width="1.7" stroke-linecap="round"/><path d="M1361.8 870.2h.1M1362.2 869.8h.1M1362 870.1h.1M1361.5 869.8h.1" stroke="#f0e870" stroke-width="2.2" stroke-linecap="round"/>
<path d="M1315.3 808V904.9H1413.8" stroke="#e8e8e8" stroke-width="1.8" fill="none"/>
<rect x="1264.4" y="949.2" width="42" height="42.3" fill="none" stroke="#e0e0e0" stroke-width="1.5"/>
<text x="991.4" y="29" font-size="38.6" font-weight="bold" stroke="#000" stroke-width="1.3">c</text>
<text x="-0.6" y="568.3" font-size="38.6" font-weight="bold" stroke="#000" stroke-width="1.3">f</text>
<text x="732.9" y="568.4" font-size="38.6" font-weight="bold" stroke="#000" stroke-width="1.3">h</text>
<text transform="rotate(-90 1014 177)"><tspan x="1014" y="177" font-size="28" font-style="italic" textLength="56.3" lengthAdjust="spacingAndGlyphs">Xkr8</tspan><tspan x="1072.4" y="165" font-size="18.5" font-style="italic" textLength="28" lengthAdjust="spacingAndGlyphs">fl/fl</tspan></text>
<text transform="rotate(-90 1014 444.8)"><tspan x="1014" y="444.8" font-size="28" font-style="italic" textLength="56.3" lengthAdjust="spacingAndGlyphs">Xkr8</tspan><tspan x="1072.4" y="432.8" font-size="18.5" font-style="italic" textLength="28" lengthAdjust="spacingAndGlyphs">fl/fl</tspan><tspan x="1102.1" y="444.8" font-size="28" font-style="italic" textLength="60.5" lengthAdjust="spacingAndGlyphs">Ly6g</tspan><tspan x="1163.9" y="432.8" font-size="18.5" font-style="italic" textLength="27" lengthAdjust="spacingAndGlyphs">cre</tspan></text>
<text transform="rotate(-90 53.1 719.8)"><tspan x="53.1" y="719.8" font-size="28" font-style="italic" textLength="56.3" lengthAdjust="spacingAndGlyphs">Xkr8</tspan><tspan x="111.5" y="707.8" font-size="18.5" font-style="italic" textLength="28" lengthAdjust="spacingAndGlyphs">fl/fl</tspan></text>
<text transform="rotate(-90 53.1 981.9)"><tspan x="53.1" y="981.9" font-size="28" font-style="italic" textLength="56.3" lengthAdjust="spacingAndGlyphs">Xkr8</tspan><tspan x="111.5" y="969.9" font-size="18.5" font-style="italic" textLength="28" lengthAdjust="spacingAndGlyphs">fl/fl</tspan><tspan x="141.2" y="981.9" font-size="28" font-style="italic" textLength="60.5" lengthAdjust="spacingAndGlyphs">Ly6g</tspan><tspan x="203" y="969.9" font-size="18.5" font-style="italic" textLength="27" lengthAdjust="spacingAndGlyphs">cre</tspan></text>
<text transform="rotate(-90 756.7 738.8)"><tspan x="756.7" y="738.8" font-size="28" font-style="italic" textLength="56.3" lengthAdjust="spacingAndGlyphs">Xkr8</tspan><tspan x="815.1" y="726.8" font-size="18.5" font-style="italic" textLength="28" lengthAdjust="spacingAndGlyphs">fl/fl</tspan></text>
<text transform="rotate(-90 756.7 1005.5)"><tspan x="756.7" y="1005.5" font-size="28" font-style="italic" textLength="56.3" lengthAdjust="spacingAndGlyphs">Xkr8</tspan><tspan x="815.1" y="993.5" font-size="18.5" font-style="italic" textLength="28" lengthAdjust="spacingAndGlyphs">fl/fl</tspan><tspan x="844.8" y="1005.5" font-size="28" font-style="italic" textLength="60.5" lengthAdjust="spacingAndGlyphs">Ly6g</tspan><tspan x="906.6" y="993.5" font-size="18.5" font-style="italic" textLength="27" lengthAdjust="spacingAndGlyphs">cre</tspan></text>
<text x="836.1" y="571.9" font-size="27" fill="#ff1414" textLength="80.1" lengthAdjust="spacingAndGlyphs">Cit-H3</text>
<text x="1056.4" y="571.9" font-size="27" fill="#6cbf50" textLength="58.8" lengthAdjust="spacingAndGlyphs">MPO</text>
<text x="1273.1" y="571.9" font-size="27" textLength="79.5" lengthAdjust="spacingAndGlyphs">Merge</text></svg></body></html>
